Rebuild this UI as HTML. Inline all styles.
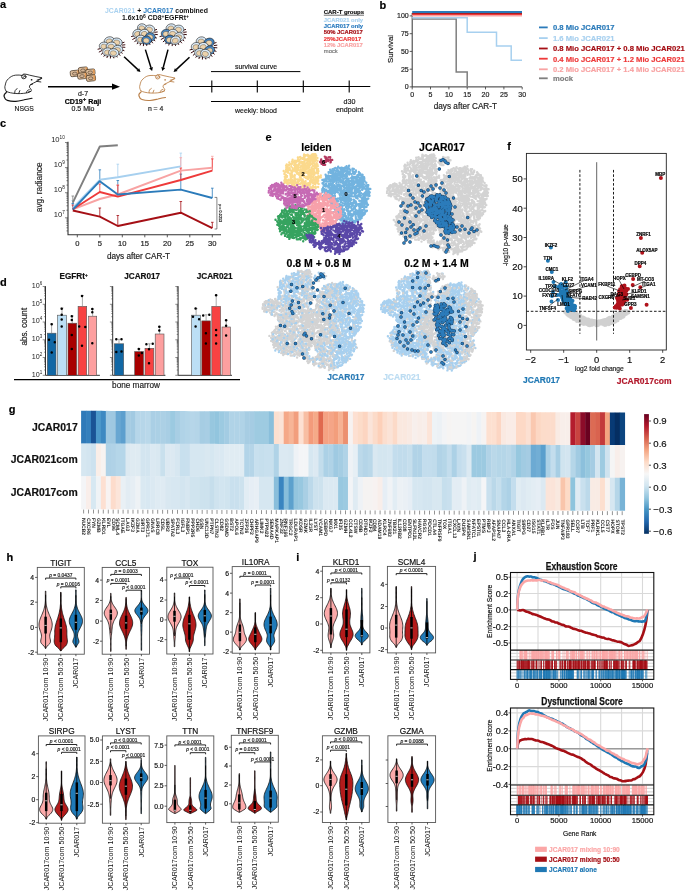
<!DOCTYPE html>
<html><head><meta charset="utf-8"><title>Figure</title>
<style>
html,body{margin:0;padding:0;background:#fff;width:685px;height:891px;overflow:hidden}
svg{display:block;will-change:transform}
text{font-family:"Liberation Sans",sans-serif}
</style></head><body>
<svg width="685" height="891" viewBox="0 0 685 891" font-family="Liberation Sans, sans-serif">
<rect width="685" height="891" fill="#fff"/>
<text x="0.0" y="7.5" font-size="11" font-weight="bold" stroke="#000" stroke-width="0.18" >a</text><g transform="translate(2.4,70.2) scale(1.05)" fill="none" stroke="#111" stroke-width="0.8" stroke-linecap="round" stroke-linejoin="round"><path d="M3.7,20.2 C2.2,18 2.0,16 2.7,14.2 C3.2,11.5 4.0,9.5 5.7,8.2 C7.6,6.2 10,4.9 12.7,4.7 C15,4.5 17,4.6 18.7,5.0 C19.3,4.0 20.2,3.6 21.2,3.7 C22.8,3.8 24.2,4.2 25.7,4.7 C30,5.8 34,6.4 37.7,7.2 C36,8.5 34.5,9.8 32.7,10.7 C30.5,11.8 28.5,12.8 26.7,13.7 C26.0,14.5 25.6,15.3 25.7,16.2 C26.5,17.2 27.5,18.2 27.7,19.2 C26.5,20.8 24.5,21.5 22.7,21.7 C19,22.3 15.5,22.4 12.7,22.2 C9,21.9 6,21.3 3.7,20.2 Z" fill="#fff"/><path d="M3.7,21.2 C2,22.5 1.2,24 1.7,25.2 C2.3,27.3 3.3,28.4 4.7,28.7 C7,29.5 10,29.9 12.7,29.7 C15.5,29.5 18,28.8 20.7,28.2 C23.5,27.5 26,27 28.2,26.7" stroke-width="1.1"/><ellipse cx="20.4" cy="6.3" rx="2.1" ry="1.9"/><path d="M19.6,7.2 C19.8,6.2 20.6,5.6 21.4,6"/><circle cx="27.8" cy="9.1" r="0.8" fill="#111" stroke="none"/><path d="M33,9.4 L37.5,7.9 M32.6,10.6 L36.6,11.2 M22.8,21.4 C23.2,19.6 24.2,18.6 25.6,18.6 M24.6,20.8 L27.2,20.2 M11.8,22 C11.4,20 12.4,18.2 14,17.6 M15.6,22 L16.6,19.4 M26.8,14 L28.8,13.2"/></g><text x="24.2" y="110.6" font-size="6.8" text-anchor="middle" fill="#222" stroke="#222" stroke-width="0.18" >NSGS</text><g transform="translate(74.9,73.4) rotate(-6)"><rect x="-4.6" y="-3" width="9.2" height="6" rx="1.6" fill="#dcbc9a" stroke="#2a1a0a" stroke-width="0.6"/><path d="M2.6,-2.7 H3.5 Q4.3,-2.7 4.3,-1.5 V1.5 Q4.3,2.7 3.5,2.7 H2.8" fill="#e39a55" stroke="none"/><ellipse cx="-0.2" cy="0.2" rx="2.3" ry="1.5" fill="#d2b496" stroke="#2a1a0a" stroke-width="0.45"/></g><g transform="translate(83.1,70.2) rotate(-6)"><rect x="-4.6" y="-3" width="9.2" height="6" rx="1.6" fill="#dcbc9a" stroke="#2a1a0a" stroke-width="0.6"/><path d="M2.6,-2.7 H3.5 Q4.3,-2.7 4.3,-1.5 V1.5 Q4.3,2.7 3.5,2.7 H2.8" fill="#e39a55" stroke="none"/><ellipse cx="-0.2" cy="0.2" rx="2.3" ry="1.5" fill="#d2b496" stroke="#2a1a0a" stroke-width="0.45"/></g><g transform="translate(90.4,72.2) rotate(-6)"><rect x="-4.6" y="-3" width="9.2" height="6" rx="1.6" fill="#dcbc9a" stroke="#2a1a0a" stroke-width="0.6"/><path d="M2.6,-2.7 H3.5 Q4.3,-2.7 4.3,-1.5 V1.5 Q4.3,2.7 3.5,2.7 H2.8" fill="#e39a55" stroke="none"/><ellipse cx="-0.2" cy="0.2" rx="2.3" ry="1.5" fill="#d2b496" stroke="#2a1a0a" stroke-width="0.45"/></g><g transform="translate(82.2,75.9) rotate(-6)"><rect x="-4.6" y="-3" width="9.2" height="6" rx="1.6" fill="#dcbc9a" stroke="#2a1a0a" stroke-width="0.6"/><path d="M2.6,-2.7 H3.5 Q4.3,-2.7 4.3,-1.5 V1.5 Q4.3,2.7 3.5,2.7 H2.8" fill="#e39a55" stroke="none"/><ellipse cx="-0.2" cy="0.2" rx="2.3" ry="1.5" fill="#d2b496" stroke="#2a1a0a" stroke-width="0.45"/></g><g transform="translate(90.9,78.1) rotate(-6)"><rect x="-4.6" y="-3" width="9.2" height="6" rx="1.6" fill="#dcbc9a" stroke="#2a1a0a" stroke-width="0.6"/><path d="M2.6,-2.7 H3.5 Q4.3,-2.7 4.3,-1.5 V1.5 Q4.3,2.7 3.5,2.7 H2.8" fill="#e39a55" stroke="none"/><ellipse cx="-0.2" cy="0.2" rx="2.3" ry="1.5" fill="#d2b496" stroke="#2a1a0a" stroke-width="0.45"/></g><path d="M48,86.7 L115,86.7" stroke="#000" stroke-width="1.6"/><path d="M120,86.7 L112,83.6 L112,89.8 Z" fill="#000"/><text x="83.0" y="96.0" font-size="7.0" text-anchor="middle" fill="#222" stroke="#222" stroke-width="0.18" >d-7</text><text x="83.0" y="103.6" font-size="7.1" font-weight="bold" text-anchor="middle" stroke="#000" stroke-width="0.18" >CD19<tspan dy="-2.8" font-size="6">+</tspan><tspan dy="2.8"> Raji</tspan></text><text x="83.0" y="110.6" font-size="7.0" text-anchor="middle" fill="#222" stroke="#222" stroke-width="0.18" >0.5 Mio</text><text x="105" y="12.7" font-size="6.9" font-weight="bold" fill="#a9d2f0">JCAR021 <tspan fill="#111">+</tspan> <tspan fill="#2a7bbf">JCAR017</tspan> <tspan fill="#111">combined</tspan></text><text x="122" y="20.4" font-size="6.9" font-weight="bold" fill="#111">1.6x10<tspan dy="-2.6" font-size="5">6</tspan><tspan dy="2.6"> CD8</tspan><tspan dy="-2.6" font-size="5">+</tspan><tspan dy="2.6">EGFRt</tspan><tspan dy="-2.6" font-size="5">+</tspan></text><path d="M121.3,49.6L124.0,50.6M120.0,51.6L122.3,53.2M118.1,53.2L120.0,55.4M115.8,54.4L117.1,57.0M113.3,55.1L113.8,57.9M110.6,55.3L110.4,58.1M107.9,54.8L107.0,57.6M105.5,53.9L103.9,56.3M103.4,52.4L101.2,54.4M101.8,50.6L99.2,52.0M100.8,48.5L98.0,49.2M121.6,43.1L124.1,42.3M122.2,45.1L124.9,44.8M122.2,47.1L124.9,47.3" stroke="#3a0c10" stroke-width="1.0" stroke-linecap="round"/><g transform="translate(109.28999999999999,40.92) rotate(-14.625430235503952)"><ellipse rx="5.145" ry="4.1000000000000005" fill="#dcecf9" stroke="#1a1a1a" stroke-width="0.55"/><ellipse cx="-0.3" cy="0.4" rx="3.19" ry="2.46" fill="#ecd2ab" stroke="#333" stroke-width="0.35"/></g><g transform="translate(117.13,42.15) rotate(13.897349477489307)"><ellipse rx="5.145" ry="4.1000000000000005" fill="#d4e8f7" stroke="#1a1a1a" stroke-width="0.55"/><ellipse cx="-0.3" cy="0.4" rx="3.19" ry="2.46" fill="#ecd2ab" stroke="#333" stroke-width="0.35"/></g><g transform="translate(104.39,46.25) rotate(10.550984759064562)"><ellipse rx="5.145" ry="4.1000000000000005" fill="#e0eefa" stroke="#1a1a1a" stroke-width="0.55"/><ellipse cx="-0.3" cy="0.4" rx="3.19" ry="2.46" fill="#ecd2ab" stroke="#333" stroke-width="0.35"/></g><g transform="translate(111.25,46.25) rotate(-9.797238970423132)"><ellipse rx="5.145" ry="4.1000000000000005" fill="#dcecf9" stroke="#1a1a1a" stroke-width="0.55"/><ellipse cx="-0.3" cy="0.4" rx="3.19" ry="2.46" fill="#ecd2ab" stroke="#333" stroke-width="0.35"/></g><g transform="translate(117.62,49.53) rotate(-0.18259651632236285)"><ellipse rx="5.145" ry="4.1000000000000005" fill="#d4e8f7" stroke="#1a1a1a" stroke-width="0.55"/><ellipse cx="-0.3" cy="0.4" rx="3.19" ry="2.46" fill="#ecd2ab" stroke="#333" stroke-width="0.35"/></g><g transform="translate(107.82,51.99) rotate(-2.020357408450476)"><ellipse rx="5.145" ry="4.1000000000000005" fill="#e0eefa" stroke="#1a1a1a" stroke-width="0.55"/><ellipse cx="-0.3" cy="0.4" rx="3.19" ry="2.46" fill="#ecd2ab" stroke="#333" stroke-width="0.35"/></g><g transform="translate(113.7,52.81) rotate(6.063718908910516)"><ellipse rx="5.145" ry="4.1000000000000005" fill="#dcecf9" stroke="#1a1a1a" stroke-width="0.55"/><ellipse cx="-0.3" cy="0.4" rx="3.19" ry="2.46" fill="#ecd2ab" stroke="#333" stroke-width="0.35"/></g><path d="M153.9,36.9L156.5,38.0M152.6,38.9L154.9,40.7M150.8,40.6L152.6,42.9M148.7,41.9L149.9,44.5M146.2,42.6L146.7,45.5M143.6,42.7L143.4,45.7M141.1,42.3L140.2,45.1M138.7,41.3L137.2,43.8M136.7,39.8L134.7,41.8M135.2,38.0L132.7,39.4M134.2,35.8L131.5,36.5M154.2,30.3L156.6,29.5M154.7,32.3L157.3,32.0M154.8,34.3L157.4,34.6" stroke="#3a0c10" stroke-width="1.0" stroke-linecap="round"/><g transform="translate(142.37,28.04) rotate(18.241370875569977)"><ellipse rx="4.935" ry="4.2" fill="#dcecf9" stroke="#1a1a1a" stroke-width="0.55"/><ellipse cx="-0.3" cy="0.4" rx="3.06" ry="2.52" fill="#ecd2ab" stroke="#333" stroke-width="0.35"/></g><g transform="translate(149.89,29.3) rotate(17.913099482373973)"><ellipse rx="4.935" ry="4.2" fill="#dcecf9" stroke="#1a1a1a" stroke-width="0.55"/><ellipse cx="-0.3" cy="0.4" rx="3.06" ry="2.52" fill="#ecd2ab" stroke="#333" stroke-width="0.35"/></g><g transform="translate(137.67,33.5) rotate(-17.73794529092765)"><ellipse rx="4.935" ry="4.2" fill="#d4e8f7" stroke="#1a1a1a" stroke-width="0.55"/><ellipse cx="-0.3" cy="0.4" rx="3.06" ry="2.52" fill="#ecd2ab" stroke="#333" stroke-width="0.35"/></g><g transform="translate(144.25,33.5) rotate(-16.605120193643135)"><ellipse rx="4.935" ry="4.2" fill="#dcecf9" stroke="#1a1a1a" stroke-width="0.55"/><ellipse cx="-0.3" cy="0.4" rx="3.06" ry="2.52" fill="#ecd2ab" stroke="#333" stroke-width="0.35"/></g><g transform="translate(150.36,36.86) rotate(13.419955125177985)"><ellipse rx="4.935" ry="4.2" fill="#4a8ac6" stroke="#1a1a1a" stroke-width="0.55"/><ellipse cx="-0.3" cy="0.4" rx="3.06" ry="2.52" fill="#ecd2ab" stroke="#333" stroke-width="0.35"/></g><g transform="translate(140.96,39.379999999999995) rotate(9.438799562740932)"><ellipse rx="4.935" ry="4.2" fill="#e0eefa" stroke="#1a1a1a" stroke-width="0.55"/><ellipse cx="-0.3" cy="0.4" rx="3.06" ry="2.52" fill="#ecd2ab" stroke="#333" stroke-width="0.35"/></g><g transform="translate(146.6,40.22) rotate(6.7892160576088365)"><ellipse rx="4.935" ry="4.2" fill="#3f82c2" stroke="#1a1a1a" stroke-width="0.55"/><ellipse cx="-0.3" cy="0.4" rx="3.06" ry="2.52" fill="#ecd2ab" stroke="#333" stroke-width="0.35"/></g><path d="M182.8,36.9L185.5,38.0M181.5,38.9L183.9,40.7M179.7,40.6L181.6,42.9M177.5,41.9L178.7,44.5M175.0,42.6L175.5,45.5M172.3,42.7L172.2,45.7M169.7,42.3L168.8,45.1M167.3,41.3L165.8,43.8M165.3,39.8L163.2,41.8M163.7,38.0L161.2,39.4M162.8,35.8L160.0,36.5M183.1,30.3L185.6,29.5M183.7,32.3L186.3,32.0M183.8,34.3L186.4,34.6" stroke="#3a0c10" stroke-width="1.0" stroke-linecap="round"/><g transform="translate(171.08,28.04) rotate(-10.481414916324345)"><ellipse rx="5.04" ry="4.2" fill="#dcecf9" stroke="#1a1a1a" stroke-width="0.55"/><ellipse cx="-0.3" cy="0.4" rx="3.12" ry="2.52" fill="#ecd2ab" stroke="#333" stroke-width="0.35"/></g><g transform="translate(178.76,29.3) rotate(1.7691690118380734)"><ellipse rx="5.04" ry="4.2" fill="#d4e8f7" stroke="#1a1a1a" stroke-width="0.55"/><ellipse cx="-0.3" cy="0.4" rx="3.12" ry="2.52" fill="#ecd2ab" stroke="#333" stroke-width="0.35"/></g><g transform="translate(166.28,33.5) rotate(-5.201793338076829)"><ellipse rx="5.04" ry="4.2" fill="#4a8ac6" stroke="#1a1a1a" stroke-width="0.55"/><ellipse cx="-0.3" cy="0.4" rx="3.12" ry="2.52" fill="#ecd2ab" stroke="#333" stroke-width="0.35"/></g><g transform="translate(173.0,33.5) rotate(4.156801543847777)"><ellipse rx="5.04" ry="4.2" fill="#dcecf9" stroke="#1a1a1a" stroke-width="0.55"/><ellipse cx="-0.3" cy="0.4" rx="3.12" ry="2.52" fill="#ecd2ab" stroke="#333" stroke-width="0.35"/></g><g transform="translate(179.24,36.86) rotate(5.0288121643221615)"><ellipse rx="5.04" ry="4.2" fill="#e0eefa" stroke="#1a1a1a" stroke-width="0.55"/><ellipse cx="-0.3" cy="0.4" rx="3.12" ry="2.52" fill="#ecd2ab" stroke="#333" stroke-width="0.35"/></g><g transform="translate(169.64,39.379999999999995) rotate(-17.378845630407476)"><ellipse rx="5.04" ry="4.2" fill="#3f82c2" stroke="#1a1a1a" stroke-width="0.55"/><ellipse cx="-0.3" cy="0.4" rx="3.12" ry="2.52" fill="#ecd2ab" stroke="#333" stroke-width="0.35"/></g><g transform="translate(175.4,40.22) rotate(-19.473280337805036)"><ellipse rx="5.04" ry="4.2" fill="#dcecf9" stroke="#1a1a1a" stroke-width="0.55"/><ellipse cx="-0.3" cy="0.4" rx="3.12" ry="2.52" fill="#ecd2ab" stroke="#333" stroke-width="0.35"/></g><path d="M213.3,50.2L216.0,51.3M212.0,52.3L214.3,54.1M210.1,54.0L212.0,56.4M207.8,55.3L209.1,58.0M205.3,56.0L205.8,59.0M202.6,56.2L202.4,59.2M199.9,55.7L199.0,58.6M197.5,54.7L195.9,57.3M195.4,53.2L193.2,55.3M193.8,51.3L191.2,52.8M192.8,49.1L190.0,49.9M213.6,43.4L216.1,42.6M214.2,45.5L216.9,45.2M214.2,47.6L216.9,47.8" stroke="#3a0c10" stroke-width="1.0" stroke-linecap="round"/><g transform="translate(201.29,41.16) rotate(-10.558076410502618)"><ellipse rx="5.145" ry="4.3" fill="#dcecf9" stroke="#1a1a1a" stroke-width="0.55"/><ellipse cx="-0.3" cy="0.4" rx="3.19" ry="2.58" fill="#ecd2ab" stroke="#333" stroke-width="0.35"/></g><g transform="translate(209.13,42.45) rotate(-15.873358630771367)"><ellipse rx="5.145" ry="4.3" fill="#3f82c2" stroke="#1a1a1a" stroke-width="0.55"/><ellipse cx="-0.3" cy="0.4" rx="3.19" ry="2.58" fill="#ecd2ab" stroke="#333" stroke-width="0.35"/></g><g transform="translate(196.39,46.75) rotate(-4.1576702955727605)"><ellipse rx="5.145" ry="4.3" fill="#e0eefa" stroke="#1a1a1a" stroke-width="0.55"/><ellipse cx="-0.3" cy="0.4" rx="3.19" ry="2.58" fill="#ecd2ab" stroke="#333" stroke-width="0.35"/></g><g transform="translate(203.25,46.75) rotate(-13.80110916790359)"><ellipse rx="5.145" ry="4.3" fill="#dcecf9" stroke="#1a1a1a" stroke-width="0.55"/><ellipse cx="-0.3" cy="0.4" rx="3.19" ry="2.58" fill="#ecd2ab" stroke="#333" stroke-width="0.35"/></g><g transform="translate(209.62,50.19) rotate(-17.339396172816404)"><ellipse rx="5.145" ry="4.3" fill="#4a8ac6" stroke="#1a1a1a" stroke-width="0.55"/><ellipse cx="-0.3" cy="0.4" rx="3.19" ry="2.58" fill="#ecd2ab" stroke="#333" stroke-width="0.35"/></g><g transform="translate(199.82,52.769999999999996) rotate(-3.9363594205970074)"><ellipse rx="5.145" ry="4.3" fill="#d4e8f7" stroke="#1a1a1a" stroke-width="0.55"/><ellipse cx="-0.3" cy="0.4" rx="3.19" ry="2.58" fill="#ecd2ab" stroke="#333" stroke-width="0.35"/></g><g transform="translate(205.7,53.629999999999995) rotate(16.718201723508756)"><ellipse rx="5.145" ry="4.3" fill="#dcecf9" stroke="#1a1a1a" stroke-width="0.55"/><ellipse cx="-0.3" cy="0.4" rx="3.19" ry="2.58" fill="#ecd2ab" stroke="#333" stroke-width="0.35"/></g><path d="M124.1,56.8 L137.9,69.6" stroke="#000" stroke-width="1.5"/><path d="M140.5,72.1 L136.5,71.1 L139.2,68.2 Z" fill="#000"/><path d="M145.4,49.6 L151.0,67.7" stroke="#000" stroke-width="1.5"/><path d="M152.1,71.1 L149.1,68.3 L152.9,67.1 Z" fill="#000"/><path d="M168.0,49.6 L163.2,67.6" stroke="#000" stroke-width="1.5"/><path d="M162.3,71.1 L161.3,67.1 L165.2,68.1 Z" fill="#000"/><path d="M189.5,57.2 L176.2,69.6" stroke="#000" stroke-width="1.5"/><path d="M173.6,72.1 L174.9,68.2 L177.6,71.1 Z" fill="#000"/><g transform="translate(137.3,70.8) scale(1.0)" fill="none" stroke="#b97f48" stroke-width="0.85" stroke-linecap="round" stroke-linejoin="round"><path d="M3.7,20.2 C2.2,18 2.0,16 2.7,14.2 C3.2,11.5 4.0,9.5 5.7,8.2 C7.6,6.2 10,4.9 12.7,4.7 C15,4.5 17,4.6 18.7,5.0 C19.3,4.0 20.2,3.6 21.2,3.7 C22.8,3.8 24.2,4.2 25.7,4.7 C30,5.8 34,6.4 37.7,7.2 C36,8.5 34.5,9.8 32.7,10.7 C30.5,11.8 28.5,12.8 26.7,13.7 C26.0,14.5 25.6,15.3 25.7,16.2 C26.5,17.2 27.5,18.2 27.7,19.2 C26.5,20.8 24.5,21.5 22.7,21.7 C19,22.3 15.5,22.4 12.7,22.2 C9,21.9 6,21.3 3.7,20.2 Z" fill="#fff"/><path d="M3.7,21.2 C2,22.5 1.2,24 1.7,25.2 C2.3,27.3 3.3,28.4 4.7,28.7 C7,29.5 10,29.9 12.7,29.7 C15.5,29.5 18,28.8 20.7,28.2 C23.5,27.5 26,27 28.2,26.7" stroke-width="1.1"/><ellipse cx="20.4" cy="6.3" rx="2.1" ry="1.9"/><path d="M19.6,7.2 C19.8,6.2 20.6,5.6 21.4,6"/><circle cx="27.8" cy="9.1" r="0.8" fill="#b97f48" stroke="none"/><path d="M33,9.4 L37.5,7.9 M32.6,10.6 L36.6,11.2 M22.8,21.4 C23.2,19.6 24.2,18.6 25.6,18.6 M24.6,20.8 L27.2,20.2 M11.8,22 C11.4,20 12.4,18.2 14,17.6 M15.6,22 L16.6,19.4 M26.8,14 L28.8,13.2"/></g><text x="155.6" y="111.0" font-size="6.85" text-anchor="middle" fill="#222" stroke="#222" stroke-width="0.18" >n = 4</text><path d="M189.3,86.5 L370.3,86.5" stroke="#000" stroke-width="1.1"/><path d="M211.8,80.5 L211.8,92.6" stroke="#000" stroke-width="1.1"/><path d="M257.3,80.5 L257.3,92.6" stroke="#000" stroke-width="1.1"/><path d="M303.3,80.5 L303.3,92.6" stroke="#000" stroke-width="1.1"/><path d="M349.2,80.5 L349.2,92.6" stroke="#000" stroke-width="1.1"/><path d="M211,71.6 L300.4,71.6 M211,101.5 L300.4,101.5" stroke="#000" stroke-width="1"/><text x="256.0" y="68.7" font-size="6.9" text-anchor="middle" fill="#222" stroke="#222" stroke-width="0.18" >survival curve</text><text x="256.0" y="112.6" font-size="6.9" text-anchor="middle" fill="#222" stroke="#222" stroke-width="0.18" >weekly: blood</text><text x="349.5" y="104.4" font-size="7.1" text-anchor="middle" fill="#222" stroke="#222" stroke-width="0.18" >d30</text><text x="349.5" y="112.3" font-size="7.1" text-anchor="middle" fill="#222" stroke="#222" stroke-width="0.18" >endpoint</text><text x="323.8" y="14.2" font-size="5.95" font-weight="bold" fill="#111" stroke="#111" stroke-width="0.18" >CAR-T groups</text><path d="M323.8,15.2 L364,15.2" stroke="#111" stroke-width="0.6"/><text x="323.8" y="21.6" font-size="5.85" font-weight="bold" fill="#a9d2f0" stroke="#a9d2f0" stroke-width="0.18" >JCAR021 only</text><text x="323.8" y="27.9" font-size="5.85" font-weight="bold" fill="#2a7bbf" stroke="#2a7bbf" stroke-width="0.18" >JCAR017 only</text><text x="323.8" y="34.2" font-size="5.85" font-weight="bold" fill="#a50f15" stroke="#a50f15" stroke-width="0.18" >50% JCAR017</text><text x="323.8" y="40.5" font-size="5.85" font-weight="bold" fill="#ee3a3a" stroke="#ee3a3a" stroke-width="0.18" >25%JCAR017</text><text x="323.8" y="46.8" font-size="5.85" font-weight="bold" fill="#f8a3a3" stroke="#f8a3a3" stroke-width="0.18" >12% JCAR017</text><text x="323.8" y="53.1" font-size="5.85" fill="#777" stroke="#777" stroke-width="0.18" >mock</text><text x="379.5" y="8.8" font-size="11" font-weight="bold" stroke="#000" stroke-width="0.18" >b</text><path d="M412.2,13 L412.2,86.9 L522,86.9" fill="none" stroke="#333" stroke-width="1"/><path d="M409.7,86.9 L412.2,86.9" stroke="#333" stroke-width="0.8"/><text x="408.7" y="89.3" font-size="7.0" text-anchor="end" fill="#222" stroke="#222" stroke-width="0.18" >0</text><path d="M409.7,69.2 L412.2,69.2" stroke="#333" stroke-width="0.8"/><text x="408.7" y="71.6" font-size="7.0" text-anchor="end" fill="#222" stroke="#222" stroke-width="0.18" >25</text><path d="M409.7,51.4 L412.2,51.4" stroke="#333" stroke-width="0.8"/><text x="408.7" y="53.8" font-size="7.0" text-anchor="end" fill="#222" stroke="#222" stroke-width="0.18" >50</text><path d="M409.7,33.7 L412.2,33.7" stroke="#333" stroke-width="0.8"/><text x="408.7" y="36.1" font-size="7.0" text-anchor="end" fill="#222" stroke="#222" stroke-width="0.18" >75</text><path d="M409.7,15.9 L412.2,15.9" stroke="#333" stroke-width="0.8"/><text x="408.7" y="18.3" font-size="7.0" text-anchor="end" fill="#222" stroke="#222" stroke-width="0.18" >100</text><path d="M412.2,86.9 L412.2,89.4" stroke="#333" stroke-width="0.8"/><text x="412.2" y="97.2" font-size="7.0" text-anchor="middle" fill="#222" stroke="#222" stroke-width="0.18" >0</text><path d="M430.5,86.9 L430.5,89.4" stroke="#333" stroke-width="0.8"/><text x="430.5" y="97.2" font-size="7.0" text-anchor="middle" fill="#222" stroke="#222" stroke-width="0.18" >5</text><path d="M448.9,86.9 L448.9,89.4" stroke="#333" stroke-width="0.8"/><text x="448.9" y="97.2" font-size="7.0" text-anchor="middle" fill="#222" stroke="#222" stroke-width="0.18" >10</text><path d="M467.2,86.9 L467.2,89.4" stroke="#333" stroke-width="0.8"/><text x="467.2" y="97.2" font-size="7.0" text-anchor="middle" fill="#222" stroke="#222" stroke-width="0.18" >15</text><path d="M485.5,86.9 L485.5,89.4" stroke="#333" stroke-width="0.8"/><text x="485.5" y="97.2" font-size="7.0" text-anchor="middle" fill="#222" stroke="#222" stroke-width="0.18" >20</text><path d="M503.9,86.9 L503.9,89.4" stroke="#333" stroke-width="0.8"/><text x="503.9" y="97.2" font-size="7.0" text-anchor="middle" fill="#222" stroke="#222" stroke-width="0.18" >25</text><path d="M522.2,86.9 L522.2,89.4" stroke="#333" stroke-width="0.8"/><text x="522.2" y="97.2" font-size="7.0" text-anchor="middle" fill="#222" stroke="#222" stroke-width="0.18" >30</text><text x="465.4" y="108.5" font-size="8.2" text-anchor="middle" fill="#222" stroke="#222" stroke-width="0.18" >days after CAR-T</text><text x="0.0" y="0.0" font-size="7.9" text-anchor="middle" fill="#222" stroke="#222" stroke-width="0.18" transform="translate(393.2,49) rotate(-90)">Survival</text><path d="M412.2,19.1 H456.2 V72.0 H467.2 V86.9" fill="none" stroke="#7f7f7f" stroke-width="1.5"/><path d="M412.2,17.7 H467.2 V32.2 H496.5 V46.0 H511.2 V60.3 H522" fill="none" stroke="#a7d0ef" stroke-width="1.5"/><path d="M412.2,15.6 H522" stroke="#f8a3a3" stroke-width="1.6"/><path d="M412.2,14.3 H522" stroke="#ee3a3a" stroke-width="1.4"/><path d="M412.2,13.4 H522" stroke="#a50f15" stroke-width="1"/><path d="M412.2,12 H522" stroke="#2b7bba" stroke-width="1.8"/><path d="M539,27.4 H547.7" stroke="#2b7bba" stroke-width="1.8"/><text x="553.0" y="30.2" font-size="7.65" font-weight="bold" fill="#2b7bba" stroke="#2b7bba" stroke-width="0.18" >0.8 Mio JCAR017</text><path d="M539,38.1 H547.7" stroke="#a7d0ef" stroke-width="1.8"/><text x="553.0" y="40.9" font-size="7.65" font-weight="bold" fill="#a7d0ef" stroke="#a7d0ef" stroke-width="0.18" >1.6 Mio JCAR021</text><path d="M539,48.5 H547.7" stroke="#a50f15" stroke-width="1.8"/><text x="553.0" y="51.3" font-size="7.65" font-weight="bold" fill="#a50f15" stroke="#a50f15" stroke-width="0.18" >0.8 Mio JCAR017 + 0.8 Mio JCAR021</text><path d="M539,58.7 H547.7" stroke="#ee3a3a" stroke-width="1.8"/><text x="553.0" y="61.5" font-size="7.65" font-weight="bold" fill="#ee3a3a" stroke="#ee3a3a" stroke-width="0.18" >0.4 Mio JCAR017 + 1.2 Mio JCAR021</text><path d="M539,69.3 H547.7" stroke="#f8a3a3" stroke-width="1.8"/><text x="553.0" y="72.1" font-size="7.65" font-weight="bold" fill="#f8a3a3" stroke="#f8a3a3" stroke-width="0.18" >0.2 Mio JCAR017 + 1.4 Mio JCAR021</text><path d="M539,78.3 H547.7" stroke="#7f7f7f" stroke-width="1.8"/><text x="553.0" y="81.1" font-size="7.65" font-weight="bold" fill="#7f7f7f" stroke="#7f7f7f" stroke-width="0.18" >mock</text><text x="0.0" y="126.6" font-size="11" font-weight="bold" stroke="#000" stroke-width="0.18" >c</text><path d="M68.0,141.8 L68.0,234.8 L221,234.8" fill="none" stroke="#333" stroke-width="1.1"/><path d="M65.0,142.5H68.0M65.0,167.6H68.0M65.0,192.7H68.0M65.0,217.8H68.0M66.4,160.0H68.0M66.4,155.6H68.0M66.4,152.5H68.0M66.4,150.1H68.0M66.4,148.1H68.0M66.4,146.4H68.0M66.4,144.9H68.0M66.4,143.6H68.0M66.4,185.1H68.0M66.4,180.7H68.0M66.4,177.6H68.0M66.4,175.2H68.0M66.4,173.2H68.0M66.4,171.5H68.0M66.4,170.0H68.0M66.4,168.7H68.0M66.4,210.2H68.0M66.4,205.8H68.0M66.4,202.7H68.0M66.4,200.3H68.0M66.4,198.3H68.0M66.4,196.6H68.0M66.4,195.1H68.0M66.4,193.8H68.0M66.4,230.9H68.0M66.4,227.8H68.0M66.4,225.4H68.0M66.4,223.4H68.0M66.4,221.7H68.0M66.4,220.2H68.0M66.4,218.9H68.0" stroke="#333" stroke-width="0.6"/><text x="64.8" y="141.9" font-size="7.6" text-anchor="end" fill="#222">10<tspan dy="-3.0" font-size="4.7">10</tspan></text><text x="64.8" y="167.0" font-size="7.6" text-anchor="end" fill="#222">10<tspan dy="-3.0" font-size="4.7">9</tspan></text><text x="64.8" y="192.1" font-size="7.6" text-anchor="end" fill="#222">10<tspan dy="-3.0" font-size="4.7">8</tspan></text><text x="64.8" y="217.2" font-size="7.6" text-anchor="end" fill="#222">10<tspan dy="-3.0" font-size="4.7">7</tspan></text><path d="M77.3,234.8 V237.3" stroke="#333" stroke-width="0.8"/><text x="77.3" y="245.8" font-size="7.6" text-anchor="middle" fill="#222" stroke="#222" stroke-width="0.18" >0</text><path d="M99.8,234.8 V237.3" stroke="#333" stroke-width="0.8"/><text x="99.8" y="245.8" font-size="7.6" text-anchor="middle" fill="#222" stroke="#222" stroke-width="0.18" >5</text><path d="M122.3,234.8 V237.3" stroke="#333" stroke-width="0.8"/><text x="122.3" y="245.8" font-size="7.6" text-anchor="middle" fill="#222" stroke="#222" stroke-width="0.18" >10</text><path d="M144.8,234.8 V237.3" stroke="#333" stroke-width="0.8"/><text x="144.8" y="245.8" font-size="7.6" text-anchor="middle" fill="#222" stroke="#222" stroke-width="0.18" >15</text><path d="M167.3,234.8 V237.3" stroke="#333" stroke-width="0.8"/><text x="167.3" y="245.8" font-size="7.6" text-anchor="middle" fill="#222" stroke="#222" stroke-width="0.18" >20</text><path d="M189.8,234.8 V237.3" stroke="#333" stroke-width="0.8"/><text x="189.8" y="245.8" font-size="7.6" text-anchor="middle" fill="#222" stroke="#222" stroke-width="0.18" >25</text><path d="M212.3,234.8 V237.3" stroke="#333" stroke-width="0.8"/><text x="212.3" y="245.8" font-size="7.6" text-anchor="middle" fill="#222" stroke="#222" stroke-width="0.18" >30</text><text x="138.5" y="259.3" font-size="8.2" text-anchor="middle" fill="#222" stroke="#222" stroke-width="0.18" >days after CAR-T</text><text x="0.0" y="0.0" font-size="8.3" text-anchor="middle" fill="#222" stroke="#222" stroke-width="0.18" transform="translate(41.8,187.3) rotate(-90)">avg. radiance</text><path d="M72.8,208.0 V200.5 M71.5,200.5 H74.1" stroke="#a7d0ef" stroke-width="0.8" fill="none"/><path d="M117.8,177.0 V164.2 M116.5,164.2 H119.1" stroke="#a7d0ef" stroke-width="0.8" fill="none"/><path d="M180.8,166.4 V153.1 M179.5,153.1 H182.1" stroke="#a7d0ef" stroke-width="0.8" fill="none"/><path d="M72.8,209.6 V203.5 M71.5,203.5 H74.1" stroke="#2b7bba" stroke-width="0.8" fill="none"/><path d="M99.8,181.2 V169.8 M98.5,169.8 H101.1" stroke="#2b7bba" stroke-width="0.8" fill="none"/><path d="M117.8,194.5 V180.5 M116.5,180.5 H119.1" stroke="#2b7bba" stroke-width="0.8" fill="none"/><path d="M180.8,189.6 V174.1 M179.5,174.1 H182.1" stroke="#2b7bba" stroke-width="0.8" fill="none"/><path d="M212.3,198.0 V188.2 M211.0,188.2 H213.6" stroke="#2b7bba" stroke-width="0.8" fill="none"/><path d="M180.8,170.6 V157.7 M179.5,157.7 H182.1" stroke="#f8a3a3" stroke-width="0.8" fill="none"/><path d="M212.3,167.7 V156.3 M211.0,156.3 H213.6" stroke="#f8a3a3" stroke-width="0.8" fill="none"/><path d="M117.8,194.5 V185.0 M116.5,185.0 H119.1" stroke="#f8a3a3" stroke-width="0.8" fill="none"/><path d="M72.8,209.3 V205.0 M71.5,205.0 H74.1" stroke="#ee3a3a" stroke-width="0.8" fill="none"/><path d="M99.8,192.0 V184.0 M98.5,184.0 H101.1" stroke="#ee3a3a" stroke-width="0.8" fill="none"/><path d="M117.8,196.6 V185.2 M116.5,185.2 H119.1" stroke="#ee3a3a" stroke-width="0.8" fill="none"/><path d="M180.8,180.0 V168.0 M179.5,168.0 H182.1" stroke="#ee3a3a" stroke-width="0.8" fill="none"/><path d="M212.3,170.6 V158.9 M211.0,158.9 H213.6" stroke="#ee3a3a" stroke-width="0.8" fill="none"/><path d="M99.8,216.6 V208.0 M98.5,208.0 H101.1" stroke="#a50f15" stroke-width="0.8" fill="none"/><path d="M117.8,226.0 V215.5 M116.5,215.5 H119.1" stroke="#a50f15" stroke-width="0.8" fill="none"/><path d="M180.8,212.7 V201.5 M179.5,201.5 H182.1" stroke="#a50f15" stroke-width="0.8" fill="none"/><path d="M212.3,228.1 V222.3 M211.0,222.3 H213.6" stroke="#a50f15" stroke-width="0.8" fill="none"/><path d="M72.8,202.6 V196.0 M71.5,196.0 H74.1" stroke="#7f7f7f" stroke-width="0.8" fill="none"/><path d="M72.8,202.6 L99.8,146.5 L117.8,145.2" stroke="#7f7f7f" stroke-width="1.9" fill="none" stroke-linejoin="round"/><path d="M72.8,208.0 L99.8,179.8 L117.8,177.3 L180.8,166.4" stroke="#a7d0ef" stroke-width="1.9" fill="none" stroke-linejoin="round"/><path d="M72.8,209.3 L99.8,199.0 L117.8,194.5 L180.8,170.6 L212.3,167.7" stroke="#f8a3a3" stroke-width="1.9" fill="none" stroke-linejoin="round"/><path d="M72.8,209.3 L99.8,192.0 L117.8,196.6 L180.8,180.0 L212.3,170.6" stroke="#ee3a3a" stroke-width="1.9" fill="none" stroke-linejoin="round"/><path d="M72.8,209.6 L99.8,181.2 L117.8,194.5 L180.8,189.6 L212.3,198.0" stroke="#2b7bba" stroke-width="1.9" fill="none" stroke-linejoin="round"/><path d="M72.8,210.5 L99.8,216.6 L117.8,226.0 L180.8,212.7 L212.3,228.1" stroke="#a50f15" stroke-width="1.9" fill="none" stroke-linejoin="round"/><path d="M214.6,197.4 H216.9 V229 H214.6" stroke="#333" stroke-width="0.6" fill="none"/><text x="0.0" y="0.0" font-size="3.8" text-anchor="middle" fill="#222" stroke="#222" stroke-width="0.18" transform="translate(219.4,213.2) rotate(90)">p = 0.0213</text><text x="0.0" y="286.0" font-size="11" font-weight="bold" stroke="#000" stroke-width="0.18" >d</text><text x="73.6" y="279.4" font-size="8.2" font-weight="bold" text-anchor="middle" fill="#111" stroke="#111" stroke-width="0.18" >EGFRt<tspan dy="-2.5" font-size="4.5">+</tspan></text><path d="M45.5,286.2 V375.3 H99.9" fill="none" stroke="#333" stroke-width="1"/><path d="M42.7,375.3H45.5M42.7,357.5H45.5M42.7,339.8H45.5M42.7,322.0H45.5M42.7,304.3H45.5M42.7,286.5H45.5M44.1,370.0H45.5M44.1,366.8H45.5M44.1,364.6H45.5M44.1,362.9H45.5M44.1,361.5H45.5M44.1,360.3H45.5M44.1,359.3H45.5M44.1,358.4H45.5M44.1,352.2H45.5M44.1,349.1H45.5M44.1,346.8H45.5M44.1,345.1H45.5M44.1,343.7H45.5M44.1,342.5H45.5M44.1,341.5H45.5M44.1,340.6H45.5M44.1,334.4H45.5M44.1,331.3H45.5M44.1,329.1H45.5M44.1,327.4H45.5M44.1,326.0H45.5M44.1,324.8H45.5M44.1,323.7H45.5M44.1,322.8H45.5M44.1,316.7H45.5M44.1,313.5H45.5M44.1,311.3H45.5M44.1,309.6H45.5M44.1,308.2H45.5M44.1,307.0H45.5M44.1,306.0H45.5M44.1,305.1H45.5M44.1,298.9H45.5M44.1,295.8H45.5M44.1,293.6H45.5M44.1,291.8H45.5M44.1,290.4H45.5M44.1,289.3H45.5M44.1,288.2H45.5M44.1,287.3H45.5" stroke="#333" stroke-width="0.55"/><text x="42.3" y="376.6" font-size="7.2" text-anchor="end" fill="#222">10<tspan dy="-2.9" font-size="4.5">1</tspan></text><text x="42.3" y="358.8" font-size="7.2" text-anchor="end" fill="#222">10<tspan dy="-2.9" font-size="4.5">2</tspan></text><text x="42.3" y="341.1" font-size="7.2" text-anchor="end" fill="#222">10<tspan dy="-2.9" font-size="4.5">3</tspan></text><text x="42.3" y="323.3" font-size="7.2" text-anchor="end" fill="#222">10<tspan dy="-2.9" font-size="4.5">4</tspan></text><text x="42.3" y="305.6" font-size="7.2" text-anchor="end" fill="#222">10<tspan dy="-2.9" font-size="4.5">5</tspan></text><text x="42.3" y="287.8" font-size="7.2" text-anchor="end" fill="#222">10<tspan dy="-2.9" font-size="4.5">6</tspan></text><rect x="47.3" y="333.2" width="8.7" height="42.1" fill="#1268a5" stroke="#555" stroke-width="0.6"/><path d="M51.6,333.2 V324.0 M50.1,324.0 H53.1" stroke="#888" stroke-width="0.7"/><path d="M49 339.7h0m5.8 2.6h0m-3.1 10.2h0m0-28.3h0" stroke="#000" stroke-width="2.50" stroke-linecap="round" fill="none"/><rect x="57.5" y="315.2" width="9.1" height="60.1" fill="#bcdff5" stroke="#555" stroke-width="0.6"/><path d="M62.0,315.2 V308.0 M60.5,308.0 H63.5" stroke="#888" stroke-width="0.7"/><path d="M61.7 308.7h0m0 6.1h0m0 4.8h0m0 7h0" stroke="#000" stroke-width="2.50" stroke-linecap="round" fill="none"/><rect x="68.0" y="323.2" width="8.7" height="52.1" fill="#a80000" stroke="#555" stroke-width="0.6"/><path d="M72.3,323.2 V316.0 M70.8,316.0 H73.8" stroke="#888" stroke-width="0.7"/><path d="M71.8 316.2h0m0 3.9h0m0 14.9h0m0 14h0" stroke="#000" stroke-width="2.50" stroke-linecap="round" fill="none"/><rect x="78.1" y="306.4" width="8.6" height="68.9" fill="#f84242" stroke="#555" stroke-width="0.6"/><path d="M82.4,306.4 V295.5 M80.9,295.5 H83.9" stroke="#888" stroke-width="0.7"/><path d="M82 295.9h0m-2.8 30.7h0m6.1 .5h0m-3.3 18.7h0" stroke="#000" stroke-width="2.50" stroke-linecap="round" fill="none"/><rect x="88.5" y="316.2" width="8.2" height="59.1" fill="#fd9f9f" stroke="#555" stroke-width="0.6"/><path d="M92.6,316.2 V309.0 M91.1,309.0 H94.1" stroke="#888" stroke-width="0.7"/><path d="M92.3 309h0m0 3.2h0m0 31h0" stroke="#000" stroke-width="2.50" stroke-linecap="round" fill="none"/><text x="142.2" y="279.4" font-size="8.2" font-weight="bold" text-anchor="middle" fill="#111" stroke="#111" stroke-width="0.18" >JCAR017</text><path d="M112.7,286.2 V375.3 H165.4" fill="none" stroke="#333" stroke-width="1"/><path d="M109.9,375.3H112.7M109.9,357.5H112.7M109.9,339.8H112.7M109.9,322.0H112.7M109.9,304.3H112.7M109.9,286.5H112.7M111.3,370.0H112.7M111.3,366.8H112.7M111.3,364.6H112.7M111.3,362.9H112.7M111.3,361.5H112.7M111.3,360.3H112.7M111.3,359.3H112.7M111.3,358.4H112.7M111.3,352.2H112.7M111.3,349.1H112.7M111.3,346.8H112.7M111.3,345.1H112.7M111.3,343.7H112.7M111.3,342.5H112.7M111.3,341.5H112.7M111.3,340.6H112.7M111.3,334.4H112.7M111.3,331.3H112.7M111.3,329.1H112.7M111.3,327.4H112.7M111.3,326.0H112.7M111.3,324.8H112.7M111.3,323.7H112.7M111.3,322.8H112.7M111.3,316.7H112.7M111.3,313.5H112.7M111.3,311.3H112.7M111.3,309.6H112.7M111.3,308.2H112.7M111.3,307.0H112.7M111.3,306.0H112.7M111.3,305.1H112.7M111.3,298.9H112.7M111.3,295.8H112.7M111.3,293.6H112.7M111.3,291.8H112.7M111.3,290.4H112.7M111.3,289.3H112.7M111.3,288.2H112.7M111.3,287.3H112.7" stroke="#333" stroke-width="0.55"/><rect x="114.3" y="343.8" width="9.4" height="31.5" fill="#1268a5" stroke="#555" stroke-width="0.6"/><path d="M119.0,343.8 V339.3 M117.5,339.3 H120.5" stroke="#888" stroke-width="0.7"/><path d="M116.3 339.3h0m5.2 0h0m-5.2 12.7h0m5.2-.6h0" stroke="#000" stroke-width="2.50" stroke-linecap="round" fill="none"/><rect x="134.7" y="351.6" width="8.8" height="23.7" fill="#a80000" stroke="#555" stroke-width="0.6"/><path d="M139.1,351.6 V348.9 M137.6,348.9 H140.6" stroke="#888" stroke-width="0.7"/><path d="M138.8 348.9h0m3.1 4.1h0m-3.1 2.4h0" stroke="#000" stroke-width="2.50" stroke-linecap="round" fill="none"/><rect x="145.0" y="348.3" width="8.8" height="27.0" fill="#f84242" stroke="#555" stroke-width="0.6"/><path d="M149.4,348.3 V343.8 M147.9,343.8 H150.9" stroke="#888" stroke-width="0.7"/><path d="M146.4 344.2h0m6.3-.4h0m-3.7 5.5h0m0 13.9h0" stroke="#000" stroke-width="2.50" stroke-linecap="round" fill="none"/><rect x="155.2" y="334.0" width="8.8" height="41.3" fill="#fd9f9f" stroke="#555" stroke-width="0.6"/><path d="M159.6,334.0 V326.8 M158.1,326.8 H161.1" stroke="#888" stroke-width="0.7"/><path d="M159.3 326.8h0m0 3.7h0" stroke="#000" stroke-width="2.50" stroke-linecap="round" fill="none"/><text x="214.7" y="279.4" font-size="8.2" font-weight="bold" text-anchor="middle" fill="#111" stroke="#111" stroke-width="0.18" >JCAR021</text><path d="M178.1,286.2 V375.3 H232.0" fill="none" stroke="#333" stroke-width="1"/><path d="M175.29999999999998,375.3H178.1M175.29999999999998,357.5H178.1M175.29999999999998,339.8H178.1M175.29999999999998,322.0H178.1M175.29999999999998,304.3H178.1M175.29999999999998,286.5H178.1M176.7,370.0H178.1M176.7,366.8H178.1M176.7,364.6H178.1M176.7,362.9H178.1M176.7,361.5H178.1M176.7,360.3H178.1M176.7,359.3H178.1M176.7,358.4H178.1M176.7,352.2H178.1M176.7,349.1H178.1M176.7,346.8H178.1M176.7,345.1H178.1M176.7,343.7H178.1M176.7,342.5H178.1M176.7,341.5H178.1M176.7,340.6H178.1M176.7,334.4H178.1M176.7,331.3H178.1M176.7,329.1H178.1M176.7,327.4H178.1M176.7,326.0H178.1M176.7,324.8H178.1M176.7,323.7H178.1M176.7,322.8H178.1M176.7,316.7H178.1M176.7,313.5H178.1M176.7,311.3H178.1M176.7,309.6H178.1M176.7,308.2H178.1M176.7,307.0H178.1M176.7,306.0H178.1M176.7,305.1H178.1M176.7,298.9H178.1M176.7,295.8H178.1M176.7,293.6H178.1M176.7,291.8H178.1M176.7,290.4H178.1M176.7,289.3H178.1M176.7,288.2H178.1M176.7,287.3H178.1" stroke="#333" stroke-width="0.55"/><rect x="191.6" y="315.2" width="8.9" height="60.1" fill="#bcdff5" stroke="#555" stroke-width="0.6"/><path d="M196.1,315.2 V308.6 M194.6,308.6 H197.6" stroke="#888" stroke-width="0.7"/><path d="M195.6 308.6h0m-2.6 8.2h0m6.1 2.5h0m-3.5 7.1h0" stroke="#000" stroke-width="2.50" stroke-linecap="round" fill="none"/><rect x="201.8" y="320.9" width="8.6" height="54.4" fill="#a80000" stroke="#555" stroke-width="0.6"/><path d="M206.1,320.9 V314.8 M204.6,314.8 H207.6" stroke="#888" stroke-width="0.7"/><path d="M203.2 315.6h0m6.1-.8h0m-3.4 18.4h0m0 10.2h0" stroke="#000" stroke-width="2.50" stroke-linecap="round" fill="none"/><rect x="211.8" y="306.4" width="8.8" height="68.9" fill="#f84242" stroke="#555" stroke-width="0.6"/><path d="M216.2,306.4 V295.2 M214.7,295.2 H217.7" stroke="#888" stroke-width="0.7"/><path d="M216.1 295.2h0m0 34.9h0m0 5.1h0m0 8.2h0" stroke="#000" stroke-width="2.50" stroke-linecap="round" fill="none"/><rect x="222.0" y="327.0" width="8.4" height="48.3" fill="#fd9f9f" stroke="#555" stroke-width="0.6"/><path d="M226.2,327.0 V320.3 M224.7,320.3 H227.7" stroke="#888" stroke-width="0.7"/><path d="M226.1 320.3h0m0 5.5h0m0 9.8h0" stroke="#000" stroke-width="2.50" stroke-linecap="round" fill="none"/><text x="0.0" y="0.0" font-size="8.2" text-anchor="middle" fill="#222" stroke="#222" stroke-width="0.18" transform="translate(27.4,326.7) rotate(-90)">abs. count</text><path d="M14,379.6 H240" stroke="#000" stroke-width="1.1"/><text x="136.0" y="388.3" font-size="8.2" text-anchor="middle" fill="#222" stroke="#222" stroke-width="0.18" >bone marrow</text><text x="265.6" y="141.0" font-size="11" font-weight="bold" stroke="#000" stroke-width="0.18" >e</text><text x="316.5" y="151.0" font-size="10.5" font-weight="bold" text-anchor="middle" stroke="#000" stroke-width="0.18" >leiden</text><text x="442.0" y="151.2" font-size="10.45" font-weight="bold" text-anchor="middle" stroke="#000" stroke-width="0.18" >JCAR017</text><text x="318.8" y="266.9" font-size="10.5" font-weight="bold" text-anchor="middle" stroke="#000" stroke-width="0.18" >0.8 M + 0.8 M</text><text x="436.4" y="266.9" font-size="10.5" font-weight="bold" text-anchor="middle" stroke="#000" stroke-width="0.18" >0.2 M + 1.4 M</text><text x="345.9" y="379.7" font-size="8.5" font-weight="bold" text-anchor="middle" fill="#2a7ab5" stroke="#2a7ab5" stroke-width="0.18" >JCAR017</text><text x="401.8" y="379.7" font-size="8.5" font-weight="bold" text-anchor="middle" fill="#bcdcf2" stroke="#bcdcf2" stroke-width="0.18" >JCAR021</text><path d="M349.1 165.8h0m-.8 1.6h0m-1.7-1.1h0m-.4 1.2h0m-1.1-.1h0m-3.8 .4h0m-3.1-1h0m-2.8 1.2h0m-6.8 4.1h0m.1 .6h0m1.4-2.9h0m.1 2.3h0m.4-.3h0m0-.6h0m.3 1.7h0m.6-2.2h0m.1 2h0m.6 1h0m.3-4.4h0m.4 2h0m.3 1.3h0m.4-3.4h0m.5-.6h0m0 .5h0m.3 1.4h0m.5 3.3h0m.7-1h0m.3 .5h0m.7-2.5h0m.3-1.5h0m.4-.8h0m0 .3h0m.1-.6h0m.1 5.1h0m.3-3.1h0m.1 3.1h0m.2-2.1h0m.1 .3h0m.3-.1h0m.2 1.1h0m.8 1.3h0m.3-5.5h0m.5 3.7h0m.2-.7h0m.2-2.3h0m.1-.3h0m.1 1.7h0m0-.9h0m.1 4.2h0m.1-1.3h0m.1-1.2h0m.8 .5h0m.1-.3h0m.1-3.4h0m0 1.3h0m.7 .9h0m.2 3.3h0m.1-5.2h0m.3 4.2h0m.1-2.2h0m.7 1.2h0m.5-3.2h0m0 0h0m0 1.9h0m1.1 3.7h0m.3-5.6h0m.1 3.2h0m0 .2h0m.3-.5h0m.3-.2h0m.3-1.8h0m.3 3h0m.2-1.8h0m.4 2.2h0m0 .4h0m.7-1h0m.5-3.5h0m.4 4.2h0m.1-.8h0m.4-2h0m2.3-1.1h0m.1 1.2h0m.1 1.5h0m.5 1.6h0m0-.8h0m.2-2.9h0m.4-.4h0m.1 4.7h0m.2-1.3h0m.6 1.4h0m.1-1.8h0m.3 .4h0m.7-.6h0m.1-1.3h0m2.9 1.5h0m.6 .9h0m.4 .4h0m.4 .3h0m4.1 4.6h0m-.1 1.4h0m-.1-2.3h0m-1.1 1.9h0m-.4-4.3h0m-.1 1.3h0m-.1 1.7h0m-.1-3.1h0m-.1 1.4h0m-.1-.8h0m-.2 .6h0m0-.6h0m-.2 4.2h0m-.3-4.7h0m-.1-.2h0m-.2 2.5h0m-.4 2.6h0m-.1-2h0m-.3 .7h0m-.2 .7h0m-.5-4.5h0m-.1 3.2h0m-.5-2.6h0m-.1-1.2h0m-.1 .2h0m-.7 1.6h0m0-.6h0m-.2 1.9h0m-.5-2.1h0m0 2.4h0m-.1-.1h0m-.4 1.1h0m-.8-.2h0m0-1.3h0m0 2.1h0m-.2-2.2h0m-1 1.1h0m-.6-.1h0m0-.9h0m-.9 .4h0m0-.1h0m-.1 .3h0m-.1-.6h0m-.1 .9h0m-.5-.8h0m-.3-1h0m-.8-2h0m-.3 3.9h0m-2-3.4h0m-.4 4.2h0m-.7 1.1h0m-.2-1.3h0m-.9 .9h0m0-3.2h0m-.2-1.5h0m-.1 4.7h0m-.2-5.4h0m-.4 3.7h0m-.2-1.3h0m0 1h0m-.1-.2h0m-.2-2.7h0m-.9 .7h0m-.2 .6h0m0 2.6h0m-.5-3.5h0m-.5 1h0m-.3 2.8h0m-.2-4.1h0m-.5 2.4h0m-.2-.1h0m0-.4h0m-.4-.3h0m-.3-1.8h0m-.5 0h0m0 2.8h0m-.3 2.2h0m-.1-2.1h0m-.2-.2h0m-.3-2h0m-.3 3.4h0m-.6 1.1h0m-.5-2.6h0m-.1 1.3h0m-.2-.8h0m-.2 1.1h0m-.1-3.7h0m-.3 3.1h0m0-3.2h0m-.5 4.8h0m-.2-1.7h0m-.4-1.5h0m0-.2h0m-.2 3.5h0m0-5.6h0m-1.1 1.1h0m-.4 2.6h0m-.3 1.9h0m-.3-.3h0m0-2.7h0m0 3h0m-.3-4.9h0m-.1 2.7h0m-.1 .4h0m0-2.2h0m-.2 2h0m-.2 .9h0m0 .6h0m-.1-4.9h0m-.3 2.9h0m0 0h0m-.1-.5h0m-.4 3.2h0m-.1-3.3h0m-.1 2.6h0m-.1-.8h0m-.2-1.8h0m0 3h0m-.3-2.3h0m-.1 1.1h0m-.2-1.5h0m-.1-.9h0m-.9 3.7h0m-.3-3.8h0m-.6 .7h0m-.1 1.9h0m-.6 .5h0m-.6-3.7h0m-.1 1.7h0m0 .6h0m-.6-1.9h0m-.4 2.7h0m0-1.3h0m0 .2h0m-.1-.3h0m-.1-1.1h0m-.3 2.9h0m-.3 .7h0m-.4-3h0m0 1.9h0m-.4 .2h0m-.1-3.9h0m0 3.9h0m-.2 .5h0m-.7 .4h0m-1 .1h0m-1.3 .2h0m.1 3.4h0m.9 .7h0m0-.6h0m.2 1.3h0m.2-3.5h0m.1 3.9h0m.6-3.6h0m.1 4.2h0m.6 .2h0m.1-5.6h0m.1 4.5h0m.2-3.9h0m.2 3.9h0m.2-1h0m.3-3.7h0m.9 1.4h0m0 4.5h0m1.5-4.7h0m.1 2.7h0m.2-.1h0m.5-.4h0m0 .5h0m.5 .4h0m.4-.4h0m.1 .5h0m.1-3.4h0m0-.6h0m.3 2.8h0m.4 1.9h0m.2-4.8h0m.5-.3h0m.6 3.3h0m.1 1.5h0m0-3h0m.2-1.9h0m0 2.9h0m1-2.7h0m.1 1.5h0m.1-.7h0m.1-.3h0m.1 .1h0m.2 4.4h0m1.6-4.6h0m.2 2.7h0m.3-1.6h0m.7 3h0m.6 .2h0m.7-2.7h0m.3-2.2h0m0 4.6h0m.1 1.1h0m.2-.5h0m.1-4.7h0m.4 4.1h0m.9-3.5h0m.4 1.2h0m.5-1.6h0m.1 5h0m.2-3.4h0m.2-.5h0m1-.9h0m.1-.8h0m0 3.3h0m.1-.1h0m.1 2.5h0m.7-2.8h0m.1 .9h0m.1 2.1h0m.3-3.5h0m1.2-1.5h0m0 2.1h0m0-1h0m.1-.5h0m.2 2.9h0m.4-3.1h0m.1 4.3h0m.1-2.9h0m1.2-1.3h0m.4 2.8h0m.3 .6h0m.3-4.2h0m.1 4.6h0m.2-2.5h0m0-1.8h0m.2 2.8h0m0-2.1h0m.9-.7h0m.6 2.8h0m.4 1.2h0m.2-3.8h0m.4 1.6h0m0-2.6h0m.1 .1h0m.2 5.4h0m0-.3h0m.1-1.7h0m.1 2h0m0-5.4h0m0 .8h0m.1 1.4h0m.2 3.5h0m.5-3.5h0m.1 .8h0m.5-3h0m.3 3.8h0m.7-.9h0m.1-1.5h0m1.4-1.3h0m.3 .8h0m.3-.7h0m0 1.7h0m.3 .7h0m0 2.2h0m.3-2.5h0m.2-2.4h0m.2 .2h0m.2 .2h0m.1 3h0m.1 2.2h0m.4-4h0m0-1.7h0m.4 2.9h0m.5 1.7h0m.3-.8h0m0-1.4h0m.1 1.7h0m.1 .9h0m.4-4.7h0m0 3.3h0m0-.5h0m.1 2.1h0m.1-.1h0m.2-2.4h0m.1-1.6h0m.5 4.6h0m0-3.5h0m.1-2h0m.6 .2h0m.2 4h0m.1 .8h0m.7-2.2h0m0-.2h0m.5-1.6h0m.8 3.3h0m.3-3.4h0m1.4 4.5h0m.2-3h0m.9 2.4h0m.6 .1h0m.5 0h0m2 3.7h0m-1.1 2.9h0m-.3-3.2h0m0 .7h0m-.4 1.6h0m-.5-4.5h0m-.5 2.3h0m-1-.4h0m-.1 2.4h0m-.5-1.6h0m-.2 2.7h0m-.6-3h0m-.9-1.5h0m-1.1 .6h0m-.3 1.1h0m0-2.4h0m-.2 2.3h0m-.2 .9h0m-.3 0h0m-.8-3.5h0m-.4 .9h0m-.2-1h0m-.7 4.8h0m-.2-4.9h0m-.1 1h0m0-.9h0m-.1 2.3h0m-.4 3.5h0m-.4-3.9h0m-.4 2.6h0m-.3 1.1h0m-.1-2.3h0m-.6 1.7h0m-.6-1.8h0m-.1-2.8h0m-.2 1.7h0m-.1 .6h0m-.1 2.1h0m0 .8h0m-.3 .2h0m-.2-.9h0m0-4.6h0m-.2 2.5h0m-.2 1.5h0m-.2-1.7h0m-.3 2.3h0m0-3.7h0m-.1 2.8h0m-.1-2h0m-.8-.5h0m-.2-1.3h0m-.1 1.1h0m-1.1-.3h0m-.1 .7h0m-.1 1.1h0m-.4 1h0m-.2-2.3h0m-.1 3.7h0m-.4-3.2h0m-.5 1h0m-.7 .2h0m-.1-2.1h0m-.1 3.1h0m-.1-3.9h0m-.1 2.7h0m-.1 2.6h0m-.2-1.3h0m-.2-2.7h0m0-1h0m-.1 2.8h0m-.1-3.4h0m-.3 .9h0m-.2 4.5h0m-.5-.9h0m-.4-3.4h0m-.1 1.2h0m-.5-.5h0m-.1 2h0m-.1 1.5h0m-.1-3.1h0m-.2-.4h0m-.1 .4h0m-.1 2.2h0m-.3-2.6h0m-1.3 3.1h0m-.3-3.4h0m-.2 1.7h0m-.1-2.3h0m-1.1 4.6h0m-.6-.9h0m-.9-2.3h0m-.1-1.6h0m-.1 3.3h0m-.4-4h0m-.6 2.3h0m-.3 2.1h0m0-4h0m-.7 2.9h0m-.1-.5h0m-.9 .5h0m-.1-1h0m-.1 1.7h0m-.5-1.3h0m-.2-2.4h0m-.1 5.1h0m-.5-2.4h0m-.2 2.5h0m-.1-4.6h0m-.1 4.2h0m0-.7h0m-.4-1.8h0m-.4-.6h0m0 2.5h0m-.1-4.4h0m-.3 3.6h0m0-.1h0m-.2-.6h0m0-3h0m-.3 2.3h0m-1.1 3h0m-.1-4.1h0m-.1 3.2h0m-.4-4.4h0m0 5h0m-.1-1h0m-.1-1.4h0m-.7 1.6h0m-.3-1.5h0m-.5 .5h0m0-1.9h0m-.6 1.2h0m-.1 2.3h0m-.8-1.4h0m0-1.8h0m-.6-1.6h0m-.2 .7h0m-.5 .7h0m-.1 3.7h0m-.5-5.3h0m-.8 5.1h0m-.4-.3h0m0 .5h0m-.3-1.6h0m-.1 2.3h0m-.4-5.4h0m-.8 4h0m-.3 1.4h0m0-1.1h0m-.1-1.5h0m-.1-.3h0m-1.1 1.1h0m-.2-1.5h0m-.1-1.3h0m-.7 1.5h0m-.1 3.1h0m-.1-1.9h0m.8 5.9h0m1.8-2.7h0m.1 2.1h0m.7-.6h0m.2 1.5h0m.2-1h0m.9-2.6h0m.2 2.4h0m.1 1.4h0m.1 .5h0m.4-1.4h0m.2 1.3h0m.2-4.7h0m.5 2.8h0m.9 .2h0m.2 2.6h0m0-3.8h0m.5-1.1h0m.1-.1h0m1.3 3.8h0m.1-4h0m.3 2h0m0-1.5h0m.1 1.9h0m1.1-1.7h0m.4 2.9h0m.7 .7h0m.2-.1h0m.4-.6h0m0-.7h0m0 1h0m.1-3.5h0m.2-1h0m2.7 .4h0m1.7 1.8h0m.3 .7h0m.2-.9h0m.1 3.1h0m.3-4.9h0m.8 1.7h0m.4 4h0m0-5.1h0m.5 2.4h0m0 .6h0m.7 .7h0m.3-3.6h0m0 4.6h0m.6-2.7h0m0-1.4h0m.1 4.2h0m.4-.5h0m.3-1.8h0m.6 .9h0m0-.8h0m.4-3.3h0m.2 5.5h0m.5-.2h0m.1-5.3h0m.3 .7h0m0-.2h0m.2 4.6h0m.1-1.9h0m.3 1.6h0m.2-1h0m1.1-.9h0m0-2.7h0m.4 3h0m.2 1.9h0m1.2-4.5h0m0 .5h0m.2-.1h0m.4-.2h0m.2 3h0m0-.7h0m.2 .6h0m.6 .4h0m.2-3.6h0m.2 .7h0m.1 .3h0m.4-.9h0m1 3.7h0m.3-3.5h0m.6 .5h0m.1 1.4h0m.5 1.6h0m.1-2.6h0m.1 1.7h0m.4-3.2h0m.1 5.5h0m.3-5.5h0m0 .8h0m.4 3.1h0m.2 .6h0m.8-.3h0m.1-1h0m.6-.2h0m.2 .2h0m.5-2.6h0m.4 3.1h0m.3-2.3h0m.4-.4h0m.1 3.6h0m.7-3.8h0m0 2.3h0m2 1.7h0m0-2.9h0m.7 1.9h0m.4-1.4h0m.5-1.7h0m0 2.6h0m.2 2.2h0m.4-4.7h0m0 .9h0m.6-.1h0m.2 .8h0m.1 .9h0m.3-.3h0m0 .1h0m.1-1.5h0m0-1.4h0m.2-.5h0m.3 3.6h0m0-3.4h0m.9-.1h0m.5 1.8h0m0 1.3h0m0-2.5h0m.3 3.1h0m0-.6h0m.1-.9h0m0 .9h0m.3 0h0m.3 .5h0m.2-3.3h0m-1.4 6.1h0m-1 .7h0m-.1-.3h0m-.2 4.8h0m-.3-1.4h0m-.3 .5h0m-.2-2h0m-.5-.3h0m-.1 2.4h0m-.2-4.6h0m-.1 .6h0m-.5 3.4h0m-.1-3h0m-.4 2.2h0m-.2-2.6h0m-.4 3.8h0m-.5-1.9h0m-.3 3.1h0m0-4.8h0m-.3 4.5h0m0-.3h0m-.2-3.7h0m-.2 2.8h0m-.4-4h0m-.2 2.2h0m-.4 .4h0m-.8 2.3h0m-1.1-2.6h0m-1.7-2.1h0m-1.3 5.2h0m-.2-1.4h0m-.4-1h0m-.2 2.3h0m-.9-1.1h0m-.3-2.4h0m-.1 1.3h0m-.5-1.9h0m0 2.1h0m-.6 1.7h0m0-.1h0m-.4 .5h0m-.2-.1h0m-.3-.5h0m-.6 0h0m-.3-3.4h0m-.5-1.2h0m-.2 4.2h0m-.1-2.4h0m-.3-1.5h0m-.1 1.3h0m0 3.5h0m-.1 .1h0m-.1-2.9h0m-.1 3.1h0m-.3-6h0m-.7 2h0m-.3 .4h0m-.3 3.6h0m-.1-1.6h0m-.2-3.9h0m-.7 5.3h0m0-4.3h0m-.6-.6h0m-.3 2h0m-.2 2.8h0m-.3-.3h0m0-.6h0m-.3-4.1h0m-.1 2.8h0m-.3-2.7h0m-.6 4.5h0m-.1-2.4h0m-.4-.7h0m-.5 .4h0m-.3-.3h0m-.3-1.5h0m0 .9h0m-.3 3.4h0m-.5-3.1h0m-.6 .5h0m-.5-1h0m-.1 2.8h0m-.2-2.3h0m-.7-1.1h0m-.9-.5h0m-.2 .2h0m-.5 2.7h0m-.4-2.7h0m-.6 2.7h0m0-2.6h0m-.4 1h0m-.5 3.7h0m-.1-4.2h0m-.3 1.5h0m0 2.6h0m-.5-1.5h0m-.2-2.8h0m0 1.4h0m-.2-.6h0m-.4 3.6h0m-1.2-4.2h0m-.2-.9h0m-.1 1.4h0m-.2 1.9h0m-.2 2.2h0m-.4-3.8h0m-.2 .8h0m-.3 1.2h0m0-.7h0m-.1-.9h0m0 .3h0m0-.2h0m-.3-.6h0m-.1-1.6h0m-.3 1.6h0m-.2 .8h0m-.1 2.3h0m-1.4-4.2h0m-2-.7h0m4.8 6.5h0m1.3-.4h0m0 .3h0m.2 1.5h0m.7 2.7h0m.4-1.8h0m.6 1h0m.3 1.4h0m.3-1.9h0m.4-2h0m.1-1h0m1.4 0h0m.1 4.7h0m.4-1.4h0m.3 .8h0m.3-2.9h0m.1-.1h0m.1 1.3h0m.1 1.6h0m.1-4.3h0m1.3 2.3h0m.1 2.6h0m.4-3.8h0m.1 .4h0m.2 1h0m.2-1.4h0m.5 1.5h0m.1 3h0m0-.5h0m.1-3.6h0m.1 4.3h0m1.7-.7h0m.1-4.2h0m.5-1h0m1.1 3h0m.3 .3h0m.4-1.5h0m.1 .5h0m0 1.6h0m1.4 .7h0m.5-2.7h0m.2-.3h0m.1-1.5h0m.3 2.9h0m2.1 1.2h0m0-1.9h0m.3-2.1h0m0 2h0m.1-.1h0m.4 3.7h0m.5-4.6h0m1 3.5h0m.1-1h0m.7 .8h0m.1-2.3h0m.4 2h0m0-.9h0m.5-1.1h0m0-.6h0m.3 4.3h0m.5-4h0m.7-1.4h0m.1-.3h0m1.2-.1h0m.1 .5h0m.2-.2h0m.3-.2h0m.3 2.3h0m.3 1.9h0m.2-.7h0m.4-1.9h0m0 2.7h0m.1-.1h0m.2-.9h0m.2-.4h0m.2 .5h0m.7-2.7h0m.6-.3h0m.2 1.3h0m.5 .8h0m.9-.2h0m.2 3h0m.4-2h0m.4-1.6h0m.2-1.9h0m1 3.1h0m.7-.3h0m.6-2.4h0m.8 .4h0m-1.1 5.9h0m-.7 .5h0m-.7-.5h0m-.7 3.1h0m0-1.6h0m-.1 .5h0m-.8 .3h0m-.2 1.2h0m0 0h0m-.1 .9h0m-.4-2.3h0m-.1 1.5h0m-.2-.9h0m-.3-3.1h0m0 4.2h0m-.4-2.4h0m0 .9h0m-.1 2.1h0m-.1-.3h0m0-4.7h0m-.1 4.9h0m-.3-3.2h0m-.2 .3h0m-.1 3.3h0m-.9-.1h0m-.2-1.9h0m-.1-2.6h0m-.3 3.6h0m-.3-2.1h0m0-.3h0m-.3-1.9h0m-.6 5.1h0m-.1-1.9h0m-.2 2.3h0m-.2-4.3h0m-.5 1.1h0m0 1.2h0m-.2-2.9h0m-.9 3.3h0m-.4 .1h0m-.6-1.8h0m0 2.4h0m-.1-.4h0m-.3-2.5h0m-.8 1h0m0-1.2h0m-.4 2.6h0m-.1-1.1h0m-.3 .7h0m-.2 .7h0m-.4 .1h0m0 .9h0m-.1 .1h0m-.3-.3h0m0-5.1h0m-.2 .1h0m-.1 4.7h0m-.4-.5h0m-.8 .8h0m-.5-1.5h0m-.2-2.6h0m-.2 3.6h0m-.6 .6h0m-.7-4h0m0 .6h0m-.3 3.1h0m-.1 .3h0m0-1.8h0m-.1-.5h0m-.1 .9h0m-.1-3h0m-.8 0h0m-.2-.2h0m-.5-.7h0m-.7 5.8h0m-.7-2.3h0m-.1-.3h0m-.6 .4h0m-.1 1.4h0m0-2.2h0m-.5-2.7h0m-.2 1.5h0m-.2 3.3h0m-.4-4.1h0m-.6 1.3h0m-.2 3.1h0m-.6-2h0m-1.6-1.8h0m-.4 3h0m-.1 1.3h0m-.7-.1h0m-.4-3.1h0m-.2 1.4h0m-.3-2.9h0m-.2 4.6h0m-.3-1.3h0m-.1 .8h0m-.4-5h0m-1.4 1.1h0m-.1 .2h0m-.2-1.4h0m-2 2h0m2.9 4.2h0m.4 3.8h0m1-1.1h0m.5-2.5h0m.4 1.8h0m.6-.5h0m.4 1.1h0m.7 .4h0m.4-1.6h0m.1 2.7h0m.1-3.8h0m.6 1.1h0m.6 .3h0m0 1.2h0m.1-.6h0m.2-.4h0m0 2.4h0m.2-2.9h0m.2-1.7h0m.2 .1h0m.5 .1h0m.2 5.7h0m.1-.7h0m0-2.2h0m0-2.8h0m1.2 3.1h0m.4 2.3h0m.2-.6h0m.3-4h0m.3 2.1h0m.2 2.5h0m0-2h0m.6-1.2h0m.1 3.6h0m.7-4.4h0m.1 3.8h0m.4-2.5h0m.2-1.3h0m1 .8h0m.3 3h0m.3-1.9h0m.9 .2h0m0-2h0m1.1 1.3h0m.1-2.4h0m.3 4.1h0m.4 .4h0m.1-.6h0m0 1.5h0m.4-1.1h0m.9 .5h0m.3 .4h0m.1-.1h0m.5-1h0m.6-4.1h0m.1 .7h0m.1 1.2h0m.3 1.7h0m.1 .6h0m.9-1.1h0m.6 1.5h0m.2-.8h0m.4-3.7h0m.1 2.7h0m1.3-.6h0m.4-.6h0m0-.1h0m.2 1.2h0m0-2.5h0m.4 1.4h0m.3-.9h0m.5 .6h0m.2-1.2h0m.2-.4h0m-7 6.1h0m0 0h0m-1.8 2.7h0m-1-2.3h0m-1.7 .5h0m-1.4-.2h0m-.8-.9h0m0 .2h0m-2.7 .9h0m-.1 .4h0m-1-1.3h0m-.1 1h0m-1.6-1.2h0m-.1 2h0m-1.2-.6h0" stroke="#72b3df" stroke-width="2.40" stroke-linecap="round" fill="none"/><path d="M314.9 196.3h0m.3-1.6h0m2.2-.3h0m0 2.6h0m.1-2.4h0m0 .6h0m1.2 2.4h0m0-2.7h0m.7-.9h0m.3 0h0m.3 2.9h0m0 .9h0m.1-3.5h0m0 2.8h0m.4-1.9h0m.5 1.9h0m.1-.5h0m.2-3h0m1.5 4h0m.2-.2h0m.9 .4h0m.1-2.8h0m.1 1.3h0m.1 .8h0m0-2.1h0m.1 3h0m.1-.5h0m.2-2.8h0m1.1 1h0m.2-2.7h0m.2 3.1h0m.2-.2h0m1 .2h0m.2-1.2h0m.6 2.4h0m.7-2.5h0m.5 1h0m.1 .9h0m.8-.6h0m.4-.1h0m2.1 1.9h0m1.4-.3h0m3.3 6.1h0m-1.8-1.3h0m-.5-.5h0m-.2 1.1h0m-.1-1.9h0m0-.5h0m-.2 2.4h0m-.6-3.6h0m-.1 2.3h0m-.2 1.8h0m-1.1-4.5h0m-.1 .7h0m0 1.2h0m-.1 .7h0m-.1-2.5h0m-1.1 1.9h0m0 .6h0m-.9-2.1h0m-.3 1.6h0m-.3 .7h0m-.7 0h0m-.7 .9h0m0 .2h0m-.1 .5h0m-.2-.9h0m-.3-1.5h0m-.9-1.7h0m-.2 1.1h0m0 3.3h0m-.1-4.3h0m-.1 .1h0m-.1-1.1h0m-.5 .3h0m-.2 4.6h0m-.4-4.1h0m-.6 3.6h0m-.2-2.2h0m-.3 2.7h0m-.1-1h0m-.4-2.6h0m-.1 1.7h0m-.2-.8h0m0-2.4h0m-.4 2.8h0m-.1 2.3h0m-.2-4.9h0m-.3 .6h0m-.2 .6h0m0-1.2h0m-1.3 4.7h0m-.1 .2h0m-1-3.8h0m-.6 .2h0m0 2.9h0m-.1-1.2h0m0-.8h0m-.1 1.7h0m-.7-2.9h0m-.6 1.2h0m-.5 3.4h0m-.4-5.3h0m-.6 5.3h0m0-3.1h0m-.1 .8h0m-.3 .6h0m-1.4-2.2h0m0-.2h0m-.1 .3h0m-.1 .7h0m-.1-.1h0m0 1.4h0m-.1-3.7h0m-.2 4.5h0m-.1-2.1h0m-.3-.1h0m-.2-2.6h0m0 3.6h0m-.1 1.7h0m-.5-3.6h0m-.6 3.5h0m-1.2-4.1h0m-.1 3.1h0m-.9 .7h0m-.2-.3h0m-.7 .9h0m-.4 .2h0m-1.6 1.4h0m.6 3.9h0m.2-3.5h0m.8 1.8h0m0-3.3h0m.1 5.2h0m.4-3.2h0m.1 3.3h0m.5 .3h0m.3 .2h0m.9-2.6h0m.5-1.1h0m.5 2.3h0m0-.8h0m.3 1.9h0m.1-.1h0m.2-.9h0m.2-3.3h0m.1-.6h0m.1-.5h0m.2 2h0m.5 2.4h0m0 1h0m.1-1.4h0m.7-2.7h0m.2 3.7h0m.1-1.3h0m.2-1h0m.4-2.9h0m0 3.8h0m.5 1.9h0m.5-.2h0m.1-2.2h0m.1-2.1h0m.5 2.4h0m.7-.9h0m0-.9h0m.6 .2h0m.2-1.8h0m.2 4.8h0m.1-3.2h0m.1 2.5h0m.1-1.9h0m.1 1h0m.5-3.2h0m.2 3.8h0m.5-.2h0m.4-2.5h0m.4-.4h0m.3 1.2h0m.3 2.4h0m.1 1h0m.1-2.3h0m.2-2.1h0m0 2.2h0m1-3.3h0m.1 4.6h0m.1-2.7h0m0 1.7h0m.2-2h0m.1 1.1h0m.1-2.6h0m0 1.6h0m.1-.4h0m.7 4.5h0m.3-4.5h0m.6 3.3h0m.4 .7h0m.4 .2h0m.7-.4h0m0-4.1h0m.4 .9h0m.1 2.4h0m.3-4.1h0m1.1 1.3h0m1.4-.2h0m.3 3h0m.3-3.9h0m.3 .9h0m.1 3.5h0m.1-2.2h0m.5 1.9h0m.5-.4h0m.4-.8h0m.3-2.1h0m.8 2.2h0m.2-3.3h0m.2 3.9h0m.2-2.3h0m1.2 2.2h0m.5 .6h0m.6-2.7h0m.5 4.1h0m0-5.6h0m.4 4.5h0m.5-.2h0m0-3.3h0m.3-.2h0m.6 3h0m.1 1.8h0m1.2-.4h0m.7-2.3h0m.5 8.4h0m-.3-4.8h0m-.1 2.4h0m-.1-1h0m-.4 1.5h0m-.1-3.7h0m-.1 4h0m-.1-2.4h0m0 4h0m-.4-1.6h0m-.3 .8h0m-1 .6h0m-.3-1.1h0m-.3 .6h0m-.9-1.7h0m-.5-1.3h0m0 .1h0m-.3 3.4h0m-.1-5h0m-.3 3.2h0m-.9-1.8h0m-.3 3h0m-.7 .1h0m0-.6h0m-.8-1.6h0m-.9-.3h0m-.6-.6h0m-.2 1.5h0m-.7-.2h0m-.3-2.1h0m0 3.1h0m-.5-1.6h0m-.4-1.1h0m-.6 1.2h0m-.1 2.8h0m-.2-5.5h0m-.3 3.9h0m-.5-2.2h0m-.6 3h0m-.2-3.3h0m-.3 2.4h0m-1-2.5h0m-1 3.4h0m-.1-4.2h0m-.3 4.5h0m-.1-3.7h0m-.2 .1h0m-.3-1.3h0m-.7 1.6h0m-1-.3h0m-1.5 1.7h0m-.3-.8h0m-.1 1.9h0m-.2 1.1h0m-.1-4h0m-.3 4.6h0m0-5.4h0m-.4 .4h0m-.2-.5h0m-.1 3.1h0m-.1-1.2h0m-.2 3.4h0m-.7-4.8h0m-.3 1.3h0m-.1 .9h0m-.4 2.7h0m-.9-2.2h0m-.7 1.3h0m-.1-3.8h0m-.3-.4h0m-.3 5.3h0m-.9-2.2h0m-.2-2.6h0m0 3.7h0m-.3 .5h0m-.9-.5h0m-.3-2.9h0m-.1 2.8h0m-.1-4.6h0m-.1 1.1h0m-.1 1.3h0m-.3-2.1h0m-.4 4.4h0m-.2-3.5h0m-.3 2h0m0-1.3h0m-.5-1.5h0m-.3 2.3h0m-.7-1.3h0m-.1-.6h0m-.2 4h0m-.1-4.8h0m-.2 .8h0m-.2 3.9h0m0-4.6h0m0 2h0m-1.5 3.6h0m2 .1h0m.9 1.1h0m.5-.3h0m1.5 2.6h0m.4 .7h0m0 0h0m.2 .6h0m.3-3.4h0m.7 4.3h0m.7 0h0m.1-3.6h0m.2 1.1h0m.1-.7h0m.3-2.2h0m0 5.3h0m0-1.1h0m.2-.2h0m.7-3.4h0m.3 .4h0m.9 3.5h0m1.1-2.3h0m.2 1.2h0m.1 1.7h0m.1-4.5h0m.4 1.3h0m.1-.8h0m0 3h0m.3-.7h0m.4 .9h0m.6-1.2h0m.1 .8h0m.2-2h0m.1-1.1h0m.3 1.2h0m1.6-1.1h0m.7 3.2h0m.2-4.1h0m.8 4.4h0m1-3h0m.1 3.2h0m.3 .7h0m.5-5.5h0m0 4.9h0m.3-.7h0m.5-2.7h0m.5 .6h0m0 2.5h0m.2-2.7h0m.2 1.6h0m.2-2.9h0m.1 1.1h0m.7 .1h0m.1-.9h0m.3 3.1h0m.6-.8h0m.3-1.2h0m.2 .3h0m0 2.9h0m.5-4.2h0m.1 3.3h0m.1-3.8h0m.1 5.2h0m.1-2.3h0m.2-3.3h0m.7 1.4h0m.1 2.7h0m0 .8h0m.2 .2h0m0 .6h0m.1-.8h0m.1 .8h0m.3-4.2h0m.1 .4h0m.3-.4h0m.1 2.9h0m.5 .7h0m.2-5h0m.9 1.6h0m.3-1h0m.1 4.5h0m.5-3.5h0m.7 2.6h0m.2-1.1h0m.2-2h0m0 1.1h0m1 .1h0m.1-1.4h0m.5 1.2h0m.1 0h0m.3-.2h0m1.6-.9h0m.2-.9h0m-4.4 7.2h0m-.5-1.3h0m-.1 1.4h0m-1.4 1.7h0m-.9-3.3h0m0 2.1h0m-.2 2.3h0m-.3-2.4h0m-.2-1.9h0m-.5 1.9h0m-.4-.8h0m-.3 0h0m-.9 .8h0m-.1 1.5h0m-.3-2.9h0m-.6 2.8h0m-.8-2.3h0m-.4 0h0m-.6 3.9h0m-.1-.3h0m-.3-1.7h0m0-1h0m-.1 0h0m-.5-.9h0m-.3-1.1h0m-.1 5h0m-.2-.2h0m-.3-4.5h0m-.2 2h0m-.5 2.4h0m-.1-.6h0m-.9-2.7h0m-.1 2.2h0m-1.2 1.4h0m-.3-3.6h0m-.3 3.3h0m-.3 .4h0m-.3-1.8h0m-.7 .3h0m-.7 2.3h0m-.1-3.8h0m-.4-2h0m-.2 1.9h0m-.2-1.5h0m0 3.2h0m-.4-2.2h0m-.1 .5h0m-.6 .5h0m-.3 1.4h0m-.1-.5h0m-.1-2.1h0m-.1 1.6h0m-.2 1.3h0m-.5-4h0m-1.7 .5h0m-.2 .3h0m-1.3-.8h0m7.4 7.5h0m.7-.3h0m.9 .4h0m.3 2.1h0m.9-3.7h0m.4 1.6h0m1 .1h0m.5-.7h0m.5 1.1h0m.6 1.2h0m.9-3.1h0" stroke="#f7a1aa" stroke-width="2.40" stroke-linecap="round" fill="none"/><path d="M316.2 155.5h0m-.1 .3h0m-.3 0h0m-.3 .1h0m-.1-1.8h0m-1.2 1.1h0m0-.9h0m-.7 .5h0m-.5-.5h0m-1.3 .5h0m-1.2 1.2h0m-1.6-.3h0m-1.3-.9h0m-.7 .5h0m-1.2 0h0m-.4 .5h0m-1.2-1.4h0m-12.1 7.3h0m.2 .2h0m.2-1h0m.2-1.1h0m.7 1.8h0m1.3 .2h0m.1-.5h0m.3-.7h0m1.3 .3h0m.8-.2h0m.8-3.2h0m.1 1.7h0m.4 2.1h0m.4-.3h0m.3-.4h0m.7-1h0m.1-2.5h0m.4-.1h0m.2 .8h0m.5 .6h0m.4 3.3h0m.5-3.2h0m.5 .2h0m.5-.6h0m.2 3.8h0m.8-3.7h0m0-2.2h0m0 3h0m.5-1.8h0m.1 1.4h0m0-.3h0m.1-2.1h0m.1 4.6h0m0-4.2h0m1.3 3h0m.1 .8h0m.6-1h0m.8 .9h0m.4-1.3h0m.2 .6h0m.2-3.4h0m0 4.5h0m.3-3h0m.5-1.2h0m.2 4.4h0m.6-.4h0m.5-1.3h0m.4 2.1h0m0-3.7h0m0 2.3h0m.5-2.7h0m0 2.5h0m.7-2.1h0m.4-.2h0m.1 2.8h0m.4-4h0m0 .2h0m.3 5.5h0m.1-5.3h0m0 1.7h0m.5-.6h0m.2 2.3h0m.3-.1h0m.3 1.1h0m.2 .5h0m.3-5.5h0m0 3.3h0m0-2h0m.5-.9h0m.2 3.1h0m.4 .9h0m1.2 .3h0m0-2.8h0m.4 8.2h0m-.4-1.6h0m-.6 1.9h0m-.1-3.2h0m-.1 .5h0m-.2 1.8h0m0-1.4h0m-.3 .1h0m0 3.5h0m-.1 .2h0m-.3-1.6h0m-.3 1.6h0m0-1.8h0m-.5-1.2h0m-.1 2.4h0m-.3-.7h0m-.4-.3h0m-.1 0h0m-.3-2.9h0m-.6 2.5h0m-.6-2.9h0m-.5 1h0m-.4 3.5h0m-1.4-2.4h0m-.2-1.7h0m-.1 1.9h0m-.3-2.3h0m-.4 2.3h0m-.2 2.2h0m0-1.3h0m-.4 .4h0m-.1-3.1h0m-.4 2.7h0m0 1.6h0m-.3-2.8h0m-.1-1.3h0m0 .4h0m-.2 3h0m0-1.5h0m-.4-2.9h0m-.9 3.8h0m-.3-1.1h0m-.4-.2h0m-.1 .8h0m-.1-2.6h0m-.6 .8h0m-.3 3.5h0m-.1-3.3h0m-.2-2h0m-.1 4.8h0m-.1-1.4h0m0 0h0m-.2 .1h0m-.3-.5h0m-.1 1.5h0m-.3 .9h0m-.2-5.2h0m0-.2h0m-.1 4.5h0m0-1.9h0m-.1-1.6h0m-.3-.8h0m-.1 0h0m-.1 .3h0m-.6 2.7h0m-.8 1h0m-.2 .6h0m-.4-4.4h0m-.7 .8h0m0 .9h0m-.1-.8h0m-.4 .4h0m-.6 3.4h0m-.1-1.7h0m-.2 0h0m-1-.6h0m-.4 2.8h0m-.2-.6h0m-.2-5h0m-.2 4.5h0m-.2-1.6h0m-.6-1.1h0m-.1 3.7h0m-.1-.7h0m-.2-3.3h0m-.1-1.2h0m-.5-.7h0m-.1 3.1h0m-.7-2.5h0m0 0h0m-.4-.3h0m-1.2 1.7h0m-.3 .3h0m-.2 2.3h0m-.5-2.3h0m-1.5-1.8h0m-.1 5.3h0m-.2-2.9h0m-.3 .3h0m-.2-.1h0m-1.5 1.7h0m-.1 0h0m-.2-2.4h0m-.4 3.4h0m-.2-2.1h0m-2.4 5.2h0m.7 3h0m.1-.8h0m1.5-1.6h0m.1-1.9h0m.7 1.8h0m0-3.3h0m.2 .3h0m.7 3.5h0m.1 .6h0m.1-1.9h0m.2 1.9h0m.1-1.7h0m1.1-.9h0m0-1.1h0m.4-.2h0m.3 5h0m.5-3.3h0m1.1 1.7h0m.2 1.1h0m.3-.6h0m.5-1.6h0m.1-2.7h0m.2 1h0m.3 .8h0m.7 .5h0m1.2-1.5h0m.5 2.4h0m.1-.1h0m0-3.2h0m.5 2.2h0m.3 1.6h0m.5 1.6h0m.2-5.1h0m0 4h0m.1-3.9h0m.2 2.1h0m.4 2.3h0m0 .9h0m.5-4.9h0m0-.2h0m.8 4.2h0m.2-2.8h0m.2 3.8h0m.2-.2h0m.2-1.2h0m.6 1.1h0m.5-.4h0m.1-2.2h0m0-1.8h0m.7 3.5h0m0-.8h0m.6-1.4h0m.1 3.1h0m.6-5.2h0m.3 5.1h0m.4-3.1h0m.3 1.4h0m.5-2h0m.3 1.4h0m.1-2.7h0m.6 4h0m.1-4.2h0m.5 3.5h0m.1-3.4h0m.2 .6h0m.1 3.7h0m.7-1.3h0m.7-.2h0m.2 2.7h0m0-5.4h0m.3 4.6h0m.2-.3h0m.3 1.1h0m.6-2.9h0m0-1.2h0m0 1.3h0m.2-.1h0m0-.8h0m.1 3.1h0m0-.4h0m.5-2h0m.3 .2h0m.5-1h0m.2-1.3h0m.1 1.5h0m.1 0h0m.1 2.5h0m.3-.7h0m0-2h0m.3 1.9h0m.7 1.3h0m0-3.1h0m0-1.5h0m.1 1h0m.1 2h0m0-1.4h0m.1 2.3h0m.4-2.3h0m0-.8h0m.3 3.9h0m.2-1.4h0m.4 1.8h0m.6-1.1h0m.9-4.5h0m.6 2.3h0m.3 1.5h0m.1-.9h0m.1 2.1h0m.5-3.1h0m.1 2.6h0m.1-3.7h0m0 4.6h0m.5-2.5h0m2.3 4.3h0m0 2h0m-1.7-.1h0m-.2-.5h0m-.5-.7h0m-.1 2.1h0m-.4-1.2h0m-1.4 .6h0m-.1 1.2h0m-.1 .5h0m-.6-2.3h0m-1.3 2.1h0m-.3-4.3h0m-.6 3.3h0m0-2.8h0m-.1 2.2h0m-.1-2.8h0m-.5 4.7h0m-.1-5.1h0m-.9 2.6h0m-.3-2.6h0m-.3 1.2h0m-.1 1.9h0m-.1-.8h0m0 2.9h0m-.3-3.1h0m0 3h0m0-.4h0m-.3-3.3h0m-.4 1.8h0m0-.5h0m-.4 .5h0m-1-2.9h0m-.1 .2h0m-.2 1.8h0m-.1 .1h0m-.2 2.3h0m-.7-1.3h0m0-.1h0m-.3-.7h0m-.5 .8h0m0 .5h0m-.2-1.2h0m-.6 .7h0m-1.2-.8h0m-.4-1.4h0m-.2 .3h0m-1-.5h0m-.1-.6h0m-.1 4.7h0m-.1-3.8h0m-.4-.9h0m-.4 1.1h0m-.5 3.7h0m-.5-1.5h0m-.3 2h0m-.1-1.1h0m-.2-2.3h0m-.3 .7h0m-.4-2.2h0m-.6-.6h0m-.3 5.2h0m-.9-.2h0m-1.7-.1h0m-.8 .6h0m-.4-4.3h0m-.1 2.2h0m0-3h0m-.2 1.3h0m-.1 2.6h0m-.5-2.6h0m-1.6 .7h0m-.4 2.5h0m0-4.5h0m-.1-.4h0m-.4 4.8h0m0-4.3h0m-.1-1h0m-.2 5.6h0m-.3 0h0m-.1-1.4h0m0-1.6h0m-.2-1.5h0m-.1-.9h0m-2 5.5h0m-1.4-3.8h0m-.2 1h0m-.9 2.8h0m0-4.7h0m-.1 1.3h0m-.2 1.8h0m-.4 1.5h0m-.3-.4h0m-.1-2.5h0m-.5 6.4h0m.1-2.4h0m.6 1.5h0m.1 .2h0m.3 0h0m.3-.9h0m.4-.2h0m.1-.9h0m.1 2.2h0m.1-2.1h0m.5 2.6h0m.7 1.2h0m.1-2.4h0m1.1 1.3h0m.3-3h0m1 2.6h0m.4-.8h0m.2 .1h0m.4 3.6h0m.1-3h0m.2 .3h0m.4 .9h0m.1 1h0m.1-3.7h0m.4 3.6h0m.2-3.8h0m.2 1.7h0m.3-1.3h0m.5-1h0m.2 .2h0m.2 4.2h0m.1 .7h0m.4-4.4h0m.1 2.2h0m.1 2.5h0m.8-2.7h0m.1-1.2h0m.6 1h0m.7 2.1h0m.8-1.5h0m.3-2h0m.2 1.3h0m.9 1.2h0m.2-3.2h0m.7 3.1h0m.1 0h0m1.1-.6h0m.8-2h0m.2 1.6h0m.1-.8h0m.2 3.5h0m0-3.2h0m.2-.1h0m.2 2.5h0m.2 .3h0m.1-3.4h0m.3 0h0m.3 .7h0m.3 3.6h0m.2-1.9h0m.1 1.9h0m.4-3.1h0m.2 1.6h0m.2 .1h0m0-.5h0m0-1.6h0m.2 1.8h0m.1-1.6h0m.1-1.6h0m.2 2.7h0m.5 2h0m.4-1h0m.3-1.1h0m.3-.2h0m.8 1.7h0m.6 .2h0m.1-2.2h0m1 0h0m.1-.4h0m.1-2.1h0m.2 3.8h0m.3-2.7h0m1.4 .6h0m.5-.3h0m.2-1.7h0m.4 2.9h0m.2-2.6h0m.4 2.3h0m.5 .6h0m.1 .1h0m.9-2.8h0m.2 3.2h0m.3-2.2h0m.3 .9h0m0-.3h0m1.2-1.2h0m.2 .9h0m.5 .9h0m.2-2.7h0m.2 .3h0m.4 3.2h0m-.5 3.1h0m-2.3 .3h0m-.1 .4h0m0 .6h0m-.1-1.6h0m-1.6 .4h0m-.9-1.1h0m-.2 1.3h0m-.1 2.1h0m-.3-2.4h0m-.3 .6h0m-1.3 .8h0m-.5-1.2h0m-.9 2.2h0m-.5-.7h0m-2.3 .1h0m-2.2 0h0m0-1.7h0m-.3 0h0m-.3 1.2h0m-.5-1h0m0 1.3h0m-.1 .5h0m-2.5-1.2h0m-.2 .7h0m-.1-1.5h0m-.8 1.1h0m-1.1 .1h0m-.5 1h0m-2.4-2.4h0m-1.2-.1h0" stroke="#fbd98c" stroke-width="2.40" stroke-linecap="round" fill="none"/><path d="M284.7 209.7h0m.6-1.1h0m.3 .4h0m1.2-3.6h0m1.6 1.1h0m1 2.5h0m.5-2.7h0m.2 .4h0m.7 2.1h0m.3-.6h0m.3-.5h0m.2-.5h0m.2-.3h0m.8 2.2h0m1.5-2.6h0m.4 1.9h0m.1 1.1h0m.4-1.5h0m.1-1.7h0m.3-1.2h0m.4 3.6h0m0-2.7h0m.6 1.6h0m.5 1.3h0m.2-2.3h0m.3 2.6h0m.1-1.8h0m.3 .5h0m.1 .3h0m1.2-3.1h0m.1 1.7h0m1.6 2.3h0m.1-1.7h0m.5 1.5h0m1-.7h0m2.2 1.3h0m1.6 .3h0m5.5 6.2h0m-1.9-1.6h0m0-3.1h0m-.5 4.6h0m-1.4-4.1h0m-.4 4.1h0m-1.1-5.7h0m-.4 2.1h0m-1.2 2.9h0m-.1 .2h0m-.3-.2h0m0 .3h0m-.5-2.6h0m-.3 .8h0m-.8-2.8h0m0 1.7h0m-.3 1.2h0m-1.1-2.9h0m-.1 1.4h0m-.1 .4h0m-.3 3h0m-.2-1.8h0m-.3-2.4h0m-.2 2.8h0m-.7 .1h0m-.2 1.4h0m-.1-5.4h0m-.5 1.6h0m-.5 .9h0m-.6 2.1h0m-1-1.8h0m-.2 1.7h0m0-4.8h0m-.4 4.8h0m-.3 .4h0m0-2.2h0m-.2 1.5h0m-1.1-2.2h0m-.7 0h0m-.2-2.1h0m-.6 0h0m-.6 2.3h0m-.4 2.3h0m0-4h0m-.8 3.8h0m-.3-4.1h0m-.9 1.7h0m-1-1.3h0m-.2 2.9h0m-.5 1.1h0m-.6-.3h0m-.3-1.3h0m-.1-1.7h0m-.3-.5h0m0 .7h0m-1 3.5h0m-.3-5h0m-.1 5.3h0m-.2-2.3h0m-.1 .4h0m-.6-2.8h0m-.2 3.5h0m0 1.4h0m-.4-5.4h0m-.4 2.5h0m-.3 2.5h0m-1.3-3.3h0m0-1.8h0m-.2 4.9h0m-.9-1.6h0m-.8 1.2h0m-1.1 1h0m-3.5 3.8h0m1.7 1.8h0m.8-5h0m.4 2.3h0m.4 .9h0m.5-1.7h0m.4 3.9h0m.8-1.7h0m.3-3.6h0m.2-.2h0m.4 4.8h0m.4 .6h0m.4-4.2h0m.5-.7h0m.3 4.2h0m.6 .2h0m.1-1.3h0m.1 1.9h0m.1-5.3h0m.3 5.3h0m.4-.6h0m.2 .2h0m.2-4.2h0m.3 1.9h0m.6 2.7h0m.4-1.4h0m0 1.3h0m.2-5.3h0m.5 2.6h0m0 1.3h0m.3-1.3h0m.4-.8h0m.1 1h0m0-1.1h0m.4 3.3h0m.1-4.2h0m1.1 2.5h0m.2-2.5h0m.4 4.4h0m.3 .2h0m.3-3.1h0m.2 1h0m.1-.4h0m.2-.9h0m.2 2.9h0m0-1.1h0m.2 .4h0m.7 .5h0m0-.3h0m.2 .9h0m.7-4.9h0m.1 4.2h0m.2 0h0m.1-1.3h0m.3-1.5h0m.5 3.2h0m0-.9h0m.1-2.9h0m.5-.1h0m.1 1.5h0m0-.4h0m.8 1.5h0m.2 1.2h0m.3-2h0m.4-2.4h0m.8 3.7h0m0 .5h0m.3 .5h0m0-2.8h0m.7 2.2h0m.1-1h0m.1-2.4h0m.3-1.1h0m.2 1.6h0m.3-1h0m.3 .2h0m.1-1.2h0m.1 3.2h0m.5-3.2h0m.7 3h0m.3-1.2h0m.1 3.3h0m.3-.4h0m.4 .6h0m1.1-1.1h0m0-1.6h0m.4 1h0m.9-3.2h0m.2 2.8h0m.8-.4h0m.2 .2h0m.5 2.3h0m.2-.2h0m.2-2.1h0m0-.8h0m.1 .2h0m0 .7h0m.3-1.6h0m.5 1.9h0m.7-.1h0m.2-1.2h0m.5 1.9h0m0 .5h0m.1-2.6h0m.2 .5h0m1-2.2h0m.7 .2h0m.3 0h0m.2 4.4h0m.7-.6h0m.6-2.8h0m.8 .6h0m.8 .5h0m1.4 .7h0m2.3 7.4h0m-.5-1.9h0m-.7 2.5h0m-1.2-3.7h0m0 2.7h0m-.6-3.1h0m-.3 1.8h0m-.1 2h0m0-2.1h0m-1-1.6h0m-.7 3.8h0m-.2-2.3h0m-.2-1.9h0m-.7 4.5h0m-.2-3.5h0m-.1-1.5h0m-.3 2h0m-.3 .5h0m-1-2.6h0m-.3 1.4h0m-.3-1.7h0m0 3.3h0m-.1-1.9h0m-.1 3.9h0m-.2-1.1h0m-.3-1.8h0m-.1-2h0m-.5 3h0m-.2-.2h0m0 .6h0m-.1-3.4h0m-.9 2.6h0m-.2-.5h0m-.2 2.9h0m0-.2h0m-.1-4.2h0m0 .3h0m-.3 .6h0m-.5 2.2h0m-.2 1.5h0m-.5-3.5h0m-.1 .4h0m-.2-1.3h0m-.1 4.7h0m-.4-2.1h0m-.2 .7h0m-.2-.3h0m-2.1-4h0m-.1 4.1h0m-.6 .8h0m-.5-.8h0m0-2.8h0m-.3 3.5h0m-.2-1.2h0m-.3 .2h0m-.4-2.3h0m-.1 1.3h0m-.1-3.1h0m-.4 4.1h0m-.3-.2h0m0-1.7h0m-.1 0h0m-.4-1.2h0m-.2-.6h0m-.1 .3h0m-.6 2.4h0m-.1-2.9h0m-.9 .5h0m-.9 .5h0m0-.4h0m-.7 .2h0m-.4 3.4h0m-.9-1.5h0m-.2 .1h0m-.2-2.3h0m0 3.7h0m-.2 .2h0m-.4-2.9h0m-.2-1.3h0m-.5 4.4h0m-.3-2.1h0m-.2 2h0m-.6-3.1h0m-.3 .5h0m-.3 .2h0m-.7-.6h0m-.5 .8h0m-.2 1.2h0m-.3 1.5h0m-.3-2h0m-.1-.4h0m0 2h0m0-3h0m-.4 2.3h0m-.2-3.8h0m-.2 4.5h0m-.1-4h0m-.8 5h0m-.2-4.1h0m-.4-1h0m0 5.2h0m0-4.4h0m-.8 3.6h0m0 .4h0m-.2-.5h0m-.5-2.8h0m-.2 1.1h0m-.1-1h0m-.2 0h0m0-2.1h0m-.3 4.3h0m-.1 1.4h0m-.2-.3h0m-.5-1.8h0m-.6 .6h0m-.1 .5h0m-.1-3.9h0m-.3 .3h0m-.5 .2h0m-.2 4.5h0m-.1-1.6h0m-.5 0h0m0-1.6h0m-.1-.6h0m-.2 .4h0m-.4-2.3h0m-.1 .8h0m-.1 2.7h0m-.1-2.7h0m-.3 1.3h0m-.4-.2h0m-.3-2.1h0m-.5 2.6h0m2 3.9h0m.7 2.6h0m.1-1.9h0m1.2 .5h0m.2-.6h0m.8 3.5h0m.6-4.2h0m.3 .5h0m.1 .9h0m.5 .5h0m.1-1.2h0m0-1h0m.4 4.1h0m.1 1.3h0m.1-2.4h0m.4-2.9h0m.5 2h0m.4-1.9h0m.2 2.8h0m.4 .4h0m.2-1.9h0m.5 3h0m.2-.9h0m.3-.7h0m.3 .8h0m1.1-2.5h0m.2 1.3h0m.2 1.2h0m.1-.7h0m.2-2.8h0m.1 3.9h0m.3-2.4h0m0 2.9h0m0-1.1h0m.2-1.7h0m.3 3.1h0m.1-4.7h0m.6 3.3h0m.1-2.6h0m.2 4.1h0m.1 .2h0m0-1.6h0m.1-3h0m.2 .7h0m.1 2.2h0m0 1.6h0m.2-5.3h0m.1 1.3h0m.1-.1h0m0 1.1h0m.2 .4h0m.2 2.8h0m.2-2.2h0m.1-2.8h0m.1 5.3h0m.5-3h0m.4-.2h0m.1-.1h0m.1-2.4h0m.4 3.9h0m.6-1.2h0m.2-2.8h0m.9 5.5h0m.1 .2h0m.4-1.6h0m.2-1.6h0m.1 2h0m0 .1h0m.4-.3h0m0-4.2h0m.1 1.1h0m.5 3.1h0m0 .3h0m.1-2.8h0m.1-1.2h0m.1 2.7h0m.2 1.7h0m.1-4.7h0m0 3.9h0m.2 1.1h0m0-2.2h0m.3-2.1h0m.6 1.8h0m.4 2.2h0m.4-1.3h0m.3-.8h0m.2-1.9h0m.3 .7h0m0 .2h0m1.2-.1h0m.5 .9h0m0 1.4h0m.6-4h0m.8 5h0m.7-3.3h0m.1-.6h0m.3 0h0m.8 2.1h0m1.2-1.2h0m0-.5h0m0 2.6h0m.2-.3h0m.2-2.9h0m.4 2.6h0m.1-1.9h0m.1 2h0m.2 1h0m0 .6h0m.2 .5h0m.2-4.4h0m.7-1.4h0m.6 2.1h0m.1-.6h0m.1 3.6h0m1.1 .7h0m.1-2.2h0m0 .5h0m0 1.8h0m.2-3.5h0m.3 2.2h0m.3-.1h0m.1 1h0m0-5h0m.2 .6h0m.1-1.1h0m.5 .1h0m1 5.6h0m.3-2.1h0m0 .5h0m.1-2.3h0m.1 3.5h0m.1-.2h0m.2-4.2h0m.2-.7h0m1.3 1.8h0m.7-.4h0m-3.6 7.5h0m-1.7-1.6h0m-1 1.5h0m-1.6-.2h0m-.2-1.2h0m-.3 1.3h0m-.2-2.6h0m-.1 2.9h0m-.5-.4h0m-.3 .7h0m-.7 .7h0m-.4-3.2h0m-.2 3.7h0m-.3-3.8h0m-.1 3.1h0m-.1-3.7h0m-.3 3.6h0m-.2-2.4h0m0 0h0m-.2 1.7h0m-.2 2.4h0m0-3.1h0m-.8 2.2h0m-.2-4.6h0m0 1h0m-.9 2h0m-.2 1.2h0m-.3-.2h0m-.4-1.8h0m-.9-2.1h0m-.6 .9h0m0-.1h0m-.2 3.2h0m-.7 1.4h0m-.1-.7h0m-.1-.9h0m-.9-2.5h0m-.3-.8h0m-.4-.7h0m-.3 1.9h0m0-.1h0m-.1 3.5h0m-.7-3.1h0m-.2-.8h0m-.2 .8h0m-.3 3.1h0m-.6-2.2h0m-.2-1.4h0m-1.4-.9h0m-.4 2.9h0m-.4 .3h0m-.4-.5h0m-.1-1.3h0m-.6-2h0m-.2 3.5h0m-.6-1.2h0m-.3-1.9h0m-.9 .2h0m-.3 2.5h0m-.1-2.9h0m0 3.1h0m-.7-1.7h0m-.2 0h0m-.1 3.1h0m-.1-4.8h0m0 3.4h0m-.9-2.4h0m0 .2h0m-.3-.1h0m-.7 1.7h0m-1.5-2.5h0m-.8 1.5h0m-3.6-1.6h0m21.8 7h0" stroke="#36a35f" stroke-width="2.40" stroke-linecap="round" fill="none"/><path d="M344.2 220.9h0m2.3 .9h0m11.5 .1h0m3.3 2h0m-.3 3.6h0m-.2-2.9h0m-.3 2.3h0m-.6-1.7h0m-.1 1.1h0m-.5 .6h0m-.1 .8h0m-.3 .3h0m-.9-3.4h0m-.1-2h0m-1.2 4.6h0m-.1 .4h0m-.1-1h0m-.6-.6h0m-1-.3h0m-.9 .8h0m-.1-1.2h0m-.2 1.8h0m-.1-2.3h0m-1-.1h0m-.2 3.3h0m0-3.2h0m0-.1h0m-.1 3.1h0m0-5.3h0m-.4 .5h0m-.1 2.7h0m-.1 1.5h0m-.1-1.1h0m-.4 1.5h0m0-1.9h0m-.5-2.6h0m-.3 4.9h0m0-.4h0m-.4-.9h0m-.1 .5h0m-.5-2.7h0m-.2-2h0m-.5 3.3h0m-.1 .5h0m0-.2h0m-.3-2.7h0m-.1 1.7h0m-.7 .6h0m0 2h0m-.7-1h0m-.2 .9h0m-.1-4.6h0m-.7 4.1h0m-.1-3.6h0m-.2 2.5h0m-.2-.6h0m-.6 .1h0m-.1 1.6h0m-.2-1.2h0m-.4 1.7h0m-.6-1h0m-.6-1.9h0m0-1.1h0m-.4 3.4h0m-.2-1.2h0m-1.1 .7h0m-.1-.6h0m-1.2-.9h0m-.2 2.5h0m-.2-2.8h0m-.1-1h0m-.4 .2h0m-1.2 1.7h0m-.2 2.2h0m-.4-3.5h0m0 2.3h0m-.1-1.8h0m0 2.6h0m-.5-1.9h0m-.1 .9h0m0-.3h0m-.5 1.6h0m-.5-1h0m-.3-1.3h0m-1.5 .9h0m-.2 1h0m-.1-1.4h0m-.3 1.5h0m-.6-.4h0m-.3 .6h0m-1.6-.7h0m-.2 0h0m-.5 .5h0m-2-.6h0m-.6 .8h0m-.4 .1h0m-.1 .2h0m-5.7 .1h0m.4 3.8h0m.3 1.9h0m.6-3.3h0m0 3.1h0m.5-3h0m.3 .3h0m.7-2.5h0m.2 3.3h0m.1-2h0m.3 .6h0m.4 2.3h0m.3-4.3h0m.2 4.6h0m.3-4.5h0m.5 5.2h0m.9-3.6h0m0-.8h0m.2-.3h0m.1 2.8h0m.1 1.8h0m.5 .2h0m0-4.6h0m0 .5h0m.1 2.4h0m.4-1.9h0m.1 3.1h0m.6-.1h0m.2-1.3h0m.5 0h0m.1 1.4h0m.1-2.1h0m.6 1.7h0m.1-4h0m.1 2.8h0m.4 1.4h0m.2-3.9h0m.9 4.6h0m1.1-3.2h0m1.7 .6h0m.3 1h0m.1-.7h0m.6-2.2h0m.2 1.7h0m0-.8h0m.1 1.2h0m0-2.2h0m.3 .7h0m.8 2.3h0m0-1h0m.3-.6h0m.3-1.1h0m.3-.2h0m.1 .6h0m.2 .6h0m0 1.5h0m.6-3.4h0m0 2.3h0m.1-1.3h0m0 2h0m.3 2.2h0m0 .2h0m.5-.4h0m.1-4.3h0m.2-.2h0m0 2.8h0m.8 .3h0m.7-3.3h0m.2 .2h0m.4 1.3h0m.2 0h0m.3 1.1h0m.6-1.6h0m.3 .4h0m.1-1.9h0m.7 1.6h0m0 3.3h0m.6-2.4h0m.1-.7h0m.3 2.4h0m.1 .2h0m.7 .1h0m.2-3.9h0m.2 .8h0m.1 2.4h0m.4-2.3h0m.3 2.8h0m.3-1.4h0m.1 1.2h0m.4-2.3h0m.1 1h0m1.2 2.4h0m.4 .3h0m.2-2.4h0m0-2.6h0m.3 1.8h0m.7 3h0m.3-3.8h0m.7 3.4h0m1.3-2.1h0m.4 .2h0m.2 .1h0m.1-2.8h0m.2 4.7h0m0-3.4h0m.1 3.2h0m.3-4.9h0m.2 2.3h0m.7-.7h0m.5 .9h0m.2 .9h0m0-.1h0m.3 1.9h0m.2-1.3h0m0-2.2h0m.1 1h0m.2 .6h0m.1-1.9h0m.2-.2h0m.1-.4h0m.5-.2h0m.1 3.3h0m.1-1.2h0m.1 1.2h0m.2-1.8h0m.5-1.9h0m.1 .2h0m0 .8h0m.8 .1h0m0 3.3h0m.2 .4h0m.6-5h0m.7 .2h0m.2 2.6h0m1 .6h0m-3.1 3.1h0m-.1 .4h0m-.2-.5h0m-1.5 3.9h0m-.6 .7h0m-.3-4.8h0m-.5 1.9h0m-.2 2.9h0m-.6-1.5h0m-.5-.8h0m0-1.6h0m-.4 4.5h0m-.1-.4h0m0-2.7h0m-1.1-2.2h0m-.7 2.8h0m-.3 .6h0m-.4-2.7h0m0-.1h0m-.1 .3h0m-.5 .2h0m-.7-.1h0m-.3-.1h0m-.4-.5h0m-.4 2.2h0m-.6-1.6h0m-.3 .1h0m-.5 1.3h0m-.9 .6h0m0 1.9h0m-.2-1.5h0m-.1-1.3h0m-.1 .4h0m-.2-2.2h0m-.8 3.2h0m0-2h0m-.8-1.8h0m-.1 3.1h0m-.6-3.2h0m-.2 1.2h0m-.3 0h0m-.1 1.2h0m-.6-1.2h0m-.3 3.4h0m0-.5h0m-.1-1.4h0m-.6-1h0m-.2 3.1h0m-.5-3.1h0m-.1-1h0m-.5 0h0m-.6 4.3h0m-.8 .3h0m-.6-5h0m-.1-.3h0m-.2 3.1h0m-.1 2.8h0m-.2-1.9h0m-.3-2.3h0m-.7 .8h0m-.2 1.1h0m0-2.8h0m0 3.3h0m-.3-4h0m-.2 3.8h0m-.3-1.1h0m-.1-2.3h0m-.8 .6h0m-.4 2.5h0m-.8-1.4h0m0-1.2h0m0 2h0m-.6 .1h0m-.5 2.5h0m-.1-4.4h0m-.5 3.5h0m-.2-4.2h0m-.1 5.3h0m-.2-5.4h0m-1.1 3.3h0m-.1-3.7h0m0 3.7h0m-.2 1.5h0m0-3.7h0m-.1-1.4h0m-.1 1.2h0m-.7-.1h0m-.6-.4h0m-.5-.2h0m-.1 4.1h0m0-3.5h0m0 2.3h0m-.2 .5h0m-.3 1.7h0m-.4-3.9h0m-.2-.4h0m-.1 3.7h0m-.4-4.9h0m-.1 5h0m-.8-.7h0m-.3-2.1h0m-.1-.4h0m-.1 1.1h0m-.6 1.7h0m-1-.8h0m-.6 1.8h0m0-4.5h0m-.9-1.1h0m-9.2 3.6h0m-.4-1.6h0m-.1 3.6h0m-.3-1.1h0m-.3-2.7h0m-.3 .9h0m-.8-1.8h0m-.1 2.6h0m-.2-1.2h0m-.4 .6h0m-.2 1.1h0m-.4-2.6h0m-.2 .6h0m-.4 1.3h0m-.1-2.9h0m-.4 1.8h0m0-1h0m-.5 .1h0m-.7 2.2h0m-1-2h0m-.3-.7h0m3 5.3h0m.4 1.4h0m0 .4h0m.3-1.8h0m1.5 2.2h0m0-1.5h0m.7-1h0m.1 .6h0m.1-.3h0m.4 .1h0m.3 1.1h0m.1 3.5h0m.7-3.5h0m0 3.7h0m.1-2.2h0m1 3h0m0-4.2h0m.2 1h0m0-2.7h0m.3 2.3h0m0 3.1h0m.6-1.2h0m1.1-1h0m.1 .4h0m1.1-1.1h0m.2 1.5h0m.2-2.7h0m.3 4.2h0m.1-2.9h0m.1 2.3h0m.6-.3h0m.1-1.7h0m.5 1.8h0m.4-.6h0m0 1.3h0m0-1.5h0m.6-2.9h0m.2 1.8h0m.2 .3h0m.2 .4h0m.3-2.3h0m.6 1.5h0m.2-2.2h0m1.3 .1h0m.6 1.5h0m.2 0h0m.2-.1h0m0 1.8h0m.2-2.6h0m.5 1.2h0m.1 1h0m.5-.4h0m.1 1.2h0m.2-2.7h0m.3 2h0m.2 .7h0m.3 .2h0m.2 1.4h0m.3-1.9h0m.1-.6h0m0-1.5h0m.5 3.4h0m.5-4.5h0m.1 1.6h0m.3-.2h0m.1 2.5h0m1.1-1.4h0m.7 .3h0m.4 1h0m1.2-4.5h0m.1 2.2h0m.5 .3h0m.3 2.7h0m.1-2.5h0m.7 1.6h0m.6-2.9h0m.4 2.8h0m.3-4h0m.3 2.6h0m.9 2.1h0m1-.6h0m.1-.2h0m.7-3.6h0m0-.4h0m.2 .4h0m0 3.5h0m.2-2.8h0m.1 1.8h0m.5 .4h0m.4-1.4h0m1.2-1.6h0m.4 2.1h0m.3-2h0m.3 .5h0m.3 .5h0m.4-1.3h0m.5 .4h0m.3 3.8h0m.8-2.7h0m.1 1.8h0m2.2-2h0m.1 1.6h0m.2-2.2h0m0-.3h0m.1 2.5h0m0-1.7h0m.1 1.6h0m0-2.6h0m.2 3.8h0m.2 1.6h0m.1-2.5h0m.1-1.8h0m0 .5h0m.8 1.1h0m.2 1.8h0m.1-3.2h0m0-.8h0m.5 3.8h0m0-.8h0m.1-1.2h0m.5-2.7h0m.5 3.1h0m.3 .2h0m0 1.7h0m.1 .9h0m.1-5.4h0m0-.2h0m0 3.8h0m.2 .1h0m.1-3.2h0m.2 2h0m.4 .3h0m.1-.3h0m0 .1h0m.6 1.2h0m0-2.5h0m.5-1.6h0m.1 .8h0m0-1h0m.4 2.3h0m1.5 .3h0m-6.3 3.5h0m-.9 .7h0m-.7 1.6h0m-1 .8h0m-.5-3.1h0m-.7 3.1h0m-.1 .3h0m-.9-2.9h0m-.1 2.7h0m-.8-2.7h0m0-.2h0m-.1 3.8h0m-.2 .7h0m-.5-3h0m-.3 2.3h0m-.3-3.7h0m-.4 4.6h0m-.8-.7h0m-.4-.8h0m-.7 1.8h0m0-.5h0m-.1-2.4h0m-.1 3.3h0m-.1-5.5h0m-.3 1.8h0m0-1.8h0m-.6 3h0m-.4 1.9h0m-.2-4.2h0m-.2 4.8h0m-.1-2.1h0m-.1-1.6h0m-.1-2.1h0m-.1 .4h0m-.5 2.5h0m-.4 1.3h0m-.1-.2h0m0-1.2h0m-.3-1.3h0m-1.4 4.3h0m-.2-1.1h0m-.2-1.6h0m-.3-.8h0m-1.7 .5h0m-.5-1.6h0m0 .4h0m-1.7 3.9h0m0-5.4h0m-.1 5.1h0m-.1-.7h0m-.3-2.4h0m-.7 1.6h0m-.3-.4h0m-.1-2h0m-.1-1.4h0m-.3 2.6h0m-.2 1.5h0m-.2-3.8h0m-.2 3.6h0m-.2 .5h0m-.3-3.2h0m-.7 3.8h0m-.9-2.9h0m-.1-1h0m-.4 3.9h0m-.8-1.3h0m-.2-2.1h0m-2-.3h0m-1.1 .3h0m-.8 .7h0m0-2h0m-.5 .8h0m0 1.9h0m-.3-2.7h0m0-.1h0m-.7 1.5h0m-4.9-.8h0m20.7 6.9h0m1.2-1.4h0m1-.1h0m2.2 1.6h0" stroke="#5a48a8" stroke-width="2.40" stroke-linecap="round" fill="none"/><path d="M272 185.1h0m0-.2h0m1.1 .2h0m.6 .4h0m1.1-.4h0m0-1.1h0m.3 1.2h0m1.3-2h0m.4 2h0m1 .3h0m.4-1.6h0m.4 2h0m.3-.6h0m.8 0h0m1.6-2.6h0m.1 .3h0m.4 1.7h0m.4 .4h0m.8 0h0m.2-.7h0m.1 1.5h0m6.1 0h0m7.8-.8h0m7.4 .8h0m9.8 4.5h0m-.7 0h0m-1.4-.1h0m-2.1 .3h0m-.9 .8h0m-.1-1.9h0m-.3 .3h0m-.1 1.3h0m-1.2-3.7h0m-.2 3.3h0m-.3 .4h0m-.6-2h0m-.2 2.6h0m0-.9h0m-.3-1.1h0m-.6 .3h0m0-.2h0m-.8-1.4h0m-.1 .7h0m-.8 2.3h0m-.3 .4h0m-.5-1.4h0m-.5-1h0m-1.2 .4h0m-.8-2.9h0m-.4 2.2h0m-.1 2.2h0m-.4-1.8h0m-.3-1.6h0m-.4 1.2h0m-.3 2.8h0m-.1-4.8h0m-.1 .5h0m-.1 1.4h0m0-1.1h0m-.4 .2h0m-.4 2.6h0m0-1h0m-1.6-.7h0m-.3-.3h0m-.3 .1h0m0-.8h0m0 4h0m-.3-4.5h0m0 2.8h0m-.3-2.7h0m-.4-.2h0m-.6 2h0m-.3 .1h0m-1.1-2.5h0m-.1 2.9h0m-.6 1.2h0m0 .7h0m-.4-3.7h0m-.2 1h0m-.2-3h0m-1.1 4.3h0m-.4-1.5h0m-.2 .4h0m-.8 2.5h0m-.8-4.2h0m-.3 1.7h0m-.7-3.1h0m-.1 .9h0m-.4 3.5h0m-.1-.3h0m-.9-.4h0m-.3-2.2h0m-.3-1.4h0m-.1 1.6h0m-.4-1.1h0m-.4 4.8h0m-.1-4.7h0m-.1 .4h0m-.1 2.3h0m-.1 1.5h0m-.1-3.9h0m-.3 1.5h0m-.3 2.2h0m-.2-4.4h0m-.4 5.2h0m-.2-5.6h0m-.5 5.8h0m-.4-1.9h0m-.3 1.3h0m-.1-3.3h0m-.1 1.6h0m-.1-3h0m-.3 4.3h0m-.4 .1h0m0-2h0m-.2-.6h0m0 3.1h0m-.1-1.2h0m-.7-2.9h0m-.4 2.7h0m-.1-3.9h0m-.1 5.7h0m-.1-3.1h0m-.5 2.6h0m-.4 .2h0m-.8-2.5h0m-.2-2.7h0m-.2 .6h0m0 3.4h0m-.2-.1h0m-.2-2.1h0m-.2 .5h0m-.1 1.9h0m-.1-3.4h0m-.2 3.1h0m0-.2h0m0-2h0m-.3 1.3h0m-.8 1.5h0m-.4-4.7h0m-.5 5.2h0m-.7-3.8h0m-.1-.7h0m-.4 2.5h0m-.1 2.2h0m-.5-5.5h0m-.2 3.3h0m-.2-1.3h0m-.2 1.3h0m-.7-.5h0m-.1-.2h0m-.2-.7h0m-.3 3h0m-.1 1.6h0m1.5 2.5h0m.5 .1h0m0-2.1h0m1.2 1.3h0m0-.8h0m.2-1.1h0m.5 3.1h0m.1 .3h0m.8-2h0m.5 .3h0m.2 .1h0m.6-.7h0m0 .6h0m1.3 2.1h0m.2-2.5h0m0-.9h0m.5 0h0m.5 .6h0m.4 .4h0m0-1.9h0m.3 4.6h0m0-4.3h0m.1 2.1h0m.2 .9h0m.3-.8h0m.7 1.2h0m1-2.6h0m.4 2.4h0m1.3-2.5h0m.6 3.7h0m.5-3.3h0m1 4.6h0m1.6-3.6h0m.2-.4h0m1.1-.4h0m.5 2.5h0m1.1-1.5h0m.4-1.8h0m.1 1.2h0m.6 1.4h0m.5-1.9h0m1.4 3.6h0m0-.9h0m.6 1.6h0m0-4.5h0m.3 3.4h0m.2 .3h0m.1-2.6h0m.4-1.8h0m.3 5.1h0m.4-5.1h0m.4-.2h0m.2 3.9h0m.1-2.4h0m.1 3.8h0m.3-1.1h0m.4-2.4h0m.3-.2h0m.7 3.6h0m.1-3.7h0m.6-.3h0m.5 .8h0m.1-1.7h0m.2-.7h0m0 .6h0m.5 4.4h0m1.6-4.3h0m.2 .1h0m0 4.3h0m.5-5.1h0m.1 5.4h0m.2-2.7h0m0-1.4h0m.3 2.7h0m.8-.4h0m.1-3.5h0m.3 .6h0m0-.1h0m1.2 1h0m.3-.2h0m.2-.9h0m.5 3.7h0m.1 1.5h0m.1-2.1h0m.3 1.7h0m.7-4.8h0m.9 1h0m.3 2.3h0m.1-3.2h0m.7 4.8h0m0-3.1h0m.4 2.6h0m.5-.7h0m.1-.5h0m.1-2.3h0m.8 1.4h0m.6 .5h0m.5-1.3h0m.5 .5h0m.4 2.5h0m.5-1.9h0m.4 1.6h0m.1-1.5h0m.7 1.1h0m.1-2.2h0m.7-2.1h0m.4 3.1h0m.3 0h0m.2 1.1h0m.6-2.3h0m.4 .3h0m.6-1.5h0m.1 .2h0m.1 1.3h0m.9-.2h0m-2.4 5.1h0m-1.5-.1h0m-.2-.8h0m-1.2 1.7h0m-.5-1.7h0m-.3 1.1h0m0 .4h0m-.1 1.6h0m-.7-.7h0m-.5-.5h0m0 1.9h0m-.4-.6h0m0-.7h0m-.1-.2h0m-.2 .8h0m-.1 2.4h0m-.1-5.3h0m0 2.7h0m0 1.3h0m-.1-1.8h0m-.4-2.5h0m-.2 3.9h0m0-3.6h0m-.1 3.2h0m-.6 2.2h0m-.3-4.1h0m-.1 2.5h0m-.3-.2h0m-.1-2.4h0m-.5 0h0m-.1 1.4h0m-1.4 2.5h0m-.5-.4h0m-.9-1.8h0m0 .1h0m-.2 .3h0m-.8-2.8h0m0 1.3h0m-.7 .8h0m-.2-.8h0m-.9-1.2h0m-.8 3.9h0m-.2-1.9h0m-.1 0h0m-.3 2.1h0m-.1-4.8h0m0 1.8h0m-1.1 1.9h0m-.2-2.8h0m-.5-.2h0m-.2 4.1h0m-.2-3.5h0m-.1 1.5h0m-.2-2.5h0m-.4 3.8h0m-.2-3.7h0m-.1 1.8h0m0 .9h0m-.2-1.4h0m-.1-1.6h0m-.2 3.6h0m0-.7h0m-.1 .1h0m-.1-.9h0m-.1-.4h0m-.2 .9h0m-.6 1.4h0m-.5-2h0m-.1-2.2h0m-1 3.2h0m-.3-2.1h0m0 2.5h0m-.1 .6h0m-.2-2.4h0m-.2 .6h0m-.1-1.8h0m-.4 .7h0m-.2 3.3h0m-.1-2.7h0m-.7 1.6h0m0-1.4h0m-.4-1.7h0m-.2 1.7h0m0 .9h0m0-2.7h0m-.1 1h0m-.4 3.5h0m0-1.1h0m-.6-3.7h0m0 3.1h0m-.3 1.5h0m-.1-4.4h0m-.6 5.1h0m-.2-3.4h0m-.5 .5h0m-.2-.2h0m-.1 3.6h0m0-5.3h0m-.5 3.8h0m-.2-4.1h0m-.2 1h0m-.3 4.1h0m0-2.5h0m-.3 2.9h0m-.4-5.7h0m0 .7h0m-1.1 3h0m-.2 1.5h0m0 .2h0m-.1-3h0m0-.5h0m-1.2-2h0m-1.4 .1h0m-.1 .4h0m-.7 1.3h0m-2-1.2h0m-.6-.4h0m-.8-.1h0m7.5 6.2h0m.9 1.1h0m.9 2.6h0m1.2-1.4h0m.4-2.6h0m.6 1.7h0m.4-.7h0m.2-.8h0m.2 .5h0m1.7 2.7h0m.7-.7h0m.1-.7h0m.1-1.7h0m.6-.1h0m.1 2.3h0m.1-1.5h0m.4 2.1h0m.2 .7h0m.2-2.3h0m.2 1.9h0m.5-1.5h0m1.4 2h0m.7-1.6h0m.2 2h0m.6-3.6h0m.1 .4h0m.2 1.3h0m1-.5h0m1-1.1h0m1 1.4h0m0-1.2h0m1.6 1.6h0m.3-2h0m.5 .1h0m.2 1.4h0m.7 .2h0m1-1h0m1.6-.9h0m.2-.1h0m2.2-.3h0" stroke="#c66ab4" stroke-width="2.40" stroke-linecap="round" fill="none"/><path d="M320.2 162h0m.7-1.1h0m.3-1.5h0m1.5 2.3h0m.5-.2h0m.5-.4h0m.2 .3h0m.8 .3h0m0-.5h0m.1-4.6h0m.2 4.9h0m.6-3.2h0m.4 3.5h0m.2-2.2h0m.1-1.8h0m.3-.4h0m1 2.4h0m.4-.1h0m.2 1.4h0m.5-.9h0m.3-3h0m1.1 .4h0m.1-.5h0m.4 2.6h0m.3 .7h0m1.3-.5h0m-1.5 2.1h0m-.2 .4h0m-5.4 2.4h0m-1.6-.1h0m-.3-1.8h0m-.1 1.9h0m-1.4-.9h0m-.7-1.5h0" stroke="#b3375e" stroke-width="2.40" stroke-linecap="round" fill="none"/><text x="346.0" y="195.5" font-size="5.6" font-weight="bold" text-anchor="middle" stroke="#000" stroke-width="0.18" >0</text><text x="323.5" y="212.0" font-size="5.6" font-weight="bold" text-anchor="middle" stroke="#000" stroke-width="0.18" >1</text><text x="303.0" y="176.0" font-size="5.6" font-weight="bold" text-anchor="middle" stroke="#000" stroke-width="0.18" >2</text><text x="293.5" y="223.5" font-size="5.6" font-weight="bold" text-anchor="middle" stroke="#000" stroke-width="0.18" >3</text><text x="339.0" y="238.0" font-size="5.6" font-weight="bold" text-anchor="middle" stroke="#000" stroke-width="0.18" >4</text><text x="295.0" y="198.0" font-size="5.6" font-weight="bold" text-anchor="middle" stroke="#000" stroke-width="0.18" >5</text><text x="323.5" y="164.0" font-size="5.6" font-weight="bold" text-anchor="middle" stroke="#000" stroke-width="0.18" >6</text><path d="M467.4 166.1h0m-.8 1.6h0m-1.7-1.1h0m-.4 1.2h0m-1.1-.1h0m-3.8 .4h0m-3.1-1h0m-2.8 1.2h0m-6.8 4.1h0m.1 .6h0m1.4-2.9h0m.1 2.3h0m.4-.3h0m0-.6h0m.3 1.7h0m.6-2.2h0m.1 2h0m.6 1h0m.3-4.4h0m.4 2h0m.3 1.3h0m.4-3.4h0m.5-.6h0m0 .5h0m.3 1.4h0m.5 3.3h0m.7-1h0m.3 .5h0m.7-2.5h0m.3-1.5h0m.4-.8h0m0 .3h0m.1-.6h0m.1 5.1h0m.3-3.1h0m.1 3.1h0m.2-2.1h0m.1 .3h0m.3-.1h0m.2 1.1h0m.8 1.3h0m.3-5.5h0m.5 3.7h0m.2-.7h0m.2-2.3h0m.1-.3h0m.1 1.7h0m0-.9h0m.1 4.2h0m.1-1.3h0m.1-1.2h0m.8 .5h0m.1-.3h0m.1-3.4h0m0 1.3h0m.7 .9h0m.2 3.3h0m.1-5.2h0m.3 4.2h0m.1-2.2h0m.7 1.2h0m.5-3.2h0m0 0h0m0 1.9h0m1.1 3.7h0m.3-5.6h0m.1 3.2h0m0 .2h0m.3-.5h0m.3-.2h0m.3-1.8h0m.3 3h0m.2-1.8h0m.4 2.2h0m0 .4h0m.7-1h0m.5-3.5h0m.4 4.2h0m.1-.8h0m.4-2h0m2.3-1.1h0m.1 1.2h0m.1 1.5h0m.5 1.6h0m0-.8h0m.2-2.9h0m.4-.4h0m.1 4.7h0m.2-1.3h0m.6 1.4h0m.1-1.8h0m.3 .4h0m.7-.6h0m.1-1.3h0m2.9 1.5h0m.6 .9h0m.4 .4h0m.4 .3h0m4.1 4.6h0m-.1 1.4h0m-.1-2.3h0m-1.1 1.9h0m-.4-4.3h0m-.1 1.3h0m-.1 1.7h0m-.1-3.1h0m-.1 1.4h0m-.1-.8h0m-.2 .6h0m0-.6h0m-.2 4.2h0m-.3-4.7h0m-.1-.2h0m-.2 2.5h0m-.4 2.6h0m-.1-2h0m-.3 .7h0m-.2 .7h0m-.5-4.5h0m-.1 3.2h0m-.5-2.6h0m-.1-1.2h0m-.1 .2h0m-.7 1.6h0m0-.6h0m-.2 1.9h0m-.5-2.1h0m0 2.4h0m-.1-.1h0m-.4 1.1h0m-.8-.2h0m0-1.3h0m0 2.1h0m-.2-2.2h0m-1 1.1h0m-.6-.1h0m0-.9h0m-.9 .4h0m0-.1h0m-.1 .3h0m-.1-.6h0m-.1 .9h0m-.5-.8h0m-.3-1h0m-.8-2h0m-.3 3.9h0m-2-3.4h0m-.4 4.2h0m-.7 1.1h0m-.2-1.3h0m-.9 .9h0m0-3.2h0m-.2-1.5h0m-.1 4.7h0m-.2-5.4h0m-.4 3.7h0m-.2-1.3h0m0 1h0m-.1-.2h0m-.2-2.7h0m-.9 .7h0m-.2 .6h0m0 2.6h0m-.5-3.5h0m-.5 1h0m-.3 2.8h0m-.2-4.1h0m-.5 2.4h0m-.2-.1h0m0-.4h0m-.4-.3h0m-.3-1.8h0m-.5 0h0m0 2.8h0m-.3 2.2h0m-.1-2.1h0m-.2-.2h0m-.3-2h0m-.3 3.4h0m-.6 1.1h0m-.5-2.6h0m-.1 1.3h0m-.2-.8h0m-.2 1.1h0m-.1-3.7h0m-.3 3.1h0m0-3.2h0m-.5 4.8h0m-.2-1.7h0m-.4-1.5h0m0-.2h0m-.2 3.5h0m0-5.6h0m-1.1 1.1h0m-.4 2.6h0m-.3 1.9h0m-.3-.3h0m0-2.7h0m0 3h0m-.3-4.9h0m-.1 2.7h0m-.1 .4h0m0-2.2h0m-.2 2h0m-.2 .9h0m0 .6h0m-.1-4.9h0m-.3 2.9h0m0 0h0m-.1-.5h0m-.4 3.2h0m-.1-3.3h0m-.1 2.6h0m-.1-.8h0m-.2-1.8h0m0 3h0m-.3-2.3h0m-.1 1.1h0m-.2-1.5h0m-.1-.9h0m-.9 3.7h0m-.3-3.8h0m-.6 .7h0m-.1 1.9h0m-.6 .5h0m-.6-3.7h0m-.1 1.7h0m0 .6h0m-.6-1.9h0m-.4 2.7h0m0-1.3h0m0 .2h0m-.1-.3h0m-.1-1.1h0m-.3 2.9h0m-.3 .7h0m-.4-3h0m0 1.9h0m-.4 .2h0m-.1-3.9h0m0 3.9h0m-.2 .5h0m-.7 .4h0m-1 .1h0m-1.3 .2h0m.1 3.4h0m.9 .7h0m0-.6h0m.2 1.3h0m.2-3.5h0m.1 3.9h0m.6-3.6h0m.1 4.2h0m.6 .2h0m.1-5.6h0m.1 4.5h0m.2-3.9h0m.2 3.9h0m.2-1h0m.3-3.7h0m.9 1.4h0m0 4.5h0m1.5-4.7h0m.1 2.7h0m.2-.1h0m.5-.4h0m0 .5h0m.5 .4h0m.4-.4h0m.1 .5h0m.1-3.4h0m0-.6h0m.3 2.8h0m.4 1.9h0m.2-4.8h0m.5-.3h0m.6 3.3h0m.1 1.5h0m0-3h0m.2-1.9h0m0 2.9h0m1-2.7h0m.1 1.5h0m.1-.7h0m.1-.3h0m.1 .1h0m.2 4.4h0m1.6-4.6h0m.2 2.7h0m.3-1.6h0m.7 3h0m.6 .2h0m.7-2.7h0m.3-2.2h0m0 4.6h0m.1 1.1h0m.2-.5h0m.1-4.7h0m.4 4.1h0m.9-3.5h0m.4 1.2h0m.5-1.6h0m.1 5h0m.2-3.4h0m.2-.5h0m1-.9h0m.1-.8h0m0 3.3h0m.1-.1h0m.1 2.5h0m.7-2.8h0m.1 .9h0m.1 2.1h0m.3-3.5h0m1.2-1.5h0m0 2.1h0m0-1h0m.1-.5h0m.2 2.9h0m.4-3.1h0m.1 4.3h0m.1-2.9h0m1.2-1.3h0m.4 2.8h0m.3 .6h0m.3-4.2h0m.1 4.6h0m.2-2.5h0m0-1.8h0m.2 2.8h0m0-2.1h0m.9-.7h0m.6 2.8h0m.4 1.2h0m.2-3.8h0m.4 1.6h0m0-2.6h0m.1 .1h0m.2 5.4h0m0-.3h0m.1-1.7h0m.1 2h0m0-5.4h0m0 .8h0m.1 1.4h0m.2 3.5h0m.5-3.5h0m.1 .8h0m.5-3h0m.3 3.8h0m.7-.9h0m.1-1.5h0m1.4-1.3h0m.3 .8h0m.3-.7h0m0 1.7h0m.3 .7h0m0 2.2h0m.3-2.5h0m.2-2.4h0m.2 .2h0m.2 .2h0m.1 3h0m.1 2.2h0m.4-4h0m0-1.7h0m.4 2.9h0m.5 1.7h0m.3-.8h0m0-1.4h0m.1 1.7h0m.1 .9h0m.4-4.7h0m0 3.3h0m0-.5h0m.1 2.1h0m.1-.1h0m.2-2.4h0m.1-1.6h0m.5 4.6h0m0-3.5h0m.1-2h0m.6 .2h0m.2 4h0m.1 .8h0m.7-2.2h0m0-.2h0m.5-1.6h0m.8 3.3h0m.3-3.4h0m1.4 4.5h0m.2-3h0m.9 2.4h0m.6 .1h0m.5 0h0m2 3.7h0m-1.1 2.9h0m-.3-3.2h0m0 .7h0m-.4 1.6h0m-.5-4.5h0m-.5 2.3h0m-1-.4h0m-.1 2.4h0m-.5-1.6h0m-.2 2.7h0m-.6-3h0m-.9-1.5h0m-1.1 .6h0m-.3 1.1h0m0-2.4h0m-.2 2.3h0m-.2 .9h0m-.3 0h0m-.8-3.5h0m-.4 .9h0m-.2-1h0m-.7 4.8h0m-.2-4.9h0m-.1 1h0m0-.9h0m-.1 2.3h0m-.4 3.5h0m-.4-3.9h0m-.4 2.6h0m-.3 1.1h0m-.1-2.3h0m-.6 1.7h0m-.6-1.8h0m-.1-2.8h0m-.2 1.7h0m-.1 .6h0m-.1 2.1h0m0 .8h0m-.3 .2h0m-.2-.9h0m0-4.6h0m-.2 2.5h0m-.2 1.5h0m-.2-1.7h0m-.3 2.3h0m0-3.7h0m-.1 2.8h0m-.1-2h0m-.8-.5h0m-.2-1.3h0m-.1 1.1h0m-1.1-.3h0m-.1 .7h0m-.1 1.1h0m-.4 1h0m-.2-2.3h0m-.1 3.7h0m-.4-3.2h0m-.5 1h0m-.7 .2h0m-.1-2.1h0m-.1 3.1h0m-.1-3.9h0m-.1 2.7h0m-.1 2.6h0m-.2-1.3h0m-.2-2.7h0m0-1h0m-.1 2.8h0m-.1-3.4h0m-.3 .9h0m-.2 4.5h0m-.5-.9h0m-.4-3.4h0m-.1 1.2h0m-.5-.5h0m-.1 2h0m-.1 1.5h0m-.1-3.1h0m-.2-.4h0m-.1 .4h0m-.1 2.2h0m-.3-2.6h0m-1.3 3.1h0m-.3-3.4h0m-.2 1.7h0m-.1-2.3h0m-1.1 4.6h0m-.6-.9h0m-.9-2.3h0m-.1-1.6h0m-.1 3.3h0m-.4-4h0m-.6 2.3h0m-.3 2.1h0m0-4h0m-.7 2.9h0m-.1-.5h0m-.9 .5h0m-.1-1h0m-.1 1.7h0m-.5-1.3h0m-.2-2.4h0m-.1 5.1h0m-.5-2.4h0m-.2 2.5h0m-.1-4.6h0m-.1 4.2h0m0-.7h0m-.4-1.8h0m-.4-.6h0m0 2.5h0m-.1-4.4h0m-.3 3.6h0m0-.1h0m-.2-.6h0m0-3h0m-.3 2.3h0m-1.1 3h0m-.1-4.1h0m-.1 3.2h0m-.4-4.4h0m0 5h0m-.1-1h0m-.1-1.4h0m-.7 1.6h0m-.3-1.5h0m-.5 .5h0m0-1.9h0m-.6 1.2h0m-.1 2.3h0m-.8-1.4h0m0-1.8h0m-.6-1.6h0m-.2 .7h0m-.5 .7h0m-.1 3.7h0m-.5-5.3h0m-.8 5.1h0m-.4-.3h0m0 .5h0m-.3-1.6h0m-.1 2.3h0m-.4-5.4h0m-.8 4h0m-.3 1.4h0m0-1.1h0m-.1-1.5h0m-.1-.3h0m-1.1 1.1h0m-.2-1.5h0m-.1-1.3h0m-.7 1.5h0m-.1 3.1h0m-.1-1.9h0m.8 5.9h0m1.8-2.7h0m.1 2.1h0m.7-.6h0m.2 1.5h0m.2-1h0m.9-2.6h0m.2 2.4h0m.1 1.4h0m.1 .5h0m.4-1.4h0m.2 1.3h0m.2-4.7h0m.5 2.8h0m.9 .2h0m.2 2.6h0m0-3.8h0m.5-1.1h0m.1-.1h0m1.3 3.8h0m.1-4h0m.3 2h0m0-1.5h0m.1 1.9h0m1.1-1.7h0m.4 2.9h0m.7 .7h0m.2-.1h0m.4-.6h0m0-.7h0m0 1h0m.1-3.5h0m.2-1h0m2.7 .4h0m1.7 1.8h0m.3 .7h0m.2-.9h0m.1 3.1h0m.3-4.9h0m.8 1.7h0m.4 4h0m0-5.1h0m.5 2.4h0m0 .6h0m.7 .7h0m.3-3.6h0m0 4.6h0m.6-2.7h0m0-1.4h0m.1 4.2h0m.4-.5h0m.3-1.8h0m.6 .9h0m0-.8h0m.4-3.3h0m.2 5.5h0m.5-.2h0m.1-5.3h0m.3 .7h0m0-.2h0m.2 4.6h0m.1-1.9h0m.3 1.6h0m.2-1h0m1.1-.9h0m0-2.7h0m.4 3h0m.2 1.9h0m1.2-4.5h0m0 .5h0m.2-.1h0m.4-.2h0m.2 3h0m0-.7h0m.2 .6h0m.6 .4h0m.2-3.6h0m.2 .7h0m.1 .3h0m.4-.9h0m1 3.7h0m.3-3.5h0m.6 .5h0m.1 1.4h0m.5 1.6h0m.1-2.6h0m.1 1.7h0m.4-3.2h0m.1 5.5h0m.3-5.5h0m0 .8h0m.4 3.1h0m.2 .6h0m.8-.3h0m.1-1h0m.6-.2h0m.2 .2h0m.5-2.6h0m.4 3.1h0m.3-2.3h0m.4-.4h0m.1 3.6h0m.7-3.8h0m0 2.3h0m2 1.7h0m0-2.9h0m.7 1.9h0m.4-1.4h0m.5-1.7h0m0 2.6h0m.2 2.2h0m.4-4.7h0m0 .9h0m.6-.1h0m.2 .8h0m.1 .9h0m.3-.3h0m0 .1h0m.1-1.5h0m0-1.4h0m.2-.5h0m.3 3.6h0m0-3.4h0m.9-.1h0m.5 1.8h0m0 1.3h0m0-2.5h0m.3 3.1h0m0-.6h0m.1-.9h0m0 .9h0m.3 0h0m.3 .5h0m.2-3.3h0m-1.4 6.1h0m-1 .7h0m-.1-.3h0m-.2 4.8h0m-.3-1.4h0m-.3 .5h0m-.2-2h0m-.5-.3h0m-.1 2.4h0m-.2-4.6h0m-.1 .6h0m-.5 3.4h0m-.1-3h0m-.4 2.2h0m-.2-2.6h0m-.4 3.8h0m-.5-1.9h0m-.3 3.1h0m0-4.8h0m-.3 4.5h0m0-.3h0m-.2-3.7h0m-.2 2.8h0m-.4-4h0m-.2 2.2h0m-.4 .4h0m-.8 2.3h0m-1.1-2.6h0m-1.7-2.1h0m-1.3 5.2h0m-.2-1.4h0m-.4-1h0m-.2 2.3h0m-.9-1.1h0m-.3-2.4h0m-.1 1.3h0m-.5-1.9h0m0 2.1h0m-.6 1.7h0m0-.1h0m-.4 .5h0m-.2-.1h0m-.3-.5h0m-.6 0h0m-.3-3.4h0m-.5-1.2h0m-.2 4.2h0m-.1-2.4h0m-.3-1.5h0m-.1 1.3h0m0 3.5h0m-.1 .1h0m-.1-2.9h0m-.1 3.1h0m-.3-6h0m-.7 2h0m-.3 .4h0m-.3 3.6h0m-.1-1.6h0m-.2-3.9h0m-.7 5.3h0m0-4.3h0m-.6-.6h0m-.3 2h0m-.2 2.8h0m-.3-.3h0m0-.6h0m-.3-4.1h0m-.1 2.8h0m-.3-2.7h0m-.6 4.5h0m-.1-2.4h0m-.4-.7h0m-.5 .4h0m-.3-.3h0m-.3-1.5h0m0 .9h0m-.3 3.4h0m-.5-3.1h0m-.6 .5h0m-.5-1h0m-.1 2.8h0m-.2-2.3h0m-.7-1.1h0m-.9-.5h0m-.2 .2h0m-.5 2.7h0m-.4-2.7h0m-.6 2.7h0m0-2.6h0m-.4 1h0m-.5 3.7h0m-.1-4.2h0m-.3 1.5h0m0 2.6h0m-.5-1.5h0m-.2-2.8h0m0 1.4h0m-.2-.6h0m-.4 3.6h0m-1.2-4.2h0m-.2-.9h0m-.1 1.4h0m-.2 1.9h0m-.2 2.2h0m-.4-3.8h0m-.2 .8h0m-.3 1.2h0m0-.7h0m-.1-.9h0m0 .3h0m0-.2h0m-.3-.6h0m-.1-1.6h0m-.3 1.6h0m-.2 .8h0m-.1 2.3h0m-1.4-4.2h0m-2-.7h0m4.8 6.5h0m1.3-.4h0m0 .3h0m.2 1.5h0m.7 2.7h0m.4-1.8h0m.6 1h0m.3 1.4h0m.3-1.9h0m.4-2h0m.1-1h0m1.4 0h0m.1 4.7h0m.4-1.4h0m.3 .8h0m.3-2.9h0m.1-.1h0m.1 1.3h0m.1 1.6h0m.1-4.3h0m1.3 2.3h0m.1 2.6h0m.4-3.8h0m.1 .4h0m.2 1h0m.2-1.4h0m.5 1.5h0m.1 3h0m0-.5h0m.1-3.6h0m.1 4.3h0m1.7-.7h0m.1-4.2h0m.5-1h0m1.1 3h0m.3 .3h0m.4-1.5h0m.1 .5h0m0 1.6h0m1.4 .7h0m.5-2.7h0m.2-.3h0m.1-1.5h0m.3 2.9h0m2.1 1.2h0m0-1.9h0m.3-2.1h0m0 2h0m.1-.1h0m.4 3.7h0m.5-4.6h0m1 3.5h0m.1-1h0m.7 .8h0m.1-2.3h0m.4 2h0m0-.9h0m.5-1.1h0m0-.6h0m.3 4.3h0m.5-4h0m.7-1.4h0m.1-.3h0m1.2-.1h0m.1 .5h0m.2-.2h0m.3-.2h0m.3 2.3h0m.3 1.9h0m.2-.7h0m.4-1.9h0m0 2.7h0m.1-.1h0m.2-.9h0m.2-.4h0m.2 .5h0m.7-2.7h0m.6-.3h0m.2 1.3h0m.5 .8h0m.9-.2h0m.2 3h0m.4-2h0m.4-1.6h0m.2-1.9h0m1 3.1h0m.7-.3h0m.6-2.4h0m.8 .4h0m-1.1 5.9h0m-.7 .5h0m-.7-.5h0m-.7 3.1h0m0-1.6h0m-.1 .5h0m-.8 .3h0m-.2 1.2h0m0 0h0m-.1 .9h0m-.4-2.3h0m-.1 1.5h0m-.2-.9h0m-.3-3.1h0m0 4.2h0m-.4-2.4h0m0 .9h0m-.1 2.1h0m-.1-.3h0m0-4.7h0m-.1 4.9h0m-.3-3.2h0m-.2 .3h0m-.1 3.3h0m-.9-.1h0m-.2-1.9h0m-.1-2.6h0m-.3 3.6h0m-.3-2.1h0m0-.3h0m-.3-1.9h0m-.6 5.1h0m-.1-1.9h0m-.2 2.3h0m-.2-4.3h0m-.5 1.1h0m0 1.2h0m-.2-2.9h0m-.9 3.3h0m-.4 .1h0m-.6-1.8h0m0 2.4h0m-.1-.4h0m-.3-2.5h0m-.8 1h0m0-1.2h0m-.4 2.6h0m-.1-1.1h0m-.3 .7h0m-.2 .7h0m-.4 .1h0m0 .9h0m-.1 .1h0m-.3-.3h0m0-5.1h0m-.2 .1h0m-.1 4.7h0m-.4-.5h0m-.8 .8h0m-.5-1.5h0m-.2-2.6h0m-.2 3.6h0m-.6 .6h0m-.7-4h0m0 .6h0m-.3 3.1h0m-.1 .3h0m0-1.8h0m-.1-.5h0m-.1 .9h0m-.1-3h0m-.8 0h0m-.2-.2h0m-.5-.7h0m-.7 5.8h0m-.7-2.3h0m-.1-.3h0m-.6 .4h0m-.1 1.4h0m0-2.2h0m-.5-2.7h0m-.2 1.5h0m-.2 3.3h0m-.4-4.1h0m-.6 1.3h0m-.2 3.1h0m-.6-2h0m-1.6-1.8h0m-.4 3h0m-.1 1.3h0m-.7-.1h0m-.4-3.1h0m-.2 1.4h0m-.3-2.9h0m-.2 4.6h0m-.3-1.3h0m-.1 .8h0m-.4-5h0m-1.4 1.1h0m-.1 .2h0m-.2-1.4h0m-2 2h0m2.9 4.2h0m.4 3.8h0m1-1.1h0m.5-2.5h0m.4 1.8h0m.6-.5h0m.4 1.1h0m.7 .4h0m.4-1.6h0m.1 2.7h0m.1-3.8h0m.6 1.1h0m.6 .3h0m0 1.2h0m.1-.6h0m.2-.4h0m0 2.4h0m.2-2.9h0m.2-1.7h0m.2 .1h0m.5 .1h0m.2 5.7h0m.1-.7h0m0-2.2h0m0-2.8h0m1.2 3.1h0m.4 2.3h0m.2-.6h0m.3-4h0m.3 2.1h0m.2 2.5h0m0-2h0m.6-1.2h0m.1 3.6h0m.7-4.4h0m.1 3.8h0m.4-2.5h0m.2-1.3h0m1 .8h0m.3 3h0m.3-1.9h0m.9 .2h0m0-2h0m1.1 1.3h0m.1-2.4h0m.3 4.1h0m.4 .4h0m.1-.6h0m0 1.5h0m.4-1.1h0m.9 .5h0m.3 .4h0m.1-.1h0m.5-1h0m.6-4.1h0m.1 .7h0m.1 1.2h0m.3 1.7h0m.1 .6h0m.9-1.1h0m.6 1.5h0m.2-.8h0m.4-3.7h0m.1 2.7h0m1.3-.6h0m.4-.6h0m0-.1h0m.2 1.2h0m0-2.5h0m.4 1.4h0m.3-.9h0m.5 .6h0m.2-1.2h0m.2-.4h0m-7 6.1h0m0 0h0m-1.8 2.7h0m-1-2.3h0m-1.7 .5h0m-1.4-.2h0m-.8-.9h0m0 .2h0m-2.7 .9h0m-.1 .4h0m-1-1.3h0m-.1 1h0m-1.6-1.2h0m-.1 2h0m-1.2-.6h0m-26.6-27.3h0m.3-1.6h0m2.2-.3h0m0 2.6h0m.1-2.4h0m0 .6h0m1.2 2.4h0m0-2.7h0m.7-.9h0m.3 0h0m.3 2.9h0m0 .9h0m.1-3.5h0m0 2.8h0m.4-1.9h0m.5 1.9h0m.1-.5h0m.2-3h0m1.5 4h0m.2-.2h0m.9 .4h0m.1-2.8h0m.1 1.3h0m.1 .8h0m0-2.1h0m.1 3h0m.1-.5h0m.2-2.8h0m1.1 1h0m.2-2.7h0m.2 3.1h0m.2-.2h0m1 .2h0m.2-1.2h0m.6 2.4h0m.7-2.5h0m.5 1h0m.1 .9h0m.8-.6h0m.4-.1h0m2.1 1.9h0m1.4-.3h0m3.3 6.1h0m-1.8-1.3h0m-.5-.5h0m-.2 1.1h0m-.1-1.9h0m0-.5h0m-.2 2.4h0m-.6-3.6h0m-.1 2.3h0m-.2 1.8h0m-1.1-4.5h0m-.1 .7h0m0 1.2h0m-.1 .7h0m-.1-2.5h0m-1.1 1.9h0m0 .6h0m-.9-2.1h0m-.3 1.6h0m-.3 .7h0m-.7 0h0m-.7 .9h0m0 .2h0m-.1 .5h0m-.2-.9h0m-.3-1.5h0m-.9-1.7h0m-.2 1.1h0m0 3.3h0m-.1-4.3h0m-.1 .1h0m-.1-1.1h0m-.5 .3h0m-.2 4.6h0m-.4-4.1h0m-.6 3.6h0m-.2-2.2h0m-.3 2.7h0m-.1-1h0m-.4-2.6h0m-.1 1.7h0m-.2-.8h0m0-2.4h0m-.4 2.8h0m-.1 2.3h0m-.2-4.9h0m-.3 .6h0m-.2 .6h0m0-1.2h0m-1.3 4.7h0m-.1 .2h0m-1-3.8h0m-.6 .2h0m0 2.9h0m-.1-1.2h0m0-.8h0m-.1 1.7h0m-.7-2.9h0m-.6 1.2h0m-.5 3.4h0m-.4-5.3h0m-.6 5.3h0m0-3.1h0m-.1 .8h0m-.3 .6h0m-1.4-2.2h0m0-.2h0m-.1 .3h0m-.1 .7h0m-.1-.1h0m0 1.4h0m-.1-3.7h0m-.2 4.5h0m-.1-2.1h0m-.3-.1h0m-.2-2.6h0m0 3.6h0m-.1 1.7h0m-.5-3.6h0m-.6 3.5h0m-1.2-4.1h0m-.1 3.1h0m-.9 .7h0m-.2-.3h0m-.7 .9h0m-.4 .2h0m-1.6 1.4h0m.6 3.9h0m.2-3.5h0m.8 1.8h0m0-3.3h0m.1 5.2h0m.4-3.2h0m.1 3.3h0m.5 .3h0m.3 .2h0m.9-2.6h0m.5-1.1h0m.5 2.3h0m0-.8h0m.3 1.9h0m.1-.1h0m.2-.9h0m.2-3.3h0m.1-.6h0m.1-.5h0m.2 2h0m.5 2.4h0m0 1h0m.1-1.4h0m.7-2.7h0m.2 3.7h0m.1-1.3h0m.2-1h0m.4-2.9h0m0 3.8h0m.5 1.9h0m.5-.2h0m.1-2.2h0m.1-2.1h0m.5 2.4h0m.7-.9h0m0-.9h0m.6 .2h0m.2-1.8h0m.2 4.8h0m.1-3.2h0m.1 2.5h0m.1-1.9h0m.1 1h0m.5-3.2h0m.2 3.8h0m.5-.2h0m.4-2.5h0m.4-.4h0m.3 1.2h0m.3 2.4h0m.1 1h0m.1-2.3h0m.2-2.1h0m0 2.2h0m1-3.3h0m.1 4.6h0m.1-2.7h0m0 1.7h0m.2-2h0m.1 1.1h0m.1-2.6h0m0 1.6h0m.1-.4h0m.7 4.5h0m.3-4.5h0m.6 3.3h0m.4 .7h0m.4 .2h0m.7-.4h0m0-4.1h0m.4 .9h0m.1 2.4h0m.3-4.1h0m1.1 1.3h0m1.4-.2h0m.3 3h0m.3-3.9h0m.3 .9h0m.1 3.5h0m.1-2.2h0m.5 1.9h0m.5-.4h0m.4-.8h0m.3-2.1h0m.8 2.2h0m.2-3.3h0m.2 3.9h0m.2-2.3h0m1.2 2.2h0m.5 .6h0m.6-2.7h0m.5 4.1h0m0-5.6h0m.4 4.5h0m.5-.2h0m0-3.3h0m.3-.2h0m.6 3h0m.1 1.8h0m1.2-.4h0m.7-2.3h0m.5 8.4h0m-.3-4.8h0m-.1 2.4h0m-.1-1h0m-.4 1.5h0m-.1-3.7h0m-.1 4h0m-.1-2.4h0m0 4h0m-.4-1.6h0m-.3 .8h0m-1 .6h0m-.3-1.1h0m-.3 .6h0m-.9-1.7h0m-.5-1.3h0m0 .1h0m-.3 3.4h0m-.1-5h0m-.3 3.2h0m-.9-1.8h0m-.3 3h0m-.7 .1h0m0-.6h0m-.8-1.6h0m-.9-.3h0m-.6-.6h0m-.2 1.5h0m-.7-.2h0m-.3-2.1h0m0 3.1h0m-.5-1.6h0m-.4-1.1h0m-.6 1.2h0m-.1 2.8h0m-.2-5.5h0m-.3 3.9h0m-.5-2.2h0m-.6 3h0m-.2-3.3h0m-.3 2.4h0m-1-2.5h0m-1 3.4h0m-.1-4.2h0m-.3 4.5h0m-.1-3.7h0m-.2 .1h0m-.3-1.3h0m-.7 1.6h0m-1-.3h0m-1.5 1.7h0m-.3-.8h0m-.1 1.9h0m-.2 1.1h0m-.1-4h0m-.3 4.6h0m0-5.4h0m-.4 .4h0m-.2-.5h0m-.1 3.1h0m-.1-1.2h0m-.2 3.4h0m-.7-4.8h0m-.3 1.3h0m-.1 .9h0m-.4 2.7h0m-.9-2.2h0m-.7 1.3h0m-.1-3.8h0m-.3-.4h0m-.3 5.3h0m-.9-2.2h0m-.2-2.6h0m0 3.7h0m-.3 .5h0m-.9-.5h0m-.3-2.9h0m-.1 2.8h0m-.1-4.6h0m-.1 1.1h0m-.1 1.3h0m-.3-2.1h0m-.4 4.4h0m-.2-3.5h0m-.3 2h0m0-1.3h0m-.5-1.5h0m-.3 2.3h0m-.7-1.3h0m-.1-.6h0m-.2 4h0m-.1-4.8h0m-.2 .8h0m-.2 3.9h0m0-4.6h0m0 2h0m-1.5 3.6h0m2 .1h0m.9 1.1h0m.5-.3h0m1.5 2.6h0m.4 .7h0m0 0h0m.2 .6h0m.3-3.4h0m.7 4.3h0m.7 0h0m.1-3.6h0m.2 1.1h0m.1-.7h0m.3-2.2h0m0 5.3h0m0-1.1h0m.2-.2h0m.7-3.4h0m.3 .4h0m.9 3.5h0m1.1-2.3h0m.2 1.2h0m.1 1.7h0m.1-4.5h0m.4 1.3h0m.1-.8h0m0 3h0m.3-.7h0m.4 .9h0m.6-1.2h0m.1 .8h0m.2-2h0m.1-1.1h0m.3 1.2h0m1.6-1.1h0m.7 3.2h0m.2-4.1h0m.8 4.4h0m1-3h0m.1 3.2h0m.3 .7h0m.5-5.5h0m0 4.9h0m.3-.7h0m.5-2.7h0m.5 .6h0m0 2.5h0m.2-2.7h0m.2 1.6h0m.2-2.9h0m.1 1.1h0m.7 .1h0m.1-.9h0m.3 3.1h0m.6-.8h0m.3-1.2h0m.2 .3h0m0 2.9h0m.5-4.2h0m.1 3.3h0m.1-3.8h0m.1 5.2h0m.1-2.3h0m.2-3.3h0m.7 1.4h0m.1 2.7h0m0 .8h0m.2 .2h0m0 .6h0m.1-.8h0m.1 .8h0m.3-4.2h0m.1 .4h0m.3-.4h0m.1 2.9h0m.5 .7h0m.2-5h0m.9 1.6h0m.3-1h0m.1 4.5h0m.5-3.5h0m.7 2.6h0m.2-1.1h0m.2-2h0m0 1.1h0m1 .1h0m.1-1.4h0m.5 1.2h0m.1 0h0m.3-.2h0m1.6-.9h0m.2-.9h0m-4.4 7.2h0m-.5-1.3h0m-.1 1.4h0m-1.4 1.7h0m-.9-3.3h0m0 2.1h0m-.2 2.3h0m-.3-2.4h0m-.2-1.9h0m-.5 1.9h0m-.4-.8h0m-.3 0h0m-.9 .8h0m-.1 1.5h0m-.3-2.9h0m-.6 2.8h0m-.8-2.3h0m-.4 0h0m-.6 3.9h0m-.1-.3h0m-.3-1.7h0m0-1h0m-.1 0h0m-.5-.9h0m-.3-1.1h0m-.1 5h0m-.2-.2h0m-.3-4.5h0m-.2 2h0m-.5 2.4h0m-.1-.6h0m-.9-2.7h0m-.1 2.2h0m-1.2 1.4h0m-.3-3.6h0m-.3 3.3h0m-.3 .4h0m-.3-1.8h0m-.7 .3h0m-.7 2.3h0m-.1-3.8h0m-.4-2h0m-.2 1.9h0m-.2-1.5h0m0 3.2h0m-.4-2.2h0m-.1 .5h0m-.6 .5h0m-.3 1.4h0m-.1-.5h0m-.1-2.1h0m-.1 1.6h0m-.2 1.3h0m-.5-4h0m-1.7 .5h0m-.2 .3h0m-1.3-.8h0m7.4 7.5h0m.7-.3h0m.9 .4h0m.3 2.1h0m.9-3.7h0m.4 1.6h0m1 .1h0m.5-.7h0m.5 1.1h0m.6 1.2h0m.9-3.1h0m-11.5-72.9h0m-.1 .3h0m-.3 0h0m-.3 .1h0m-.1-1.8h0m-1.2 1.1h0m0-.9h0m-.7 .5h0m-.5-.5h0m-1.3 .5h0m-1.2 1.2h0m-1.6-.3h0m-1.3-.9h0m-.7 .5h0m-1.2 0h0m-.4 .5h0m-1.2-1.4h0m-12.1 7.3h0m.2 .2h0m.2-1h0m.2-1.1h0m.7 1.8h0m1.3 .2h0m.1-.5h0m.3-.7h0m1.3 .3h0m.8-.2h0m.8-3.2h0m.1 1.7h0m.4 2.1h0m.4-.3h0m.3-.4h0m.7-1h0m.1-2.5h0m.4-.1h0m.2 .8h0m.5 .6h0m.4 3.3h0m.5-3.2h0m.5 .2h0m.5-.6h0m.2 3.8h0m.8-3.7h0m0-2.2h0m0 3h0m.5-1.8h0m.1 1.4h0m0-.3h0m.1-2.1h0m.1 4.6h0m0-4.2h0m1.3 3h0m.1 .8h0m.6-1h0m.8 .9h0m.4-1.3h0m.2 .6h0m.2-3.4h0m0 4.5h0m.3-3h0m.5-1.2h0m.2 4.4h0m.6-.4h0m.5-1.3h0m.4 2.1h0m0-3.7h0m0 2.3h0m.5-2.7h0m0 2.5h0m.7-2.1h0m.4-.2h0m.1 2.8h0m.4-4h0m0 .2h0m.3 5.5h0m.1-5.3h0m0 1.7h0m.5-.6h0m.2 2.3h0m.3-.1h0m.3 1.1h0m.2 .5h0m.3-5.5h0m0 3.3h0m0-2h0m.5-.9h0m.2 3.1h0m.4 .9h0m1.2 .3h0m0-2.8h0m.4 8.2h0m-.4-1.6h0m-.6 1.9h0m-.1-3.2h0m-.1 .5h0m-.2 1.8h0m0-1.4h0m-.3 .1h0m0 3.5h0m-.1 .2h0m-.3-1.6h0m-.3 1.6h0m0-1.8h0m-.5-1.2h0m-.1 2.4h0m-.3-.7h0m-.4-.3h0m-.1 0h0m-.3-2.9h0m-.6 2.5h0m-.6-2.9h0m-.5 1h0m-.4 3.5h0m-1.4-2.4h0m-.2-1.7h0m-.1 1.9h0m-.3-2.3h0m-.4 2.3h0m-.2 2.2h0m0-1.3h0m-.4 .4h0m-.1-3.1h0m-.4 2.7h0m0 1.6h0m-.3-2.8h0m-.1-1.3h0m0 .4h0m-.2 3h0m0-1.5h0m-.4-2.9h0m-.9 3.8h0m-.3-1.1h0m-.4-.2h0m-.1 .8h0m-.1-2.6h0m-.6 .8h0m-.3 3.5h0m-.1-3.3h0m-.2-2h0m-.1 4.8h0m-.1-1.4h0m0 0h0m-.2 .1h0m-.3-.5h0m-.1 1.5h0m-.3 .9h0m-.2-5.2h0m0-.2h0m-.1 4.5h0m0-1.9h0m-.1-1.6h0m-.3-.8h0m-.1 0h0m-.1 .3h0m-.6 2.7h0m-.8 1h0m-.2 .6h0m-.4-4.4h0m-.7 .8h0m0 .9h0m-.1-.8h0m-.4 .4h0m-.6 3.4h0m-.1-1.7h0m-.2 0h0m-1-.6h0m-.4 2.8h0m-.2-.6h0m-.2-5h0m-.2 4.5h0m-.2-1.6h0m-.6-1.1h0m-.1 3.7h0m-.1-.7h0m-.2-3.3h0m-.1-1.2h0m-.5-.7h0m-.1 3.1h0m-.7-2.5h0m0 0h0m-.4-.3h0m-1.2 1.7h0m-.3 .3h0m-.2 2.3h0m-.5-2.3h0m-1.5-1.8h0m-.1 5.3h0m-.2-2.9h0m-.3 .3h0m-.2-.1h0m-1.5 1.7h0m-.1 0h0m-.2-2.4h0m-.4 3.4h0m-.2-2.1h0m-2.4 5.2h0m.7 3h0m.1-.8h0m1.5-1.6h0m.1-1.9h0m.7 1.8h0m0-3.3h0m.2 .3h0m.7 3.5h0m.1 .6h0m.1-1.9h0m.2 1.9h0m.1-1.7h0m1.1-.9h0m0-1.1h0m.4-.2h0m.3 5h0m.5-3.3h0m1.1 1.7h0m.2 1.1h0m.3-.6h0m.5-1.6h0m.1-2.7h0m.2 1h0m.3 .8h0m.7 .5h0m1.2-1.5h0m.5 2.4h0m.1-.1h0m0-3.2h0m.5 2.2h0m.3 1.6h0m.5 1.6h0m.2-5.1h0m0 4h0m.1-3.9h0m.2 2.1h0m.4 2.3h0m0 .9h0m.5-4.9h0m0-.2h0m.8 4.2h0m.2-2.8h0m.2 3.8h0m.2-.2h0m.2-1.2h0m.6 1.1h0m.5-.4h0m.1-2.2h0m0-1.8h0m.7 3.5h0m0-.8h0m.6-1.4h0m.1 3.1h0m.6-5.2h0m.3 5.1h0m.4-3.1h0m.3 1.4h0m.5-2h0m.3 1.4h0m.1-2.7h0m.6 4h0m.1-4.2h0m.5 3.5h0m.1-3.4h0m.2 .6h0m.1 3.7h0m.7-1.3h0m.7-.2h0m.2 2.7h0m0-5.4h0m.3 4.6h0m.2-.3h0m.3 1.1h0m.6-2.9h0m0-1.2h0m0 1.3h0m.2-.1h0m0-.8h0m.1 3.1h0m0-.4h0m.5-2h0m.3 .2h0m.5-1h0m.2-1.3h0m.1 1.5h0m.1 0h0m.1 2.5h0m.3-.7h0m0-2h0m.3 1.9h0m.7 1.3h0m0-3.1h0m0-1.5h0m.1 1h0m.1 2h0m0-1.4h0m.1 2.3h0m.4-2.3h0m0-.8h0m.3 3.9h0m.2-1.4h0m.4 1.8h0m.6-1.1h0m.9-4.5h0m.6 2.3h0m.3 1.5h0m.1-.9h0m.1 2.1h0m.5-3.1h0m.1 2.6h0m.1-3.7h0m0 4.6h0m.5-2.5h0m2.3 4.3h0m0 2h0m-1.7-.1h0m-.2-.5h0m-.5-.7h0m-.1 2.1h0m-.4-1.2h0m-1.4 .6h0m-.1 1.2h0m-.1 .5h0m-.6-2.3h0m-1.3 2.1h0m-.3-4.3h0m-.6 3.3h0m0-2.8h0m-.1 2.2h0m-.1-2.8h0m-.5 4.7h0m-.1-5.1h0m-.9 2.6h0m-.3-2.6h0m-.3 1.2h0m-.1 1.9h0m-.1-.8h0m0 2.9h0m-.3-3.1h0m0 3h0m0-.4h0m-.3-3.3h0m-.4 1.8h0m0-.5h0m-.4 .5h0m-1-2.9h0m-.1 .2h0m-.2 1.8h0m-.1 .1h0m-.2 2.3h0m-.7-1.3h0m0-.1h0m-.3-.7h0m-.5 .8h0m0 .5h0m-.2-1.2h0m-.6 .7h0m-1.2-.8h0m-.4-1.4h0m-.2 .3h0m-1-.5h0m-.1-.6h0m-.1 4.7h0m-.1-3.8h0m-.4-.9h0m-.4 1.1h0m-.5 3.7h0m-.5-1.5h0m-.3 2h0m-.1-1.1h0m-.2-2.3h0m-.3 .7h0m-.4-2.2h0m-.6-.6h0m-.3 5.2h0m-.9-.2h0m-1.7-.1h0m-.8 .6h0m-.4-4.3h0m-.1 2.2h0m0-3h0m-.2 1.3h0m-.1 2.6h0m-.5-2.6h0m-1.6 .7h0m-.4 2.5h0m0-4.5h0m-.1-.4h0m-.4 4.8h0m0-4.3h0m-.1-1h0m-.2 5.6h0m-.3 0h0m-.1-1.4h0m0-1.6h0m-.2-1.5h0m-.1-.9h0m-2 5.5h0m-1.4-3.8h0m-.2 1h0m-.9 2.8h0m0-4.7h0m-.1 1.3h0m-.2 1.8h0m-.4 1.5h0m-.3-.4h0m-.1-2.5h0m-.5 6.4h0m.1-2.4h0m.6 1.5h0m.1 .2h0m.3 0h0m.3-.9h0m.4-.2h0m.1-.9h0m.1 2.2h0m.1-2.1h0m.5 2.6h0m.7 1.2h0m.1-2.4h0m1.1 1.3h0m.3-3h0m1 2.6h0m.4-.8h0m.2 .1h0m.4 3.6h0m.1-3h0m.2 .3h0m.4 .9h0m.1 1h0m.1-3.7h0m.4 3.6h0m.2-3.8h0m.2 1.7h0m.3-1.3h0m.5-1h0m.2 .2h0m.2 4.2h0m.1 .7h0m.4-4.4h0m.1 2.2h0m.1 2.5h0m.8-2.7h0m.1-1.2h0m.6 1h0m.7 2.1h0m.8-1.5h0m.3-2h0m.2 1.3h0m.9 1.2h0m.2-3.2h0m.7 3.1h0m.1 0h0m1.1-.6h0m.8-2h0m.2 1.6h0m.1-.8h0m.2 3.5h0m0-3.2h0m.2-.1h0m.2 2.5h0m.2 .3h0m.1-3.4h0m.3 0h0m.3 .7h0m.3 3.6h0m.2-1.9h0m.1 1.9h0m.4-3.1h0m.2 1.6h0m.2 .1h0m0-.5h0m0-1.6h0m.2 1.8h0m.1-1.6h0m.1-1.6h0m.2 2.7h0m.5 2h0m.4-1h0m.3-1.1h0m.3-.2h0m.8 1.7h0m.6 .2h0m.1-2.2h0m1 0h0m.1-.4h0m.1-2.1h0m.2 3.8h0m.3-2.7h0m1.4 .6h0m.5-.3h0m.2-1.7h0m.4 2.9h0m.2-2.6h0m.4 2.3h0m.5 .6h0m.1 .1h0m.9-2.8h0m.2 3.2h0m.3-2.2h0m.3 .9h0m0-.3h0m1.2-1.2h0m.2 .9h0m.5 .9h0m.2-2.7h0m.2 .3h0m.4 3.2h0m-.5 3.1h0m-2.3 .3h0m-.1 .4h0m0 .6h0m-.1-1.6h0m-1.6 .4h0m-.9-1.1h0m-.2 1.3h0m-.1 2.1h0m-.3-2.4h0m-.3 .6h0m-1.3 .8h0m-.5-1.2h0m-.9 2.2h0m-.5-.7h0m-2.3 .1h0m-2.2 0h0m0-1.7h0m-.3 0h0m-.3 1.2h0m-.5-1h0m0 1.3h0m-.1 .5h0m-2.5-1.2h0m-.2 .7h0m-.1-1.5h0m-.8 1.1h0m-1.1 .1h0m-.5 1h0m-2.4-2.4h0m-1.2-.1h0m-9.8 22.9h0m.6-1.1h0m.3 .4h0m1.2-3.6h0m1.6 1.1h0m1 2.5h0m.5-2.7h0m.2 .4h0m.7 2.1h0m.3-.6h0m.3-.5h0m.2-.5h0m.2-.3h0m.8 2.2h0m1.5-2.6h0m.4 1.9h0m.1 1.1h0m.4-1.5h0m.1-1.7h0m.3-1.2h0m.4 3.6h0m0-2.7h0m.6 1.6h0m.5 1.3h0m.2-2.3h0m.3 2.6h0m.1-1.8h0m.3 .5h0m.1 .3h0m1.2-3.1h0m.1 1.7h0m1.6 2.3h0m.1-1.7h0m.5 1.5h0m1-.7h0m2.2 1.3h0m1.6 .3h0m5.5 6.2h0m-1.9-1.6h0m0-3.1h0m-.5 4.6h0m-1.4-4.1h0m-.4 4.1h0m-1.1-5.7h0m-.4 2.1h0m-1.2 2.9h0m-.1 .2h0m-.3-.2h0m0 .3h0m-.5-2.6h0m-.3 .8h0m-.8-2.8h0m0 1.7h0m-.3 1.2h0m-1.1-2.9h0m-.1 1.4h0m-.1 .4h0m-.3 3h0m-.2-1.8h0m-.3-2.4h0m-.2 2.8h0m-.7 .1h0m-.2 1.4h0m-.1-5.4h0m-.5 1.6h0m-.5 .9h0m-.6 2.1h0m-1-1.8h0m-.2 1.7h0m0-4.8h0m-.4 4.8h0m-.3 .4h0m0-2.2h0m-.2 1.5h0m-1.1-2.2h0m-.7 0h0m-.2-2.1h0m-.6 0h0m-.6 2.3h0m-.4 2.3h0m0-4h0m-.8 3.8h0m-.3-4.1h0m-.9 1.7h0m-1-1.3h0m-.2 2.9h0m-.5 1.1h0m-.6-.3h0m-.3-1.3h0m-.1-1.7h0m-.3-.5h0m0 .7h0m-1 3.5h0m-.3-5h0m-.1 5.3h0m-.2-2.3h0m-.1 .4h0m-.6-2.8h0m-.2 3.5h0m0 1.4h0m-.4-5.4h0m-.4 2.5h0m-.3 2.5h0m-1.3-3.3h0m0-1.8h0m-.2 4.9h0m-.9-1.6h0m-.8 1.2h0m-1.1 1h0m-3.5 3.8h0m1.7 1.8h0m.8-5h0m.4 2.3h0m.4 .9h0m.5-1.7h0m.4 3.9h0m.8-1.7h0m.3-3.6h0m.2-.2h0m.4 4.8h0m.4 .6h0m.4-4.2h0m.5-.7h0m.3 4.2h0m.6 .2h0m.1-1.3h0m.1 1.9h0m.1-5.3h0m.3 5.3h0m.4-.6h0m.2 .2h0m.2-4.2h0m.3 1.9h0m.6 2.7h0m.4-1.4h0m0 1.3h0m.2-5.3h0m.5 2.6h0m0 1.3h0m.3-1.3h0m.4-.8h0m.1 1h0m0-1.1h0m.4 3.3h0m.1-4.2h0m1.1 2.5h0m.2-2.5h0m.4 4.4h0m.3 .2h0m.3-3.1h0m.2 1h0m.1-.4h0m.2-.9h0m.2 2.9h0m0-1.1h0m.2 .4h0m.7 .5h0m0-.3h0m.2 .9h0m.7-4.9h0m.1 4.2h0m.2 0h0m.1-1.3h0m.3-1.5h0m.5 3.2h0m0-.9h0m.1-2.9h0m.5-.1h0m.1 1.5h0m0-.4h0m.8 1.5h0m.2 1.2h0m.3-2h0m.4-2.4h0m.8 3.7h0m0 .5h0m.3 .5h0m0-2.8h0m.7 2.2h0m.1-1h0m.1-2.4h0m.3-1.1h0m.2 1.6h0m.3-1h0m.3 .2h0m.1-1.2h0m.1 3.2h0m.5-3.2h0m.7 3h0m.3-1.2h0m.1 3.3h0m.3-.4h0m.4 .6h0m1.1-1.1h0m0-1.6h0m.4 1h0m.9-3.2h0m.2 2.8h0m.8-.4h0m.2 .2h0m.5 2.3h0m.2-.2h0m.2-2.1h0m0-.8h0m.1 .2h0m0 .7h0m.3-1.6h0m.5 1.9h0m.7-.1h0m.2-1.2h0m.5 1.9h0m0 .5h0m.1-2.6h0m.2 .5h0m1-2.2h0m.7 .2h0m.3 0h0m.2 4.4h0m.7-.6h0m.6-2.8h0m.8 .6h0m.8 .5h0m1.4 .7h0m2.3 7.4h0m-.5-1.9h0m-.7 2.5h0m-1.2-3.7h0m0 2.7h0m-.6-3.1h0m-.3 1.8h0m-.1 2h0m0-2.1h0m-1-1.6h0m-.7 3.8h0m-.2-2.3h0m-.2-1.9h0m-.7 4.5h0m-.2-3.5h0m-.1-1.5h0m-.3 2h0m-.3 .5h0m-1-2.6h0m-.3 1.4h0m-.3-1.7h0m0 3.3h0m-.1-1.9h0m-.1 3.9h0m-.2-1.1h0m-.3-1.8h0m-.1-2h0m-.5 3h0m-.2-.2h0m0 .6h0m-.1-3.4h0m-.9 2.6h0m-.2-.5h0m-.2 2.9h0m0-.2h0m-.1-4.2h0m0 .3h0m-.3 .6h0m-.5 2.2h0m-.2 1.5h0m-.5-3.5h0m-.1 .4h0m-.2-1.3h0m-.1 4.7h0m-.4-2.1h0m-.2 .7h0m-.2-.3h0m-2.1-4h0m-.1 4.1h0m-.6 .8h0m-.5-.8h0m0-2.8h0m-.3 3.5h0m-.2-1.2h0m-.3 .2h0m-.4-2.3h0m-.1 1.3h0m-.1-3.1h0m-.4 4.1h0m-.3-.2h0m0-1.7h0m-.1 0h0m-.4-1.2h0m-.2-.6h0m-.1 .3h0m-.6 2.4h0m-.1-2.9h0m-.9 .5h0m-.9 .5h0m0-.4h0m-.7 .2h0m-.4 3.4h0m-.9-1.5h0m-.2 .1h0m-.2-2.3h0m0 3.7h0m-.2 .2h0m-.4-2.9h0m-.2-1.3h0m-.5 4.4h0m-.3-2.1h0m-.2 2h0m-.6-3.1h0m-.3 .5h0m-.3 .2h0m-.7-.6h0m-.5 .8h0m-.2 1.2h0m-.3 1.5h0m-.3-2h0m-.1-.4h0m0 2h0m0-3h0m-.4 2.3h0m-.2-3.8h0m-.2 4.5h0m-.1-4h0m-.8 5h0m-.2-4.1h0m-.4-1h0m0 5.2h0m0-4.4h0m-.8 3.6h0m0 .4h0m-.2-.5h0m-.5-2.8h0m-.2 1.1h0m-.1-1h0m-.2 0h0m0-2.1h0m-.3 4.3h0m-.1 1.4h0m-.2-.3h0m-.5-1.8h0m-.6 .6h0m-.1 .5h0m-.1-3.9h0m-.3 .3h0m-.5 .2h0m-.2 4.5h0m-.1-1.6h0m-.5 0h0m0-1.6h0m-.1-.6h0m-.2 .4h0m-.4-2.3h0m-.1 .8h0m-.1 2.7h0m-.1-2.7h0m-.3 1.3h0m-.4-.2h0m-.3-2.1h0m-.5 2.6h0m2 3.9h0m.7 2.6h0m.1-1.9h0m1.2 .5h0m.2-.6h0m.8 3.5h0m.6-4.2h0m.3 .5h0m.1 .9h0m.5 .5h0m.1-1.2h0m0-1h0m.4 4.1h0m.1 1.3h0m.1-2.4h0m.4-2.9h0m.5 2h0m.4-1.9h0m.2 2.8h0m.4 .4h0m.2-1.9h0m.5 3h0m.2-.9h0m.3-.7h0m.3 .8h0m1.1-2.5h0m.2 1.3h0m.2 1.2h0m.1-.7h0m.2-2.8h0m.1 3.9h0m.3-2.4h0m0 2.9h0m0-1.1h0m.2-1.7h0m.3 3.1h0m.1-4.7h0m.6 3.3h0m.1-2.6h0m.2 4.1h0m.1 .2h0m0-1.6h0m.1-3h0m.2 .7h0m.1 2.2h0m0 1.6h0m.2-5.3h0m.1 1.3h0m.1-.1h0m0 1.1h0m.2 .4h0m.2 2.8h0m.2-2.2h0m.1-2.8h0m.1 5.3h0m.5-3h0m.4-.2h0m.1-.1h0m.1-2.4h0m.4 3.9h0m.6-1.2h0m.2-2.8h0m.9 5.5h0m.1 .2h0m.4-1.6h0m.2-1.6h0m.1 2h0m0 .1h0m.4-.3h0m0-4.2h0m.1 1.1h0m.5 3.1h0m0 .3h0m.1-2.8h0m.1-1.2h0m.1 2.7h0m.2 1.7h0m.1-4.7h0m0 3.9h0m.2 1.1h0m0-2.2h0m.3-2.1h0m.6 1.8h0m.4 2.2h0m.4-1.3h0m.3-.8h0m.2-1.9h0m.3 .7h0m0 .2h0m1.2-.1h0m.5 .9h0m0 1.4h0m.6-4h0m.8 5h0m.7-3.3h0m.1-.6h0m.3 0h0m.8 2.1h0m1.2-1.2h0m0-.5h0m0 2.6h0m.2-.3h0m.2-2.9h0m.4 2.6h0m.1-1.9h0m.1 2h0m.2 1h0m0 .6h0m.2 .5h0m.2-4.4h0m.7-1.4h0m.6 2.1h0m.1-.6h0m.1 3.6h0m1.1 .7h0m.1-2.2h0m0 .5h0m0 1.8h0m.2-3.5h0m.3 2.2h0m.3-.1h0m.1 1h0m0-5h0m.2 .6h0m.1-1.1h0m.5 .1h0m1 5.6h0m.3-2.1h0m0 .5h0m.1-2.3h0m.1 3.5h0m.1-.2h0m.2-4.2h0m.2-.7h0m1.3 1.8h0m.7-.4h0m-3.6 7.5h0m-1.7-1.6h0m-1 1.5h0m-1.6-.2h0m-.2-1.2h0m-.3 1.3h0m-.2-2.6h0m-.1 2.9h0m-.5-.4h0m-.3 .7h0m-.7 .7h0m-.4-3.2h0m-.2 3.7h0m-.3-3.8h0m-.1 3.1h0m-.1-3.7h0m-.3 3.6h0m-.2-2.4h0m0 0h0m-.2 1.7h0m-.2 2.4h0m0-3.1h0m-.8 2.2h0m-.2-4.6h0m0 1h0m-.9 2h0m-.2 1.2h0m-.3-.2h0m-.4-1.8h0m-.9-2.1h0m-.6 .9h0m0-.1h0m-.2 3.2h0m-.7 1.4h0m-.1-.7h0m-.1-.9h0m-.9-2.5h0m-.3-.8h0m-.4-.7h0m-.3 1.9h0m0-.1h0m-.1 3.5h0m-.7-3.1h0m-.2-.8h0m-.2 .8h0m-.3 3.1h0m-.6-2.2h0m-.2-1.4h0m-1.4-.9h0m-.4 2.9h0m-.4 .3h0m-.4-.5h0m-.1-1.3h0m-.6-2h0m-.2 3.5h0m-.6-1.2h0m-.3-1.9h0m-.9 .2h0m-.3 2.5h0m-.1-2.9h0m0 3.1h0m-.7-1.7h0m-.2 0h0m-.1 3.1h0m-.1-4.8h0m0 3.4h0m-.9-2.4h0m0 .2h0m-.3-.1h0m-.7 1.7h0m-1.5-2.5h0m-.8 1.5h0m-3.6-1.6h0m21.8 7h0m41-20.4h0m2.3 .9h0m11.5 .1h0m3.3 2h0m-.3 3.6h0m-.2-2.9h0m-.3 2.3h0m-.6-1.7h0m-.1 1.1h0m-.5 .6h0m-.1 .8h0m-.3 .3h0m-.9-3.4h0m-.1-2h0m-1.2 4.6h0m-.1 .4h0m-.1-1h0m-.6-.6h0m-1-.3h0m-.9 .8h0m-.1-1.2h0m-.2 1.8h0m-.1-2.3h0m-1-.1h0m-.2 3.3h0m0-3.2h0m0-.1h0m-.1 3.1h0m0-5.3h0m-.4 .5h0m-.1 2.7h0m-.1 1.5h0m-.1-1.1h0m-.4 1.5h0m0-1.9h0m-.5-2.6h0m-.3 4.9h0m0-.4h0m-.4-.9h0m-.1 .5h0m-.5-2.7h0m-.2-2h0m-.5 3.3h0m-.1 .5h0m0-.2h0m-.3-2.7h0m-.1 1.7h0m-.7 .6h0m0 2h0m-.7-1h0m-.2 .9h0m-.1-4.6h0m-.7 4.1h0m-.1-3.6h0m-.2 2.5h0m-.2-.6h0m-.6 .1h0m-.1 1.6h0m-.2-1.2h0m-.4 1.7h0m-.6-1h0m-.6-1.9h0m0-1.1h0m-.4 3.4h0m-.2-1.2h0m-1.1 .7h0m-.1-.6h0m-1.2-.9h0m-.2 2.5h0m-.2-2.8h0m-.1-1h0m-.4 .2h0m-1.2 1.7h0m-.2 2.2h0m-.4-3.5h0m0 2.3h0m-.1-1.8h0m0 2.6h0m-.5-1.9h0m-.1 .9h0m0-.3h0m-.5 1.6h0m-.5-1h0m-.3-1.3h0m-1.5 .9h0m-.2 1h0m-.1-1.4h0m-.3 1.5h0m-.6-.4h0m-.3 .6h0m-1.6-.7h0m-.2 0h0m-.5 .5h0m-2-.6h0m-.6 .8h0m-.4 .1h0m-.1 .2h0m-5.7 .1h0m.4 3.8h0m.3 1.9h0m.6-3.3h0m0 3.1h0m.5-3h0m.3 .3h0m.7-2.5h0m.2 3.3h0m.1-2h0m.3 .6h0m.4 2.3h0m.3-4.3h0m.2 4.6h0m.3-4.5h0m.5 5.2h0m.9-3.6h0m0-.8h0m.2-.3h0m.1 2.8h0m.1 1.8h0m.5 .2h0m0-4.6h0m0 .5h0m.1 2.4h0m.4-1.9h0m.1 3.1h0m.6-.1h0m.2-1.3h0m.5 0h0m.1 1.4h0m.1-2.1h0m.6 1.7h0m.1-4h0m.1 2.8h0m.4 1.4h0m.2-3.9h0m.9 4.6h0m1.1-3.2h0m1.7 .6h0m.3 1h0m.1-.7h0m.6-2.2h0m.2 1.7h0m0-.8h0m.1 1.2h0m0-2.2h0m.3 .7h0m.8 2.3h0m0-1h0m.3-.6h0m.3-1.1h0m.3-.2h0m.1 .6h0m.2 .6h0m0 1.5h0m.6-3.4h0m0 2.3h0m.1-1.3h0m0 2h0m.3 2.2h0m0 .2h0m.5-.4h0m.1-4.3h0m.2-.2h0m0 2.8h0m.8 .3h0m.7-3.3h0m.2 .2h0m.4 1.3h0m.2 0h0m.3 1.1h0m.6-1.6h0m.3 .4h0m.1-1.9h0m.7 1.6h0m0 3.3h0m.6-2.4h0m.1-.7h0m.3 2.4h0m.1 .2h0m.7 .1h0m.2-3.9h0m.2 .8h0m.1 2.4h0m.4-2.3h0m.3 2.8h0m.3-1.4h0m.1 1.2h0m.4-2.3h0m.1 1h0m1.2 2.4h0m.4 .3h0m.2-2.4h0m0-2.6h0m.3 1.8h0m.7 3h0m.3-3.8h0m.7 3.4h0m1.3-2.1h0m.4 .2h0m.2 .1h0m.1-2.8h0m.2 4.7h0m0-3.4h0m.1 3.2h0m.3-4.9h0m.2 2.3h0m.7-.7h0m.5 .9h0m.2 .9h0m0-.1h0m.3 1.9h0m.2-1.3h0m0-2.2h0m.1 1h0m.2 .6h0m.1-1.9h0m.2-.2h0m.1-.4h0m.5-.2h0m.1 3.3h0m.1-1.2h0m.1 1.2h0m.2-1.8h0m.5-1.9h0m.1 .2h0m0 .8h0m.8 .1h0m0 3.3h0m.2 .4h0m.6-5h0m.7 .2h0m.2 2.6h0m1 .6h0m-3.1 3.1h0m-.1 .4h0m-.2-.5h0m-1.5 3.9h0m-.6 .7h0m-.3-4.8h0m-.5 1.9h0m-.2 2.9h0m-.6-1.5h0m-.5-.8h0m0-1.6h0m-.4 4.5h0m-.1-.4h0m0-2.7h0m-1.1-2.2h0m-.7 2.8h0m-.3 .6h0m-.4-2.7h0m0-.1h0m-.1 .3h0m-.5 .2h0m-.7-.1h0m-.3-.1h0m-.4-.5h0m-.4 2.2h0m-.6-1.6h0m-.3 .1h0m-.5 1.3h0m-.9 .6h0m0 1.9h0m-.2-1.5h0m-.1-1.3h0m-.1 .4h0m-.2-2.2h0m-.8 3.2h0m0-2h0m-.8-1.8h0m-.1 3.1h0m-.6-3.2h0m-.2 1.2h0m-.3 0h0m-.1 1.2h0m-.6-1.2h0m-.3 3.4h0m0-.5h0m-.1-1.4h0m-.6-1h0m-.2 3.1h0m-.5-3.1h0m-.1-1h0m-.5 0h0m-.6 4.3h0m-.8 .3h0m-.6-5h0m-.1-.3h0m-.2 3.1h0m-.1 2.8h0m-.2-1.9h0m-.3-2.3h0m-.7 .8h0m-.2 1.1h0m0-2.8h0m0 3.3h0m-.3-4h0m-.2 3.8h0m-.3-1.1h0m-.1-2.3h0m-.8 .6h0m-.4 2.5h0m-.8-1.4h0m0-1.2h0m0 2h0m-.6 .1h0m-.5 2.5h0m-.1-4.4h0m-.5 3.5h0m-.2-4.2h0m-.1 5.3h0m-.2-5.4h0m-1.1 3.3h0m-.1-3.7h0m0 3.7h0m-.2 1.5h0m0-3.7h0m-.1-1.4h0m-.1 1.2h0m-.7-.1h0m-.6-.4h0m-.5-.2h0m-.1 4.1h0m0-3.5h0m0 2.3h0m-.2 .5h0m-.3 1.7h0m-.4-3.9h0m-.2-.4h0m-.1 3.7h0m-.4-4.9h0m-.1 5h0m-.8-.7h0m-.3-2.1h0m-.1-.4h0m-.1 1.1h0m-.6 1.7h0m-1-.8h0m-.6 1.8h0m0-4.5h0m-.9-1.1h0m-9.2 3.6h0m-.4-1.6h0m-.1 3.6h0m-.3-1.1h0m-.3-2.7h0m-.3 .9h0m-.8-1.8h0m-.1 2.6h0m-.2-1.2h0m-.4 .6h0m-.2 1.1h0m-.4-2.6h0m-.2 .6h0m-.4 1.3h0m-.1-2.9h0m-.4 1.8h0m0-1h0m-.5 .1h0m-.7 2.2h0m-1-2h0m-.3-.7h0m3 5.3h0m.4 1.4h0m0 .4h0m.3-1.8h0m1.5 2.2h0m0-1.5h0m.7-1h0m.1 .6h0m.1-.3h0m.4 .1h0m.3 1.1h0m.1 3.5h0m.7-3.5h0m0 3.7h0m.1-2.2h0m1 3h0m0-4.2h0m.2 1h0m0-2.7h0m.3 2.3h0m0 3.1h0m.6-1.2h0m1.1-1h0m.1 .4h0m1.1-1.1h0m.2 1.5h0m.2-2.7h0m.3 4.2h0m.1-2.9h0m.1 2.3h0m.6-.3h0m.1-1.7h0m.5 1.8h0m.4-.6h0m0 1.3h0m0-1.5h0m.6-2.9h0m.2 1.8h0m.2 .3h0m.2 .4h0m.3-2.3h0m.6 1.5h0m.2-2.2h0m1.3 .1h0m.6 1.5h0m.2 0h0m.2-.1h0m0 1.8h0m.2-2.6h0m.5 1.2h0m.1 1h0m.5-.4h0m.1 1.2h0m.2-2.7h0m.3 2h0m.2 .7h0m.3 .2h0m.2 1.4h0m.3-1.9h0m.1-.6h0m0-1.5h0m.5 3.4h0m.5-4.5h0m.1 1.6h0m.3-.2h0m.1 2.5h0m1.1-1.4h0m.7 .3h0m.4 1h0m1.2-4.5h0m.1 2.2h0m.5 .3h0m.3 2.7h0m.1-2.5h0m.7 1.6h0m.6-2.9h0m.4 2.8h0m.3-4h0m.3 2.6h0m.9 2.1h0m1-.6h0m.1-.2h0m.7-3.6h0m0-.4h0m.2 .4h0m0 3.5h0m.2-2.8h0m.1 1.8h0m.5 .4h0m.4-1.4h0m1.2-1.6h0m.4 2.1h0m.3-2h0m.3 .5h0m.3 .5h0m.4-1.3h0m.5 .4h0m.3 3.8h0m.8-2.7h0m.1 1.8h0m2.2-2h0m.1 1.6h0m.2-2.2h0m0-.3h0m.1 2.5h0m0-1.7h0m.1 1.6h0m0-2.6h0m.2 3.8h0m.2 1.6h0m.1-2.5h0m.1-1.8h0m0 .5h0m.8 1.1h0m.2 1.8h0m.1-3.2h0m0-.8h0m.5 3.8h0m0-.8h0m.1-1.2h0m.5-2.7h0m.5 3.1h0m.3 .2h0m0 1.7h0m.1 .9h0m.1-5.4h0m0-.2h0m0 3.8h0m.2 .1h0m.1-3.2h0m.2 2h0m.4 .3h0m.1-.3h0m0 .1h0m.6 1.2h0m0-2.5h0m.5-1.6h0m.1 .8h0m0-1h0m.4 2.3h0m1.5 .3h0m-6.3 3.5h0m-.9 .7h0m-.7 1.6h0m-1 .8h0m-.5-3.1h0m-.7 3.1h0m-.1 .3h0m-.9-2.9h0m-.1 2.7h0m-.8-2.7h0m0-.2h0m-.1 3.8h0m-.2 .7h0m-.5-3h0m-.3 2.3h0m-.3-3.7h0m-.4 4.6h0m-.8-.7h0m-.4-.8h0m-.7 1.8h0m0-.5h0m-.1-2.4h0m-.1 3.3h0m-.1-5.5h0m-.3 1.8h0m0-1.8h0m-.6 3h0m-.4 1.9h0m-.2-4.2h0m-.2 4.8h0m-.1-2.1h0m-.1-1.6h0m-.1-2.1h0m-.1 .4h0m-.5 2.5h0m-.4 1.3h0m-.1-.2h0m0-1.2h0m-.3-1.3h0m-1.4 4.3h0m-.2-1.1h0m-.2-1.6h0m-.3-.8h0m-1.7 .5h0m-.5-1.6h0m0 .4h0m-1.7 3.9h0m0-5.4h0m-.1 5.1h0m-.1-.7h0m-.3-2.4h0m-.7 1.6h0m-.3-.4h0m-.1-2h0m-.1-1.4h0m-.3 2.6h0m-.2 1.5h0m-.2-3.8h0m-.2 3.6h0m-.2 .5h0m-.3-3.2h0m-.7 3.8h0m-.9-2.9h0m-.1-1h0m-.4 3.9h0m-.8-1.3h0m-.2-2.1h0m-2-.3h0m-1.1 .3h0m-.8 .7h0m0-2h0m-.5 .8h0m0 1.9h0m-.3-2.7h0m0-.1h0m-.7 1.5h0m-4.9-.8h0m20.7 6.9h0m1.2-1.4h0m1-.1h0m2.2 1.6h0m-67.4-68.8h0m0-.2h0m1.1 .2h0m.6 .4h0m1.1-.4h0m0-1.1h0m.3 1.2h0m1.3-2h0m.4 2h0m1 .3h0m.4-1.6h0m.4 2h0m.3-.6h0m.8 0h0m1.6-2.6h0m.1 .3h0m.4 1.7h0m.4 .4h0m.8 0h0m.2-.7h0m.1 1.5h0m6.1 0h0m7.8-.8h0m7.4 .8h0m9.8 4.5h0m-.7 0h0m-1.4-.1h0m-2.1 .3h0m-.9 .8h0m-.1-1.9h0m-.3 .3h0m-.1 1.3h0m-1.2-3.7h0m-.2 3.3h0m-.3 .4h0m-.6-2h0m-.2 2.6h0m0-.9h0m-.3-1.1h0m-.6 .3h0m0-.2h0m-.8-1.4h0m-.1 .7h0m-.8 2.3h0m-.3 .4h0m-.5-1.4h0m-.5-1h0m-1.2 .4h0m-.8-2.9h0m-.4 2.2h0m-.1 2.2h0m-.4-1.8h0m-.3-1.6h0m-.4 1.2h0m-.3 2.8h0m-.1-4.8h0m-.1 .5h0m-.1 1.4h0m0-1.1h0m-.4 .2h0m-.4 2.6h0m0-1h0m-1.6-.7h0m-.3-.3h0m-.3 .1h0m0-.8h0m0 4h0m-.3-4.5h0m0 2.8h0m-.3-2.7h0m-.4-.2h0m-.6 2h0m-.3 .1h0m-1.1-2.5h0m-.1 2.9h0m-.6 1.2h0m0 .7h0m-.4-3.7h0m-.2 1h0m-.2-3h0m-1.1 4.3h0m-.4-1.5h0m-.2 .4h0m-.8 2.5h0m-.8-4.2h0m-.3 1.7h0m-.7-3.1h0m-.1 .9h0m-.4 3.5h0m-.1-.3h0m-.9-.4h0m-.3-2.2h0m-.3-1.4h0m-.1 1.6h0m-.4-1.1h0m-.4 4.8h0m-.1-4.7h0m-.1 .4h0m-.1 2.3h0m-.1 1.5h0m-.1-3.9h0m-.3 1.5h0m-.3 2.2h0m-.2-4.4h0m-.4 5.2h0m-.2-5.6h0m-.5 5.8h0m-.4-1.9h0m-.3 1.3h0m-.1-3.3h0m-.1 1.6h0m-.1-3h0m-.3 4.3h0m-.4 .1h0m0-2h0m-.2-.6h0m0 3.1h0m-.1-1.2h0m-.7-2.9h0m-.4 2.7h0m-.1-3.9h0m-.1 5.7h0m-.1-3.1h0m-.5 2.6h0m-.4 .2h0m-.8-2.5h0m-.2-2.7h0m-.2 .6h0m0 3.4h0m-.2-.1h0m-.2-2.1h0m-.2 .5h0m-.1 1.9h0m-.1-3.4h0m-.2 3.1h0m0-.2h0m0-2h0m-.3 1.3h0m-.8 1.5h0m-.4-4.7h0m-.5 5.2h0m-.7-3.8h0m-.1-.7h0m-.4 2.5h0m-.1 2.2h0m-.5-5.5h0m-.2 3.3h0m-.2-1.3h0m-.2 1.3h0m-.7-.5h0m-.1-.2h0m-.2-.7h0m-.3 3h0m-.1 1.6h0m1.5 2.5h0m.5 .1h0m0-2.1h0m1.2 1.3h0m0-.8h0m.2-1.1h0m.5 3.1h0m.1 .3h0m.8-2h0m.5 .3h0m.2 .1h0m.6-.7h0m0 .6h0m1.3 2.1h0m.2-2.5h0m0-.9h0m.5 0h0m.5 .6h0m.4 .4h0m0-1.9h0m.3 4.6h0m0-4.3h0m.1 2.1h0m.2 .9h0m.3-.8h0m.7 1.2h0m1-2.6h0m.4 2.4h0m1.3-2.5h0m.6 3.7h0m.5-3.3h0m1 4.6h0m1.6-3.6h0m.2-.4h0m1.1-.4h0m.5 2.5h0m1.1-1.5h0m.4-1.8h0m.1 1.2h0m.6 1.4h0m.5-1.9h0m1.4 3.6h0m0-.9h0m.6 1.6h0m0-4.5h0m.3 3.4h0m.2 .3h0m.1-2.6h0m.4-1.8h0m.3 5.1h0m.4-5.1h0m.4-.2h0m.2 3.9h0m.1-2.4h0m.1 3.8h0m.3-1.1h0m.4-2.4h0m.3-.2h0m.7 3.6h0m.1-3.7h0m.6-.3h0m.5 .8h0m.1-1.7h0m.2-.7h0m0 .6h0m.5 4.4h0m1.6-4.3h0m.2 .1h0m0 4.3h0m.5-5.1h0m.1 5.4h0m.2-2.7h0m0-1.4h0m.3 2.7h0m.8-.4h0m.1-3.5h0m.3 .6h0m0-.1h0m1.2 1h0m.3-.2h0m.2-.9h0m.5 3.7h0m.1 1.5h0m.1-2.1h0m.3 1.7h0m.7-4.8h0m.9 1h0m.3 2.3h0m.1-3.2h0m.7 4.8h0m0-3.1h0m.4 2.6h0m.5-.7h0m.1-.5h0m.1-2.3h0m.8 1.4h0m.6 .5h0m.5-1.3h0m.5 .5h0m.4 2.5h0m.5-1.9h0m.4 1.6h0m.1-1.5h0m.7 1.1h0m.1-2.2h0m.7-2.1h0m.4 3.1h0m.3 0h0m.2 1.1h0m.6-2.3h0m.4 .3h0m.6-1.5h0m.1 .2h0m.1 1.3h0m.9-.2h0m-2.4 5.1h0m-1.5-.1h0m-.2-.8h0m-1.2 1.7h0m-.5-1.7h0m-.3 1.1h0m0 .4h0m-.1 1.6h0m-.7-.7h0m-.5-.5h0m0 1.9h0m-.4-.6h0m0-.7h0m-.1-.2h0m-.2 .8h0m-.1 2.4h0m-.1-5.3h0m0 2.7h0m0 1.3h0m-.1-1.8h0m-.4-2.5h0m-.2 3.9h0m0-3.6h0m-.1 3.2h0m-.6 2.2h0m-.3-4.1h0m-.1 2.5h0m-.3-.2h0m-.1-2.4h0m-.5 0h0m-.1 1.4h0m-1.4 2.5h0m-.5-.4h0m-.9-1.8h0m0 .1h0m-.2 .3h0m-.8-2.8h0m0 1.3h0m-.7 .8h0m-.2-.8h0m-.9-1.2h0m-.8 3.9h0m-.2-1.9h0m-.1 0h0m-.3 2.1h0m-.1-4.8h0m0 1.8h0m-1.1 1.9h0m-.2-2.8h0m-.5-.2h0m-.2 4.1h0m-.2-3.5h0m-.1 1.5h0m-.2-2.5h0m-.4 3.8h0m-.2-3.7h0m-.1 1.8h0m0 .9h0m-.2-1.4h0m-.1-1.6h0m-.2 3.6h0m0-.7h0m-.1 .1h0m-.1-.9h0m-.1-.4h0m-.2 .9h0m-.6 1.4h0m-.5-2h0m-.1-2.2h0m-1 3.2h0m-.3-2.1h0m0 2.5h0m-.1 .6h0m-.2-2.4h0m-.2 .6h0m-.1-1.8h0m-.4 .7h0m-.2 3.3h0m-.1-2.7h0m-.7 1.6h0m0-1.4h0m-.4-1.7h0m-.2 1.7h0m0 .9h0m0-2.7h0m-.1 1h0m-.4 3.5h0m0-1.1h0m-.6-3.7h0m0 3.1h0m-.3 1.5h0m-.1-4.4h0m-.6 5.1h0m-.2-3.4h0m-.5 .5h0m-.2-.2h0m-.1 3.6h0m0-5.3h0m-.5 3.8h0m-.2-4.1h0m-.2 1h0m-.3 4.1h0m0-2.5h0m-.3 2.9h0m-.4-5.7h0m0 .7h0m-1.1 3h0m-.2 1.5h0m0 .2h0m-.1-3h0m0-.5h0m-1.2-2h0m-1.4 .1h0m-.1 .4h0m-.7 1.3h0m-2-1.2h0m-.6-.4h0m-.8-.1h0m7.5 6.2h0m.9 1.1h0m.9 2.6h0m1.2-1.4h0m.4-2.6h0m.6 1.7h0m.4-.7h0m.2-.8h0m.2 .5h0m1.7 2.7h0m.7-.7h0m.1-.7h0m.1-1.7h0m.6-.1h0m.1 2.3h0m.1-1.5h0m.4 2.1h0m.2 .7h0m.2-2.3h0m.2 1.9h0m.5-1.5h0m1.4 2h0m.7-1.6h0m.2 2h0m.6-3.6h0m.1 .4h0m.2 1.3h0m1-.5h0m1-1.1h0m1 1.4h0m0-1.2h0m1.6 1.6h0m.3-2h0m.5 .1h0m.2 1.4h0m.7 .2h0m1-1h0m1.6-.9h0m.2-.1h0m2.2-.3h0m11.3-42.1h0m.7-1.1h0m.3-1.5h0m1.5 2.3h0m.5-.2h0m.5-.4h0m.2 .3h0m.8 .3h0m0-.5h0m.1-4.6h0m.2 4.9h0m.6-3.2h0m.4 3.5h0m.2-2.2h0m.1-1.8h0m.3-.4h0m1 2.4h0m.4-.1h0m.2 1.4h0m.5-.9h0m.3-3h0m1.1 .4h0m.1-.5h0m.4 2.6h0m.3 .7h0m1.3-.5h0m-1.5 2.1h0m-.2 .4h0m-5.4 2.4h0m-1.6-.1h0m-.3-1.8h0m-.1 1.9h0m-1.4-.9h0m-.7-1.5h0" stroke="#d3d3d3" stroke-width="2.40" stroke-linecap="round" fill="none"/><path d="M438.1 217h0m1.6 1.2h0m-9.7-3.1h0m13.4 11.5h0m-16.1-20h0m16.8 12.7h0m-3.7-22.7h0m-10.2 7.5h0m9.9 16.2h0m-.6 .9h0m-1.3-15.7h0m11.5 17.6h0m-15.7-19.5h0m-.8-6.5h0m14.3 13.4h0m2.4-.5h0m3.3 18.8h0m-5.3-23.6h0m-20.8 2.6h0m26.3 17.3h0m-25.4-20.8h0m20.4-2.9h0m-7.1 11.1h0m-13.3-1.1h0m2.9-6.2h0m22.7 21.8h0m-22.8-16.7h0m19.3 10.1h0m-19.2-15.7h0m16.8 2.9h0m-14.3-10.4h0m2.3 15.5h0m-5.7-12.2h0m21.8 27.1h0m-19.8-25.7h0m14.7 30.7h0m4.3-13.8h0m-13.9-20.4h0m5.3 7.8h0m-15.8-2.7h0m16.3 2.1h0m-17.9-.4h0m12.9-8.5h0m-8.1 12.5h0m11.9-9.6h0m3.5 18.4h0m-6.2 6h0m7.6 6.9h0m0-8h0m1.7 8.6h0m3.2-1.8h0m-1.1-12.1h0m-7.2-7.8h0m-1.2 9.2h0m4.3-9h0m.3 7.9h0m-7.7-14.3h0m6.6 10.9h0m-14.9-13.4h0m21.1 20h0m-21.2-9.3h0m18.2 19.7h0m-6.7-24.4h0m-13.4 7.4h0m21 14.3h0m-3.8 4.2h0m-13-31.9h0m5.2 4.3h0m-7.1 5.7h0m12.4 3.3h0m2.5 3.1h0m-7.7-22.3h0m11.3 8.7h0m-6 8.5h0m0 8.5h0m5.3 12.4h0m-3.7-31h0m-6.2-.8h0m7.1 0h0m-13.2 6.8h0m12.7 7.1h0m-2.5 9.7h0m9.6-1.4h0m-24.1-11h0m7.4 4.7h0m15.1 9.3h0m-6.9-24.1h0m2.2 25h0m-2.5-4.1h0m-3.1 3h0m9.6-18.1h0m-23.2 3.8h0m14 13.3h0m-1.9-30.1h0m9.4 5.9h0m-19.8-1h0m11.3 23.4h0m9.7-1.4h0m-18.6-6.6h0m12.6-.2h0m6.1 1.5h0m-15.9-7.2h0m16 21.1h0m-8.2-28.5h0m-1.1 12.3h0m.8-.5h0m3.8-17.3h0m-4.5 14.2h0m12.5 20.8h0m-20.6-18.4h0m-4.3-1.6h0m20.7 19h0m-10.2-23.8h0m-8.5-3.6h0m14.8 3.8h0m-9.9 12.2h0m-3.2-17.2h0m8.4 9.7h0m-4.6-.9h0m4.6-10.4h0m3.3 15.1h0m6.3 3.4h0m.2-15.5h0m-3.5 23.6h0m-14.4-29.1h0m17.2 13.2h0m-1.3-12.1h0m-11.6 22.9h0m8.4 9.2h0m-5.3-6.3h0m-.1-2.9h0m-9.4-25.1h0m10.9 18.1h0m.5-15h0m-11.6 2.3h0m8.4 22.9h0m-4.1-12.1h0m5.7-1.6h0m5.5 16.9h0m-15.6-15.9h0m16.8-2h0m-16.3-9.8h0m9.5-6.1h0m11.4 32.1h0m-5.7 2.4h0m-2.2-18.6h0m-.9 4.1h0m11.5 12.2h0m-7.2-1.1h0m2.1-15.2h0m2.5 19.4h0m-6.1-4.6h0m2.2-14.7h0m-12.7 2.5h0m8.9 6.4h0m.8-11.7h0m-.2 9.4h0m-3.8-7.3h0m5 15.2h0m-2.5-1h0m-10.8-13.7h0m-6.2-8.4h0m9.8-4h0m5.2 16.7h0m1.4 10.3h0m-13.1-11.8h0m.3 1h0m13.2-17.8h0m-2.5 22h0m-4.8-12.7h0m8.7 11.2h0m-12.3-21.2h0m5.5 17.8h0m8.8-.4h0m7.7 14.2h0m-11.3-28.6h0m.6 13.9h0m-12.6-16.5h0m9.7 3h0m-2.5 22.1h0m.4-16.5h0m3.8 6.4h0m5.8 4.6h0m-1.3-12h0m1.5 15.8h0m-12.7-14.4h0m9.8 11.9h0m-2.8 2.8h0m4.8-18.1h0m4.9 28.2h0m-19.4-18.6h0m10.6-13.1h0m-2.5-1.2h0m.3 22.7h0m-5.3-6.2h0m-4.9-5.5h0m16 20.2h0m-20.1-29.3h0m22.1 20.5h0m-1.2-16.7h0m-10.4 1.8h0m11.6 4.6h0m-14.5 7.3h0m12.6 15.2h0m-9.6-22.5h0m4.1 4.7h0m3.7-7.6h0m-18.1 .2h0m19.2 15.9h0m-13.2-22.5h0m2.5-1h0m10.3 18.4h0m6.3 15.1h0m-3.5-25.9h0m-14.6 3.9h0m18.5 20.2h0m-20.6-21.7h0m3.6 0h0m.9 1h0m12 6.3h0m1.2 .9h0m1.3-11.5h0m-10.1 11.7h0m.1 9h0m5.7 4.5h0m-2.6-26.7h0m-3.9 21.2h0m-3.8-17.4h0m3 8.1h0m6.8 7h0m3.2-1.7h0m.8 5.7h0m-.6 3.4h0m-9.3-7.3h0m8.4-11.8h0m-11.5-11.2h0m-1.3 .8h0m-5.2 10.5h0m-4.3-4.7h0m21.5-5.3h0m-17.8 1.6h0m12.3 .2h0m-12.3 2.4h0m3.9 10.9h0m15.1-2.8h0m-10-10.6h0m9.5 6.7h0m-8.2 5.3h0m3.9-11.3h0m1.7 15h0m-16.7-18.3h0m5 4.2h0m-1.7 11.2h0m17.4 11.7h0m-22.9-22.5h0m19-7h0m-7.1 15.1h0m11.3-6.7h0m-2 4.6h0m1.1-8.5h0m-8.5 12.9h0m-7-8.7h0m-7-.2h0m11.7 16.7h0m-10.8-13.1h0m21.7 10.6h0m-3.6-17h0m-4.4 9h0m7.1-10.3h0m-5.5 3.4h0m-7.2 10.2h0m-2.4-8.2h0m2.9 13.4h0m-4.1-19h0m14.2 5.2h0m-.2 .1h0m-17.5-9.6h0m16.1 25h0m-14.9-12.5h0m19.7 7.8h0m-22.4-15h0m2-4.1h0m7.5-2.1h0m3.1 23.4h0m7.7 7.1h0m-11.4-20h0m.8-12.9h0m-.4 28h0m17.5 3.6h0m-9.7-7.4h0m-9.5 1.7h0m-7.1-11.1h0m12.1 16.8h0m9.5-7.3h0m-14.2-4.5h0m10.9 13.7h0m-2.7-26h0m-16.3 1.9h0m14.8 18.4h0m-6.5-9.5h0m5.5 4h0m.5-12.1h0m7.7 13.7h0m-17.3-1.1h0m17.7-15.8h0m-8.5-4.5h0m3.4 9.5h0m.3 17.5h0m-8.7-6h0m-5.4-5h0m-1.7-3.3h0m12.8-8.7h0m-1.5 3.7h0m1.4 2.7h0m3.1-7.6h0m-6 10.9h0m4.6 11.3h0m4 2.6h0m2.4 4.2h0m-12.8-17.2h0m3.5 3.7h0m-6.2-19.2h0m12.2 34.5h0m.2-12.3h0m.6-12h0m-4.8-9.6h0m-14.1 15.4h0m11.4-2h0m.7-6.4h0m-6.6 6.3h0m-15.7-7.3h0m2 3h0m-4 2h0m6 2h0m-8 20h0m3 3h0m-7 3h0m-4 4h0m-2 3h0m6-1h0m31-81.5h0m2-1h0m2 1.5h0m3 2.6h0m-2-1.1h0m-6.7 6.5h0m10 7.4h0m-32.5-.4h0m1.6 9.2h0m-9.9 5.3h0m1.8 4.5h0m10.9-4.5h0m1.2 5.6h0m-9.4 1.9h0m2 4h0m-4 3h0m-3 1h0m-3 5h0m2 1h0m-2.5 6h0m5.5 4h0m3.2 2.7h0m-2.2 2.3h0m-4 2h0m-1.3 3.6h0m-4.2 .4h0m4 4.4h0m9.5-3.4h0m3-4h0m35.5-32h0m1.5 9h0m12.7 10.5h0m3.3 12.1h0m-6-.3h0m12 .7h0m-3 1.5h0m-17-4.5h0m3 3h0m-5 2h0m-7.5 8h0m.5 5h0m-1 5h0m-1 2h0m3-5h0m-13-.6h0m-2-.9h0m-3 .5h0m7 1h0m-5-58h0m-5 1h0m3-4h0m5-1h0m4 3h0m4 2h0m2 3h0m-4-10h0m-18 9h0m-21 11h0m-2 3h0m15 10h0m3-4h0m-20 10h0m3 3h0m18 3h0m4 3h0m2-5h0m26-12h0m1 6h0m-2 6h0m-6 5h0m-4 4h0m3 3h0m18-12h0m7 7h0m3-5h0" stroke="#163a5c" stroke-width="3.50" stroke-linecap="round" fill="none"/><path d="M438.1 217h0m1.6 1.2h0m-9.7-3.1h0m13.4 11.5h0m-16.1-20h0m16.8 12.7h0m-3.7-22.7h0m-10.2 7.5h0m9.9 16.2h0m-.6 .9h0m-1.3-15.7h0m11.5 17.6h0m-15.7-19.5h0m-.8-6.5h0m14.3 13.4h0m2.4-.5h0m3.3 18.8h0m-5.3-23.6h0m-20.8 2.6h0m26.3 17.3h0m-25.4-20.8h0m20.4-2.9h0m-7.1 11.1h0m-13.3-1.1h0m2.9-6.2h0m22.7 21.8h0m-22.8-16.7h0m19.3 10.1h0m-19.2-15.7h0m16.8 2.9h0m-14.3-10.4h0m2.3 15.5h0m-5.7-12.2h0m21.8 27.1h0m-19.8-25.7h0m14.7 30.7h0m4.3-13.8h0m-13.9-20.4h0m5.3 7.8h0m-15.8-2.7h0m16.3 2.1h0m-17.9-.4h0m12.9-8.5h0m-8.1 12.5h0m11.9-9.6h0m3.5 18.4h0m-6.2 6h0m7.6 6.9h0m0-8h0m1.7 8.6h0m3.2-1.8h0m-1.1-12.1h0m-7.2-7.8h0m-1.2 9.2h0m4.3-9h0m.3 7.9h0m-7.7-14.3h0m6.6 10.9h0m-14.9-13.4h0m21.1 20h0m-21.2-9.3h0m18.2 19.7h0m-6.7-24.4h0m-13.4 7.4h0m21 14.3h0m-3.8 4.2h0m-13-31.9h0m5.2 4.3h0m-7.1 5.7h0m12.4 3.3h0m2.5 3.1h0m-7.7-22.3h0m11.3 8.7h0m-6 8.5h0m0 8.5h0m5.3 12.4h0m-3.7-31h0m-6.2-.8h0m7.1 0h0m-13.2 6.8h0m12.7 7.1h0m-2.5 9.7h0m9.6-1.4h0m-24.1-11h0m7.4 4.7h0m15.1 9.3h0m-6.9-24.1h0m2.2 25h0m-2.5-4.1h0m-3.1 3h0m9.6-18.1h0m-23.2 3.8h0m14 13.3h0m-1.9-30.1h0m9.4 5.9h0m-19.8-1h0m11.3 23.4h0m9.7-1.4h0m-18.6-6.6h0m12.6-.2h0m6.1 1.5h0m-15.9-7.2h0m16 21.1h0m-8.2-28.5h0m-1.1 12.3h0m.8-.5h0m3.8-17.3h0m-4.5 14.2h0m12.5 20.8h0m-20.6-18.4h0m-4.3-1.6h0m20.7 19h0m-10.2-23.8h0m-8.5-3.6h0m14.8 3.8h0m-9.9 12.2h0m-3.2-17.2h0m8.4 9.7h0m-4.6-.9h0m4.6-10.4h0m3.3 15.1h0m6.3 3.4h0m.2-15.5h0m-3.5 23.6h0m-14.4-29.1h0m17.2 13.2h0m-1.3-12.1h0m-11.6 22.9h0m8.4 9.2h0m-5.3-6.3h0m-.1-2.9h0m-9.4-25.1h0m10.9 18.1h0m.5-15h0m-11.6 2.3h0m8.4 22.9h0m-4.1-12.1h0m5.7-1.6h0m5.5 16.9h0m-15.6-15.9h0m16.8-2h0m-16.3-9.8h0m9.5-6.1h0m11.4 32.1h0m-5.7 2.4h0m-2.2-18.6h0m-.9 4.1h0m11.5 12.2h0m-7.2-1.1h0m2.1-15.2h0m2.5 19.4h0m-6.1-4.6h0m2.2-14.7h0m-12.7 2.5h0m8.9 6.4h0m.8-11.7h0m-.2 9.4h0m-3.8-7.3h0m5 15.2h0m-2.5-1h0m-10.8-13.7h0m-6.2-8.4h0m9.8-4h0m5.2 16.7h0m1.4 10.3h0m-13.1-11.8h0m.3 1h0m13.2-17.8h0m-2.5 22h0m-4.8-12.7h0m8.7 11.2h0m-12.3-21.2h0m5.5 17.8h0m8.8-.4h0m7.7 14.2h0m-11.3-28.6h0m.6 13.9h0m-12.6-16.5h0m9.7 3h0m-2.5 22.1h0m.4-16.5h0m3.8 6.4h0m5.8 4.6h0m-1.3-12h0m1.5 15.8h0m-12.7-14.4h0m9.8 11.9h0m-2.8 2.8h0m4.8-18.1h0m4.9 28.2h0m-19.4-18.6h0m10.6-13.1h0m-2.5-1.2h0m.3 22.7h0m-5.3-6.2h0m-4.9-5.5h0m16 20.2h0m-20.1-29.3h0m22.1 20.5h0m-1.2-16.7h0m-10.4 1.8h0m11.6 4.6h0m-14.5 7.3h0m12.6 15.2h0m-9.6-22.5h0m4.1 4.7h0m3.7-7.6h0m-18.1 .2h0m19.2 15.9h0m-13.2-22.5h0m2.5-1h0m10.3 18.4h0m6.3 15.1h0m-3.5-25.9h0m-14.6 3.9h0m18.5 20.2h0m-20.6-21.7h0m3.6 0h0m.9 1h0m12 6.3h0m1.2 .9h0m1.3-11.5h0m-10.1 11.7h0m.1 9h0m5.7 4.5h0m-2.6-26.7h0m-3.9 21.2h0m-3.8-17.4h0m3 8.1h0m6.8 7h0m3.2-1.7h0m.8 5.7h0m-.6 3.4h0m-9.3-7.3h0m8.4-11.8h0m-11.5-11.2h0m-1.3 .8h0m-5.2 10.5h0m-4.3-4.7h0m21.5-5.3h0m-17.8 1.6h0m12.3 .2h0m-12.3 2.4h0m3.9 10.9h0m15.1-2.8h0m-10-10.6h0m9.5 6.7h0m-8.2 5.3h0m3.9-11.3h0m1.7 15h0m-16.7-18.3h0m5 4.2h0m-1.7 11.2h0m17.4 11.7h0m-22.9-22.5h0m19-7h0m-7.1 15.1h0m11.3-6.7h0m-2 4.6h0m1.1-8.5h0m-8.5 12.9h0m-7-8.7h0m-7-.2h0m11.7 16.7h0m-10.8-13.1h0m21.7 10.6h0m-3.6-17h0m-4.4 9h0m7.1-10.3h0m-5.5 3.4h0m-7.2 10.2h0m-2.4-8.2h0m2.9 13.4h0m-4.1-19h0m14.2 5.2h0m-.2 .1h0m-17.5-9.6h0m16.1 25h0m-14.9-12.5h0m19.7 7.8h0m-22.4-15h0m2-4.1h0m7.5-2.1h0m3.1 23.4h0m7.7 7.1h0m-11.4-20h0m.8-12.9h0m-.4 28h0m17.5 3.6h0m-9.7-7.4h0m-9.5 1.7h0m-7.1-11.1h0m12.1 16.8h0m9.5-7.3h0m-14.2-4.5h0m10.9 13.7h0m-2.7-26h0m-16.3 1.9h0m14.8 18.4h0m-6.5-9.5h0m5.5 4h0m.5-12.1h0m7.7 13.7h0m-17.3-1.1h0m17.7-15.8h0m-8.5-4.5h0m3.4 9.5h0m.3 17.5h0m-8.7-6h0m-5.4-5h0m-1.7-3.3h0m12.8-8.7h0m-1.5 3.7h0m1.4 2.7h0m3.1-7.6h0m-6 10.9h0m4.6 11.3h0m4 2.6h0m2.4 4.2h0m-12.8-17.2h0m3.5 3.7h0m-6.2-19.2h0m12.2 34.5h0m.2-12.3h0m.6-12h0m-4.8-9.6h0m-14.1 15.4h0m11.4-2h0m.7-6.4h0m-6.6 6.3h0m-15.7-7.3h0m2 3h0m-4 2h0m6 2h0m-8 20h0m3 3h0m-7 3h0m-4 4h0m-2 3h0m6-1h0m31-81.5h0m2-1h0m2 1.5h0m3 2.6h0m-2-1.1h0m-6.7 6.5h0m10 7.4h0m-32.5-.4h0m1.6 9.2h0m-9.9 5.3h0m1.8 4.5h0m10.9-4.5h0m1.2 5.6h0m-9.4 1.9h0m2 4h0m-4 3h0m-3 1h0m-3 5h0m2 1h0m-2.5 6h0m5.5 4h0m3.2 2.7h0m-2.2 2.3h0m-4 2h0m-1.3 3.6h0m-4.2 .4h0m4 4.4h0m9.5-3.4h0m3-4h0m35.5-32h0m1.5 9h0m12.7 10.5h0m3.3 12.1h0m-6-.3h0m12 .7h0m-3 1.5h0m-17-4.5h0m3 3h0m-5 2h0m-7.5 8h0m.5 5h0m-1 5h0m-1 2h0m3-5h0m-13-.6h0m-2-.9h0m-3 .5h0m7 1h0m-5-58h0m-5 1h0m3-4h0m5-1h0m4 3h0m4 2h0m2 3h0m-4-10h0m-18 9h0m-21 11h0m-2 3h0m15 10h0m3-4h0m-20 10h0m3 3h0m18 3h0m4 3h0m2-5h0m26-12h0m1 6h0m-2 6h0m-6 5h0m-4 4h0m3 3h0m18-12h0m7 7h0m3-5h0" stroke="#2b7bba" stroke-width="2.50" stroke-linecap="round" fill="none"/><path d="M335.2 284h0m-12.7 4.3h0m2.3 .8h0m2.3-.3h0m1.2-2.1h0m2.5-1.2h0m.6 4h0m1-1.9h0m2-.1h0m.4-.9h0m1.2 1h0m2.7-3.1h0m9 .7h0m1 3h0m6.9 7.6h0m-2.9-5.3h0m-5.7 3.6h0m-7.5-3.3h0m-1.6 .4h0m-1.7 1.6h0m-2.4 2h0m-1.4-1h0m-.6-2.7h0m-1.1 1.6h0m-1.3-1.2h0m-1 4.2h0m-.5-3.7h0m-.5-1.4h0m-.4 2.4h0m-.9 2.9h0m-.6-2.7h0m-1.9-.3h0m-1.4 .4h0m-1 1.4h0m-.1-1.4h0m-.7 2.5h0m-.9-4.8h0m-.9 4.8h0m-1.3 4.4h0m1.1-2.5h0m.9 3.3h0m.9-4.7h0m2.5 3.9h0m1.7 .5h0m.8 .7h0m1.3-1.8h0m1.5-2.4h0m2-.4h0m2.8-.6h0m2.6 .7h0m1.7 2.6h0m.9 .6h0m1.6-1.8h0m6.7 .4h0m7.1 2.2h0m.9-4.3h0m2 4.9h0m2.7 3.5h0m-9.5 .2h0m-6.3 1.5h0m-8-3.6h0m-1.4-.3h0m-1.8 1.9h0m-.9 3.1h0m-.9-.3h0m-.9-5h0m-.8 2.2h0m-1.9 .3h0m-2.2 2.2h0m-1.6-4.1h0m-2.6 2.8h0m-1.6 2.3h0m-.2-2.9h0m-2.1-.2h0m2.4 4.4h0m1.2 2h0m1.3 1.7h0m.8-4.8h0m2.1 .7h0m1.8 .2h0m2.3 3.8h0m.6-1.4h0m.3-3.5h0m8 .9h0m1.1 4.2h0m1.5 .5h0m2.8-5.3h0m5.3 4.1h0m2.1-4.1h0m9.4 6h0m-3.6 .1h0m-6.3 5.3h0m-2.4-.3h0m-7 .3h0m-4.6-3.2h0m-1.5-1.6h0m-2-.3h0m-1 1.1h0m-.9 3.6h0m-1.3 .1h0m-1.9 .4h0m-.9-2.5h0m-.4-1.4h0m-.6 .8h0m1.3 3.9h0m2.2 4.1h0m1.6-1.3h0m2 1.7h0m1.1-3.6h0m2.6-.3h0m3.1-1.2h0m3.8 1.9h0m15.6 1.6h0m-1.2 6.8h0m-1.8 1.1h0m-3.9-4.7h0m-3.5 3.5h0m-5.4 .9h0m-4.1 0h0m-.9-.1h0m-1.2 .3h0m-3.8-2.7h0m-2.9-1.3h0m-2.3 .8h0m4.8 4.4h0m2.7 .1h0m1.7 1.1h0m1.2 1.3h0m2.6 2.6h0m1.9-2.7h0m13.4-1h0m-12.5 5.2h0m-34.2-26.8h0m2.5 .7h0m1.3 .6h0m1-3.6h0m.4 .3h0m1 2.3h0m1.9 .8h0m1.1-1.1h0m.2 1.7h0m1.4-2.3h0m.6 .2h0m3-.1h0m1.3 .2h0m5 6.4h0m-.8-1.8h0m-2.3-.9h0m-.2-.6h0m-2 .4h0m-1.3 2.3h0m-.8 1.6h0m-1.4-4.1h0m-.3 .1h0m-.7-.7h0m-1.2 4.1h0m-.6-.5h0m-.7-1.7h0m-.7-2.2h0m-.5 0h0m-2.4 1.1h0m-.7 1.9h0m-.8-2h0m-1.5-.7h0m-.7 3h0m-1.7-1.8h0m-.3 .9h0m-.3 2.2h0m-.6-4.8h0m-.6 1.7h0m-1.9 2.5h0m-1.8 1.3h0m-1.2 2h0m.9 3.7h0m1.3 .6h0m1.9-1.4h0m.4 1h0m.5-4.8h0m.8 3.9h0m.8-3.1h0m.5 1.4h0m.9 2.8h0m.7-4.5h0m2-1h0m.5 2.2h0m.8 1.6h0m1.3-3.1h0m.7 4.6h0m.3-2.2h0m1.2-1.4h0m.4-1.8h0m.8 5.7h0m1.3-.5h0m1.1-4.3h0m.8-.8h0m2.8 4.1h0m.8-1.7h0m1.4 .7h0m1.3-3.2h0m1.6 3.8h0m1.6 2h0m.9-4.6h0m1 4.6h0m2.4 5.7h0m-.5-3.4h0m-.6 1.8h0m-1.8 1.4h0m-1.5-2.2h0m-.8 2.2h0m-1.6-.6h0m-3-3h0m-1.2 2.3h0m-1.5-1.5h0m-.6 1.2h0m-1.3-2.5h0m-2.3 3.3h0m-.5-3.4h0m-1.2 .4h0m-2.8 .6h0m-.4-1h0m-.7-.4h0m-.4 1.4h0m-1.2-.1h0m-1.4 1.4h0m-1.1-2.9h0m-1.4 4.2h0m-1.5-2.9h0m-.3-.7h0m-.8 3.6h0m-1-4.3h0m-1.1 .4h0m-.5 0h0m-.2 1.3h0m1.4 4.8h0m2.4 3h0m.5-2.8h0m1.5 .7h0m.6-1.8h0m.2 4h0m1.9 .5h0m1.4 .6h0m.6-1h0m1.4-.2h0m.6-1.9h0m2.5-2h0m1.9 4.6h0m.8 .1h0m1.3-2.8h0m.6-1.5h0m1.8 2.6h0m.5 2h0m.7-4.7h0m1.1 1h0m.3 4.3h0m.6-3.8h0m2-.2h0m.9 0h0m1.1-.5h0m1.1-.2h0m-1.7 6.4h0m-2 1.8h0m-1.1 1.1h0m-1-2.4h0m-1.6 0h0m-1 1.4h0m-1.8 1.6h0m-.4-3h0m-.9-2h0m-.6 .3h0m-1.7 1.1h0m-1.6 0h0m-.9 1.9h0m-1.5-1.2h0m-.8-1.6h0m-.5 1.5h0m-1 1.4h0m-.4 .8h0m-2.4-3.2h0m6.8 6.4h0m3.5 .5h0m1.6 1.6h0m-10.7-75.7h0m-1.9-.6h0m-2.5-.4h0m-4.1 0h0m-2.3 1h0m-10.7 6h0m4.2-.8h0m5.1-2h0m2.1 .6h0m2.1 0h0m1-3.1h0m1.3 2.7h0m.4 .7h0m1.2-2.3h0m.9-1.2h0m.9 1.3h0m1.3-1.7h0m.5 .4h0m1.8 1.5h0m-.6 8.5h0m-.7 1.3h0m-.7 .2h0m-1.3-1.6h0m-3.9-1.2h0m-.6-2.1h0m-.6 3.2h0m-1.3-2.5h0m-1.5 2.8h0m-.9-3.1h0m-1.4 2.4h0m-1.2-.8h0m-3.4-1.3h0m-3.3 3.2h0m-1.2-3h0m-6.1 1.3h0m-1 6.7h0m4.4 .6h0m1.1-2.5h0m6 2.9h0m5.8-1.7h0m1.4-2.8h0m1 3h0m1.2 1.7h0m1.3-2.9h0m.6 .7h0m1.1-.6h0m.5 1.8h0m1 1.2h0m.3-.7h0m.9-.6h0m2.5-1.5h0m1-.4h0m.7 1h0m-.6 5.9h0m-3.5 2.1h0m-1-1.6h0m-1.9-3.2h0m-.5 2.3h0m-1 .9h0m-2.7 .2h0m-.8 .5h0m-2-1.3h0m-4.1 2h0m-5.7-1h0m-4 .3h0m-2.3 1.5h0m-1.5 3.4h0m2.2-2.9h0m2.8 4.7h0m2.6-3.8h0m3.7 1.7h0m4 .1h0m.5-.6h0m1.4 3.7h0m1.1-1.9h0m.6-.3h0m1.2-.1h0m1.8-.5h0m1.2-2.5h0m2.6-.3h0m1 2.6h0m1.5-2.1h0m2 .4h0m.9-.9h0m.1 6.6h0m-4.1 .1h0m-1.5-.1h0m-2.1 .2h0m-6.5 1.1h0m-3.3 .3h0m-15.9 21.1h0m2.1-4.3h0m4 3.4h0m1-1.9h0m2.7 1.5h0m.9-3.3h0m1.5 3.8h0m.6-1.5h0m1.7-.6h0m3.2 1.4h0m9.3 7.8h0m-2.4-.1h0m-2.9-5.7h0m-1.7 5.2h0m-.8-2.5h0m-1.4 .9h0m-1.3-1.1h0m-.8-1.2h0m-1.1 4.3h0m-1.1-2.9h0m-2.2 2h0m-.5-.3h0m-2-4.3h0m-1.6 4.6h0m-1.1-4.3h0m-2.6 4.4h0m-1-3.3h0m-1.3 3.7h0m-1.3-4.4h0m-1 2h0m-1.6-2.6h0m-1.9 4.5h0m-2.9 6.6h0m1.6-1.8h0m2.2-3.3h0m1.7 .5h0m1 3.1h0m.5 1.9h0m.8-4.6h0m1.5-.8h0m.8 2.6h0m.9 2.4h0m1.4-4.2h0m1.3 2.1h0m.6 1.3h0m.9 1.1h0m1-.7h0m1-3.4h0m.6 1h0m1.3 .7h0m1.2 1.8h0m1-.1h0m.7-2.9h0m.8 1.2h0m1.5-1.4h0m1.9 2.4h0m2.3-1.4h0m1.1 .2h0m.4-1.5h0m1.4 .6h0m.6-.2h0m1.9-1.5h0m1.2 3.8h0m2.2-1.7h0m3.2 6.2h0m-1.9 1.5h0m-1 .7h0m-1.7 .1h0m-1.3-3.2h0m-.7 1h0m-1.6-2.9h0m-.7 2.4h0m-.8 1.4h0m-1.2-1.3h0m-1.1 1.6h0m-.8-1.6h0m-.9 2h0m-3.5-.2h0m-.8-.3h0m-1 0h0m-.4-1.9h0m-.7-1.5h0m-1.6 0h0m-1.6 .3h0m-1.7 3.4h0m-.8-4h0m-1 4.3h0m-1.2-2.4h0m-1.7 2.9h0m-.4-.4h0m-.8 0h0m-1.5 1.1h0m-.8-.4h0m-.9-2.2h0m-.7 2.6h0m-1.4-1h0m-.9-3.4h0m-.8 2.9h0m-.3-1.8h0m-.6 1.2h0m-1.1-3.7h0m2.2 9.1h0m1.5-2h0m1.7-.2h0m.7-.8h0m.6 3h0m1.3-2.8h0m1.3 4.3h0m.8-.8h0m1.5 0h0m.7-2h0m.2 .1h0m1 1.7h0m.4 .1h0m.4-.1h0m.4-1.4h0m.6 1h0m.7-.5h0m.6-2.7h0m1.2-.1h0m1.4 4.1h0m.7 .2h0m.6 0h0m.2-3.7h0m.4-.3h0m.5 .7h0m2.2 .7h0m1.7 1h0m2.2-1.5h0m2.3 .4h0m.4-.6h0m.8 4.3h0m1.1-5.3h0m.8 5.1h0m1.2 .8h0m.8-1.4h0m.4-4.5h0m1.8 3.6h0m.3 1.5h0m1.7-3.1h0m-4.6 5.5h0m-3.3-1.2h0m-2 .7h0m-.6 3h0m-.6-2.5h0m-.4 1h0m-1-1.4h0m-1.4 3h0m-1.9-3.1h0m-1.1 3h0m-1.6-4h0m-1.1 2.2h0m-1.5-.5h0m-2.6 1.8h0m-.9 .2h0m-1.8-2.9h0m-1.3 1h0m-.2 1.7h0m-1.2-2.3h0m73.3-11.3h0m-2.1 3.8h0m-5.2-1.2h0m-2.2-.8h0m-1.8 1h0m-7.2-2h0m-3.4 0h0m-1.7 .9h0m-.7-.8h0m-.6 1.6h0m-1.3-1h0m-1.8 .5h0m-1.2 1.7h0m-4.9 0h0m-5.8 4.2h0m1.4-1.3h0m1.6-.3h0m1.2-1.9h0m1.7 3.3h0m.6-2.1h0m1.2 3.5h0m2.1-.1h0m4.2-.9h0m1-.8h0m1.7-1.9h0m.6 1h0m.6 .4h0m.4 3.1h0m8.1-1.3h0m10.6-3.8h0m1.1 .6h0m-3 9.8h0m-9.1-2.6h0m-5.5-.8h0m-2.7-1.7h0m-1.5 2.5h0m-.5-2.4h0m-1.4 1h0m-1.2-.1h0m-1.7 3.7h0m-1.6-1h0m-.5-2.4h0m-1.8-.7h0m-.3 3.4h0m-1.5 1.2h0m-1.9-.4h0m-2.5-4.6h0m-10.6 2.7h0m-1.1-.4h0m-1.2-.3h0m-.9-.8h0m-2.2 .3h0m3.1 6h0m1.8 .8h0m.8-1.9h0m.8 .9h0m.8 3.7h0m1.1-3.4h0m1.1 2.5h0m2.7-2.9h0m1.2 1.6h0m.9 2.5h0m.8-2.6h0m1.5-2.3h0m2.3 1.5h0m.8 1.4h0m1.3 .8h0m.8-.3h0m.6 1.3h0m.9-3.1h0m2.3 2.4h0m2.1 .7h0m1.8-1h0m1.5 .7h0m1.8-4.4h0m8.5 .1h0m1.9 .3h0m3.7 3.4h0m-8.6 2.3h0m-4.6 4.3h0m-1.6 .3h0m-.5-1.5h0m-.3-3.3h0m-2.7 5.4h0m-.7-3.5h0m-2.2-.7h0m-1.8 3.6h0m-1.6-5.3h0m-.7 .3h0m-1.4 4.7h0m-1.4 0h0m-4.1-3.4h0m-1.3-.5h0m-.3-.9h0m15.1 7.6h0m4.4 .1h0m-66.3-68.8h0m2 .1h0m2.7 .3h0m1.9-.2h0m2.1-.6h0m1.4-.3h0m29.1 5.9h0m-3.5 .8h0m-1.7 0h0m-1.1-1.4h0m-1.4-1.3h0m-1.2 3.4h0m-2.2-2h0m-1.3 1.5h0m-1.5-4.2h0m-.6 1h0m-2 .9h0m-.6 3h0m-.6-4.4h0m-2.5 2.3h0m-1-1.8h0m-1.5 2.3h0m-2.5-1.1h0m-1.2 1.3h0m-1.6-4.3h0m-1 .6h0m-.4 .3h0m-.8-.7h0m-1.1 5.4h0m-.8-3.9h0m-.5 2.9h0m-.6 .6h0m-1.2-1.4h0m-1.2 1.5h0m-1.2-4.6h0m-.4 1.2h0m-.6 2.1h0m-1.1 .6h0m-1.6-3.3h0m-1.1-1.5h0m-1.3 2.8h0m-.6 2.1h0m1.9 4.2h0m1.2-1.6h0m1.6 .3h0m1.3-.3h0m1.5-.7h0m1.4 1h0m.4 .5h0m2.6 1.1h0m2.4-2.1h0m3.9 .2h0m2-.8h0m1.2 .7h0m2-.2h0m1.3 4.4h0m1-1.4h0m.5 .3h0m2.1-3h0m.8-1.6h0m2.8 0h0m.6 4h0m1.2-3.4h0m1.7-.1h0m1 4.8h0m2-4.7h0m1.6 3.6h0m1-1.4h0m1.6-.3h0m1.4 .7h0m1.5-3.2h0m1.5 1.9h0m1.2 .3h0m-3.2 4h0m-2 1.1h0m-.8 1.3h0m-.9 .8h0m-.3-.1h0m-.2 1.1h0m-.7-.4h0m-.7 1.8h0m-.7-1.8h0m-2.1 1.5h0m-1.4-2.1h0m-1-1.2h0m-1.8-1.2h0m-1.1 2h0m-1.5 1h0m-1.1-2.4h0m-.7 2.8h0m-.5-2.4h0m-.5 .5h0m-1.4-.1h0m-1.4-1.1h0m-.3 .7h0m-.7-.5h0m-1 2.2h0m-.6-.5h0m-.5 1.8h0m-.9-.2h0m-.9-2.7h0m-.8 3.9h0m-.9-4.6h0m-1-1.2h0m-1.3 5.4h0m-1.3-5.5h0m-2.2 1.8h0m5 5.6h0m2.5-1.4h0m1.4 .7h0m2.5 1.3h0m.8 .5h0m.9-1h0m2.8 .8h0m1.1 .1h0m3-.2h0m2.4-1.5h0m1.9 .6h0m17.8-43.7h0m3.9-4.3h0m2.1 2.8h0m3.5-.3h0m-9.1 4.9h0" stroke="#d3d3d3" stroke-width="2.40" stroke-linecap="round" fill="none"/><path d="M343 282h0m-2.9 1.7h0m-16.1 2.3h0m1.5 2.9h0m3.3 1.1h0m3.2-2.6h0m1.7-2.9h0m2.2 3.4h0m1.1 1.8h0m1.2-2h0m1.9-3.2h0m.4 2.9h0m.9 1h0m.6 .8h0m1.7-1.1h0m2.8-1.9h0m.6 2.3h0m1.9 .1h0m4.3 .5h0m4.8 6.7h0m-1.6-4.7h0m-.3-.1h0m-.4 1.2h0m-.8 1.2h0m-1 2h0m-1.1-3.9h0m-.9 0h0m-.7 2.2h0m-1.3 .8h0m-1.2-.3h0m-1.5-.7h0m-1.1-1.2h0m-3.1-1.5h0m-2.2 4.9h0m-.3 0h0m-.8-3h0m-1.4-.6h0m-2.2 1.1h0m-1.5 2.5h0m-.6-4.3h0m-3.6-1h0m-2.5 3.4h0m-1.6 1.7h0m-3.5-.2h0m-5.6 4.3h0m2.4 1.4h0m3.7-.8h0m3.2 .9h0m1.3-3.2h0m3.9 3.2h0m1.1 .8h0m1.6-4.6h0m2.4-.2h0m2.7 .1h0m.8 4.7h0m1.7-1.4h0m.7 1h0m.4-1.5h0m1.9 1.2h0m.6-4.8h0m.3 5.2h0m.2-5.1h0m.8 2.2h0m.9 1.6h0m2.2-3.7h0m.6 1.8h0m.6 .4h0m.7 1h0m.9-.6h0m1.4 .2h0m.4-.4h0m.6-.5h0m1.7 .8h0m1.6-1.9h0m3.1 4h0m1.4 6.6h0m-.7-.9h0m-2-2.6h0m-.8 3.5h0m-2.9-5.2h0m-.7 3.2h0m-1.4-3.6h0m-1 .9h0m-.5 4.9h0m-1.1-.2h0m-1.3-2.4h0m-.5 1.6h0m-.5 .1h0m-.6-2.3h0m-.4 1.4h0m-1.1-3.8h0m-1.3 1.5h0m-.7-.2h0m-1.7 1.7h0m-.4-.2h0m-.5-2.4h0m-.5 .3h0m-1.1 .2h0m-.7 2.7h0m-.4-2h0m-.5 0h0m-1.8 1.4h0m-2.9 .8h0m-3.2 0h0m-2.5 .5h0m-2.2-.1h0m-.5-.4h0m-2.2-1.5h0m-2.3 2.6h0m-3.3-.7h0m-.1 4.8h0m4.8 2.4h0m3.5-4.5h0m6.7 1.6h0m1.4-1h0m.9 1.3h0m1.6-1.8h0m2.5 4h0m.6-.2h0m.6-1.3h0m2.9-2.7h0m.8 2h0m1-2.6h0m.7 .1h0m2.6 1.1h0m.9-1.5h0m.6 4.5h0m1.5-1.5h0m1.1 .7h0m.8 .9h0m2.7 .2h0m1.1-2.4h0m.7 3.1h0m1.2-3.1h0m.4 .7h0m.3-3.4h0m1.7 1.9h0m.3 1.9h0m.1-.6h0m.8-2.8h0m-2.5 6.5h0m-.8 3.9h0m-.8 .1h0m-.9-3.6h0m-1.5 1.5h0m-.6 2.8h0m-1-3h0m-5.3 3.2h0m-2.1-2.3h0m-1.1 1.8h0m-.9-.1h0m-1.4-4.6h0m-.6 .3h0m-.4 5.1h0m-1.3-3.6h0m-.6-1.9h0m-1.3 .4h0m-.8 3.9h0m-.7-4h0m-1.9 1.5h0m-.6 2.8h0m-3.5-4.7h0m-3.9 1.4h0m-3.2 2.2h0m1.8 4h0m5.3-.4h0m1.7 .8h0m.6-.8h0m1 3.6h0m3.9-1.9h0m1.9 1.3h0m1.1-1.6h0m2.4-2.8h0m.5 5.6h0m1.6-2.1h0m1.2-.4h0m.8 2.6h0m1.3-5.7h0m1.5 .2h0m.9 4h0m.7 0h0m.6-.8h0m1.5-1.7h0m1.6 3.6h0m2-2.4h0m2.1-2.3h0m-2.5 5.9h0m-.8 2h0m-1.1 2.4h0m-1-.6h0m-.5 .6h0m-.5-3.3h0m-1.8 2.6h0m-.6-4.3h0m-1.1 1.2h0m-1.6 2.7h0m-1.1 .3h0m-1.6-1.2h0m-.9 1.5h0m-.4 .7h0m-.3-.3h0m-1.9-3.8h0m-1.5 .2h0m-.5 1.7h0m-1-2.1h0m-2.1 2.6h0m-3.5-.3h0m-3.4 .7h0m-.9 1.2h0m1.7 2.6h0m2.3-.1h0m.9 .5h0m1.4 3h0m1.6 .4h0m1.6-3.2h0m2.5 0h0m1.5-.7h0m1.5 3h0m.5 1.3h0m1.7-.3h0m1.2-4.4h0m.5 3.5h0m1.7-.4h0m1.8-1.6h0m.6 .5h0m.7-2h0m-6.1 5.1h0m-6.7-.2h0m-2.8 1.5h0m-4-.1h0m-13.4-26.3h0m6.5 5.7h0m-11.8 .3h0m-5.3 2.6h0m5.8-.2h0m16.8 10h0m-6.3-1.3h0m-20.1-.6h0m5.6 6.7h0m9.6-.5h0m3.4 1.8h0m6.1-3.5h0m-12.9 6h0m-10-68.4h0m-23.1 5h0m2.3 .4h0m2.4-.6h0m2.7-1.1h0m1.2-1.2h0m1.9-.3h0m1-2.1h0m.8 4.8h0m2.8-.5h0m5.7 1.6h0m3-1.5h0m-.1 3.8h0m-2.1 2.1h0m-2.4 1.2h0m-3.5 .3h0m-2.6-2.6h0m-1.4-2.8h0m-.7 3h0m-.6-3h0m-.7 .5h0m-1.6 4.3h0m-1.6-3.1h0m-1.9 1.1h0m-1.9 2.7h0m-.9-5.9h0m-1.2 .3h0m-1.7 4.3h0m-2.3-1.7h0m-2.3-.5h0m-2.3 9.5h0m1.7-4.3h0m.9-1.2h0m1.2 2.4h0m1.5-2.2h0m2.1 4.5h0m3.3-4.1h0m1.1 1.3h0m1-1.9h0m.7 4.5h0m.5-4.2h0m1.4 5h0m1.3-.5h0m.8-.5h0m.7 .9h0m2.1-3.8h0m3.6-1.3h0m1.4 2.6h0m3.4-2.4h0m.7 .8h0m4.1 3.2h0m1 4.1h0m-2.5 2h0m-3.7-4.5h0m-2 4.7h0m-2.4-2.4h0m-1 1h0m-4.5-2.9h0m-.6 0h0m-1.7 5.3h0m-1-4.9h0m-1.8 4.4h0m-3.3-.7h0m-2.5 .6h0m-.5-.1h0m-.6 .3h0m-4-2.7h0m-1-.6h0m-1 .4h0m.2 5.5h0m.7-.7h0m.7-1h0m4.3 1.6h0m1.1 1.8h0m.8-2.9h0m1-.6h0m1.9 2.7h0m1.4 1.9h0m2.4-4.2h0m3.2 1.6h0m1-.7h0m1.5 2.8h0m2.3-1h0m8.3-1.6h0m0 4.8h0m-11.1 2.1h0m-1.1-1.5h0m-4.8 1h0m-10.2 18.2h0m6.7-.2h0m5.8 1.1h0m-4.5 2.7h0m-11.2 3.7h0m-5.5 8.1h0m6.6-.1h0m4 .1h0m4-.4h0m7.6-.6h0m4.7 .4h0m2.8 2.2h0m-2.8 4h0m-2.4-1.6h0m-3.7-2.3h0m-7.8-.9h0m-6 .1h0m-3.7 3.7h0m.8 3.9h0m7.6-1.3h0m5.8 1.4h0m3.2 2.5h0m3.5-4.9h0m5.1 4.6h0m6.1-.6h0m-6.5 4.7h0m-6.7-2.6h0m-4.6 1.2h0m-6.9 1.9h0m-5.4-1.4h0m61.5-14.1h0m14.3 2.8h0m-1.9 3.4h0m-2.4-1.4h0m-2.6-1.3h0m-1.5 2.7h0m-.1-5.5h0m-1.1 5.1h0m-.8 0h0m-1.2-5.1h0m-.6 3.6h0m-1.1-.4h0m-.9 1.9h0m-.9-4.1h0m-1.3 2.4h0m-1.6-2.3h0m-1.7 2.9h0m-4.7-.4h0m-9.7 1.8h0m-2.7 3.7h0m3.2-2.8h0m2.1 2.9h0m.7-.7h0m5.1 0h0m1.3-2h0m3.3 4.6h0m.8-1.9h0m1.7-2.8h0m.9 2.4h0m1-3.1h0m1.3 2.5h0m1.2 2h0m.5-.7h0m1.1 .3h0m2.1 1.4h0m.5-3.2h0m1.7 2.6h0m1.9-1.8h0m.3-1.5h0m.6 .6h0m1.4 1.1h0m.5-1.7h0m.4-.3h0m.9 2.5h0m1-3.5h0m1 4.6h0m-.6 1.5h0m-1.8 3.8h0m-1.4-2.2h0m-1.3-1h0m-.5 1.4h0m-2.5-1.5h0m-.6 .4h0m-1.8 1.5h0m-1.4-.2h0m-1.1 1h0m-1.2-1.9h0m-1.7-.7h0m-1 0h0m-.4 1.5h0m-1.9-2h0m-2.4 5.2h0m-2.2-3.1h0m-4-2.3h0m-1.8-.4h0m-2.9 1.7h0m-1.9 .6h0m-13 3.4h0m-3.6-2.3h0m7.9 5.8h0m2.1 1.7h0m5.8-2.8h0m2-.6h0m8 2.8h0m4.7-3.1h0m1 .8h0m2.2-1h0m1.2-.4h0m1.2 2.9h0m2.5-2.6h0m.2 2.1h0m.4 2.8h0m1-2.7h0m.9-.4h0m1.3 2.3h0m.2-4.7h0m.3 .7h0m.7 2h0m1.1-2.8h0m-4.3 5.9h0m-2.6 3.1h0m-1.3 .3h0m-1.8-3.1h0m-.8 1.5h0m-2.2 1.7h0m-.9 2.2h0m-2.7-2.9h0m-7 1.6h0m-2.9-3.4h0m-49.1-61.3h0m26 0h0m4.6 3.6h0m-10.7 2.4h0m-4.9-2.5h0m-6.2-1.8h0m-4.3 2h0m-6 1.8h0m-5.8-2h0m5 4.4h0m4-.7h0m12.5 1.3h0m3.7-.5h0m3.7 3.2h0m4.5-.9h0m8 .5h0m5.2-2.7h0m-18.1 9.1h0m-3.8-1.1h0m-5.4-3.4h0m-4.8 5.3h0m-1.1 .5h0m9.7 1.6h0m12.1-1.5h0m14.7-45.1h0m3.5 1.8h0m.9-2.9h0m.7-.5h0m3.9-.7h0m-6.7 7.6h0m-2.5-2.3h0" stroke="#a8d0ef" stroke-width="2.40" stroke-linecap="round" fill="none"/><path d="M332.1 283h0m-8 5.3h0m2.3-2.8h0m1.1-.1h0m2 3.6h0m1.7-4h0m.5 1.4h0m1.7 3.6h0m1.2-4.8h0m.2 .5h0m1.3-1.5h0m2.6 2.2h0m9.1 3.5h0m1.9-1.9h0m5.6 3.1h0m-5.5 2h0m-3.3 .2h0m-7.9-1.8h0m-1.2 .7h0m-1.9-1.5h0m-2.8 2.6h0m-.6-2.1h0m-.8 4.7h0m-.6-3.4h0m-1.7 1.6h0m-.6-1.1h0m-.7 1h0m-.6-.5h0m-.5 2.7h0m-.8-2.6h0m-1.3 2.4h0m-1-1.2h0m-1.3-.9h0m-1-.5h0m-.2-1.2h0m-1 2.5h0m-.5 .2h0m-3.2 1.2h0m1.2 4.8h0m1 1h0m1-4.8h0m1.6 .6h0m2.3 2h0m1.1-3h0m.9-.1h0m1.2 1.5h0m1.5-1.2h0m2.4 1h0m2.7-1.2h0m2.3 5.2h0m1.7 .1h0m1.2-3.3h0m1.3-.9h0m12.2-1h0m1.8 1.9h0m.6 1.2h0m2.7-.8h0m0 5h0m-11.5 3.5h0m-7.6-4.3h0m-3.2-.9h0m-1.6 3.3h0m-1.7-.6h0m-.8 .3h0m-.8-.4h0m-.8 1.1h0m-1.6 1.6h0m-1.5-1.1h0m-2.3-.8h0m-1.9-3.6h0m-1.6 6h0m-1.5-1.1h0m-1.3-.7h0m-1.1 1.8h0m3.3 2.8h0m1.3-2.1h0m.8 2.9h0m1.8-.4h0m.8-2.4h0m1.8 2.2h0m2.4 1.8h0m.4-.3h0m5.6-4.3h0m3.3 2.6h0m1.4 .6h0m1.5-2.6h0m2.5 4.4h0m5-4.3h0m11.7 1h0m-2.2 8.8h0m-2.5-1.7h0m-6.6 1.6h0m-4.5 1.1h0m-5.6-.4h0m-3.5-3.8h0m-2.1-.9h0m-1.5 2.7h0m-1-2.1h0m-.8 2.6h0m-2-2.6h0m-1.1 .8h0m-.6 .4h0m-.4-2.1h0m-.6 4.7h0m2.7 1.2h0m1.3 2.7h0m1.7-2.5h0m1.9 3.3h0m.8-.9h0m3.2-1.2h0m3.5 1.4h0m8.5 1.5h0m9.4 4.5h0m-1.9 1.8h0m-1.9-4h0m-4.6 1.5h0m-5 1.5h0m-4.6 2.1h0m-1.5-3h0m-1.3-2h0m-3 .6h0m-2.1-.4h0m-2.5 .4h0m1.1 8.6h0m2.9-1.2h0m2.5-.9h0m.7-2h0m2.8 5h0m1.5 1h0m3-2.5h0m5 2.9h0m-10.5 0h0m-29.3-27.7h0m2.3-.1h0m1.2 .3h0m1.3 2h0m.5-1.7h0m.8-1.6h0m2.6 4.2h0m.3-.7h0m.2 .4h0m1.5-4.5h0m1.6 1.9h0m1.9 1.8h0m4.7 .9h0m.8 5.4h0m-1.2 .5h0m-1.2-2.6h0m-1.3 .1h0m-1.2 .1h0m-1.7 1.6h0m-.3-.2h0m-1.4-2.1h0m-.2-.9h0m-.8 3.8h0m-1.2-2.7h0m-.8-.9h0m-.3-1.5h0m-1 .8h0m-1.5 4.1h0m-1.7-3.4h0m-.1 .9h0m-1.4 0h0m-1.5 3.4h0m-.4-1.7h0m-1.5-2.1h0m-.2 2h0m-.4-1.3h0m-.5 .9h0m-1.2 1.6h0m-2.2-.3h0m-1.3 .8h0m0 3.6h0m.5-1.3h0m1.8 1.2h0m1 .4h0m.6 .9h0m.4-4.4h0m.7 5.4h0m1-.4h0m.7-5.2h0m1 5.5h0m.7-1.9h0m1.7 1.4h0m.4-1.6h0m1.2 .4h0m1.1-1.7h0m.5 1.1h0m1.2-3.2h0m.2 3.6h0m.4-1.9h0m1.1-.4h0m1.4 4.2h0m1.1-3.6h0m1.5-.4h0m2.3-.2h0m.7 3.2h0m1.2-3.3h0m1.2 2.8h0m1.9 .5h0m1.1-4.2h0m1.2 .8h0m1.9 4.4h0m.9 1.3h0m-.6 2.9h0m-.3-2.1h0m-2 2.7h0m-1.7-2.4h0m-.7 1.7h0m-1.9 1.3h0m-3.2-1.8h0m-.8-.6h0m-1.1 2.9h0m-1-3.8h0m-1.1 2.1h0m-2.1-3.3h0m-.6 .9h0m-2 0h0m-1.9 2.8h0m-.6 1.7h0m-.6-5.5h0m-.4 5.3h0m-1.1-2.6h0m-2 1.8h0m-.7 1.1h0m-1.4-.6h0m-1.3-.6h0m-.3-2.2h0m-.9-1.2h0m-1.1 1.5h0m-1 2.1h0m-.5-.1h0m-1.5 1h0m3.4 .9h0m1.9 3.3h0m1.2 1.5h0m1-2.5h0m.4 2.4h0m.9-4.7h0m2.3 1.6h0m.4-1.6h0m.8 2.8h0m1.3-1.5h0m2-1h0m1.7 3.5h0m1.4 .9h0m.8-1.3h0m1 .4h0m1.4-2.8h0m1.3 .2h0m.7-1h0m.3 4.7h0m1.1-.7h0m.3 0h0m1.4 .2h0m1.4-4.4h0m1.3 3.6h0m.4-2h0m1.6-.1h0m-2.7 3.9h0m-2.4-.2h0m-.5 2h0m-1.1-.8h0m-1.3 2.3h0m-1.7-2.4h0m-1.1 3.6h0m-.4-2.7h0m-.9 3h0m-1.2-.3h0m-1.1-1.1h0m-1.8 1.1h0m-1.3-1.1h0m-1.2-3.5h0m-.4 3.6h0m-1.1-1.2h0m-.5-1.2h0m-.8-1.1h0m-3.2 0h0m9.3 9.7h0m2.8-2.7h0m2-.8h0m-11.9-72.6h0m-1.6-1.5h0m-3.7 1.7h0m-3.6-.7h0m-2.8-.9h0m-6.1 4.8h0m1.9-2.1h0m4.6 1.5h0m2.2 .8h0m1.6-3.2h0m1 4.7h0m1.5 .4h0m.5-4.1h0m1.1 .2h0m.9-.8h0m1 3.3h0m.8-.6h0m.7 .2h0m2 6.6h0m-1.1-2.9h0m-.7 4.7h0m-.6-1.8h0m-1.7-2.7h0m-3.7 0h0m-.8 1.9h0m-.6 1.3h0m-.9-2.5h0m-1.8 1.3h0m-1.6-1h0m-1.3 3.4h0m-.4-4.4h0m-4.6 2.4h0m-2.2-.5h0m-2.4-2.7h0m-4.9 2.5h0m-.7 7.4h0m4.8-1.6h0m3.1 .4h0m7.5-2.9h0m1.9 .1h0m1.5 .5h0m1.5 2.2h0m.7 1.6h0m1.2 .5h0m.8-2.2h0m.9-.8h0m.4-.2h0m1 .1h0m.7 .1h0m.9 3.5h0m2.5-2.7h0m.8-2.1h0m2.8 6.4h0m-4.5 3.9h0m-2.2-4.5h0m-.8-.1h0m-2.1 .8h0m-.5 3.9h0m-1.1-1.9h0m-2.6-.6h0m-.7 .1h0m-2.4-1.2h0m-7.9 3.6h0m-1.3-4.5h0m-4 1.7h0m-5.5 3h0m2.5 2.3h0m2.8 .1h0m3.5 2.8h0m.7 1h0m5.3-1.9h0m2.3-1.8h0m.8 3h0m1.7-2.2h0m.6 1.4h0m.9 1.5h0m1.8-.6h0m1.7-2h0m.4 1.3h0m2.8-1.2h0m1.1 .3h0m1.2 .5h0m2-1.9h0m.9-1.5h0m-2.4 6.6h0m-2.7-1.3h0m-.9 1.6h0m-2.7 1.8h0m-6.2-.3h0m-3.6-.9h0m-14.4 20.4h0m4.1 .4h0m1.7-.8h0m1.5 .9h0m2 .4h0m1.2-.8h0m1.3-2.1h0m.8 1.6h0m2.9 .9h0m3.8 .4h0m5.2 4.9h0m-1.9-2.6h0m-1.9 .5h0m-1.6 2.9h0m-.8-1.5h0m-2.2-2.8h0m-.5 4.8h0m-.7-1.4h0m-1-3.9h0m-1.6 4.6h0m-1.9 .3h0m-1.3-2.9h0m-1.5-2.1h0m-1 .6h0m-2 1.4h0m-2.3 2.4h0m-.7-3.5h0m-1.3-.8h0m-1.2 4.1h0m-1.1 1h0m-1.5-.2h0m-2.8 .6h0m-1 .6h0m2.5 3.7h0m.9 1h0m1.6-.1h0m.8 .8h0m.8-.6h0m1.3 .6h0m1.1-2.8h0m.8 .2h0m.5-2h0m2.3 1.5h0m.7 2.6h0m.9-.2h0m.9-4.3h0m.7 1.4h0m1.1-.7h0m.9 2.6h0m.9-3.2h0m1.1 4.7h0m.8-1.6h0m.9-2.9h0m1-1h0m1.1 5.1h0m1.8-2.5h0m2.5 .4h0m.9-.8h0m.9 1.2h0m1.4 .6h0m.3-1.6h0m2-2h0m1.5 1h0m3 1.8h0m1.1 8h0m-1.8-4.1h0m-.4 1.7h0m-1.9-.1h0m-1.2-2.4h0m-1.6-.1h0m-.6 3h0m-.8-2.9h0m-.8 0h0m-1.4 .9h0m-1 4.3h0m-.8-4.4h0m-.9 3h0m-3.6 .8h0m-.9-3.3h0m-.9 2.1h0m-.5-2.9h0m-.9 2.1h0m-1.9-1.9h0m-1.1 3.2h0m-1.5 .2h0m-1.1 .2h0m-1.1-3.2h0m-1.3 .1h0m-1.3 1.5h0m-.1-1.4h0m-1.9-.1h0m-.4-.2h0m-1 3.5h0m-.8-2.7h0m-.8 3.3h0m-1.3-4.6h0m-1 5h0m-.6-3.2h0m-.7-2.5h0m-.6 2.1h0m-1.2 .3h0m2.8 4.6h0m2.2 3.4h0m1-2.8h0m1 2.4h0m.6-4h0m1.1 2.9h0m1.3 .6h0m1.7-2.4h0m.5 1.8h0m.6 1.6h0m.5 .3h0m1 .1h0m.2-4.4h0m.3 4.5h0m.6-2.6h0m.5-2.2h0m1 2.1h0m.6 1.4h0m1.7 1.5h0m.8-1h0m.4-4.4h0m.6 4.5h0m.3-1.3h0m.3 .9h0m1.9-.5h0m.8-1.8h0m3.1 3.2h0m1.1-3.9h0m2 3h0m.9-2.5h0m.5 4.1h0m1.5-3.7h0m1.3 3.7h0m.3-3.4h0m.7-1.9h0m.8-.4h0m1.4 1.7h0m.4-.9h0m2.2 .7h0m-6.3 7.4h0m-2.4 .2h0m-2.1 1.5h0m-.8-.8h0m-.4-.7h0m-1 1.5h0m-1.1-1.6h0m-.9-.8h0m-1.7 1.9h0m-1.8-2.7h0m-1 .4h0m-1.5 3.4h0m-2.2-4.5h0m-1.3 1.4h0m-1.4 .3h0m-1.6-2.1h0m-1 4.5h0m-1-3.8h0m-1 1.8h0m73.2-10h0m-2.5-2.3h0m-4.3 2.5h0m-2.1-1h0m-6.9-.6h0m-4.9-.5h0m-.5-1.3h0m-1.8 4.1h0m-.5-.4h0m-1.1 .3h0m-2.3-1.4h0m-.6 1.1h0m-2.5-.5h0m-3.7 .8h0m-5.1 6h0m1.4-2.9h0m1.7 1.7h0m1.3 1h0m1.8 .1h0m.1-1.7h0m2.6 .8h0m.8-3.7h0m4.9 1.8h0m1.2 .2h0m.9-1.9h0m.3 2.7h0m.7-2.4h0m1.1-.5h0m8.1 1.1h0m10 .8h0m3.2-2.5h0m-8.7 8.9h0m-6.8 .7h0m-4.5-3.2h0m-2.8 2.4h0m-1.5-2.3h0m-.5 3.1h0m-1.6-.3h0m-.8-.6h0m-2 2.8h0m-1.4-5.8h0m-1.1 1.2h0m-1.2 3.5h0m-1.1-3.3h0m-1.8 .6h0m-1.7 2h0m-10.7-.2h0m-2.2-2.7h0m-.7 2h0m-1.3-2.5h0m-.9 .9h0m-2-.5h0m3.4 7.1h0m1.8-1.1h0m.9-.7h0m.8 4.7h0m.8-2h0m1.2-.2h0m2.1 .9h0m1.9-1h0m1.3 2.1h0m.4-.8h0m1-.8h0m2.6-2.5h0m1.2 .6h0m1.2 3h0m1 .2h0m.6-1.1h0m1-2.6h0m.5 3.9h0m3.5-2.4h0m.9 .5h0m2-2.5h0m2.2 4.1h0m1-3.8h0m9 2.8h0m1.7 .6h0m3.8-2.9h0m-11.9 10.1h0m-2.5-3h0m-1.2-1.1h0m-.4 1.1h0m-1.2 1.9h0m-1.9 .7h0m-2.2-1.9h0m-2.2 2.7h0m-.5-3.4h0m-1.5 .4h0m-.6 1.3h0m-2.1-1.8h0m-1.5-.5h0m-3.9 .7h0m-.5 .7h0m-1-1.3h0m17 4.7h0m-64.2-67.3h0m1.7 .4h0m2.7-2.3h0m1.8 .7h0m3.1-1.2h0m.9 2.4h0m15 0h0m12.1 6.3h0m-1.7-4h0m-1.3 4.3h0m-.9-1.7h0m-.9-.9h0m-1.6 1.3h0m-2.5-3.5h0m-.9 2.6h0m-1.3-.5h0m-.8 1.7h0m-1.9-2h0m-.6-1.2h0m-.7-.1h0m-2.7 3.7h0m-.6-2h0m-1.7-.2h0m-2.8-2.7h0m-.6 4.1h0m-1.6-2.4h0m-1-.6h0m-.6 1.4h0m-.9 3h0m-1.1-1.7h0m-.5-.4h0m-.8 1.4h0m-.3-.7h0m-1.2-4.1h0m-1.9 2.9h0m-.4 1.3h0m-.6-1.7h0m-.4 1.4h0m-1.5-3.9h0m-1.3 .7h0m-1.4 1.2h0m-1 .6h0m-.6 3.9h0m2 .5h0m1.4-.6h0m1.9 1.7h0m.8 0h0m2-1.3h0m.9-.9h0m.6 3.3h0m3.7-2.3h0m2.1 5h0m3.4-1.9h0m1.6-2.1h0m2.5 3.1h0m.9-.4h0m1.4-4.1h0m.7 1.3h0m.8 .3h0m2.2 .2h0m.3-1.8h0m3.1 2.1h0m1.1 .9h0m1.6-2h0m1.1 4.1h0m2-4.2h0m1.1 3.9h0m1-1.7h0m1.5-.4h0m1.4 1.7h0m1.7-.7h0m1.2-1.2h0m1.5-.9h0m-.7 4.9h0m-2.9 .8h0m-.8-.2h0m-1.3 .4h0m-.4 .6h0m-.4 3h0m-.2-3.1h0m-.6-2.2h0m-1 1.3h0m-.5-.1h0m-2.5 3.5h0m-1.1-1.4h0m-1.5-.7h0m-1.9 1.9h0m-.7-4.6h0m-1.3 .9h0m-1 1.9h0m-.9-.6h0m-.3-2.1h0m-.7 2.6h0m-1.2-2.8h0m-1.3 3.6h0m-.5-1.2h0m-.7 2.2h0m-.8-2.5h0m-.6-1.8h0m-.5 3.4h0m-1-3.5h0m-1.3 2.2h0m-.8 1.9h0m-.7 1h0m-1.8-1.6h0m-.3-1.3h0m-2.6-2.4h0m-2.8 .5h0m7.9 9.4h0m2.2-2.3h0m2.5 1.7h0m.9-3.1h0m1.2 2.8h0m.6 .3h0m2.8 .9h0m1.9-2.4h0m2-.9h0m2.6 1.1h0m3.5-1.8h0m16.5-42.9h0m4.4-1.7h0m2.5-2.2h0m.4 4.8h0" stroke="#d3d3d3" stroke-width="2.40" stroke-linecap="round" fill="none"/><path d="M342.2 283.6h0m-3.2 0h0m-14.5 3.8h0m1.6 2.5h0m4.4-2.9h0m1.6 .7h0m2.8 2.2h0m1.2-4.4h0m1-1h0m1.6 0h0m1.5 3.2h0m.6-.5h0m.8-.6h0m1.6-1.9h0m.9 1.4h0m2.5 1.6h0m.7-2.1h0m2.5 1.1h0m4.3 3.1h0m3.9 3.7h0m-1.6-1.1h0m-.3 0h0m-.3-.8h0m-1.2 4.4h0m-1.1-5.1h0m-.7-.6h0m-1 3.1h0m-.6 .2h0m-1.2-.4h0m-1.8 .9h0m-1-.3h0m-1.8-3.5h0m-2.7 4.7h0m-1.8-2.5h0m-.5-2.2h0m-.6 3.4h0m-2.9-2.8h0m-1.1 1.6h0m-1.2 1.1h0m-1.4 2.3h0m-4.8 .1h0m-.9-.5h0m-1.4-2.6h0m-6.1-.1h0m-2.3 4.6h0m3.4 4.8h0m3.2-2h0m2.5-4h0m1.6 5.2h0m4.1-3h0m.6 3h0m2.6-2.9h0m1.3 1.1h0m2.9 1.1h0m.6-1.7h0m1.9 2.1h0m.6-2.1h0m1.1-1.8h0m1.2 .2h0m.5-.9h0m.3 3.4h0m.1-2.6h0m.9 2.2h0m1.5-.1h0m1.8-2h0m.6 1.7h0m.5-2.7h0m1 1.6h0m1.2 2.1h0m.7 1.4h0m.4-4.1h0m.6-.9h0m2.1 1h0m2.7 1.4h0m2 2.5h0m.6 3.4h0m-.9-2.2h0m-1.6 4.3h0m-2.2-3.4h0m-1.6 1.6h0m-1.3-2.6h0m-1.3 4.7h0m-.3-4.8h0m-.9 1.9h0m-.8 1.4h0m-1.3-2.9h0m-.4 5.2h0m-.5-5.3h0m-.9 4.6h0m-.2-2.9h0m-1.1-.7h0m-1.3 1.5h0m-1.1-.8h0m-1.3-.9h0m-.4 4.5h0m-.5-2.2h0m-.6 2h0m-1-3.1h0m-.7 3h0m-.4-3.1h0m-1.7 2.7h0m-1.7 .6h0m-3-1.1h0m-3.5-3.5h0m-1.3 2.7h0m-2.2-3.6h0m-1.2 2.7h0m-2-1.1h0m-2.7 3.3h0m-3.8-2.4h0m3.9 6.4h0m4.5 1.5h0m6.3-4.2h0m2.2 1.6h0m1.6 3.9h0m1.2-1.4h0m1.7-1.2h0m1.8-3.2h0m.6 3.2h0m2 0h0m2-2.4h0m.4 2.9h0m1-2.5h0m2.4 .1h0m.8 2.1h0m.8-2.4h0m1.4 3.4h0m.9-1h0m1.2-1.8h0m1.2-.6h0m2 1.1h0m1.6-1.2h0m.6 .1h0m.9 2.5h0m.4-1.7h0m.5-1.7h0m1.4 3h0m.3 0h0m.4 0h0m-.9 3.3h0m-1.3 5.2h0m-.8-2.9h0m-.9-1.9h0m-1 2.6h0m-1.4 2.4h0m-.3-.6h0m-3.3-2.6h0m-3.2 1.7h0m-2.4-2.8h0m-1 4.2h0m-1.1-.6h0m-1-.4h0m-.5-2.6h0m-.6-2.2h0m-1.3 6h0m-1-.2h0m-.9-2.9h0m-.8-2.2h0m-1.1 2.2h0m-1.5-2.1h0m-.8 1.2h0m-5.6 3.4h0m-3.2-3.7h0m-1.4 1h0m3.6 7.2h0m3.9 .5h0m1.5 .6h0m1.4-2.3h0m.3 3.2h0m4.1-4.1h0m2.2-.2h0m2.5 2.6h0m.3-2h0m1-1h0m1.9 1h0m.9 0h0m.8-.3h0m2-1.8h0m.6 .1h0m.8 3.5h0m.7-.2h0m1.1-2.6h0m1.3 1.8h0m1.9-.8h0m1.9 .9h0m.3 3.9h0m-2.1 3.1h0m-1.1 .4h0m-.8-.8h0m-.7-1.3h0m-.2-2h0m-1.6 5.2h0m-.9-3h0m-.9 2.9h0m-1-2.8h0m-1.5 1.7h0m-1-2.3h0m-1.6 2h0m-.6 1.7h0m-.4-5.3h0m-.7 4.3h0m-1.7 .3h0m-1.7 .6h0m-.2-1.4h0m-1.1-3.2h0m-2.6 2.9h0m-4.8 .8h0m-1.9 1.2h0m-1.6 .6h0m4 3h0m1.8-.1h0m.9-3.1h0m.8 .1h0m2.4 2.9h0m1.7 2.3h0m1.9 0h0m2.3-2.4h0m.8 2.1h0m1.4 .3h0m.9-.7h0m.8-2.2h0m1.3 1.2h0m1.2-3h0m1.8 1.5h0m.2-1.4h0m1.4-.1h0m-9.6 6.1h0m-3.9-.4h0m-3.9 1h0m-24.3-26.3h0m12.6 .8h0m1.3 1.5h0m-26.6 9.8h0m10.7-3.1h0m12.5-1.6h0m9.1 9.6h0m-6.7-1.3h0m-22.6 .6h0m17.1 6.1h0m3.4-.1h0m2.1-1.8h0m5.7 .5h0m-16.1 11.7h0m-9.6-75.5h0m-20.4 5.5h0m2.4 .8h0m2.9-3.1h0m2.4-.5h0m1.1 4.7h0m1.7 .2h0m1.3-4.7h0m.3-.6h0m3.9 1.1h0m5.4 2.3h0m2.4 5.5h0m-1.6 1.8h0m-2.3-4.3h0m-4 .5h0m-1 3.6h0m-2.8-2.9h0m-.8 1.6h0m-.6 1.1h0m-1-4.3h0m-.8 3h0m-1.4-2.8h0m-1.8 4.7h0m-1.7 .5h0m-1.6-.8h0m-.9-2.1h0m-2.3-1.1h0m-1 .3h0m-3.8 2.5h0m-.7 1h0m-1.8 5.3h0m2.3-1.7h0m1.1-.8h0m1.4-.7h0m.7 3.7h0m2.9-4.4h0m2.7 2.2h0m.9 .5h0m.7 .5h0m.7 1.4h0m1.5-3.7h0m.6 2.4h0m1.2-1.5h0m.7 .9h0m1.6 1.6h0m2.2-1h0m3.4 1.4h0m.8-2.9h0m3.4 .7h0m2.9-3.5h0m4.6 9.2h0m-2.5 .8h0m-4.8-2.9h0m-2.5 4.2h0m-1-2.5h0m-1.8-.3h0m-4.1-1.2h0m-1.4 3.9h0m-.9-3.6h0m-1.6 .8h0m-1.3-2.1h0m-4.1 1.2h0m-.9 .5h0m-2-1.3h0m-.5 .1h0m-1-.8h0m-4.5 5.5h0m-.3-1.6h0m-1.3 5h0m.8-.7h0m1-1.1h0m1.5 3h0m3.5 1.4h0m.9-4.5h0m.8 1.5h0m1-2.1h0m1.8 1.3h0m2.1 1.6h0m2.4 .4h0m2.8 .9h0m1.4-.7h0m.9-1.6h0m5.3-.7h0m5.4 1h0m-3 4.5h0m-8.4-.2h0m-1.1 1.5h0m-5.3 .7h0m-8 17.4h0m5.7-.7h0m7 6.6h0m-13.9-1.6h0m-4.5 4.9h0m-2.6 5.9h0m5.9-3.5h0m3.4 .2h0m7.6-.8h0m5.1 2.1h0m3.1-1.2h0m2.4 8.8h0m-2.7-.1h0m-4.9-5h0m-2.5 2.8h0m-10.7-.6h0m-2.6 3.3h0m-3.7-2h0m4.4 3.9h0m5.7-1.7h0m6.8 5.3h0m2.2-4.3h0m6.5 1.1h0m4.3 2h0m-2.4 3.5h0m-1.4 1.9h0m-7.9 2.1h0m-3.3-3.4h0m-7.5-.4h0m-8.2-1.5h0m76.6-12.4h0m1.9 3.3h0m-3.2 2h0m-.8-1.2h0m-2.3-1.2h0m-1.2-.1h0m-.5-1.7h0m-.7 2.7h0m-1.3 1.5h0m-1.2-1.4h0m-.4-2.4h0m-.8 4.3h0m-1-4.7h0m-1 3h0m-1.5 1.6h0m-1.6-.6h0m-1.4-1.1h0m-10.7 1h0m-8 6.6h0m3-.7h0m2.1 .6h0m2.4-1.7h0m.9-3h0m4.8 2.6h0m1.2-1.6h0m3.5 3.7h0m1.1-1.4h0m1.3-1.8h0m1.1-.5h0m1.1 .1h0m.7 .2h0m1.3-1.2h0m.7 .9h0m1.2 1.3h0m1.8 .3h0m1 2.2h0m2.3-2.5h0m.7-2.5h0m.3 4.5h0m1.2-3.3h0m.7 1.7h0m.6-.6h0m.5-1.5h0m1.1 .9h0m1.4-.8h0m.8-1.3h0m-1.3 6.9h0m-2.3 4.1h0m-1.6-1.5h0m-.9 2.1h0m-1.2-5.3h0m-1.4 .6h0m-1.3 .4h0m-1.7 0h0m-1.7 2h0m-.4-.5h0m-1.8-2.8h0m-1.2 1.1h0m-1 3.4h0m-.7-2.9h0m-1.9 3.3h0m-2.3-3.3h0m-4.9 3.9h0m-2.3-1.9h0m-2.3-.2h0m-1.6-3.3h0m-3.6 1.1h0m-10.9 3.4h0m2.6 1.4h0m3.2 2.5h0m3.7 1h0m3.4 .3h0m6.3-.3h0m7.6-3.4h0m.5 2.9h0m2.1-2.6h0m1.3 1.1h0m1.2 2.9h0m3.1-2.9h0m.4 1.6h0m.1-2.7h0m.6 1.1h0m1.1 .2h0m1.6 1.4h0m.4 2.8h0m.1-1.8h0m.5-1.1h0m.5 .1h0m1.2-3.1h0m-5.3 6.8h0m-2.2-.7h0m-1.8 3.2h0m-.9 .9h0m-1 0h0m-2.6 1.2h0m-.3-5.1h0m-3 3.9h0m-7.6-.5h0m-4.8-.1h0m-41.5-63.8h0m31.1 4.5h0m-7.9-1.3h0m-8.2-1.5h0m-6.1-.6h0m-7.3 2.9h0m-5.6-.9h0m-4.5 1.6h0m-4.3-1.2h0m7.5 7.2h0m7.7-2.2h0m7.5-1.8h0m5.2 4.4h0m2.4 .4h0m5.1-4.9h0m9.3 3.7h0m-5.6 4.9h0m-11.9 2h0m-1.8-1.7h0m-6.6-.1h0m-3.9-2.4h0m3.7 6.2h0m8.3 .1h0m22.8-43.2h0m3.5-.9h0m1.1-4.5h0m1.2 5.2h0m2.2-.7h0m2.7-.7h0m-7.7 2.5h0" stroke="#a8d0ef" stroke-width="2.40" stroke-linecap="round" fill="none"/><path d="M329.3 284.2h0m-4.8 3.8h0m2.3-.5h0m1.2-2.2h0m1.8 4.2h0m1.5-5.1h0m.5 5.1h0m2.4-1.3h0m.5-3.3h0m.4 2.5h0m2.3 1.3h0m5.3-.5h0m5.9 1.8h0m5.1-.5h0m.8 4.5h0m-7.2-.4h0m-5.5 1.2h0m-3.4-.1h0m-1.3 .3h0m-2.1-1.5h0m-2.4 1.1h0m-.8-.3h0m-.7-.1h0m-.6 1.8h0m-1.8 0h0m-.8-1.8h0m-.4 .7h0m-.4-1.4h0m-.8 1.2h0m-.6 0h0m-1.5-2.5h0m-1.9-.6h0m-.7 .4h0m-.4 1.6h0m-.5 1.5h0m-1.1-.2h0m-.3 .5h0m-2.9 4.1h0m1.4 1.8h0m1.3 .8h0m.8-2.1h0m2.7-2.5h0m1.3 3.1h0m.9-1.1h0m1.1-3.2h0m1.9 .1h0m.4 .6h0m3 3.9h0m3.7-2.4h0m2.1-2.2h0m.9 2.9h0m1.7 .1h0m3.6-1.4h0m8.9 4.1h0m1.7-1.6h0m2.2-3.7h0m4 5.2h0m-9.6 2.6h0m-6.8-1.8h0m-8.3 2h0m-1.2 0h0m-2 1h0m-.9-3h0m-.8 5.2h0m-1-3.5h0m-.6 1h0m-1.5-1.8h0m-2.2 .1h0m-2.1-1.3h0m-2.5 5.1h0m-.8-4.7h0m-1.2 2.8h0m-1.5-2h0m-.9 2.7h0m3.6 6.2h0m1.4 .2h0m.7 .4h0m1.8-2.9h0m2-1.4h0m1.9 3.6h0m1.3 0h0m.1-3.2h0m7.2 2.8h0m1.7 1.8h0m1.7-5.5h0m3 2.9h0m2-1.9h0m4.3 1.7h0m12.2 .8h0m-4.9 6.8h0m-1.8 .9h0m-6.1-3.1h0m-4.3 3.6h0m-6-3.6h0m-3.3-.2h0m-2.3 1.3h0m-1-2.6h0m-1.3 2h0m-.7-.3h0m-2-2.1h0m-1.1 2.5h0m-.4-.3h0m-.7-.6h0m-3.7-1.8h0m6.1 6.4h0m2.2 4.8h0m2.2-4.9h0m.8 4.1h0m2.8-1.9h0m2.7 2.6h0m2.5-2.9h0m13.3 2.2h0m3.1 4.3h0m-1.8-.7h0m-3.1 3.5h0m-4-4h0m-5.5 .4h0m-3.7 1.3h0m-1.2-3.1h0m-1.4 2h0m-2.9 3.6h0m-2.6-5.6h0m-1.7-.1h0m2.3 8.9h0m3.1 1.4h0m1.6 .2h0m1.1-4.4h0m2.4 .8h0m1.9 .6h0m5.6 3.3h0m-.1 4.2h0m-10.5-.9h0m-25.3-29.8h0m.1 .8h0m1.9-1.2h0m.6 3.8h0m1-.7h0m1.8 .5h0m1.2-2.6h0m.2 0h0m.4-.3h0m1.5 1.4h0m2.7-1.3h0m1.4 1.3h0m7.2 7.6h0m-2.6-2.6h0m-2.2-2.1h0m-.2 2.6h0m-1.2 0h0m-1.5 .2h0m-1.4 1.1h0m-.6-1.9h0m-1.1 2.7h0m-.3-5.3h0m-1.1 .8h0m-1.1 4.1h0m-.6-1.9h0m-.6-.4h0m-.8-1.4h0m-1.4 3.7h0m-1.6-.7h0m-.2-.3h0m-1.8 1.7h0m-1-3.1h0m-1.8-.8h0m-.2 .8h0m-.2-2.4h0m-.6 2.3h0m-.3 2.7h0m-2.3-4.2h0m-1.2 3.5h0m-2.7 2.5h0m1.6-1.1h0m1.1 5.6h0m1.7-3.5h0m.8 3.4h0m.5-4.3h0m.4 .9h0m.6 2h0m1-.3h0m.6-.1h0m1.1-.5h0m1.3-.6h0m1.2 1.6h0m.7-4.1h0m1.1 1.1h0m1 3.2h0m.4-3.4h0m1.1 3.5h0m.4-1.9h0m.2-1.4h0m1.6 3.3h0m1.5 .5h0m.5-.8h0m2.8-3h0m1 3.5h0m1.1-.7h0m1.5-.7h0m.6-1.7h0m2.3 .1h0m1.4 2.8h0m.9-.5h0m2-.9h0m.1 6h0m-.6-3.2h0m-.9 4.8h0m-1.6 .1h0m-1.4-2.9h0m-1.6-.2h0m-2.7 .6h0m-1.8-1.4h0m-.9 .4h0m-.9-1.5h0m-1.4 4.7h0m-1.5-3.4h0m-1.4 3.7h0m-.6-4.9h0m-3.2 3h0m-.6 2.2h0m-.4-4.8h0m-.7 3h0m-1-2.6h0m-.8 4.9h0m-1.7-4.7h0m-1.7 .1h0m-1.2 3.7h0m-.5-4.7h0m-.5 .3h0m-.9 1.6h0m-1.5-.5h0m-.4-1.4h0m-.4 .1h0m.5 5.7h0m2.9 3.4h0m.6 1.3h0m1.7 .9h0m.4-3.2h0m.3 2h0m1.2-3.2h0m2.2 2.4h0m.6-1.5h0m1.4 1.2h0m.4-2.3h0m2.6 3.3h0m2-2.7h0m.9-1.6h0m.8 1.5h0m.7 .4h0m1.3-1h0m1.4 1.4h0m.6 2h0m.5-4.2h0m1 5.1h0m.5-3.6h0m1.2-1.4h0m1.3 5.1h0m1.4-2h0m1.2-.8h0m2.6-1.3h0m-4.8 6.4h0m-2.3 .5h0m-.7-2h0m-1.2 1.1h0m-1.3-.6h0m-1.8 .5h0m-1 1.9h0m-.6-1.9h0m-.6 3.7h0m-1.1-.7h0m-2.2 .9h0m-.9 .1h0m-1.7 .8h0m-.7-3.9h0m-.6-.5h0m-1 2.4h0m-.3-1h0m-2.4-2.2h0m5.9 7h0m3.2 .1h0m2 .5h0m-10-74.8h0m-.8-1.4h0m-1.9 .7h0m-4.6 .9h0m-3.2-.4h0m-13.7 6.4h0m6.4-.4h0m4-2.6h0m2.1-.4h0m3.4 .7h0m.4 1.7h0m1.6-.2h0m.9-2.9h0m.5 2.1h0m1.6-3.5h0m.4 2.1h0m1.3 2.7h0m.5-3.7h0m2.3 3.4h0m0 3.8h0m-.8-.8h0m-.9 2.6h0m-.8-1.4h0m-1.8 1h0m-3.2-.6h0m-.9 2.2h0m-1.2-2.5h0m-.7-2.3h0m-1.7 3.3h0m-1.4 1.2h0m-1.3-.3h0m-3.3-3.3h0m-3.2-1.2h0m-1 1.8h0m-6 3.6h0m-5.5 3.1h0m7.9 1.1h0m1.1-3.8h0m4.8 2.4h0m6.4-.2h0m1.9-2.1h0m.9 4.4h0m1.6 1.2h0m1.4-2.9h0m.3 1.9h0m1.3-2.8h0m.5 2.7h0m.6-.8h0m.8-2.3h0m.9 3.7h0m1.2-.7h0m2 .5h0m.7 .4h0m.4 2.5h0m-2.7 .9h0m-2.2 1.1h0m-1.7-1.2h0m-.7 .5h0m-.7-1.7h0m-1.9-.9h0m-2 2.9h0m-.8 0h0m-4.9 .3h0m-5.6 2h0m-3.9-6h0m-.8 1.1h0m-4.2 7.5h0m2.5 .6h0m2.4-.5h0m2.9 2.8h0m3.9-4h0m3.2 1.8h0m1.3 2.3h0m1.3-3.2h0m1.4 2.2h0m.4-3.5h0m1.1 3.7h0m2 .6h0m1.2-2.6h0m2-.4h0m1.3-1.7h0m1 3h0m1.7-1.2h0m1.9 .6h0m.8 .8h0m-2.9 3.8h0m-2.9 1.7h0m-1.9-1h0m-4.2 .4h0m-5.9-.9h0m-6.3-1.1h0m-8.9 22.2h0m4.3-2.7h0m1.7 .9h0m2.5-.7h0m.9 1.5h0m1.4-.4h0m1 1.6h0m1.7-4.1h0m2.3 3.8h0m4.8 .9h0m3.6 1.5h0m-2.3 4.6h0m-2.7-.7h0m-.4 .3h0m-1.6-4.6h0m-1.5 1.4h0m-.6 1.6h0m-1.2 .5h0m-.8-2.4h0m-2.1 1.2h0m-.9-.1h0m-2-.7h0m-1.4 .2h0m-1.2 2.1h0m-2.4-.8h0m-1.4-.5h0m-.4-1.5h0m-1.4 3.8h0m-1.5-5.2h0m-2 1.7h0m-1.1 1.5h0m-5.4 6h0m2.9-.9h0m2.4-2.2h0m1.4 1h0m1.4 3.7h0m.3-4.7h0m.9 4.9h0m1.5-1h0m.7-.1h0m.8-2.2h0m1.6 1.6h0m1.4 0h0m.5 .5h0m.9 .6h0m1 .2h0m1.1-.5h0m.7-1.5h0m1 2.3h0m1.5-.7h0m.3-1.8h0m1.2-2.3h0m.8 .8h0m1.4 1.8h0m1.1 2.3h0m2.6-2.1h0m1.5 2.1h0m.5-2.2h0m1.5 .2h0m.7 1.2h0m1.3-4.3h0m1.2 4.6h0m2.1-2.8h0m4.5 8.6h0m-2.4-3.1h0m-.9 1.4h0m-1.1-1.7h0m-1.1-.4h0m-1.3 1.5h0m-1.6-.7h0m-.7 2.5h0m-1.1-1h0m-1-.2h0m-.8-1.1h0m-1.2 .2h0m-.4 3.8h0m-3-1.6h0m-1.6-.5h0m-.9-3.9h0m-.7 2.2h0m-.7-1.8h0m-.8-.2h0m-1.8 .6h0m-2 2.1h0m-1-1.2h0m-1 1h0m-1.1-.6h0m-1.7 1.6h0m-.7-.9h0m-.6-2.5h0m-1.7 .4h0m-.8 4.4h0m-.7-2.9h0m-.5-2h0m-1.7 4.2h0m-.5-3.1h0m-.8 3.1h0m-.6-2.2h0m-.7-1.1h0m-.9 1.1h0m1.2 4.4h0m2 1.2h0m1.6-1.3h0m1 .7h0m.5 4.4h0m1-3.3h0m1 1.3h0m1.2-.5h0m1.6-.4h0m.5-2.3h0m.4 3.3h0m.6-3.3h0m1 5h0m.3-3.9h0m.4-.2h0m.5 4.2h0m.4 .3h0m1-3.3h0m1.1 .3h0m1.2 2.9h0m.7-1.1h0m.5-3.4h0m.6 .6h0m.4 3.2h0m.3-1.9h0m2-.2h0m1.7-1.1h0m2.6 0h0m1.2 1.5h0m1.4 .6h0m.8-.2h0m.6-2.3h0m1.4 .1h0m1.3 2.1h0m.5 1h0m.6-3.5h0m1.6 4.6h0m.5-.4h0m.5-5.1h0m-1.6 8.9h0m-4.3-.3h0m-2.3 1.4h0m-.9-3.3h0m-.7 .6h0m-.4 4.1h0m-1-5.5h0m-1.1 4.2h0m-2.2-3.2h0m-1 3.8h0m-1.3-4.2h0m-.8 4.6h0m-2-2.2h0m-2.4 .9h0m-1.1-3.8h0m-1.1 .4h0m-1.3 2.9h0m-1.1-3.4h0m-.9 1.2h0m14.9 6h0m56.1-14.4h0m-1.4-4.3h0m-5.5 2.2h0m-2 3.2h0m-5.8-.9h0m-5 .4h0m-.7-3.6h0m-1.8 2.7h0m-.6-1.1h0m-1.1 1.2h0m-2 .6h0m-1-.3h0m-4.6-.2h0m-6.8 1.2h0m1.3 2.4h0m1.8-.8h0m1-1.4h0m1.9 .9h0m.9-.1h0m.6 4.1h0m2.3-1.6h0m1.5 2.1h0m4-3.6h0m1.5 .4h0m.7-.7h0m.8-1.3h0m.1 3h0m6.4 1h0m11.4-.4h0m1.5 0h0m4.3-.5h0m-12.2 3.8h0m-6-1.3h0m-4.9 5.3h0m-1.2-1.3h0m-1.2 .1h0m-.9-3.6h0m-2 1.7h0m-.6 .9h0m-1.6-2.7h0m-1.4 1.1h0m-1.5-.7h0m-.6 .4h0m-1.2 3.9h0m-1.8-2h0m-2.2 2.7h0m-11.2-3.8h0m-1.2 1.7h0m-1.2-2.1h0m-1.1 .8h0m-1.2 1.3h0m1.7 2.6h0m.7 0h0m2.2-.3h0m.6 .4h0m1.1 1.1h0m1.1 4.5h0m.5-.5h0m3.1-1.4h0m1.3 .6h0m1-.5h0m.6-3.1h0m.9 .2h0m2.9 .9h0m.9 .3h0m1.2 1.1h0m.7 2.3h0m.4-4h0m1.1 .5h0m1.5 .9h0m2.9-.7h0m1.7-1.1h0m1 1.4h0m2 1.3h0m4-3.6h0m7 4.4h0m1.2-4.9h0m3.6 2.3h0m-13.1 8.1h0m-2.3-1.1h0m-.8 2.5h0m-.3-5.8h0m-1.4 1.5h0m-1.8 1.6h0m-2.5-1.9h0m-1.7-1.1h0m-1.5 3.2h0m-.7 .7h0m-.6 .3h0m-2-3.3h0m-3.4 .2h0m-1.9-1h0m-.8 0h0m-5.6 .6h0m22.9 5.4h0m-65.2-67.4h0m2.8 .2h0m2 .1h0m2.1 .1h0m2.5-2.3h0m1.6 2.1h0m30.7 5.3h0m-4.8-.6h0m-1.5 .9h0m-1.1 .1h0m-.9-1h0m-1.7 1.6h0m-1.3-2h0m-2.4-.3h0m-1.2 0h0m-.6-1.2h0m-.8 1.8h0m-2.2-1.7h0m-.3 2.3h0m-1.6-.8h0m-1.8 2.3h0m-.8-5.7h0m-2.5 5.7h0m-1.9-4.7h0m-1.7 .6h0m-.8-.9h0m-.8 4.3h0m-.7-.2h0m-.8-4.8h0m-1.2 5.2h0m-.3-4.7h0m-.9 1.8h0m-.8-1h0m-.6 4.5h0m-2-5.5h0m-.4 3.9h0m-.6-3.1h0m-.5 2.2h0m-1.7 2h0m-1.3 .2h0m-1.1-2.2h0m-1-1.4h0m1.1 7.1h0m1.7-.7h0m.7 1.2h0m1.6-1.3h0m1.9 2h0m1.2-2.8h0m.7-1.2h0m1.3 3.4h0m3.3 1h0m3.3-2.7h0m2.7 .6h0m1.1 .8h0m1.9 .8h0m1.1 .8h0m1.6-4.6h0m.4 5.3h0m1.7-.1h0m1.3-4.9h0m2.3 0h0m1 .6h0m1.2-1.2h0m1.8 1.3h0m.9 2.2h0m2.2 .2h0m.8-1.5h0m1.1-.9h0m1.9 .6h0m1.4 1.1h0m1.3-1h0m1.4 1h0m1.9-2.2h0m-2.9 6.1h0m-1.9-.8h0m-.4 3.1h0m-1.2 .7h0m-.5-1.5h0m-.4-2.1h0m-.5-.3h0m-.3 3.5h0m-1 .6h0m-.9-2.6h0m-2.9 1.7h0m-1-2.4h0m-.9 1.3h0m-1.9 .8h0m-.5-.9h0m-1.8-1.1h0m-.7-.4h0m-.7 2.8h0m-.5-.1h0m-1.1 1.1h0m-1.6-1h0m-.4 1h0m-.5-3.6h0m-.7 1.3h0m-1.3 .2h0m-.1-.8h0m-1-1.3h0m-1 5.3h0m-.9-3.1h0m-.8-2h0m-.5 2.6h0m-2 2.4h0m-.1-3.3h0m-2.7-1.5h0m-4.1-.4h0m10.5 8.5h0m1.6-2.4h0m2.6 2.5h0m.8-2.5h0m.8 3.6h0m2.3 .1h0m1.5-3.2h0m2.3 .1h0m2.9-.2h0m1.4 1.7h0m5-2.3h0m15-42.7h0m4.1-1.7h0m2.6 0h0m-5.5 5.1h0" stroke="#d3d3d3" stroke-width="2.40" stroke-linecap="round" fill="none"/><path d="M340.5 282.5h0m-17.9 6.4h0m2.8-2h0m2.6-2.1h0m3.2-.1h0m1.4 4h0m2.4-.1h0m1.8-2.2h0m.7 .1h0m2.3 3.6h0m.4-2.2h0m.9-2.5h0m.9 3.4h0m1.6 .1h0m2.8-3.9h0m.7 4.3h0m.9-.7h0m4.7-.4h0m5.5 6.2h0m-1.3 1h0m-.6-1.3h0m-.3-2.5h0m-.8-.7h0m-1 3.8h0m-.8-.6h0m-1.4-2h0m-.7-.8h0m-.5 3.4h0m-.8 .6h0m-1.8-2.1h0m-1.1 0h0m-2 1h0m-3.1 1.9h0m-1.3-5.1h0m-.7 3h0m-.3-.5h0m-3.3-.2h0m-1.4-2.6h0m-.6 2.7h0m-2.2 1.5h0m-4.1-3.8h0m-1.6 1.8h0m-1.1-.6h0m-7.8 3.6h0m1.6 .6h0m3.7 3.6h0m1.6-2.8h0m2.3 1.8h0m3.4 .4h0m2.6 1.3h0m.8 0h0m2.3-2.8h0m2.2 4.2h0m2.2-4.6h0m1.4 .1h0m1-.8h0m.3 .3h0m1.7 2.8h0m1-1h0m.3 2.9h0m.2 0h0m.3 .3h0m1.1-5.7h0m1.1 1.4h0m2-1.2h0m.3 4.6h0m.7-4.7h0m.8-.3h0m1.4 5h0m.6 .1h0m.8 .6h0m.9-1.3h0m2.1 .1h0m2.8 .5h0m3.1 3.8h0m-1.4 .4h0m-1.4-.6h0m-1.6 .4h0m-3.1-.1h0m-.4 .8h0m-1.5-2.6h0m-1.1-1.1h0m-.2 2.4h0m-1.2 2.2h0m-1 .5h0m-1-2.3h0m-.4 3.1h0m-.6-1.5h0m-.5-3.1h0m-1 .3h0m-1.4-.5h0m-.6 2.8h0m-1.2-.8h0m-.9 1.2h0m-.7-2.6h0m-.2-1.6h0m-1 4.5h0m-1-2.7h0m-.3 .4h0m-.4 2.2h0m-1.9-2.9h0m-2 3.1h0m-3.2-1.8h0m-2.8 1.6h0m-1.4-4.4h0m-2 5h0m-1.7-1.8h0m-2.8-1.8h0m-1.8 3.2h0m-3.6 5.2h0m5.6-1h0m3.4-.4h0m7.6-.4h0m.6 2.9h0m1.5-4.3h0m1.5 4.7h0m2-1.3h0m1.5-3.6h0m.6 4.3h0m3.1-4.2h0m.8 3.2h0m.8 .3h0m.5-2.6h0m2.9 2.8h0m.7 1.4h0m.7-1.6h0m1.1-.7h0m1.3-2.6h0m1.1 .4h0m.8 2.1h0m2.7 .7h0m.9-.5h0m.6-1.6h0m1.2 1.3h0m.1-2.8h0m1.4-.4h0m.5 .6h0m.4 1.6h0m.6 1.4h0m-2.2 3.5h0m-.6 3.1h0m-1-1.8h0m-.9 1.8h0m-.7-3.4h0m-1.2 .2h0m-.5 .5h0m-4.8-1h0m-1.9 2.8h0m-2 .3h0m-1.2 2h0m-1.2-3.9h0m-.8 .6h0m-.6 .5h0m-1.1-.9h0m-.7 2.4h0m-.9-2.9h0m-1.4 3.9h0m-.4-1.9h0m-1.9-.9h0m-.6-.9h0m-2 2.6h0m-5.5-3.3h0m-2.3 2.6h0m-3.6-2.8h0m7 6.6h0m3-1.3h0m1.8 1.1h0m1.1 4.5h0m2-4.7h0m2.4 2.9h0m2.2-3.8h0m2.4 2.2h0m.4-.2h0m1.9 2.6h0m1.3-.5h0m.5-2.6h0m1.5-1.1h0m1.4 .1h0m.8 1.9h0m.9-.7h0m.5 1.3h0m1.5-2.5h0m1.6 1.9h0m1.2-2.5h0m2.3 .4h0m-1 6.8h0m-1.4 1h0m-1.1 2h0m-1.1-3.9h0m-.4 2.7h0m-.3 2h0m-1.7-1.6h0m-.7-1.4h0m-1 1.3h0m-.9 .3h0m-2.1 1.1h0m-1.2-1.9h0m-1 1.7h0m-.5 1.1h0m-.5-5.3h0m-1.3 5h0m-1.5 .1h0m-1.1-1.8h0m-.3-2.6h0m-1.5-.9h0m-2.9 1.6h0m-4.8 4h0m-1.4-1.3h0m1 3.9h0m2.1-.6h0m1.5 .9h0m1.5 3.3h0m1.3-2.6h0m1.4 .3h0m2.1-2h0m2.5 2.1h0m1.2-3.1h0m.8 3.9h0m1.6 1.3h0m1.2-5.2h0m.5 3.6h0m1.6 1h0m.7-1.8h0m1.7-1.3h0m.6 .1h0m1.2-1.9h0m-11.5 7h0m-4.9 0h0m-2.8-1.1h0m-15.5-26.1h0m7.8 5.8h0m-1.2-.2h0m-24.9 7.8h0m9.6-3.6h0m18.8 3h0m-1.4 1.6h0m-4.7 2.9h0m-12.7 3.9h0m9.2 .4h0m4.1 2.5h0m1.2 .3h0m7.4-4.2h0m-16.7 11.9h0m-31.6-66.3h0m1.1-.3h0m3-.7h0m2.8-.3h0m1.4-2.8h0m1.4 .7h0m2-.3h0m.7-2h0m1.5 4.2h0m6.4-.2h0m2.3 1.3h0m1.6 2.6h0m-1.9 2.5h0m-2.5-2.6h0m-3.9 2.2h0m-.6-.6h0m-3.1 2.1h0m-.7-1.8h0m-.9-3.3h0m-.6 0h0m-1.5 4h0m-1.3-2.1h0m-1.2 1.3h0m-1.8 1.6h0m-1.7-4.7h0m-1.3-.1h0m-1.9 1.7h0m-2.2-1.8h0m-2.4 4.3h0m-.8-1.1h0m-.1 5.8h0m.8-3.4h0m1.3 4.4h0m1.2-3.7h0m1.2 1.5h0m3.4 .2h0m1.8-2.4h0m1.3 5.4h0m.3-5h0m1.1 .4h0m1.2 5h0m1-.3h0m.6-4.4h0m1.3 1.3h0m1.7 1.3h0m2.1 0h0m3.4-2h0m1.8-1h0m1.8 1.5h0m3.8 1.7h0m2 5.3h0m-2.6 .3h0m-3.7 1.8h0m-2.1-3h0m-2.1-1.8h0m-.6 4.4h0m-5.1-3.7h0m-.3 .3h0m-1.3 3.9h0m-1.4-2.2h0m-1.3 2.4h0m-4.1-3.5h0m-2.2 .7h0m-.5-2.4h0m-.7 5.1h0m-4.1-3.7h0m-1.1-.9h0m-1 4.2h0m-.5 1.5h0m1 1.7h0m.8-2h0m3.9 2.4h0m1.3 .2h0m1 1.8h0m.7-3.4h0m1.5 1.9h0m1.6-.4h0m2.9 1.1h0m2.9-2.7h0m1.2 .4h0m1.2 4.3h0m1.1-3.3h0m6.9-.6h0m3.3 6.2h0m-6.7 .4h0m-4.8-1.6h0m-3.7 0h0m-4.8-.2h0m-4.3 20.8h0m6.4 .2h0m-1.4 7h0m-11.1-1.5h0m-6 4.6h0m6 1.2h0m4.7 2.5h0m3.5-1.9h0m6.4-3.6h0m4.8 .4h0m7.3 10.9h0m-3.8-2h0m-1.7-2.4h0m-5.5 4.1h0m-8.1-2.2h0m-5.7 1.1h0m-3.9-1.8h0m-4.5-1.2h0m11 9.2h0m2.7-3.1h0m7.5 1.6h0m3.3 1.3h0m5.3-.5h0m4.4 1.9h0m-3.6 3.4h0m-2.9-2.6h0m-8.2 1.5h0m-4.1 1.9h0m-8.4-3.3h0m58.4-13.5h0m16.8 6.6h0m-1.2-1.2h0m-3.2 1.3h0m-1.7-1.9h0m-2.3-1h0m-.3 3.1h0m-.6-.6h0m-1-4.1h0m-1.3 1.4h0m-.8 1.8h0m-.4-1.2h0m-1.4 1.6h0m-1 .4h0m-.5-1.7h0m-1.9 1.2h0m-1.2-.8h0m-5.1-1.5h0m-7.3 3.1h0m-6 .9h0m3.2 1.6h0m1.4 .1h0m1.5 3.1h0m3.5-2.7h0m2.7-1.3h0m1.4 2.9h0m2.8-2.9h0m1.7-.4h0m.8 1.5h0m1.2-.1h0m.8 3h0m1.1-.5h0m1.1-3h0m1.1 1.5h0m1.8 2.3h0m.6-4.7h0m1.3 1h0m2.4 1.5h0m.5 2h0m.4-5.1h0m1.4 2.5h0m.5 2.7h0m.5-1.9h0m.4-2.5h0m1.5-.6h0m.9 4.4h0m1.7-1.8h0m-2.4 3.6h0m-2.4-.2h0m-1.8 2.5h0m-.5 2.5h0m-2.1-1.5h0m-.5-2.5h0m-1.9-.5h0m-1.3 .7h0m-1.4 3.8h0m-.6-4.6h0m-1.7 2.5h0m-1.2-.8h0m-.9 1.7h0m-.9 .7h0m-3.1-4.5h0m-1.8 3.3h0m-4.1-2.4h0m-2.4 4h0m-2.6 .5h0m-2-1.2h0m-13.2-2.3h0m-2.7 2h0m5.2 4.2h0m3.6 3.2h0m3.9-2.8h0m3.8 .3h0m6.6-3h0m6.2 4h0m.8-.6h0m2-.9h0m1.3-2.3h0m1.6 1.5h0m2.4 1.4h0m.3-1.7h0m.3 2.8h0m.4-2.2h0m1.6 2.7h0m1.4-1.4h0m.2-2.8h0m.2 3.7h0m.7-.9h0m.7-1.5h0m2.5 .8h0m-7.9 5.8h0m-2.2 .8h0m-1.9-2.6h0m-.3 4.3h0m-1.1-4.4h0m-2.4 2h0m-.5-2.2h0m-2.8 2.5h0m-7.9-1.5h0m-54.4-63.4h0m14.6 1.9h0m20.8 4.7h0m-11-2.7h0m-4 .9h0m-6.2 .5h0m-5.6 2.3h0m-5.8-2.8h0m-3.1-.7h0m-1.8 7.8h0m5.9-1.4h0m13.6 3.3h0m3.5-3.8h0m4.5-1.2h0m2.3-.1h0m5.8 4.2h0m8.5-4.2h0m-10 8.3h0m-10.2-2.3h0m-.9 1.4h0m-8.4-1.4h0m-9.3-.4h0m14.9 6.8h0m9.3 1.6h0m18.7-45.8h0m3.8 .8h0m.3-.2h0m1.2-1.9h0m2.8-2.4h0m1.7 4.8h0m-9 1.9h0" stroke="#a8d0ef" stroke-width="2.40" stroke-linecap="round" fill="none"/><path d="M322.4 275h0m-1.9 2h0m-2.5 1h0m5.5-1.5h0m-2.5-2.5h0m-5 6h0m-2.5 3h0m-22 1.5h0m5.5 3.3h0m5.7-1.2h0m10.3 1.2h0m4.5 2.2h0m-26.7 1.3h0m23.7 5.3h0m9.5 0h0m21.2-8.3h0m-2.2 14.1h0m-32.4 .6h0m-18.2-2h0m6.1 1.6h0m-7.3 2.4h0m-1.5 3.2h0m2.3 3.3h0m.8 2.1h0m6.5-6.2h0m30.9-2.2h0m3.8 5.8h0m-11.2 2.8h0m7.2 1.2h0m-.5 3h0m-5.7 1.5h0m25.2-6.1h0m1.5 14.9h0m-30 6.4h0m14 1.7h0m-29.5-3.2h0m-1 1.5h0m2.5 1.3h0m-26-10.4h0m4.2 .6h0m2.5 17.4h0m8.3 0h0m16-4.8h0m28.1 7.5h0m-37.1 7.7h0m1.5 4h0" stroke="#163a5c" stroke-width="3.50" stroke-linecap="round" fill="none"/><path d="M322.4 275h0m-1.9 2h0m-2.5 1h0m5.5-1.5h0m-2.5-2.5h0m-5 6h0m-2.5 3h0m-22 1.5h0m5.5 3.3h0m5.7-1.2h0m10.3 1.2h0m4.5 2.2h0m-26.7 1.3h0m23.7 5.3h0m9.5 0h0m21.2-8.3h0m-2.2 14.1h0m-32.4 .6h0m-18.2-2h0m6.1 1.6h0m-7.3 2.4h0m-1.5 3.2h0m2.3 3.3h0m.8 2.1h0m6.5-6.2h0m30.9-2.2h0m3.8 5.8h0m-11.2 2.8h0m7.2 1.2h0m-.5 3h0m-5.7 1.5h0m25.2-6.1h0m1.5 14.9h0m-30 6.4h0m14 1.7h0m-29.5-3.2h0m-1 1.5h0m2.5 1.3h0m-26-10.4h0m4.2 .6h0m2.5 17.4h0m8.3 0h0m16-4.8h0m28.1 7.5h0m-37.1 7.7h0m1.5 4h0" stroke="#2b7bba" stroke-width="2.50" stroke-linecap="round" fill="none"/><path d="M461.5 282.4h0m-2.9 1.7h0m-8-.7h0m-6.6 5.9h0m2.8-2.2h0m2.9-1.7h0m.6 4.5h0m.8-.8h0m1.6-.5h0m.5-3.3h0m.2 5h0m1.2-4.4h0m1-1h0m1.1 3.2h0m1.6 2.4h0m1-2.9h0m.8-.6h0m1.1 1.6h0m1.4-2.1h0m4.6 2.1h0m8.2 7.2h0m-1.1-3.2h0m-7 2h0m-2.6-1.9h0m-3.1-1.5h0m-2.2 4.9h0m-.3 0h0m-.8-3h0m-.3-1.9h0m-1.1 3.9h0m-1.3 .3h0m-.9-2.2h0m-1.2-2.1h0m-.4 2.9h0m-.8 1.2h0m-1.4-1h0m-.6 .5h0m-.7-.1h0m-3.6 .7h0m-1.2-.2h0m-.9-2.4h0m-4.7 2.8h0m-4.3 4.4h0m1.1 1.4h0m.9-3.2h0m1.1-.6h0m.7-.8h0m2.7 3.8h0m1.4 .1h0m.2-3.5h0m.9-.1h0m1.2 1.5h0m1.2-1.7h0m.3 .5h0m1.9-.1h0m1.2 4.1h0m1.6-4.7h0m.3 5.2h0m1.4-4.1h0m1.4 .7h0m1.1 1.6h0m.9-.4h0m1.7 .1h0m.7-1.7h0m1.8 2.9h0m.7 1h0m.4-3.6h0m2.1-.5h0m.5-.9h0m.4 5.4h0m.3 .3h0m4.5-3.1h0m1.9 .1h0m3.4 2.3h0m.4 1.3h0m-7.4 3.9h0m-3-2.6h0m-.7-.2h0m-1.7 1.7h0m-.5 2.4h0m-.5-2.2h0m-.6 2h0m-1-3.1h0m-.7 3h0m-.5-.9h0m-1.9-2.9h0m-1.4 4h0m-1.6-4.8h0m-1.4 3.7h0m-1.7-1.1h0m-.9-3h0m-.8 5.2h0m-.2-1.1h0m-.9-4.3h0m-.5-.1h0m-1.6 4.4h0m-.5-.4h0m-1.1-1.3h0m-1.1-.2h0m-1.5-2.5h0m-.8 5.1h0m-1.7-.5h0m-1.6-.2h0m-.5-1.5h0m-1.4-1.7h0m-.9 2.7h0m2.7 5.3h0m2-2.7h0m.8 2.9h0m.9-.6h0m1.6-2.1h0m1.5-.3h0m.4 2.4h0m2.2 1.9h0m.7-3.9h0m4.6 1.2h0m.6 2.9h0m1.5 .8h0m.5-2.1h0m1 1.7h0m.7 .1h0m1.3-2.2h0m1.2-3.3h0m.9 4.8h0m1.3-4.6h0m1.8 .4h0m.6 .2h0m.4 2.9h0m1-2.5h0m4-1h0m3.5 1.4h0m8.1-1.6h0m-2.7 6.8h0m-2.4 .2h0m-7.4 4.6h0m-3.3-.5h0m-1.7-2.8h0m-2 0h0m-.6-1.9h0m-1.3 .4h0m-1.1-.2h0m-1 4.6h0m-1.6-4.5h0m-.8 1.2h0m-1.2 2.3h0m-1.8-3.9h0m-1.1 .2h0m-1 1.1h0m-.9 3.6h0m-1.3 .1h0m-1.9 .4h0m-1-3.4h0m-.4-2.1h0m-.6 4.7h0m1.4 1.6h0m2.2 4.1h0m1.3 .6h0m.8-4.9h0m1.9 3.3h0m.8-.9h0m1.5-.4h0m.8 .2h0m1 3.3h0m3.4-2.9h0m3-2.9h0m2.4 2.2h0m.8 3.5h0m12.6 4h0m-1.9-.4h0m-1.3-1.6h0m-8.1 2h0m-.7 1.8h0m-.6-.6h0m-1.7-1.2h0m-1 1.6h0m-1-.3h0m-.2-2h0m-1-2.1h0m-1.4 4.9h0m-1.5-.8h0m-.7-3.4h0m-1.4 3.6h0m-2.6-.8h0m-1.2-1.9h0m-.7 3.1h0m-2.2-4.4h0m.6 5h0m1.9 .2h0m1.4 2.4h0m1.9-1.2h0m.9 2.9h0m.6-4.5h0m.8 5.1h0m1.2-1.9h0m.9-2.3h0m1.1 1.4h0m1.3 .5h0m1.5 2.5h0m2.4-4.8h0m.8 3.9h0m7.5-1.2h0m-8.2 3.5h0m-3.9-.6h0m-2.8 1.5h0m-2.7-1.5h0m-23.4-28.2h0m.6 3.8h0m4.2-.7h0m1.7-4.1h0m1.6 1.9h0m1.8 .9h0m4.8 1.8h0m1 4.3h0m-.5 1.1h0m-.9 .5h0m-1.2-2.6h0m-2.2-1.4h0m-2 3.2h0m-.3-.2h0m-1.4-2.1h0m-.8-1.7h0m-1.2 4.1h0m-3.8 .3h0m-7.8 .4h0m-5.4 2.2h0m12.9-.3h0m6.2 3.8h0m3.6-.8h0m.8-1.7h0m2.5 .8h0m2.9-1.6h0m1.4 2.8h0m2.9-1.4h0m-.4 6.5h0m-.3-2.1h0m-3.7 .4h0m-1.6-.2h0m-1.8 .9h0m-2.7 1.4h0m-1.8-4.2h0m-1.9 3.8h0m-2.1-3.3h0m-12.1 6.8h0m11.5 3.3h0m1.9-4.6h0m1.3 2.1h0m.4 1.4h0m1-1.7h0m1.3 .2h0m.8 2.3h0m.5-4.2h0m1 5.7h0m.6-3.8h0m2.3-1.2h0m1.7 1.6h0m1.6-.1h0m-2.2 5.2h0m-2.9-1.5h0m-1.9 1.2h0m-1.3-.6h0m-3.4 .5h0m-.6 3.7h0m-2-3.4h0m1.7 5.8h0m-10.2-73.3h0m-2.5-1.6h0m-4.1 1.4h0m-4.8-1.3h0m-11.5 5.4h0m2.4 .8h0m2.9-3.1h0m1.2 3.1h0m1.4-2.8h0m1.4 .7h0m2-.3h0m.5-1h0m.2-1h0m1.4 3.4h0m1.5 .7h0m.8-4.1h0m1.6 4.3h0m.9-.6h0m1.7 .3h0m.8-3.6h0m1.8 2.7h0m2.3-1.4h0m-2 10h0m-1.4-1.6h0m-1.5-3.3h0m-2.5 .4h0m-.8 1.9h0m-.6 1.3h0m-.5 1.2h0m-.4-3.7h0m-.6-1.4h0m-1.6 2.5h0m-.8-1h0m-.6-1.8h0m-.4 3.5h0m-.7 1.9h0m-.3-.9h0m-.5-4.3h0m-1.5 4h0m-1.3-3h0m-.5 .5h0m-.9 1.7h0m-1.6 1.6h0m-.6-2.1h0m-.8 1.9h0m-.9-2.1h0m-2.3-1.1h0m-1 .3h0m-2.1 .9h0m-2-.8h0m-3 6.5h0m2.4-1.3h0m.9-1.2h0m.9 2.2h0m1.4-.7h0m1.2 .4h0m1.6 2.2h0m.8-3.3h0m2.2-.2h0m1.1 1.3h0m1 2.1h0m.7 .5h0m.5-4.2h0m1.2 5.2h0m1-.3h0m.6-4.4h0m1.3 1.3h0m1 3h0m1.2-3.7h0m1 2.7h0m.9-3.5h0m1.5 2.2h0m.5 1.9h0m1.1-2.1h0m.2-.8h0m.6 .7h0m1-2.1h0m.6 3.3h0m1-1.9h0m.2 1.5h0m.5-1.4h0m.5 1.7h0m3.7-3h0m-4.5 6.3h0m-.8-1h0m-1.5 1.2h0m-.5 .9h0m-.7 .6h0m-1.7-.4h0m-1 1.1h0m-.8 0h0m-2.4-2.2h0m-1.3-.8h0m-1 1.1h0m-1.3 4.2h0m-.6-2.7h0m-1.3 2.4h0m-3.8-4h0m-.3 .5h0m-2.2 .7h0m-.5-2.4h0m-.7 5.1h0m-.6-4.5h0m-3.5 .8h0m-1.4 2.2h0m-1.3 5h0m.8-.7h0m1.1-2h0m1.4 3.9h0m1.5-4.1h0m2 5.5h0m.7-1.8h0m.6 .9h0m1.2-4.4h0m.9 .7h0m1 2h0m2.2 .4h0m2.3 .4h0m2-2.6h0m.5 4.3h0m.6-.5h0m.7-2.7h0m1 .5h0m.4 1.2h0m.6-.3h0m1.5-.3h0m2.6-.7h0m.6-1h0m2.1-1.4h0m2.7 3.7h0m.3 2.6h0m-2.7 .6h0m-.7 .3h0m-2.7 1.8h0m-5-2.3h0m-1.1 .2h0m-2.6 .6h0m-1.1 .3h0m-4-1.3h0m-10.4 21.7h0m3.1-2.1h0m1.7 .2h0m1.3 1h0m1.2 1.4h0m2.4-1.1h0m.8-2h0m1.6 3.2h0m1.7-4.1h0m2.3 3.8h0m10.3 7.1h0m-2.4-.1h0m-4.5-.7h0m-1.2-1.5h0m-2.3-1.4h0m-.6 1.6h0m-1.2 .5h0m-.8-2.4h0m-2.1 1.2h0m-.6 1.7h0m-2.3-2.5h0m-1.4 .2h0m-1.2 2.1h0m-2.2-3.7h0m-1.3 3.7h0m-.7-3.5h0m-1.3-.8h0m-.4 3.4h0m-.8 2.1h0m-2.4-3.7h0m-1.9 2.7h0m-2.9 6.6h0m2.5 .4h0m1.3-5.5h0m1.2 1.2h0m1.4 3.7h0m.3-4.7h0m1.1 .7h0m1.3 4.5h0m.7-1.4h0m1.2 1.1h0m1.4-4.2h0m1.2 2.5h0m.5 1.6h0m.9-.5h0m1 .2h0m1.1 .4h0m.6-3.9h0m.9 2.6h0m.9-3.2h0m1.8 4.1h0m.7-2.9h0m.8 1.2h0m1.6 1.9h0m1.8-.9h0m1.3-3.8h0m2.1 2.6h0m.1 .1h0m1.5 .2h0m.7 1.2h0m2-4.1h0m1.2 3.8h0m2.2-1.7h0m3.2 6.2h0m-2.8 .2h0m-1.8 2.1h0m-1.1 .3h0m-1.9-5.1h0m-.6 3h0m-.4 .9h0m-.9-.8h0m-1.2-.4h0m-.4 2.2h0m-.4-3.3h0m-1.2 .2h0m-.8 1.7h0m-2.5-3.6h0m-1.2 4.1h0m-.8-.3h0m-1 0h0m-.8-3.1h0m-.9 2.1h0m-1.9-1.9h0m-1.1 3.2h0m-1.3-3.7h0m-.8-.3h0m-1 4.3h0m-1.9-3h0m-1.3 1.5h0m-.1-1.4h0m-.9-1h0m-1.4-.1h0m-.8 4.4h0m-.7-2.9h0m-.5 .1h0m-.4 3.6h0m-1.4-1h0m-.9-3.4h0m-.9 .7h0m-.7-1.1h0m-1.2-1h0m3.5 7.7h0m1.6-1.3h0m.9 1.9h0m.5 1.9h0m1.1-2h0m1 1.3h0m.9 .2h0m1.7-2.4h0m.5 1.8h0m.6-1.3h0m.2 .1h0m1 1.7h0m.4 1.7h0m.4-1.7h0m.4-2.5h0m.6 2.1h0m.7-.5h0m1 1.2h0m1.7 1.5h0m.7-3h0m.5 1.8h0m.6 .3h0m.3-1.3h0m.3 .9h0m.5-3.2h0m1.4 2.7h0m.8-2h0m1.7 1h0m1.4 2.4h0m1.1-3.9h0m2 3h0m.9-2.5h0m.3 3.6h0m1.7-3.2h0m1.3 3.7h0m.1 .1h0m.9-.4h0m.3-5.5h0m1.8 3.6h0m.3 1.5h0m1.7-3.1h0m-4.6 5.5h0m-2.8 .1h0m-.6 1.6h0m-1.5 1h0m-1.1-3.9h0m-.5 1.2h0m-.4 1h0m-1-1.4h0m-1.8 1.2h0m-1.5-1.3h0m-1.1 3h0m-1.6-4h0m-1.1 2.2h0m-.7 3.1h0m-2.2-4.5h0m-1.2 2.7h0m-.9 .2h0m-2.1-.4h0m-1-1.5h0m-.2 1.7h0m-1.2-2.3h0m-3 .7h0m61.5-14.1h0m12.8 5.1h0m-7.6 .3h0m-2.5-4.7h0m-.6 3.6h0m-1.1-.4h0m-.9 1.9h0m-1.9-2.1h0m-.7 2.1h0m-1.6-.6h0m-1.4-1.1h0m-1.6-1.2h0m-1.7 .9h0m-.7 1.8h0m-1.1 .3h0m-2.3-1.4h0m-.6 1.1h0m-2.5-.5h0m-3.3 .7h0m-5.5 6.1h0m2.4-4.1h0m1.5-1.3h0m1.4 .8h0m1 2.8h0m1.8-.2h0m1.4 1.2h0m3.9-1.9h0m1.3 .2h0m1.1 .8h0m.9-2.9h0m.9-.7h0m.4 5.4h0m.8-2.1h0m2.6-.4h0m1-3.1h0m1.7 4.2h0m1-3.6h0m1.3 2.3h0m1.8 2.3h0m.9-2.9h0m3.9 2.7h0m2-1.7h0m.6-.7h0m2.1-2.5h0m3.6 3.2h0m-8.1 5.1h0m-3.1-1.1h0m-3.2 1.3h0m-1.1 1h0m-2-3.7h0m-.9 1.1h0m-1 0h0m-.4 1.5h0m-1.4-2h0m-2.8 2.4h0m-1.3-.6h0m-.2 1.6h0m-.9-3.6h0m-2 1.7h0m-.6 .9h0m-1.4 2.7h0m-1.4-2.1h0m-.4-2.4h0m-1.9 3.4h0m-.5 1h0m-.7-.6h0m-1.6-2.7h0m-1.8 1.6h0m-11.2 1.8h0m-.9-2.9h0m-1.1-.4h0m-1.6 1h0m-1.7 .2h0m2.1 4.4h0m2.5-2.1h0m.6 .4h0m1.1 1.1h0m1.3 1.3h0m.9 1.5h0m2.3-1.7h0m.9 2.4h0m1.2-.2h0m1-3.7h0m.6 2.5h0m1.1-3h0m2.3 1.5h0m.7 .4h0m.7 1.8h0m1 .2h0m.6-1.1h0m1.4-1.2h0m4.1 .4h0m1.7-1.1h0m1.9 3.5h0m2.3-1.9h0m2.1-2.6h0m1 .6h0m1.5 3.4h0m3.2-1.3h0m.3 0h0m.1-2.7h0m.6 1.6h0m1.1-1.1h0m2.1 3.2h0m1-1.1h0m.6-1.2h0m-5.4 6.6h0m-3.2-1.8h0m-1.2 4.3h0m-1.1-4.4h0m-2.3 4.9h0m-.3-5.1h0m-.9 3h0m-1.1-3.3h0m-1.1 4h0m-1.7 1.8h0m-.7-3.5h0m-2.2-.7h0m-1.8 3.6h0m-1.1-1.5h0m-.8-1.2h0m-.6 1.3h0m-1.2 1.1h0m-2.4-3.4h0m-3.9-1.3h0m-.8-.1h0m17.3 6.1h0m-65.2-67.4h0m2.8 .2h0m1.6-1.9h0m1.8 .7h0m1.5 1.4h0m2.5-.2h0m15 0h0m15.1 5.2h0m-3.1-.8h0m-1.6-2.1h0m-1.1 1.7h0m-.5 .6h0m-1.4-1.3h0m-1.2 3.4h0m-3.4-2.7h0m-.8-1.2h0m-.9-.3h0m-.5 .5h0m-2.3 .6h0m-.3 3.3h0m-.6-4.4h0m-1.3 1.9h0m-1.8 1.6h0m-.6-2h0m-1.7-.2h0m-1.8-1.3h0m-1.1-.5h0m-1.4 2.8h0m-1.1-3.1h0m-.7 2.8h0m-.5-.9h0m-.9 3h0m-1.1-1.7h0m-.6-3.4h0m-.7 2.4h0m-1-1.6h0m-.6 4.5h0m-1-.3h0m-1.2-4.6h0m-.6 1.7h0m-.4 1.6h0m-.3-.9h0m-1.7 2h0m-1.3 .2h0m-.9-3.5h0m-1 .6h0m-.6 3.9h0m2 .5h0m1.9 2.5h0m1.4-1.4h0m.8 0h0m2-1.3h0m1.2-.6h0m.6 2.2h0m3.4-1.5h0m2.1 5h0m2.9-4.4h0m2-.8h0m2.6 4.3h0m.6-3.8h0m1-.7h0m1.1-.2h0m.4 5.3h0m1-3.7h0m1.4-.4h0m.8-1.6h0m2.3 .8h0m.8 1.9h0m1.1 .9h0m.4-3h0m1.7-.1h0m.7 3.1h0m1.9-2.1h0m1.1 .8h0m1.1-.9h0m1.9 .6h0m1.4 1.1h0m1.2 1.2h0m1.2-1.2h0m1.1-1.2h0m1.1-1h0m-1.4 6.2h0m-2.9 .8h0m-.9 1.4h0m-1.2 .7h0m-.5-1.5h0m-.4 .6h0m-.5-3h0m-.9 5.7h0m-.7-1.8h0m-.7-1h0m-2.8 .4h0m-1-1.2h0m-1.8-1.2h0m-1.1 2h0m-1.7-1.8h0m-.9 .4h0m-.7 2.8h0m-.3-1h0m-.5 .6h0m-.2-1.5h0m-1.4-.1h0m-1.4-1.1h0m-.3 .7h0m-.7-.5h0m-1 2.2h0m-.6-1.4h0m-.5 1.6h0m-.9 .9h0m-.9-2.7h0m-.8 3.9h0m-.9-4.6h0m-.6 4.5h0m-1.5-2h0m-.3-1.3h0m-2.6-2.4h0m-2.8 .5h0m6.1 5.7h0m3 2.3h0m1.4-1.6h0m2.1 2.4h0m.9-3.1h0m.8 .7h0m1 2.4h0m2.6-1.1h0m.9-1.2h0m3.2 1.1h0m1.9-1.6h0m2.4 .7h0m20.1-43.9h0m-1.9 3.3h0" stroke="#a8d0ef" stroke-width="2.40" stroke-linecap="round" fill="none"/><path d="M447.8 284.6h0m-4.8 3.8h0m.9-1.1h0m2.1-1.5h0m2 3.6h0m1.3-3.5h0m4.3 1.9h0m3.6-2.9h0m4.9 4.4h0m3.5-.4h0m.7 1.4h0m2-3.2h0m3.9 2.8h0m4.4 6.3h0m-1.7-3.4h0m-.6-.8h0m-.6-.7h0m-.7 3.1h0m-1-3.1h0m-.7-.6h0m-.8 1.2h0m-1.2 3.2h0m-.8 .6h0m-2.7-1.7h0m-.2-.4h0m-10.7 .1h0m-5.9 2.7h0m-1.5-1.9h0m-.6-1.1h0m-.4 .8h0m-.5 1.7h0m-.5-2.5h0m-.9-.1h0m-1.6 3.1h0m-2.2-4.4h0m-.7 .4h0m-.4 1.6h0m-1.2-.8h0m-.5 2.1h0m-1.9 1h0m1.6 .6h0m4.7 4.1h0m11.8-2.1h0m4.2 2.2h0m4.2-3.5h0m3 2.3h0m1.5-.1h0m2.1-2.7h0m.6 2.1h0m.8 3.2h0m1.6-3.3h0m.6-2.1h0m.1 4.9h0m.4-4.1h0m.6-.9h0m1.6 2.8h0m1.6-1.9h0m3.1 4h0m1.4 6.6h0m-.7-.9h0m-2-2.6h0m-.8 3.5h0m-2.6-3.9h0m-.7 1.9h0m-1.5-2.6h0m-1.2-.1h0m-.5 4.9h0m-1.2-2.5h0m-1.3-2.9h0m-.4 4.4h0m-.5 .1h0m-.6-2.3h0m-.5-.6h0m-2.2-1h0m-2.9 2h0m-9.4-.7h0m-4.3 .3h0m-6.2-1h0m-5.1 1.6h0m5.1 4.6h0m15.5 2.2h0m1.8-.9h0m7.8-1.9h0m.7 .4h0m.6 4h0m.9-1h0m1.5-1.5h0m1.9 1.6h0m2.7-2.7h0m1.6-1.2h0m.6 .1h0m.9 2.5h0m.4-1.7h0m.5 1.7h0m1.4-.4h0m.3 0h0m.4 0h0m-.9 3.3h0m-1.6 3.8h0m-1.1 .6h0m-1.3-1.4h0m-1.4 2.4h0m-.5-4.3h0m-.8 1h0m-4-2h0m-3 4h0m-.9-.9h0m-1 2.1h0m-2.5-4.9h0m-.4 5.1h0m-3.7-.3h0m-2.9-3.4h0m-8-.5h0m-3.2 2.2h0m1.8 4h0m8-.8h0m3.1-1.2h0m1.9 3.9h0m5-1.8h0m2.7 2.4h0m.5-1.2h0m.8 2.6h0m1.3-5.7h0m1.5 .2h0m1.1 3.3h0m.5 .7h0m.6-.8h0m1.5-1.7h0m1.6 3.6h0m1-5.5h0m2.3 .4h0m-1 6.8h0m-2.3 1.8h0m-.7-.2h0m-.6 1.7h0m-.6-4.4h0m-.7 5.3h0m-1.2-4.6h0m-.6 1.2h0m-1 1.3h0m-.9-.9h0m-1.5 1.7h0m-.7 .2h0m-1.5-.1h0m-1.6-3.9h0m-14.9 4.9h0m3.4 1.4h0m5.3 2.5h0m5.9-.1h0m2.5 2.8h0m1.2-5.2h0m.5 3.6h0m1.6 1h0m2-2.4h0m.6-2h0m1.2 1.1h0m-8.4 7.2h0m-35.8-30.7h0m.1 .8h0m2.6-.9h0m.9 2.8h0m1.8 .5h0m1.4-2.6h0m1.9 1.1h0m8.8 6.9h0m-5.9-1.2h0m-4.9 1.5h0m-.8-2.7h0m-.5 2.7h0m-.7-3.7h0m-2.4-.1h0m-.7 1.1h0m-1.4 0h0m-1.5 .3h0m-1.8-.8h0m-.2 .8h0m-.2-2.4h0m-.6 2.3h0m-.8-.9h0m-1.9 2.5h0m-2.2 1.5h0m.1 5.5h0m1 .4h0m1.7-3.5h0m.8 3.4h0m.5-4.3h0m.4 .9h0m.6 2h0m1-.3h0m1.1 1.8h0m.7-4.5h0m1.2 .6h0m1 3.2h0m.3-2.6h0m.8 1.6h0m1.6-1.9h0m.5 1.1h0m1.2-3.2h0m.2 3.6h0m.4-3.5h0m1.1 1.2h0m2.5 .6h0m2.9-.6h0m2.1 2.8h0m3.8 .4h0m2.3-3.4h0m2.6 7.1h0m-2.4 3.2h0m-1.5-2.2h0m-5.4-1.4h0m-1.7 .7h0m-2.1-.9h0m-4.1-1.6h0m-3.5 2.2h0m-.4-1h0m-.7-.4h0m-.4 1.4h0m-1.2-.1h0m-1.4 1.4h0m-1.1-2.9h0m-1.4 .5h0m-1.2 3.7h0m-.5-4.7h0m-.5 .3h0m-.9 2.9h0m-.8-.5h0m-1 2.1h0m-.5-.1h0m-1.5 1h0m3.4 .9h0m1.9 3.3h0m1.9 1.5h0m.4-3.2h0m.5 1.8h0m1.9 .5h0m1.4 .6h0m.6-1h0m1.3-1h0m.4-2.3h0m2.6 3.3h0m3.7-2.8h0m4.2 4.2h0m1.8-4.1h0m2.1 .2h0m2-.5h0m-2.6 8h0m-1.4-1.3h0m-4.5-.9h0m-1 1.9h0m-2.3 1.1h0m-2.5-2.7h0m-.9 1.9h0m-1.5-1.2h0m-.8-1.6h0m-.5 1.5h0m-1 1.4h0m-.4 .8h0m-2.4-3.2h0m6.8 6.4h0m2.5 .4h0m-8.1-74h0m-1.9-1.5h0m-22.2 7.4h0m7.9-4.6h0m9.2-.6h0m3.3 .9h0m1.6 2.6h0m1.1-4h0m2.3 4.7h0m-.6 5.7h0m-.4-.9h0m-.7 .8h0m-.9 1h0m-12.2-3.9h0m-13.3-.9h0m.4 6.1h0m16.6 3.2h0m5.8-1.7h0m4.1-1.9h0m1.1 5h0m1.2-2.1h0m.4 5.7h0m-1 .2h0m-1.6 2.3h0m-2.2-4.5h0m-3.4 4.6h0m-4.2-1.2h0m-11.3 1.8h0m-9.3-5h0m-.5 7.4h0m7.7-1h0m6 2.6h0m5.2 .1h0m2.4 .7h0m6.5-4.1h0m1.9 .2h0m.8 1.6h0m1.9 .6h0m.8 .8h0m-11.9 4.9h0m-9.8 20.1h0m7.7 .6h0m-.2 5.7h0m-3-4.3h0m-18.1 4.6h0m-4 2.5h0m8 1.1h0m4.2 1.6h0m6.3 1h0m2.7-5.5h0m5.4 3h0m9.9 4.5h0m-4.7 1.3h0m-10.9 2.1h0m-7.7-.5h0m-5.3-.5h0m-7.4 .3h0m-2.5-1.7h0m14.4 7.1h0m2.5-1.2h0m14.4 1h0m6.7 1.7h0m-12.1 4.8h0m-12.5-3.3h0m70.3-7.3h0m-1.1-2.3h0m-1 2.8h0m-2.3-.4h0m-2.6-1.1h0m-.4-1.7h0m-1.2 0h0m-.1-2.3h0m-.7 3.6h0m-1.2 1.9h0m-1-3.5h0m-4.1 .9h0m-8.2-1.1h0m-10.3 3.4h0m-4 2.8h0m2.3-2.3h0m2.3 5.2h0m1-3.4h0m2.2 2.7h0m5.5-3.6h0m2 .2h0m1.6 4.3h0m2.5-4.7h0m3.3 1.1h0m3.1 0h0m3.2-.3h0m2.6 1.6h0m1.6-1.6h0m1.2 2.3h0m.6-2.7h0m.7 2.7h0m1.8-2.6h0m.8-1.3h0m-1.3 6.9h0m-2.3 4.1h0m-1.6-1.5h0m-1 1.7h0m-2.5-4.3h0m-2-.2h0m-3.1 2.1h0m-4.7-1.2h0m-3.3-1.4h0m-5.8 5.3h0m-2.6-5.5h0m-4.5 4.4h0m-3.6-4.3h0m-12.7 1.4h0m-3.3 .1h0m7.3 9.5h0m4.7-1.1h0m5.9-3.4h0m5 .1h0m2.7 3.8h0m4.5-1.7h0m2.7-2.3h0m4.3-.3h0m4.9 3.1h0m1.8-.6h0m1.3 .6h0m.2-3h0m2.2 .7h0m1.9 1.6h0m-10.2 6.9h0m-3.6 1.6h0m-4-1.4h0m-9.2-2.4h0m-7.7 .2h0m14.7 4.8h0m-52.9-66.5h0m17.9 3.9h0m-16.9-3.5h0m-5.2 2.1h0m-7.2 5.2h0m6.1 3h0m14.7 .4h0m14.4-1.2h0m2.5 2.6h0m-9.9-.1h0m-9.3 2.9h0m3.3 4.4h0m15.2-1.5h0m12.3-44.7h0m2.5 1.7h0m1 .1h0m1.5-1.6h0m1.4 .2h0m1.1 .4h0m1.9-.5h0m.1 2.3h0m-7.2 2.7h0" stroke="#d3d3d3" stroke-width="2.40" stroke-linecap="round" fill="none"/><path d="M460.7 284h0m-3.2 0h0m-16.5 4.7h0m3.6 1.6h0m2.7 .1h0m2.5-5.6h0m.8 3.3h0m1.3 2.3h0m1-2.5h0m.4-.9h0m.2 2h0m1.8-2.2h0m.6 2.3h0m1.3-4.2h0m1.4 0h0m1 .9h0m.9 3.4h0m1.2-4.1h0m3.2 .3h0m2.6 3.6h0m7.2 2.4h0m-4.4 2.4h0m-3.6-.2h0m-2.8-2.9h0m-2.7 4.7h0m-1.8-2.5h0m-.5-2.2h0m-.6 3.4h0m-1.2-2.2h0m-.7-.3h0m-1-.3h0m-1.1 1.6h0m-.8 1h0m-.6-.1h0m-1.7-.1h0m-.5 1.6h0m-.4-3.8h0m-1.1 1.4h0m-3.3-1.9h0m-1.6 3h0m-2.3 1.2h0m-3.1 1h0m-3.1 4.4h0m.4-2.8h0m1.4 4.7h0m.6-1.1h0m1.4-3.3h0m2.3 2h0m1 1h0m.4-1.2h0m1.1-3.2h0m.9-.1h0m1.1 1.7h0m.3-.9h0m2 2.5h0m1.6 1.6h0m1-.3h0m.4-4.1h0m1.7 1.8h0m2-1.4h0m.2 2.4h0m.9 .6h0m1.6-1.8h0m.8 3.6h0m2-.8h0m.6-2.1h0m1.7 1h0m1-1h0m.3 2.6h0m.2-5.1h0m.8 2.2h0m4.5-2.3h0m1.9 4.5h0m4.9-.1h0m-3.7 1.6h0m-5.9 4h0m-2.5-1.2h0m-1.1-.8h0m-1.4 2.2h0m-.5 .1h0m-.4-4.3h0m-1 4.5h0m-1-2.7h0m-.5 0h0m-.5 0h0m-1.8 1.4h0m-1.8 1.4h0m-1.1-.6h0m-1.3-3.6h0m-1.9 3.6h0m-.8 1.4h0m-.8-4.5h0m-.9 1.1h0m-.4 1.7h0m-1.6 1.6h0m-.6-5.3h0m-.2 2.6h0m-1.5 .6h0m-.7 1.6h0m-1.6-4.1h0m-1.1-.9h0m-1.2 5.3h0m-1.9 .7h0m-1.3-1.8h0m-1-1.3h0m.6 7.1h0m2.6-1.2h0m1.5 .3h0m.8 1.8h0m1.6-1.7h0m.8-2.4h0m1.7 1.8h0m1.2-1.3h0m1.3 3.5h0m.7-4.8h0m4.7 2.9h0m.6-2.7h0m1.2 .6h0m1.2 3.7h0m.9-1.7h0m.5 2.3h0m1.3-5h0m1.1 .7h0m.8 3.1h0m1.5-.6h0m1.4-2.1h0m.8 2.7h0m.8 .3h0m.5-2.6h0m6.7-.7h0m1.9 2.5h0m5.9 8.3h0m-2.3-4.4h0m-4.3 4h0m-6.2-1.8h0m-2.6 1.7h0m-1.5 .5h0m-1.9 .3h0m-1-.2h0m-.9-2.9h0m-.9 .6h0m-1.4-1.3h0m-1.1-.5h0m-1.4 .8h0m-.8-.5h0m-1.8-1.4h0m-1.5 2.7h0m-.9 2.1h0m-1.1-4.4h0m-2-.7h0m-.9 1.7h0m-.6 .7h0m-.7-.8h0m-1.7-1.1h0m4.1 5.4h0m1.3 2.7h0m1.2 .5h0m1.9-3h0m1.1 1.2h0m.3 2.8h0m1.5 .6h0m1.5 .7h0m1.9-.5h0m2-1.9h0m3-.3h0m2.4-2.8h0m1 1h0m12 7.5h0m-2.5-.6h0m-4.8-1.4h0m-4.5 3.9h0m-.4 .7h0m-.7-.8h0m-1.5-3.3h0m-1.5 .2h0m-.4 4h0m-.2-1.4h0m-1.1-3.2h0m-2 2.5h0m-.7-.4h0m-.9 2.1h0m-1.8-1.7h0m-2.1 2.5h0m-1.3-1.8h0m-.8 .4h0m-2.2-4.3h0m1.3 10h0m1.9-1.8h0m2.1-.6h0m1.5 .9h0m.4-.9h0m.9-1.5h0m.3 2.8h0m1.6 2.6h0m1 0h0m.7 .4h0m1.4-4.4h0m1.6 1.9h0m2.4 1.2h0m.5 1.3h0m8.9-5.3h0m-11.3 6.6h0m-2.2-.9h0m-3.8 0h0m-1.8 1.8h0m-23-30.2h0m4.3 1h0m.6-.3h0m1.7 1.2h0m1.8 1.4h0m1.3-.6h0m8 7h0m-2.6-2.6h0m-.8-1.7h0m-1.4-.4h0m-1.4 2h0m-1.2 .1h0m-1.7 1.8h0m-.6-1.9h0m-1.1 2.7h0m-1-.4h0m-1.2-2.7h0m-5.3 2h0m-10.3 1.1h0m-.4 3.8h0m15.9 2.4h0m2.4-4.8h0m3.9-.6h0m1.9 2.9h0m1.3-3.2h0m3.2 5.8h0m1.9 0h0m2.4 5.7h0m-1-5.6h0m-.6 4h0m-3.7-3.6h0m-1.5 4.4h0m-2.4-2.4h0m-3.3 .2h0m-1.7 2h0m-1.5-3.4h0m-1.5 0h0m-9.6 9.1h0m10.4-2.8h0m.9 3.3h0m1.3-.3h0m.6-4h0m.9 .3h0m1.4 1.4h0m.7-1.8h0m1.2 4.5h0m.3 0h0m1.4 .2h0m2-3.4h0m2.1 .7h0m.7-.2h0m-2.8 3.9h0m-3.6 1.8h0m-1.6 0h0m-1.8-.9h0m-2.3-1.1h0m-.8 2.3h0m-2.6 7.6h0m3.3-1.6h0m-12-75.1h0m-2.5-.4h0m-4.8 .5h0m-14.7 6.6h0m1.1-.3h0m3-.7h0m2.1 .4h0m1.4-1.7h0m1.2-1.2h0m1.4 .3h0m1.5-2.7h0m.6 2.6h0m.2 2.2h0m1.4-.4h0m1.8-1.4h0m.4 1.7h0m2.5 .6h0m.5-1.6h0m1.6-3.3h0m.4 1.9h0m1.8-1h0m1.3 6.8h0m-1.9 2.5h0m-.8-3.2h0m-2.1 4.1h0m-1.7-2.2h0m-.9 2.2h0m-.5-4h0m-.7 1.5h0m-.3 2.1h0m-1.3-.6h0m-.8-.5h0m-1 1.7h0m-.4-.5h0m-.6-1.8h0m-.6-2.8h0m-.1 2.4h0m-.6-2.1h0m-1.6 4.3h0m-1.1-2.7h0m-1.1 3h0m-1.3-2.3h0m-.8-2.8h0m-1 1.8h0m-.4-.3h0m-1.4-1.3h0m-1.9 1.7h0m-2.3 3.5h0m-2.2-1h0m-.7 1h0m-1.8 5.3h0m2.3-1.7h0m.9 .5h0m.4 .6h0m1.2-3.7h0m2.3 3.2h0m1-1.1h0m.6-.9h0m2.4 1.4h0m.9 .5h0m.8-3.4h0m.6 5.3h0m1.3-.9h0m.6 .8h0m1.3-.5h0m.8-.5h0m.7 .9h0m1.3-3.2h0m1.1 .8h0m.8-2.9h0m.9 4.4h0m1.6 1.2h0m.5-1.1h0m.9-3h0m.3 3.5h0m.8-2.2h0m.9-.8h0m.7 1.7h0m.7-3.3h0m.2 1.6h0m.5-.8h0m3.3 2.5h0m3.7 3.4h0m-7.4 2.1h0m-1.6-.6h0m-.7 .5h0m-.7-1.7h0m-.8 1.8h0m-1.4-.8h0m-.9 .9h0m-1-.6h0m-2.4-1.2h0m-1.2 3.6h0m-1.4 .1h0m-.9-.6h0m-.9-3.8h0m-1.8 4.4h0m-3-1.6h0m-.3 .9h0m-2.5 .6h0m-.5-.1h0m-.6 .3h0m-.4-5.4h0m-3.6 2.7h0m-1.9 2.3h0m-.5 1.5h0m1.3 .8h0m.7-1h0m1.3 1.4h0m2.4 .9h0m1.1-.1h0m.7 2.2h0m.7-3.9h0m1.2-.4h0m.8 2.7h0m1-1.4h0m2.4-.4h0m2.1 2.4h0m2.1-1h0m.3-.5h0m.7-.7h0m.9 4.3h0m.9-1.5h0m.2-2h0m1.1 3.3h0m1.8-.6h0m1.9-4.5h0m1.9 1.7h0m1.1 .9h0m2.7 4.4h0m-1.7-.6h0m-1.2 2.3h0m-1.9-1h0m-1.9 .3h0m-4.8-1.6h0m-.8 1.5h0m-2.8 0h0m-2-.3h0m-4.1-1.5h0m-8.9 22.2h0m3.8 0h0m1.4-.2h0m.8-1.6h0m2.5-.7h0m1-.2h0m1.3 1.3h0m1.1-.2h0m3.3 1.7h0m1.6-.9h0m7.4 6.2h0m-1.9-2.6h0m-3.2 3.6h0m-1.9-4.5h0m-1.6 1.8h0m-.8-1.2h0m-1.1 4.3h0m-1.1-2.9h0m-1.8 2h0m-.7-1.8h0m-2.2-2.8h0m-1.6 4.6h0m-1.1-4.3h0m-2.1 3.3h0m-1.4-.5h0m-.4-1.5h0m-1.4 3.8h0m-.9-4.7h0m-.6-.5h0m-2-.1h0m-3 5.5h0m-1 .6h0m2.5 3.7h0m.9 1h0m1.3-4.3h0m1 3.1h0m.5 1.9h0m1.7 0h0m.6-5.4h0m1.3 2.8h0m.5-2h0m2 4.6h0m.6-2.5h0m.4 .9h0m1.1 1.5h0m1-.7h0m.9-.5h0m.7-1.5h0m1 2.3h0m1.5-.2h0m1.1-1.1h0m1.2-2.7h0m1.4 1.8h0m.7 1.7h0m1.5-2.1h0m3 2.7h0m.4-3.1h0m.4-.7h0m1.4 .6h0m.8 .3h0m2-2h0m1.5 1h0m3 1.8h0m-.1 7h0m-1 .7h0m-1.9-2.2h0m-1.2-2.4h0m-1.9 1.3h0m-.4-.3h0m-.6 1h0m-.8 .8h0m-1.2-.7h0m-.3-1.5h0m-.8 3.1h0m-1-2.9h0m-.7 3.3h0m-2.4-.2h0m-1.1-2.8h0m-1.2 .2h0m-.9 .4h0m-.7-1.8h0m-.8-.2h0m-1.8 .6h0m-2 2.1h0m-.4 1.5h0m-1.3 .4h0m-1.1-3.2h0m-1.8 .9h0m-.9 .3h0m-.6-2.5h0m-1.1 5.5h0m-.6 .1h0m-.8-.4h0m-.9-2.2h0m-.3-3.1h0m-.6 5.4h0m-1.3-4.6h0m-1 5h0m-.9-3.4h0m-.7-1.5h0m.5 5.5h0m2.2 .6h0m1.7-.2h0m.7 .2h0m.5 4.4h0m1.4-5.2h0m.8 1.3h0m1 1.4h0m1.6-.4h0m.5-2.3h0m.4 4.4h0m.5 .3h0m.8-4h0m.4-.3h0m.3 4.5h0m.4-3h0m.7-1.8h0m1.1 2h0m1.1 .3h0m1.2 2.9h0m.7-1.2h0m.4-4.4h0m.7 1.7h0m.4 3.2h0m.3 .3h0m.9-2.5h0m1.1 .1h0m.5-1h0m1.7 2.2h0m2.1-2.3h0m1.2 1.5h0m1.4 .6h0m.8-.2h0m.4 2.1h0m1.6-4.3h0m1.3 2.1h0m.2-1.2h0m.7-1.9h0m.8-.4h0m1.3 4h0m.5-3.2h0m2.2 .7h0m-6.3 7.4h0m-2.1-.1h0m-.8-.1h0m-1.4-1.8h0m-1 2.9h0m-.4-.7h0m-1 1.5h0m-1.1-1.6h0m-1.8-2.9h0m-.8 4h0m-1.8-2.7h0m-1 .4h0m-1-.5h0m-1.1 1.7h0m-2 .6h0m-.9-1.5h0m-1.4 .3h0m-1.6-2.1h0m-1 4.5h0m-1-3.8h0m-1 1.8h0m15.9 4.4h0m54.8-19.4h0m0 2.7h0m-7.3-1.5h0m-2 2.7h0m-.4-2.4h0m-.8 4.3h0m-1-4.7h0m-1.9 4.1h0m-1.2-.5h0m-1.2-.8h0m-2.4-.8h0m-.5-1.3h0m-2.2 2.9h0m-.6-1.1h0m-1.1 1.2h0m-2 .6h0m-1-.3h0m-2.6 .4h0m-3.1 .5h0m-4.4 2.5h0m2.1-.2h0m1.7 3.3h0m1.2-1.9h0m1.2 1.5h0m1.4 0h0m2.4 .5h0m3.1-1.6h0m1-3h0m1.1 2h0m1-1.3h0m.8 1h0m.9 2.7h0m1.1-1.4h0m2.4-2.3h0m1.1 .1h0m1.1 2.8h0m1.1-3h0m1.2 2.7h0m2.1 1.4h0m2.2-.6h0m2.2-3.3h0m2 1.6h0m2 .6h0m.8-2.7h0m-3 9.8h0m-3.7-1.3h0m-2-2.5h0m-3.1 2.1h0m-.3-.9h0m-2 .7h0m-1.1-2h0m-1 3.4h0m-.9 .2h0m-1.1-4.1h0m-2.4 5.2h0m-1.4-2.3h0m-.5 .3h0m-1.2-2.8h0m-1.2-.1h0m-1.2 .2h0m-1-.8h0m-1.4 4.8h0m-.9-4h0m-1.2 0h0m-.9 .6h0m-.7-1.6h0m-1.3 1.8h0m-2.3-.7h0m-10.9 3.4h0m-1.4-3.6h0m-.7 2h0m-1.7-.7h0m-2.5-1.4h0m3.7 5.3h0m2.3 .3h0m.8 .9h0m.9 1.5h0m1.2-2.9h0m2 3.2h0m1.9 2.3h0m.8-.9h0m1-.5h0m.8-1.3h0m.7-1.6h0m2.7 .9h0m.4 1.7h0m.8-.4h0m.8-1.9h0m1 4.3h0m.9-.6h0m2.1-2h0m3.2 2h0m1.8-1h0m3.3-4.1h0m1 3.3h0m2-.9h0m.9-1h0m2.1 2h0m2.5-2.6h0m.1 .5h0m.5 4.4h0m1-2.7h0m.8 1.6h0m1.8-.5h0m.8-1.1h0m1.1-2.9h0m-6.9 9h0m-3.1-2.6h0m-.8 1.3h0m-1.8 2.5h0m-1.2-1.9h0m-.5-.4h0m-1.2-1.1h0m-.6-.6h0m-1 2.4h0m-1.9 1.9h0m-2.2-1.9h0m-2.2 2.7h0m-.2-1h0m-1.3-1.2h0m-.7 .7h0m-.6 .3h0m-1.9-2.3h0m-3.5-.8h0m-2.4 1.7h0m-1-1.3h0m20.2 6.2h0m-66.3-68.8h0m1.7-1.1h0m2 1.2h0m1.8 .7h0m2.7-3.2h0m1.9 1.7h0m21.4 1.5h0m5.6 4.7h0m-1.3-.8h0m-1.5 .9h0m-1.1 1h0m-.9-1.7h0m-.9-.9h0m-1.6 1.3h0m-3 .9h0m-1.4 .6h0m-.3-2.9h0m-.8 .7h0m-2.2-.9h0m-.3-1.3h0m-.7-.1h0m-2-.4h0m-.7 4.8h0m-.8-5.7h0m-1.7 3.2h0m-1.9 0h0m-1.2 1.3h0m-1.3-2.9h0m-1.3-.8h0m-.3 4.2h0m-.7-.2h0m-.8-4.8h0m-1.2 5.2h0m-.6-.4h0m-.6 .6h0m-1.2-1.4h0m-.3-1.3h0m-1.7 .3h0m-.4 1.3h0m-.7 .2h0m-.3-.5h0m-1.1 .8h0m-1.6-3.3h0m-1.1-1.5h0m-.6 3.3h0m-1-1.4h0m1.1 7.1h0m1.7-.7h0m.8 1.5h0m1.5-1.6h0m1.9 2h0m1.2-2.8h0m.8 .9h0m1.2 1.3h0m3.3 1h0m3.1-2.3h0m1.8 1.7h0m1.6-2.1h0m2.5 2.2h0m.9 .5h0m1 1h0m1-1.4h0m.5 .3h0m1.4 1h0m1.2-3.2h0m.3-1.8h0m2.3 4.5h0m.8-3.8h0m1.2-1.2h0m1.5 1.5h0m1 2.6h0m.5 1.1h0m2-4.7h0m1.1 4.3h0m1.5-2.1h0m1.6-.3h0m1.3 2.2h0m.9-2.6h0m1.4 1h0m1.2-.9h0m.8 0h0m-3 4.8h0m-1.9-.8h0m-1.1 2.4h0m-.9 .8h0m-.3-.1h0m-.2 1.1h0m-.7-.4h0m-1-2.3h0m-.5-.1h0m-2.5 3.5h0m-1.1-1.4h0m-1.5-.7h0m-1.9 1.9h0m-.6 .2h0m-1.9-4.1h0m-.5 2.1h0m-.8-2.4h0m-.3 1.3h0m-.3 1.3h0m-.3-1.2h0m-1.4-1.9h0m-1.3 3.6h0m-.5-1.2h0m-.7 2.2h0m-.8-2.5h0m-.7-.8h0m-1-1.3h0m-.4 .2h0m-1.3 2.2h0m-.8 1.9h0m-.7 1h0m-.7-5.3h0m-1.3 5.2h0m-.1-3.3h0m-2.7-1.5h0m-3.3-.3h0m7.6 7.2h0m2.5-1.4h0m1.2 .2h0m2.6 2.5h0m.8-2.5h0m.6 2.9h0m1.1-1.2h0m2.3 2.4h0m1.9-2.4h0m2-.9h0m2.4-.3h0m3.5-.3h0m19.5-42.7h0m-5 .6h0" stroke="#a8d0ef" stroke-width="2.40" stroke-linecap="round" fill="none"/><path d="M441.1 289.3h0m1.9-1.5h0m1.9-1.9h0m1.6-.7h0m1.8 4.7h0m1.6 0h0m4.5-1.6h0m4.3-.2h0m6.4 0h0m.7-2.1h0m.7 3h0m4.7-.4h0m1.4 1.6h0m3.9 3.7h0m-1.7 .6h0m-.7 1.7h0m-.6-2.4h0m-.8 1.3h0m-.8-.6h0m-.7-3.6h0m-1.4 3.2h0m-1.3 .8h0m-.2-1.4h0m-2.5 .4h0m-.3 .6h0m-13.8 1.8h0m-2.7-5.5h0m-1.8 5.6h0m-.3 0h0m-.5-4h0m-.8 1.5h0m-.5 2.7h0m-.5-.3h0m-1.9-3.7h0m-2 1.1h0m-1 1.4h0m-.1-1.4h0m-1.5 1.6h0m-.3 .5h0m-3 .7h0m4.8 6.1h0m5.5-1.1h0m11.5 1.1h0m3.6-4.5h0m4.3 4.2h0m1.6-5.4h0m2.5 .1h0m.6 1.8h0m1-1.8h0m.8 1.4h0m1.3 2.4h0m.5-.5h0m.2 1.5h0m.8 .6h0m.7-5.3h0m1 2.4h0m3 2.8h0m2.2-.5h0m.6 3.4h0m-.9-2.2h0m-1.6 4.3h0m-1.3-1.9h0m-2.3 .2h0m-.7 .8h0m-2.1 1.2h0m-.3-4.8h0m-.9 1.9h0m-1.4 3.1h0m-.9-2.9h0m-.2 3.5h0m-.5-5.3h0m-.9 4.6h0m-1-3.4h0m-2.3 3.7h0m-2.5-3.6h0m-10 1.2h0m-4 .8h0m-8.8-.1h0m-.5 6.6h0m9.1-.1h0m11.4 1.2h0m7.6-1h0m1-1.6h0m.7 .7h0m.8-2.4h0m1.4 3.4h0m.9-1h0m2.4-2.4h0m2.7 3h0m.9-.5h0m1.2-1.7h0m.6 1.4h0m.1-2.8h0m.5-.3h0m1.4 .5h0m.4 1.6h0m.6 1.4h0m-2.2 3.5h0m-1.1 1.6h0m-.8-2.5h0m-1.7 4.4h0m-1.1 .9h0m-.4-1.2h0m-1-1.4h0m-4.9 2.8h0m-2-3.6h0m-1.2 3.2h0m-2.3-4.8h0m-.7 1.6h0m-.6-2.2h0m-3.7 5.4h0m-9.7-2.7h0m-2.5-1.5h0m-1.6 2.1h0m6.8 7.2h0m3.5-1.8h0m4.4-.9h0m2 .1h0m5 2.8h0m.9-2.5h0m.9 0h0m.8-.3h0m2-1.8h0m.6 .1h0m1.2 1.6h0m.3 1.7h0m1.1-2.6h0m1.3 1.8h0m1.5 .8h0m1.6-.4h0m2.1-2.3h0m-2.5 5.9h0m-1.8 3.5h0m-.6 .1h0m-1 .8h0m-.2-.1h0m-1.5 .3h0m-.6-.9h0m-.6-4.3h0m-.9 5.5h0m-.7-2h0m-2.1-1.3h0m-1.2 .5h0m-.5 .3h0m-8.6 .5h0m-9.7-2.1h0m6.5 6.5h0m5.7-.4h0m5.6 3.3h0m1.3 .8h0m1.2-4.4h0m.5 3.5h0m1.7-.4h0m2.2-2.2h0m.6 0h0m-5.8 4.2h0m-40.1-26.1h0m2.5 .7h0m1.3 .6h0m1.4-.5h0m1-.5h0m1.9 .8h0m1.3 .6h0m5.9-1.9h0m2.2 5.5h0m-6-2.1h0m-2.8 .2h0m-.3-1.5h0m-.7 .2h0m-.5 0h0m-3 1.3h0m-.2 2.6h0m-1.8 1.7h0m-1.1-2.3h0m-1.7-1.8h0m-.3 .9h0m-.3 2.2h0m-.6-4.8h0m-1.2 5.2h0m-2.2-.3h0m-2.3 6.1h0m1.5-3h0m.9 3.8h0m1.9-1.4h0m.4 1h0m.5-4.8h0m.8 3.9h0m.8-3.1h0m.5 1.4h0m1.4 2.6h0m.7-1.9h0m1.3-1.6h0m.5-.2h0m.3 1.6h0m1.2 .4h0m1.4 .7h0m.4-3.4h0m1.1 3.5h0m.3-3h0m.2 .1h0m1.7 2.9h0m2-.3h0m3.8 .5h0m3-.8h0m3.4 .8h0m1.4-.7h0m1.3 7.5h0m-2-1.3h0m-2 1.1h0m-5.5-2.3h0m-1.2-1.7h0m-5.2 3.5h0m-1.3-3.3h0m-2.9 2.5h0m-.6 1.7h0m-.6-5.5h0m-.4 5.3h0m-1.1-2.6h0m-2 1.8h0m-.7 1.1h0m-1.1-1.1h0m-1.5-2.9h0m-.3-.7h0m-.8 3.6h0m-.5-2.8h0m-1.5-.5h0m-.4-1.4h0m-.4 .1h0m.5 5.7h0m2.9 3.4h0m.6 1.3h0m1.8-2.7h0m.6-1.8h0m.9 .6h0m2.3 1.6h0m.4-1.6h0m.8 2.8h0m1.1 .5h0m.6-1.9h0m2.5-2h0m5.8 3.8h0m2.9-2.5h0m1.2 .1h0m2.1 3.7h0m3.6-3.2h0m-5.5 6h0m-.7-2h0m-4.9 4.9h0m-.4-3h0m-3.3 1.6h0m-1.8 1.1h0m-1.3-1.1h0m-1.2-3.5h0m-.4 3.6h0m-1.1-1.2h0m-.5-1.2h0m-.8-1.1h0m-3.2 0h0m9 7.6h0m5.1-1.4h0m-11.9-72.6h0m-8.2-1h0m-12.9 6.5h0m8.4 .6h0m7.3-2.7h0m2.5-3h0m1.4 3.7h0m1.3-3.5h0m2.2 9.7h0m-1.1-2.9h0m-.6 1h0m-.7 1.9h0m-3.4-2.1h0m-17.3-1.3h0m-6.2 2.4h0m7.2 3h0m14.2 2.9h0m4.8 2.8h0m2.1-3.3h0m1-.4h0m3 7.3h0m-2.4-1.3h0m-1.9 1.5h0m-.8-.6h0m-2.9 2.4h0m-2.1-.4h0m-5-1.3h0m-14.3-2.7h0m-5.6 1.3h0m.5 6.3h0m7.8 2.9h0m5.2-4.7h0m6.1 3.5h0m3.3 1.1h0m5.4-1.8h0m1.5-1.7h0m1.5-.6h0m.9-.9h0m.1 6.6h0m-23.5 22.5h0m3.3-1.3h0m8.5 2h0m-2 5.3h0m-8.7-.2h0m-13.9 0h0m2.8 6h0m3.1-3h0m6.1 0h0m5.2-1.7h0m5.9 2.8h0m4.3-1.3h0m4.6 5.3h0m-5.8 2.5h0m-8.8-.8h0m-9.2-1h0m-7.8 1.7h0m-3.3 0h0m1.2 3.5h0m12.3 0h0m5.9 3h0m11.1-2.9h0m-2.7 5.5h0m-6.4 4h0m-10-1.4h0m70.5-12.9h0m-1 1.7h0m-1.9-3.7h0m-2 3.4h0m-2-.7h0m-1.3-.6h0m-.2 0h0m-.5-1.7h0m-.7 4.6h0m-.8 0h0m-4.6-.5h0m-3-3.5h0m-6.4 2.8h0m-15 5.4h0m2.4-3.5h0m1.5 4.5h0m2.6-3.8h0m1.4 2.7h0m1.5-.2h0m5.5-.7h0m2.4-.5h0m1.8-1.4h0m2.1 1.3h0m4.5 1.8h0m3.4-.7h0m3.3-.3h0m1 2h0m1.7-2.4h0m1 .8h0m.4-2.5h0m.7 1.9h0m1.7 1.9h0m1.7-1.8h0m-2.4 3.6h0m-2.4-.2h0m-1.8 .9h0m-1.6-.8h0m-1.5 .9h0m-2.3 1.7h0m-2.9-2.3h0m-6.4 4.3h0m-2.3-3.3h0m-5.5 3h0m-3.9-4.1h0m-3.1 2.5h0m-12.7-.9h0m-3.8-1.6h0m.5 7.1h0m5.3 4.3h0m3.8-4.6h0m8.8 2.9h0m2.4 .4h0m3.4-4.6h0m5.2 4.3h0m1-3.8h0m5.7 1.2h0m4.4 3.2h0m1.2-4.9h0m.9 5.9h0m.4-4.9h0m1.9-1h0m-5.3 6.8h0m-4 2.5h0m-4.5 1.6h0m-2.2-2.8h0m-12.3-1.1h0m-5.8 0h0m-38.4-62.4h0m31.9 5.7h0m-14.9-1.3h0m-15.4 2.5h0m-8.1-1.3h0m1 2.6h0m4 .2h0m18.1 3.9h0m10.4-.8h0m0 5.4h0m-10.2 .4h0m-8.2-3.5h0m7.2 8h0m22.6-44.5h0m2.5-.3h0m1.2-.3h0m.9-4.8h0m1.5 1.2h0m1.7 1.9h0m1-2.5h0m1.9 3.2h0m-.4 2h0m-7.3 .5h0" stroke="#d3d3d3" stroke-width="2.40" stroke-linecap="round" fill="none"/><path d="M459 282.9h0m-5.3 1.5h0m-11.1 4.3h0m3 .5h0m4.1-4.1h0m.5 1.7h0m.7 1.2h0m1.3-3.1h0m.9 .7h0m.2 .5h0m1.3-1.5h0m.9 5.5h0m.5-3.2h0m1.2-.1h0m1.5 1.5h0m1.2 .5h0m.6 .8h0m1.7-1.1h0m2.8-1.9h0m3.2 1.8h0m6.4 4.4h0m-4.8-1.1h0m-4.8 2h0m-1.4 .9h0m-3.3 .6h0m-1.1-3.8h0m-.7 3h0m-.3-.5h0m-1.3-1.4h0m-1 .1h0m-1.2 1h0m-.7-2.5h0m-.8 5h0m-.6-4.3h0m-1.5 3.2h0m-.5-3.4h0m-.8 4.7h0m-3.4-1.7h0m-1.5 1.3h0m-.7-.8h0m-2.8 .6h0m-2.9-.6h0m-2.7 4.9h0m.5 1.7h0m1.5-.3h0m.6-1h0m2.8 .2h0m.7 0h0m1.1-2.9h0m.7 4.1h0m1.3-1.8h0m.3-.5h0m1.2-1.9h0m.4 4.2h0m2.1-3.5h0m2 .5h0m.4 3.5h0m.7-1.1h0m1.8-3.9h0m1.6-.6h0m.2 5.7h0m2.4-4.8h0m.1 .6h0m.8 1.2h0m2.2-2.1h0m.5 3.1h0m1.9 1.2h0m.6-4.8h0m.4 3.5h0m.1-2.6h0m2.5 .6h0m3.3 1.9h0m1.7 .3h0m6.5-1.2h0m-7.9 8h0m-4.8-3.2h0m-1.7 2.5h0m-1.2-.8h0m-1-2.7h0m-.6 .3h0m-.5 .3h0m-1.1 .2h0m-.7 2.7h0m-.5-1.6h0m-1.7 2.7h0m-.6-4h0m-2.6 1.4h0m-.6-2.3h0m-1.6 3.3h0m-1.7-.6h0m-.8 .3h0m-.4 2.1h0m-.8-.6h0m-.6-1.5h0m-1.5-1.8h0m-.5 3.8h0m-.9-.8h0m-.8-2.9h0m-1.5 2.1h0m-1.3-2h0m-1.4 3.5h0m-.8 .9h0m-1.5-1.1h0m-1.5-2.2h0m-.9 3.3h0m2.5 1.3h0m1.2 2h0m1.3 1.7h0m.8-4.8h0m1.6 5.6h0m1.9-1.2h0m.4-3.5h0m1.6 3.1h0m1.3-.7h0m3-3.1h0m2.2 1.6h0m1.2-.1h0m.9 1.3h0m1-2.3h0m.6 .5h0m.8 1.9h0m1.2 2.3h0m1.1-.4h0m1.7-2.2h0m.6 2.2h0m1.4-4.1h0m.6 2.1h0m1-2.6h0m.7 .1h0m6.7 3.3h0m5.7-2h0m1.1 8.8h0m-2.3-3.9h0m-8.4 2.5h0m-3.2 2.3h0m-1.2-3.9h0m-1.4 1.1h0m-1.8 1.5h0m-.9-2.9h0m-1.4 3.3h0m-.7-4h0m-1.6 1.8h0m-.9 2.5h0m-1.6-3.6h0m-1-.6h0m-1.6 2.4h0m-1-2.6h0m-1 .5h0m-1 1.2h0m-2.3 1.2h0m-.8-.8h0m-.7-.9h0m-.6 .8h0m-3.5-2.6h0m6.1 6.4h0m1.9 3.4h0m1-2.5h0m1.6 3.7h0m1.1-3.6h0m.3-1.4h0m1.9 1.5h0m1 3.6h0m2-4.2h0m3.8 3.6h0m3.2-.4h0m.3-2h0m7.5 .3h0m4.4 8.6h0m-1.4-2.1h0m-7.1-1.2h0m-2.2 3.7h0m-.4-5.3h0m-1.5 5.1h0m-.9-.5h0m-1.3-2.8h0m-.4 1.6h0m-.3-2.6h0m-1.5-.9h0m-2.1 3.6h0m-.6-3.5h0m-1.4 2h0m-2.4-.7h0m-1.2 4.2h0m-.9-4.6h0m-1-.9h0m-3.7 1.9h0m4.3 6.9h0m1.5-1.2h0m1.6 2.6h0m1.6-2.2h0m.4-2.2h0m.9 5.9h0m.1-5.7h0m1.8 4.8h0m.8-1.4h0m1.5 1.8h0m1.6-3h0m1.5 1.3h0m1.9 1.4h0m5.7-1.7h0m3.5-3.1h0m-12.9 6.8h0m-3.5 .2h0m-1.2 .1h0m-2.9 .2h0m-21.5-26.7h0m4.1-.6h0m1.6-.6h0m1.6 .4h0m1.5-1.3h0m1.8 1.2h0m5 6.4h0m-.8-1.8h0m-.9 1.1h0m-1.4-2h0m-1.3 1.9h0m-1.5 .2h0m-1.5 1.6h0m-1.4-4.1h0m-.3 .1h0m-1.3-.2h0m-1.2 3.1h0m-7.9 1.7h0m-9.3 1.3h0m8.3 2.6h0m10.5 1.5h0m1.9-5.1h0m3.4 1.1h0m1.9-.1h0m1.4 .5h0m2.8-1.4h0m3.1 5.2h0m.9 1.3h0m-.8 3.2h0m-3.8-2.1h0m-.7 1.7h0m-1.9 .7h0m-2.5-1h0m-2.6 2.1h0m-1.8-4.1h0m-2.3 3.3h0m-2.7-3.3h0m-3.4 6.7h0m6.8 3.4h0m.8-1.3h0m1.2-2.3h0m.5-.2h0m1.7 1.5h0m1-2.2h0m.4 2.4h0m1.2 1.8h0m.2 .6h0m1.5-5.6h0m2.7 3.1h0m1.3-2.2h0m2.7-.8h0m-5 7.3h0m-3.9-.4h0m-1.3 2.3h0m-3.2-1.5h0m-.9 3h0m-1.2-.3h0m.2 3.2h0m1.6 1.6h0m-13.3-76.7h0m-3 1.2h0m-4.8-.7h0m-13.3 5.6h0m2.2 .9h0m2.5-1.1h0m1.7 .3h0m1.5-4h0m1.1 4.7h0m1.5-3.6h0m1 .9h0m.6-.7h0m.2-1.7h0m2 2.8h0m1.4 .2h0m1.2 1.3h0m1.5-3.3h0m1.2 0h0m1.2 4.3h0m1.6-.4h0m1-2h0m.3 8.2h0m-2-1.4h0m-1-.4h0m-2.9-.8h0m-.6-2.1h0m-.6 3.2h0m-.9 0h0m-.4-2.5h0m-.2 1.9h0m-1.6-.2h0m-.6-2h0m-1 1h0m-.4 1.4h0m-.6 1.1h0m-.5-4.5h0m-.5 .2h0m-.8 3h0m-1.4-2.8h0m-.8 .9h0m-1.1 2.1h0m-1.6 2.2h0m-.6-1.1h0m-.9 1h0m-.9-5.9h0m-.8 .6h0m-2.1 4h0m-2.3-1.7h0m-2.1 1.9h0m-.8-1.1h0m-.1 5.8h0m.8-3.4h0m1 4.4h0m.4-1.7h0m1.8 2.8h0m1.8-.5h0m.9-4.9h0m1.2 2.3h0m1.8 .8h0m1.5-2.9h0m.3 2.2h0m.9-1.7h0m1 1.2h0m.6 2.4h0m1.2-1.5h0m.7 .9h0m1.3-3.5h0m1 3.4h0m.9-3.3h0m1.3-.1h0m1 3h0m.9-2.9h0m.8 5.4h0m.6-2.8h0m.3 1.8h0m1.3-2.8h0m.5 2.7h0m1.3 .5h0m.1-3.6h0m.2 2.9h0m.7 .8h0m3.8-.7h0m-4.4 5.4h0m-.2-3.4h0m-1.8-.4h0m-.5 5.2h0m-1-2h0m-1.5-2.7h0m-.5 4.2h0m-1-2.1h0m-2.5 0h0m-1.6-1.6h0m-.7-.6h0m-1.4 3.3h0m-.6-1.4h0m-1.3-2.1h0m-2.9 4.9h0m-1.3-4.5h0m-.8 1.3h0m-2-1.3h0m-.6-.9h0m-.6 4.2h0m-2.3 1.5h0m-2.5 0h0m-1.1-3h0m.2 5.5h0m1.1-.9h0m.8 1.8h0m1.9 .1h0m1.9-1.1h0m.7 .9h0m.6-1.8h0m.8 1.5h0m1.2 2.1h0m.7 1h0m1.5-2.9h0m2-.1h0m3 .5h0m1.1-1.2h0m.4 .2h0m.8-.6h0m.9 4.3h0m.8-1.4h0m.4-3.5h0m1.4 2.6h0m1.8-.5h0m1.4 1.3h0m2.2-2.4h0m1.2 .9h0m2.1 5.3h0m-2.6-2.3h0m-.6 1h0m-2.1 .2h0m-5.9 1.6h0m-.6-.5h0m-.6 .8h0m-2.8-2h0m-2.4 2.2h0m-13.4 20.4h0m2.1-4.3h0m3.1 .9h0m1.2 1.9h0m.7-1.3h0m2.7 1.5h0m.9-3.3h0m1.7 1.5h0m.7 1.3h0m3.1-.5h0m5.3 2.4h0m3.6 1.5h0m-2.3 4.6h0m-3.6-3h0m-1.4 .9h0m-1.6 1.9h0m-.7-1.4h0m-1-3.9h0m-1.6 4.6h0m-1.2-4.9h0m-.9 4.5h0m-2.6-4.3h0m-1 .6h0m-2 1.4h0m-1.7 2.7h0m-1-3.3h0m-1.3 3.7h0m-.6-2h0m-.9 1.1h0m-.8-1.5h0m-2.7 .7h0m-5.4 6h0m3.3 0h0m2-3.1h0m1 5.2h0m1.2-.7h0m.8 .8h0m1-.4h0m1.5-1h0m.7-1.4h0m.8-.9h0m1.6 1.6h0m1.2-1h0m.5-.3h0m1.1 2.7h0m.9-4.3h0m.4 2.9h0m.9-2.1h0m.6 1h0m1.3 .7h0m1.5-.5h0m.9-1.2h0m1.2-1.5h0m1.6 1.8h0m.8 3.5h0m1.5-1.7h0m2.8 1.5h0m.3-2.7h0m.8 1h0m1.4 .6h0m1.3-3.8h0m1.2 4.6h0m2.1-2.8h0m4.5 8.6h0m-3-3.5h0m-.4 1.7h0m-2.1-2h0m-1.3 1.5h0m-1.9-2.4h0m-.2 5.3h0m-.6-4.9h0m-.8 0h0m-1.3 5h0m-.1-4.1h0m-1 4.3h0m-.9 .3h0m-.8-1.7h0m-2.8 .9h0m-1-1.3h0m-.9-3.9h0m-.8 2.2h0m-.7-1.5h0m-1.6 0h0m-1.6 .3h0m-1.5 2h0m-.8-1.3h0m-1 1h0m-1.4-.4h0m-1.4 1.4h0m-.7 1.1h0m-.8 0h0m-1.1-3.1h0m-.4-.2h0m-1 3.5h0m-.8-2.7h0m-.5 2.2h0m-1.4-.1h0m-.5-3.1h0m-1.3 1.5h0m-.7-2.5h0m-1 1.9h0m1.9 7h0m2.3 1.5h0m1-2.8h0m.6-1.7h0m1 .1h0m1.1 2.9h0m1.1 1.5h0m.8-.8h0m1.5 0h0m.4 .4h0m.3-.6h0m.6-3.3h0m.9 4.8h0m.4-3.7h0m.3-1.5h0m.6 5.5h0m.4 .3h0m1.1-5.7h0m1.2-.1h0m1.4 4.1h0m.3 .5h0m.5-3.4h0m.7-.6h0m.4-.3h0m.2 2.8h0m1.3 1.9h0m.9-4h0m1.5 .8h0m1.1-1.7h0m1.6 1.1h0m2.3 .4h0m.4-.6h0m.8 3.7h0m1.1-4.7h0m.8 5.1h0m1.2-1h0m.8 .4h0m.3-3.4h0m1.6 4.6h0m.4-3.9h0m.6-1.6h0m-1.6 8.9h0m-4.3-.3h0m-.7-2.5h0m-.9 3.2h0m-1.3 1.2h0m-1-3.2h0m-.4 4.1h0m-1-5.5h0m-1.1 4.2h0m-2.2-3.2h0m-.9 4.5h0m-1.4-4.9h0m-.7 1.1h0m-1.2 .4h0m-1.1-.5h0m-2.2 2.3h0m-1.1-3.8h0m-1.1 .4h0m-2 1.2h0m-.4-1.7h0m-.9 1.2h0m-2.5-.9h0m58.4-13.5h0m17.1 3h0m-4.8 2.7h0m-6.6 .6h0m-1.3-.9h0m-.4-1.2h0m-1.4 1.6h0m-1.3-.7h0m-1.1-.1h0m-1.6-1.2h0m-1.7 1.8h0m-1.5 1h0m-.7-3.6h0m-1.9 .9h0m-.6 1.3h0m-1.3-.7h0m-1.8 .5h0m-1.2 1.7h0m-4.3-.8h0m-6.8 1.2h0m2.1 2.8h0m1.7 1.7h0m2.2-2.6h0m.9 3.7h0m1.2-.6h0m1.6-4.3h0m2.7 1.7h0m2.1 .9h0m1.2-1.6h0m1.1 .7h0m.9 1.4h0m.7-.4h0m.9-2.3h0m2.5 1.1h0m1.2-.1h0m1.4 .6h0m1.2 2h0m1.2-.2h0m.9-1.5h0m1.8-2.3h0m4-.2h0m.8 1.9h0m1.9-.6h0m1.7 .4h0m2.9-1.9h0m-6.4 8.5h0m-3-1.7h0m-3 .3h0m-1.7 3.9h0m-1.4-1.4h0m-1.5-3.9h0m-.6 2.4h0m-.9 1.7h0m-1.4-2.4h0m-2.7-1.7h0m-.5 4h0m-1.2-3.2h0m-.8 2h0m-1.3 .8h0m-.8-.6h0m-1.9-2.5h0m-1.4 3.2h0m-.3-2.2h0m-1.5-.7h0m-.6 2.7h0m-1.1-2.1h0m-.6 3.8h0m-1.9-.4h0m-11.7-1h0m-1.1-1.8h0m-1.2 1.7h0m-1.4-1.5h0m-.9-.8h0m.5 4.9h0m2.2 .7h0m.9-.7h0m.8 4.7h0m1.8-3.2h0m.5 3.7h0m1.8-1.8h0m1.9-1h0m.8 .3h0m.9 2.5h0m1-2.3h0m1.1-.4h0m2.3-.6h0m.4-.9h0m1.1 1.8h0m.6 .5h0m1 .4h0m1.2-1.6h0m3.9-.1h0m1.6 2.1h0m1.3-4.1h0m3.4 1h0m1 .8h0m1.9-1.5h0m1.5 .1h0m3.4 .9h0m.3-.9h0m.2 2.4h0m.6-1.5h0m1.1 .2h0m1.9 3.3h0m.7-2h0m1.1 1.3h0m-3.8 1.8h0m-3.8 3.1h0m-1.9-2.8h0m-1.1 3.8h0m-1.9-.6h0m-.9 2.2h0m-.4-5.5h0m-1.4 5.5h0m-.9-2.9h0m-.8-1.4h0m-1.8 1.6h0m-2.5-1.9h0m-1.7-1.1h0m-.5 2h0m-1.2-2.2h0m-.7 .3h0m-.7 .9h0m-2.1 3.8h0m-4.9-2.7h0m-.8-2h0m15.1 7.5h0m-63-68.7h0m1.7 .4h0m1.4-.3h0m2.7 .3h0m1.1-.2h0m2.5-2.3h0m8 2.9h0m25 4.5h0m-5.1 1h0m-.5-.3h0m-1.7 0h0m-.8-.3h0m-.9-1h0m-1.7 1.6h0m-3.3-4.5h0m-.9 2.6h0m-1.1-2.4h0m-.2 .8h0m-2.4 1.1h0m-.6-1h0m-.3 2.3h0m-1.3-.9h0m-1.5 .5h0m-1-1.8h0m-1.5 2.3h0m-1.4 1.4h0m-1.8-5.6h0m-.6 4.1h0m-1.6-2.4h0m-1-.6h0m-.3-.1h0m-.8-.7h0m-1.1 5.4h0m-.9-2.3h0m-.8 1.4h0m-.3-.7h0m-1.2-4.1h0m-.7 5.2h0m-1.4-5h0m-.6 1.8h0m-.4-1h0m-.2 .9h0m-1.5-1.9h0m-1.3 .7h0m-1.2 2.5h0m-1.1-.5h0m-.6 2.1h0m1.9 4.2h0m1.4-2.7h0m1.4 1.4h0m1.3-.3h0m1.5 .2h0m1.4-1.8h0m.6 3.3h0m2.4 .2h0m2.4-2.1h0m2.8 .6h0m2.7 .6h0m1.1 .8h0m2.5 2.4h0m.6-3.4h0m1.1-1.8h0m.7 1.3h0m.8 .3h0m1.1-.3h0m1.2-1.2h0m2.3 0h0m.8 4.7h0m.5-1.4h0m1.2-3.3h0m1.5 .7h0m.8 4.3h0m1.1-5.2h0m2 4.9h0m1-1.7h0m1.5-.4h0m1.4 1.7h0m1-1.8h0m1.5-3.2h0m.9 4.2h0m1.6-3.5h0m1.1 1.3h0m-4.1 4.2h0m-2 1.5h0m-1.3 .4h0m-.4 .6h0m-.4 3h0m-.2-3.1h0m-.6-2.2h0m-1.1 3.8h0m-.9-2.6h0m-2.9 1.7h0m-1-2.4h0m-.9 1.3h0m-1.9 .8h0m-.5-.9h0m-2 3h0m-.5-4.5h0m-.7 1.9h0m-.3-2.1h0m-.3 3h0m-.4-.4h0m-2.2 .4h0m-.4 1h0m-.5-3.6h0m-.7 1.3h0m-1.1-1.5h0m-.7 4.4h0m-.6-1.7h0m-1 2.2h0m-.9-3.1h0m-.8-2h0m-.5 2.6h0m-.7-2.1h0m-1.3 4.7h0m-1.3-5.5h0m-2.2 1.8h0m-3.4-1.7h0m9.3 9.9h0m2.2-2.3h0m.8-1h0m2.5 1.3h0m.8 .5h0m.7 1.3h0m2.3 .1h0m1.5-3.2h0m2.3 .1h0m2.6 1.8h0m1-.5h0m3.5-1.8h0m23.5-47.3h0" stroke="#a8d0ef" stroke-width="2.40" stroke-linecap="round" fill="none"/><path d="M442.5 286.4h0m.8 3.1h0m2-1.6h0m1.2-2.2h0m2.5 1.7h0m1.5 .4h0m4 .2h0m4.5-.2h0m6.6 1.9h0m.6-4.1h0m.9 4.8h0m4.7-.9h0m4.9 5.3h0m-1.7-3.3h0m-.5 .5h0m-.7-.5h0m-.7 4.9h0m-.6-.6h0m-1.1-3.9h0m-.9 .6h0m-.8 1.5h0m-1.2-.4h0m-1.8 .9h0m-1-.3h0m-5.2 2.3h0m-11.3-3.4h0m-1.3-1.2h0m-1 4.2h0m-.3-4.6h0m-.4 2.9h0m-.6-.5h0m-.6-.6h0m-1 .3h0m-1.9-.3h0m-1.4 1h0m-1-.5h0m-.2-1.2h0m-1.5-1.2h0m-.9 4.8h0m-.1 6.1h0m4.1-4.4h0m12.9 4.4h0m2.9-3.2h0m4.6-1.5h0m3.3 1.5h0m1.6 1.6h0m2.5-2.9h0m.6 3.9h0m.9-4.5h0m.6-.5h0m1.4 5h0m.4-1.9h0m.4-.4h0m.6-.5h0m.9 2.2h0m1.3-3.2h0m3.6 3.8h0m3.1 3.8h0m-1.4 .4h0m-1.4-.6h0m-1.6 .4h0m-1.7-1.8h0m-1.6 1.6h0m-1.3-2.6h0m-1.5-.2h0m-.2 2.4h0m-1.5 3.3h0m-1.3-2.4h0m-.4-.5h0m-.4 3.1h0m-.4-3h0m-.7-1.6h0m-1.2-1h0m-3.8 .9h0m-3.3 1.1h0m-8.5 .1h0m-3.5 0h0m-8.8-1.9h0m1.4 9.9h0m7.7 0h0m11.8-3.9h0m7.5 .3h0m1.2 3.5h0m.6-4.1h0m.8 3.9h0m1.1-.7h0m2.4-2.2h0m2.8 3.8h0m1.1-2.4h0m.7 3.1h0m1.2-3.1h0m.4 .7h0m.3-3.4h0m1.7 1.9h0m.3 1.9h0m.1-.6h0m.8-2.8h0m-2.5 6.5h0m-1.5 1.6h0m-.9 1.8h0m-1.6-1.5h0m-.6 2.5h0m-.8-4.9h0m-2.5 2.3h0m-3.2 1.7h0m-2.4-2.8h0m-.6 3.7h0m-2.5-.5h0m-.6 1h0m-1.2-3.8h0m-4.4 .9h0m-8.8 .9h0m-2.3-2.1h0m-1.4 .8h0m9.4 4.7h0m1.2 .4h0m4.3 .7h0m2.1-.7h0m4.9 2.1h0m1.2 .5h0m.5-2.6h0m1.5-1.1h0m1.4 .1h0m1.1 3.8h0m.6 .1h0m.5-1.4h0m1.5-2.5h0m1.6 1.9h0m1-.6h0m1.9 .9h0m.3 3.9h0m-2.1 1.5h0m-1.1 2h0m-1.1-3.9h0m-.6 4.5h0m-.6-2.7h0m-1.2 1.3h0m-.7-1.1h0m-.9 2.9h0m-.5-3.9h0m-1.6 2.7h0m-1 .7h0m-1.2-3.1h0m-1 2.9h0m-10.2-3.6h0m-2.9 8.4h0m1.8-.1h0m8.9-1.5h0m3.3 3.7h0m.9-.7h0m.8-2.2h0m1.3 1.2h0m1.2-3h0m1.8 1.4h0m.9-.8h0m-6.1 5.1h0m-39.8-27.7h0m2.3-.1h0m1.2 .3h0m1.8 .3h0m.8-1.6h0m2.6 4.2h0m.5-.3h0m8.3 .4h0m-.4 1.2h0m-6-.7h0m-2.8 3h0m-.6-.4h0m-.6-2h0m-1.6 4.3h0m-1.7-1.9h0m-.8-2h0m-1.5-.7h0m-1 3.6h0m-1.5-2.1h0m-.2 2h0m-.4-1.3h0m-.5 .9h0m-2.4-2.5h0m-1.2 3.5h0m-1.1 1.4h0m.6 5.3h0m1.7-2.1h0m1 .4h0m.6 .9h0m.4-4.4h0m.7 5.4h0m1-.4h0m.7-5.2h0m1.1 3.3h0m1.3-.6h0m.8-2.5h0m.4 4.1h0m.7-4.1h0m1.5 .7h0m.7 4.6h0m.3-2.2h0m1.2-1.4h0m.3 .8h0m.2-1.4h0m2.4 4.2h0m2.6-4h0m3 3h0m3.8-.6h0m2.5-2.6h0m3 7.9h0m-1.5 1.6h0m-1.6 .1h0m-4 0h0m-3.5-3.9h0m-2.1 2.8h0m-4.3-2.5h0m-3.5 1.7h0m-.6 2.2h0m-.4-4.8h0m-.7 3h0m-1-2.6h0m-.8 4.9h0m-1.7-4.7h0m-1.5 2.7h0m-.5 1.6h0m-1.3-.6h0m-.3-2.2h0m-.9-1.2h0m-.8-.8h0m-1.1 .4h0m-.5 0h0m-.2 1.3h0m1.4 4.8h0m2.4 3h0m1.2 1.5h0m1-2.5h0m.4 2.4h0m1.2-4.3h0m2.2 2.4h0m.7-2.3h0m.7 3.2h0m.9-2.4h0m2-1h0m2.8 3.7h0m5 .4h0m1.9-1h0m1.2 .3h0m3.2-.1h0m4-3.2h0m-7.3 9.2h0m-3.6-1h0m-1.9 1.3h0m-1.8-4.4h0m-3 4.7h0m-.9 .1h0m-1.7 .8h0m-.7-3.9h0m-.6-.5h0m-1 2.4h0m-.3-1h0m-2.4-2.2h0m5.9 7h0m2.8-1.5h0m-7.6-72.7h0m-.8-1.4h0m-10.1 1.7h0m-7.3 3.4h0m10.6-1.5h0m2.7-.5h0m2.5 .5h0m.8 3.3h0m1.6-.6h0m1.2 4.1h0m-.8-.8h0m-.6 4.2h0m-1.1-3h0m-11 .9h0m-10.9-3.5h0m-8.6 11.6h0m12.6-.4h0m14.6-3.2h0m3.7 2.4h0m1.9-1.6h0m.8 2.5h0m1.1 3.7h0m-.8 .9h0m-1.9 .6h0m-2 .3h0m-3.4-2.5h0m-2.4-2h0m-6 1h0m-11.9 1h0m-5.5 3h0m5.3 2.4h0m6.4 3h0m6-.2h0m2.6-2.1h0m4.3 .5h0m4.4 .5h0m1.7-.9h0m1.4-.6h0m.9-1.5h0m-2.4 6.6h0m-20 21.4h0m3.4-1.9h0m6.8 5.5h0m-3.2 .3h0m-8.4-.2h0m-16 6.4h0m6.9 .4h0m4.7 2.5h0m7.5-1h0m2-3.5h0m6.2 1.8h0m11.3 8.4h0m-5.2-3.4h0m-6.9 .6h0m-6.5 1.3h0m-10.4 1.3h0m-7.7-.8h0m-1.8-2h0m6 6.8h0m8.2-.5h0m15.1-.6h0m4.8 2.5h0m-6 5.4h0m-8.4 1.3h0m-16.8-5h0m79.1-7.4h0m-1.3 .8h0m-2.5-.5h0m-1.8-1.5h0m-1.2 1.4h0m-1.3 .9h0m-.1-.2h0m-.5-2.1h0m-.6 0h0m-1.2 1h0m-4.3-3.2h0m-8.2 4.3h0m-7.2-.9h0m-8 6.6h0m1.7-1.9h0m3.2-2.8h0m.7 .7h0m2.1 1.5h0m1.4-2h0m4.9 1h0m3.1-.6h0m2.6-.7h0m2.8 4.4h0m2.7-3.4h0m4 3.8h0m2.7-2.3h0m.9-3.1h0m1.9 5.2h0m.6-3.8h0m.8-.8h0m1.1-.2h0m1 4.6h0m-.6 1.5h0m-1.8 3.8h0m-1.4-2.2h0m-1.7 3.5h0m-1.9-2.5h0m-2-1.8h0m-2 .1h0m-2.8 .4h0m-6.4 3.4h0m-2.7-5.2h0m-6-.1h0m-2.5 4h0m-5 1.8h0m-13.2-1.6h0m-2-2.7h0m3.2 7h0m4-.1h0m5.4 1.6h0m7.6-2.1h0m3.3 1.7h0m2.6-.8h0m4.3 1.4h0m.9-.1h0m8.7 .2h0m2-.3h0m1.1-.8h0m.5-2.6h0m.9 2.8h0m1.7-1h0m-7.9 3.8h0m-2.7 4.1h0m-5.2 1h0m-1.7-1h0m-12.4-.6h0m-10.5-2.8h0m-31.3-61.8h0m19.4 4.3h0m-5 1.3h0m-17.2-2.7h0m-8.9 1.4h0m6.4 4.5h0m12.5-.4h0m10.5-1.5h0m11.1 7.3h0m-6.4 4.2h0m-10.5-1.1h0m-7.6-3.7h0m16.6 7.7h0m17-45.5h0m2.3 .6h0m1.5 .2h0m.9-3.4h0m1-.9h0m1.6 3.7h0m1.9-3.5h0m2.1 2.3h0m-7.1 4.9h0m-3.4-.9h0" stroke="#d3d3d3" stroke-width="2.40" stroke-linecap="round" fill="none"/><path d="M446.5 330.9h0m-10.5-16.8h0m17.7 20.6h0m-18-16.9h0m.9 11.9h0m10.8-20.3h0m4.1 29.4h0m-10.3-34.9h0m-3.1 25.1h0m12.5-20.1h0m-12.2 26.8h0m10.1-3.5h0m-12.5-24.1h0m10.1 3.5h0m-5.2 14.6h0m2-16.8h0m1.6 .7h0m1.2 15.1h0m-7.3-8.3h0m2.4-10.3h0m13.6 24.5h0m-12.1-1.6h0m-6.2-17.8h0m15.1 6.7h0m-9.9 13.2h0m3.6-14.3h0m.3 23.2h0m-8.9-26.9h0m6.8 21.8h0m4.3-12.5h0m-6.7-5.5h0m.8 21.2h0m7.1-13.1h0m3.9-13.7h0m-15.3 10.3h0m6.3-8.9h0m6.6 22h0m3.4-.4h0m-16.2-8.4h0m-2.3-18.1h0m4.4 12.7h0m9.8-14h0m-4.2 11.2h0m-1.8-12h0m1.8 33h0m-2.8-12.7h0m-4.9-19.7h0m-1.8 3.2h0m-.4 9.3h0m2.5-14.2h0m5.7 35.7h0m.8-19.9h0m-1.3-5.4h0m-2.5 0h0m1.4-1.2h0m9.5-3.5h0m-6.5 18.1h0m.9-8.8h0m3.7 8.4h0m-6.4 7.7h0m-4.9-29.1h0m-1.6 6.8h0m6.7 4.8h0m.8-4.4h0m8.4 5.4h0m-1.9 17.8h0m-10.6 1h0m0-13h0m8.6 9.1h0m1 8.1h0m2.7-21h0m-12.4-5.8h0m7.7 5.8h0m-4.6 21.6h0m-.6-10.6h0m-1.4-12.7h0m3.2 22.7h0m-7.1-32.9h0m4.2-.5h0m6.3 4.7h0m-4.4 18.1h0m3.4-2h0m-6.9 1.3h0m12.2-13.2h0m-2-8.3h0m-4.7 10.2h0m-4.9 1.8h0m4 17.4h0m.5 1.6h0m2.3-29.7h0m-1.4 2.4h0m-7.4-2.3h0m5 2.9h0m7 15.6h0m-5.4-2.3h0m-5.6-17.8h0m-1.2 12h0m5.7-10.2h0m-1.4 23.6h0m7-15.2h0m-8-11.8h0m6.8 5.4h0m-2.3 5.2h0m-2.8 11.5h0m-5.4-17.6h0m14.9 27.2h0m-7.7-33.6h0m-3.2 13.7h0m4.2-14.6h0m3 33.4h0m-6.2-16.3h0m-5.5-16.2h0m5.8 25.2h0m8.7-.3h0m-3.4-9.5h0m-14-1.7h0m7.4-6.2h0m1.3 17.4h0m2.1-12h0m-2.9-12.6h0m-3.3 18.6h0m-4.2-14.6h0m8.4 21.5h0m6.1-7.1h0m-4.2 10.1h0m-9.4-29.6h0m12.1 36.1h0m4.7-.9h0m-8.9-.6h0m-1.6-26.8h0m-1.8 17.9h0m-2.6-10.6h0m.9 3.6h0m5 9.6h0m-1.3-.7h0m-5.4-8.4h0m2.8-7.6h0m12.7 21.9h0m-1.9-30.2h0m.8 13.1h0m-7.3 10.2h0m.3-28.3h0m6.3 18.4h0m-5.2 22.2h0m.7-29.2h0m-3.9 18.7h0m-7.6-20.1h0m7.9-.7h0m3.6-.1h0m-6.1 21.9h0m6.5 10.7h0m1.8-34.5h0m-2.7 28.5h0m5.8-27.2h0m-16.4 2h0m4.2 1.9h0m12.2 1.5h0m-.5-.1h0m-7 10.5h0m8.7 2.4h0m-1.8-22.5h0m-6.8 5.6h0m-2.5 .7h0m5.1-1.8h0m6.3 22h0m-8.8-14.2h0m5.3 7.1h0m-.7 6.8h0m-10.3-25.5h0m13.7 14.7h0m-50.2-10.6h0m-.5 4.2h0m3.5 5h0m.5 5h0m-6 4.7h0m-1 3.3h0m-1 3.5h0m3 3.5h0m4 4h0m3.5 3h0m4.5 1h0m3 1h0m3 0h0m-10-8h0m3-3h0m1.8-4h0m-2.8-4h0m3-7h0m4-3h0m1.5-4h0m-4.5-4h0m-3.7-3h0m4.2-4.3h0m6-1.7h0m3-2h0m-6-1h0m8.5 10h0m-8-39h0m8 0h0m-8.5 4.4h0m-4.8 3.6h0m-.1 6.6h0m7.4 .4h0m5.2 0h0m3.2-2.6h0m7.5-4.6h0m2.5-1.3h0m6.6 8.5h0m-4.7 3.5h0m-8.3 5.5h0m6 .2h0m10 1.3h0m5-.2h0m1 3.7h0m4.5 9.2h0m1.2 5.1h0m3 2.2h0m4.5 .7h0m-1.2 7.5h0m-6 3.3h0m5.5 6.5h0m-3.2 7.1h0m4.7 2.4h0m-11.5 4h0m1.5 2.4h0m-14 3.6h0m2 3.5h0m-3 3.2h0m1.5 1.3h0m-45.5-38h0m5 9h0m3 5h0m14-44h0m8 4h0m2 6h0m30 16h0m3-13h0m-38 28h0m3 8h0m3 7h0m5-2h0" stroke="#163a5c" stroke-width="3.50" stroke-linecap="round" fill="none"/><path d="M446.5 330.9h0m-10.5-16.8h0m17.7 20.6h0m-18-16.9h0m.9 11.9h0m10.8-20.3h0m4.1 29.4h0m-10.3-34.9h0m-3.1 25.1h0m12.5-20.1h0m-12.2 26.8h0m10.1-3.5h0m-12.5-24.1h0m10.1 3.5h0m-5.2 14.6h0m2-16.8h0m1.6 .7h0m1.2 15.1h0m-7.3-8.3h0m2.4-10.3h0m13.6 24.5h0m-12.1-1.6h0m-6.2-17.8h0m15.1 6.7h0m-9.9 13.2h0m3.6-14.3h0m.3 23.2h0m-8.9-26.9h0m6.8 21.8h0m4.3-12.5h0m-6.7-5.5h0m.8 21.2h0m7.1-13.1h0m3.9-13.7h0m-15.3 10.3h0m6.3-8.9h0m6.6 22h0m3.4-.4h0m-16.2-8.4h0m-2.3-18.1h0m4.4 12.7h0m9.8-14h0m-4.2 11.2h0m-1.8-12h0m1.8 33h0m-2.8-12.7h0m-4.9-19.7h0m-1.8 3.2h0m-.4 9.3h0m2.5-14.2h0m5.7 35.7h0m.8-19.9h0m-1.3-5.4h0m-2.5 0h0m1.4-1.2h0m9.5-3.5h0m-6.5 18.1h0m.9-8.8h0m3.7 8.4h0m-6.4 7.7h0m-4.9-29.1h0m-1.6 6.8h0m6.7 4.8h0m.8-4.4h0m8.4 5.4h0m-1.9 17.8h0m-10.6 1h0m0-13h0m8.6 9.1h0m1 8.1h0m2.7-21h0m-12.4-5.8h0m7.7 5.8h0m-4.6 21.6h0m-.6-10.6h0m-1.4-12.7h0m3.2 22.7h0m-7.1-32.9h0m4.2-.5h0m6.3 4.7h0m-4.4 18.1h0m3.4-2h0m-6.9 1.3h0m12.2-13.2h0m-2-8.3h0m-4.7 10.2h0m-4.9 1.8h0m4 17.4h0m.5 1.6h0m2.3-29.7h0m-1.4 2.4h0m-7.4-2.3h0m5 2.9h0m7 15.6h0m-5.4-2.3h0m-5.6-17.8h0m-1.2 12h0m5.7-10.2h0m-1.4 23.6h0m7-15.2h0m-8-11.8h0m6.8 5.4h0m-2.3 5.2h0m-2.8 11.5h0m-5.4-17.6h0m14.9 27.2h0m-7.7-33.6h0m-3.2 13.7h0m4.2-14.6h0m3 33.4h0m-6.2-16.3h0m-5.5-16.2h0m5.8 25.2h0m8.7-.3h0m-3.4-9.5h0m-14-1.7h0m7.4-6.2h0m1.3 17.4h0m2.1-12h0m-2.9-12.6h0m-3.3 18.6h0m-4.2-14.6h0m8.4 21.5h0m6.1-7.1h0m-4.2 10.1h0m-9.4-29.6h0m12.1 36.1h0m4.7-.9h0m-8.9-.6h0m-1.6-26.8h0m-1.8 17.9h0m-2.6-10.6h0m.9 3.6h0m5 9.6h0m-1.3-.7h0m-5.4-8.4h0m2.8-7.6h0m12.7 21.9h0m-1.9-30.2h0m.8 13.1h0m-7.3 10.2h0m.3-28.3h0m6.3 18.4h0m-5.2 22.2h0m.7-29.2h0m-3.9 18.7h0m-7.6-20.1h0m7.9-.7h0m3.6-.1h0m-6.1 21.9h0m6.5 10.7h0m1.8-34.5h0m-2.7 28.5h0m5.8-27.2h0m-16.4 2h0m4.2 1.9h0m12.2 1.5h0m-.5-.1h0m-7 10.5h0m8.7 2.4h0m-1.8-22.5h0m-6.8 5.6h0m-2.5 .7h0m5.1-1.8h0m6.3 22h0m-8.8-14.2h0m5.3 7.1h0m-.7 6.8h0m-10.3-25.5h0m13.7 14.7h0m-50.2-10.6h0m-.5 4.2h0m3.5 5h0m.5 5h0m-6 4.7h0m-1 3.3h0m-1 3.5h0m3 3.5h0m4 4h0m3.5 3h0m4.5 1h0m3 1h0m3 0h0m-10-8h0m3-3h0m1.8-4h0m-2.8-4h0m3-7h0m4-3h0m1.5-4h0m-4.5-4h0m-3.7-3h0m4.2-4.3h0m6-1.7h0m3-2h0m-6-1h0m8.5 10h0m-8-39h0m8 0h0m-8.5 4.4h0m-4.8 3.6h0m-.1 6.6h0m7.4 .4h0m5.2 0h0m3.2-2.6h0m7.5-4.6h0m2.5-1.3h0m6.6 8.5h0m-4.7 3.5h0m-8.3 5.5h0m6 .2h0m10 1.3h0m5-.2h0m1 3.7h0m4.5 9.2h0m1.2 5.1h0m3 2.2h0m4.5 .7h0m-1.2 7.5h0m-6 3.3h0m5.5 6.5h0m-3.2 7.1h0m4.7 2.4h0m-11.5 4h0m1.5 2.4h0m-14 3.6h0m2 3.5h0m-3 3.2h0m1.5 1.3h0m-45.5-38h0m5 9h0m3 5h0m14-44h0m8 4h0m2 6h0m30 16h0m3-13h0m-38 28h0m3 8h0m3 7h0m5-2h0" stroke="#2b7bba" stroke-width="2.50" stroke-linecap="round" fill="none"/><text x="507.3" y="149.6" font-size="11" font-weight="bold" stroke="#000" stroke-width="0.18" >f</text><path d="M594.7 321.6h0m9.8 1.9h0m24-11.4h0m-41 10.8h0m-1.5-2.2h0m31.7-2.6h0m-33.2 0h0m-7.8-4.2h0m48.4-2.9h0m-38.7 9h0m-15.6-6h0m-4.7-3h0m18.5 11.7h0m5.9-.9h0m-23.1-10.4h0m6.2 1.1h0m9.6 6h0m7.2 4.7h0m24.4-8.4h0m-32.6 3.2h0m38.9-3.1h0m-46.4-2.2h0m37.2 10.1h0m3.3-6.2h0m-7.6 2.4h0m-29.4-4.1h0m27.1 9.9h0m-10.5-2.8h0m-10.2 .6h0m-2.5-3.4h0m-10.8-6.5h0m17.1 12.2h0m15.8-.9h0m13.5-5h0m-.3-3.4h0m-29.3 7.6h0m15.8-3.1h0m-33.1-3.3h0m33.5 6.5h0m-25.7-2.3h0m48.5-9.5h0m-24.1 9.9h0m-11.9-.9h0m-8.5-2.4h0m-10.9-2.2h0m21.3 5h0m22.3 .8h0m-33.9 1.3h0m32.5-2.2h0m-30.6-3.5h0m29.6-.9h0m9.4 .7h0m-54.2-4.4h0m41.4 6.1h0m-35.7-2.3h0m42.2-1.2h0m-5.3 8h0m-37.1-7.2h0m17.4 6.8h0m13.8 1.8h0m-12.6-4.1h0m-18.5-4.8h0m7.4 1.2h0m16.7 6.4h0m-18.6-3.7h0m33.1 3h0m-43-7.5h0m33.6 6.6h0m2-1.8h0m-25.7 .3h0m25-.2h0m-15 3.2h0m29.4-7.8h0m-1.8 3.3h0m3.1-1.3h0m-7.3 1.9h0m-18.2 4.5h0m-6-4.4h0m-7.9 1.7h0m-1.3-3.1h0m-13.4-6.8h0m5.7 3.9h0m40.3 7.7h0m-24.1-2.3h0m6.9 .5h0m-26.9-7.6h0m23.1 11.2h0m-.9-.2h0m-9.3-5.3h0m-5.1-1.5h0m-4.7-.6h0m13.2 1.5h0m-14.5-5h0m7.4 7.4h0m11.5 2.9h0m3.1-3.3h0m21.9-3.7h0m9.4-1.5h0m-9 1.2h0m-24.9 6.8h0m25.2-6.5h0m-10 5h0m-5.4 .9h0m11.8-4.2h0m15.1-5.3h0m-22.6 10.5h0m14.4-4.8h0m-27.8 3.1h0m-7.6 .2h0m31.3-.6h0m-26.4-.1h0m41.6-9h0m-8.7 3.4h0m-29.6 7.2h0m28.4-5.3h0m-48.4-3.4h0m46.1 6h0m-27.8 4.7h0m-12.6-5.7h0m8.4 .1h0m26.6 1.1h0m16-9h0m-49.4 5.8h0m12.2 7.9h0m-.2-2.7h0m34.3-6.6h0m-34.6 7.6h0m21.7-4h0m-27 1.6h0m-9.2-5.5h0m39.6 6.2h0m-2.5-3h0m7.4-.9h0m-45.5-2.1h0m-3.1-2.1h0m46.1 .6h0m-45.2 1.8h0m11.7 7.3h0m5.7-2.6h0m26.9-4.4h0m-32.6 3.7h0m36.5-2.8h0m-40.3-2.3h0m34.9 4.7h0m-16.5 4.7h0m-.6 0h0m26.1-9h0m-17.6 9.3h0m-32.2-11.4h0m18 7.8h0m3.2-.3h0m13 2.5h0m-32.8-5.1h0m48-6.5h0m-19.7 11.4h0m-27.3-4.4h0m-2.2-1.4h0m32.5 2.2h0m-26.6-3h0m1.5 .4h0m2.3 1.4h0m.2 4.4h0m-6.2-4.4h0m8.9 4.7h0m26.3-1.8h0m5.8-5.5h0m-38.5 5.5h0m32.6-4.6h0m5.6 1.1h0m-15.5 5.7h0m1.5-1.6h0m-36.2-7h0m54.7-.6h0m-9.1 7.1h0m.2-4h0m-26.7 6.7h0m19.6-1.5h0m-33.7-4.8h0m36.2 .7h0m14-1.7h0m-15.7 2.1h0m-24.3 4.8h0m-2.3-3.8h0m33.7 .3h0m-44-4.5h0m48.9 .7h0m-7.9 4.9h0m-20.8-1h0m20.3-1.3h0m-27.4 3.6h0m42.4-9.3h0m-25 7.6h0m24.3-10h0m-30.8 12.8h0m4.7 .3h0m-6.6-2.8h0m-.7 .9h0m25.3-4.9h0m-36.6 .9h0m33.2-2h0m-39.3-1.4h0m-3.9 1.8h0m9.7 3.4h0m-13.1-5.6h0m4.6-.6h0m49.6-2.4h0m-39.1 8.9h0m37.7-5h0m-11.7 4.9h0m3.7-2.5h0m-15.7 7.7h0m31.7-13h0m-21.3 7.1h0m-.4 2.4h0m6.5-4.2h0m-20.4 3h0m19.8-1h0m4.5-1.6h0m-18.6 6.9h0m21.8-9h0m-54.9-4.1h0m24.4 11h0m37.2-11.1h0m-17.4 10.3h0m-18.5 2.9h0m30.5-13.6h0m-5.2 7.7h0m6-4.6h0m-29 8h0m-7.7-.9h0m-8.9-4.3h0m-6.4-1.1h0m17.6 7h0m-14.1-4.3h0m40.2-.8h0m3 .4h0m-17.6 4.3h0m-20.9-7.5h0m24.7 8.7h0m9-4.8h0m3.2 1.5h0m-6.7 2.8h0m-10.5 .6h0m7.8 .7h0m-12.8-1.7h0m-10.8-4.5h0m-13.7-3.5h0m11.4 5.9h0m6.5 1.2h0m22.4-3.8h0m-38.5-6.1h0m12.4 9.1h0m35.4-3.7h0m1.5-1h0m-27.7 6.7h0m-7.9-3.6h0m-8.6-1.2h0m-4.4-4.7h0m-1.8 2h0m40.4 1.7h0m10.5-5h0m-44.6 5.6h0m-4.4-6.3h0m54.9-.8h0m-32 10.1h0m-18.8-2.1h0m5.5-3.1h0m13.1 5h0m-27.7-8.1h0m41.2 8.8h0m7.9-1h0m-33.4-3.3h0m-3.4 1.1h0m6 3.1h0m40.1-8.9h0m-9 8.8h0m-4.2-3.6h0m8.6-5.5h0m-38.9 6h0m-.9 1.4h0m38.9-5.7h0m-16.1 6.4h0m-13.2 .1h0m26.3 .3h0m-13.6 1h0m-30.8-5.5h0m-1.5-2.3h0m14.3 7h0m21.9 2.3h0m-31.8-4.1h0m30.5 5.8h0m-26.1-4h0m1.9-3h0m15 5h0m8.4 1.6h0m20.7-10.1h0m-45.9 1.4h0m25.7 8.5h0m8.9-2.6h0m-44.2-8.3h0m4.1 4.4h0m53.6-4.8h0m-.9 .7h0m-45.3 6h0m6.3 1.7h0m8.2 2h0m3-2.3h0m-25.1-7.9h0m41.1 3.7h0m-30.5 7h0m-4-5.1h0m8.1 4.2h0m2.5 2h0m17.8-4.9h0m-29.1 .3h0m17.1 1.6h0m23.8-4.2h0m2.5-1.4h0m-55.8-4.7h0m52.2 4.5h0m-43.2 2.2h0m47.1-6.9h0m-50.3-.7h0m48.3 7h0m3.9-5.4h0m.7 1.7h0m-38.8 5.8h0m-5.3-1h0m-15.6-7.1h0m45.7 6.9h0m15.1-8h0m-39.8 8.2h0m9.5 3.7h0m25.9-11.5h0m-43.8 4.4h0m9.1 5.2h0m21.2-2.7h0m7.2-3.6h0m-39.3 4.4h0m32.6 1.4h0m.9 1.7h0m-37.2-9.4h0m39.5 7.8h0m-31.1-.1h0m25.8 1h0m6.9-4.8h0m-12.2 7.1h0m-29.4-9.4h0m14.5 9.1h0m30.7-9.4h0m-3.4 5.5h0m-41.7-5.7h0m5.5 1.4h0m31.8 6h0m6.2-4.8h0m-3.9 2.4h0m-10 2h0m-23.1-3.8h0m11.7 4.3h0m18.1-1.8h0m8.9 .9h0m-9.1-1.5h0m8.5-1.6h0m-27.6 6.2h0m19.4 .8h0m-22.3-2.6h0m35.5-6.7h0m1.4 1.4h0m-45.2-.3h0m27.1 8.6h0m-24.6-6.8h0m27.6 2.7h0m7.5-4h0m-44.6-4.4h0m51.5 3.9h0m-2.5-1.4h0m-31.7 9h0m6.2-2.4h0m-.4 .9h0m17.6-2.7h0m-25.6 4.3h0m-10.4-5h0m9.9 4.1h0m-2.9-1.4h0m9.8 2.8h0m5.5-2.8h0m16.5-.2h0m-15.3 .2h0m14.3-1.7h0m8.3-5.2h0m-30 10.3h0m-10.6-5.9h0m34.4-.6h0m2.5-1.5h0m-45.1-2.8h0m31.4 9.3h0m14.1-7.9h0m2.9-1.2h0m-9.7 7h0m-6.6 2.8h0m-27.7-7.5h0m2.6 3.1h0m1.9 .5h0m15.1 2.8h0m-7.6 1.4h0m33.4-8.1h0m-22.6 6.4h0m-23.7-4h0m42.2-3.1h0m-33.5 6.2h0m-2-3.6h0m24.3 3.5h0m-34.4-6.7h0m7.6 2.9h0m12.6 3.9h0m19-2.1h0m-35.9-6.1h0m33.8 5.8h0m12.4-4.1h0m-12.5 7.8h0" stroke="#d0d0d0" stroke-width="3.80" stroke-linecap="round" fill="none"/><path d="M526.4,311.3 H666.3" stroke="#111" stroke-width="0.95" stroke-dasharray="2.6,1.8"/><path d="M579.9,169.9 V333.8 M613.5,169.9 V333.8" stroke="#111" stroke-width="0.95" stroke-dasharray="2.6,1.8"/><path d="M596.7,162.2 V340.5" stroke="#555" stroke-width="0.9"/><path d="M550.9 247.6h0m-3 13.2h0m3.9 11.1h0m-.3 29.6h0m2-19.5h0m1.5 4.5h0m-2 5.5h0m-1 4h0m5.5-1h0m.5 5h0m8.6-13.4h0m-3 14.6h0m10.5 9.1h0m-7.2-14.1h0m-4.7-.8h0m10.8 14.6h0m-14.2-22.5h0m6.3 6.3h0m6.6 10.5h0m-6.3-10h0m-1.2 1.2h0m9.8 12.4h0m-2.9-7.3h0m3.5 5.1h0m-8.2-5.9h0m3.8-1.6h0m-2.3 9.7h0m-5.8-13.4h0m2.3 5.3h0m3.4-2.1h0m-2.9-5.7h0m-.6 .1h0m1.8 10.3h0m.1-2.3h0m1.4-7.3h0m.1 11.5h0m-6.8-11.3h0m9.7 16.1h0m3-3.1h0m-9.4-15.9h0m-2-2.5h0m1.3-1.3h0m11.5 21.9h0m-8.6-18.3h0m3 17.2h0m1.4-3.1h0m-9.5-12.2h0m5.3 16.4h0m-2.9-15.7h0m-4.7-6.3h0m7.7 5.8h0m1.2 8h0m-7-4.6h0m3.9 6.5h0m4.5 3h0m-3.8-.6h0m-5.9-15.1h0m8.1 15.5h0m-1-2h0m1.2 8.4h0m7.2-4.9h0m-12.6-18.8h0m8.9 21.6h0m-5.3-11.4h0m-6.4-10.2h0m10.2 13h0m.3 4.2h0m-6.3-7.8h0m7.1 9.8h0m1.5-5.9h0m-6.8-4h0m1.6 4.1h0m5.7 6.8h0m-7.4-5.2h0m-4.6-10.9h0m5.4-1.3h0m-5.7 2.8h0m9.1 7h0m-5.7-.3h0m7.8 4.6h0m-9.7-6.5h0m-1-5.1h0m11.6 16.3h0m-1-7h0m-7.3-6.1h0m3.2 13.8h0m-1.5-8.8h0m0-10.3h0m-3.3 9.4h0m10.6 8.2h0m-8.6-5.6h0m-.6-10.9h0m-3.2-7.6h0m.1 2.5h0m4.6-4.3h0" stroke="#1f78b4" stroke-width="4.00" stroke-linecap="round" fill="none"/><path d="M660.9 178h0m-20 60.1h0m1.3 14.7h0m-2.5 13.5h0m-6.6 12.7h0m-.4 6.1h0m7.6 2.2h0m6.3 17.5h0m-15.7 3.1h0m-3.7-8.1h0m.8-10.8h0m-4-3h0m-5.9 19.4h0m4-10.9h0m-5.1 3.4h0m6 3.5h0m3-6.6h0m-4-5h0m2 5.4h0m-6 5h0m4.5-6.4h0m-2.7 14.7h0m-.4-4.8h0m-1.1-3.1h0m3.8-7.1h0m4.3 .8h0m-4.3 .8h0m-1.4 2.7h0m3.9-5.7h0m-5.8 10.5h0m4.7-12.1h0m-1.8-4.3h0m.6 18.4h0m1.1-1h0m-2.6-13.2h0m1.3-1.1h0m-6 16.8h0m6.5-7.8h0m-1.4 1.2h0m2.8-.7h0m-6.5 5.6h0m.1-7.2h0m6.2 .8h0m-2.3 4.3h0m-.4-.4h0m-2.4 4.2h0m7.8-15.6h0m-3.8 12.6h0m-2.1-4.4h0m2.4 4.3h0m1.5-17.5h0m-3.9 9.8h0m-.3 9.8h0m2.3-14.3h0m-3.6 12h0m3.9-6.5h0m.5 5.7h0m-1.3-5.1h0m-3 4.8h0m-1 .4h0m6.7-9.9h0m-5.6 15.3h0m-3.5-.9h0m1 1.1h0m3.4-18.4h0m4.8 7.2h0m-1.7-10.6h0m-4.1 5.4h0m3.1 2.6h0m-7.5 13.7h0m2.2-.7h0m9.4-12.6h0m-8.8 4.4h0m3.1 2.8h0m-2.1-6.7h0m-.2 10.1h0m7.4-15.3h0m-1 4.7h0m1-5.8h0m-2.4-.1h0m-2.7 8.2h0m3.1-2.7h0m.7 7.1h0m-1.2-13.8h0" stroke="#b0121b" stroke-width="4.00" stroke-linecap="round" fill="none"/><rect x="526.4" y="153.4" width="139.9" height="196.6" fill="none" stroke="#222" stroke-width="0.9"/><path d="M523.6,325.4 H526.4" stroke="#222" stroke-width="0.8"/><text x="522.7" y="328.7" font-size="9.4" text-anchor="end" fill="#111" stroke="#111" stroke-width="0.18" >0</text><path d="M523.6,296.1 H526.4" stroke="#222" stroke-width="0.8"/><text x="522.7" y="299.4" font-size="9.4" text-anchor="end" fill="#111" stroke="#111" stroke-width="0.18" >10</text><path d="M523.6,266.8 H526.4" stroke="#222" stroke-width="0.8"/><text x="522.7" y="270.1" font-size="9.4" text-anchor="end" fill="#111" stroke="#111" stroke-width="0.18" >20</text><path d="M523.6,237.5 H526.4" stroke="#222" stroke-width="0.8"/><text x="522.7" y="240.8" font-size="9.4" text-anchor="end" fill="#111" stroke="#111" stroke-width="0.18" >30</text><path d="M523.6,208.2 H526.4" stroke="#222" stroke-width="0.8"/><text x="522.7" y="211.5" font-size="9.4" text-anchor="end" fill="#111" stroke="#111" stroke-width="0.18" >40</text><path d="M523.6,178.9 H526.4" stroke="#222" stroke-width="0.8"/><text x="522.7" y="182.2" font-size="9.4" text-anchor="end" fill="#111" stroke="#111" stroke-width="0.18" >50</text><path d="M530.7,350 V352.8" stroke="#222" stroke-width="0.8"/><text x="530.7" y="362.7" font-size="9.4" text-anchor="middle" fill="#111" stroke="#111" stroke-width="0.18" >−2</text><path d="M563.7,350 V352.8" stroke="#222" stroke-width="0.8"/><text x="563.7" y="362.7" font-size="9.4" text-anchor="middle" fill="#111" stroke="#111" stroke-width="0.18" >−1</text><path d="M596.7,350 V352.8" stroke="#222" stroke-width="0.8"/><text x="596.7" y="362.7" font-size="9.4" text-anchor="middle" fill="#111" stroke="#111" stroke-width="0.18" >0</text><path d="M629.7,350 V352.8" stroke="#222" stroke-width="0.8"/><text x="629.7" y="362.7" font-size="9.4" text-anchor="middle" fill="#111" stroke="#111" stroke-width="0.18" >1</text><path d="M662.7,350 V352.8" stroke="#222" stroke-width="0.8"/><text x="662.7" y="362.7" font-size="9.4" text-anchor="middle" fill="#111" stroke="#111" stroke-width="0.18" >2</text><text x="599.3" y="370.8" font-size="6.65" text-anchor="middle" fill="#222" stroke="#222" stroke-width="0.18" >log2 fold change</text><text x="0.0" y="0.0" font-size="6.6" text-anchor="middle" fill="#222" stroke="#222" stroke-width="0.18" transform="translate(507.6,245.2) rotate(-90)">-log10 p-value</text><text x="541.5" y="383.2" font-size="8.45" font-weight="bold" text-anchor="middle" fill="#1f78b4" stroke="#1f78b4" stroke-width="0.18" >JCAR017</text><text x="644.1" y="384.3" font-size="8.5" font-weight="bold" text-anchor="middle" fill="#b2182b" stroke="#b2182b" stroke-width="0.18" >JCAR017com</text><text x="550.9" y="247.1" font-size="4.5" font-weight="bold" text-anchor="middle" stroke="#000" stroke-width="0.18" >IKZF2</text><text x="547.9" y="260.1" font-size="4.5" font-weight="bold" text-anchor="middle" stroke="#000" stroke-width="0.18" >TTN</text><text x="551.8" y="271.2" font-size="4.5" font-weight="bold" text-anchor="middle" stroke="#000" stroke-width="0.18" >CMC1</text><text x="546.3" y="280.2" font-size="4.5" font-weight="bold" text-anchor="middle" stroke="#000" stroke-width="0.18" >IL10RA</text><text x="567.3" y="280.8" font-size="4.5" font-weight="bold" text-anchor="middle" stroke="#000" stroke-width="0.18" >KLF2</text><text x="550.9" y="287.8" font-size="4.5" font-weight="bold" text-anchor="middle" stroke="#000" stroke-width="0.18" >TPX2</text><text x="568.6" y="286.6" font-size="4.5" font-weight="bold" text-anchor="middle" stroke="#000" stroke-width="0.18" >CD27</text><text x="548.9" y="291.7" font-size="4.5" font-weight="bold" text-anchor="middle" stroke="#000" stroke-width="0.18" >CCDC141</text><text x="575.2" y="292.8" font-size="4.5" font-weight="bold" text-anchor="middle" stroke="#000" stroke-width="0.18" >SIRPG</text><text x="549.6" y="297.4" font-size="4.5" font-weight="bold" text-anchor="middle" stroke="#000" stroke-width="0.18" >FXYD2</text><text x="573.9" y="297.4" font-size="4.5" font-weight="bold" text-anchor="middle" stroke="#000" stroke-width="0.18" >NFATC</text><text x="563.4" y="306.0" font-size="4.5" font-weight="bold" text-anchor="middle" stroke="#000" stroke-width="0.18" >LMO1</text><text x="547.6" y="309.5" font-size="4.5" font-weight="bold" text-anchor="middle" stroke="#000" stroke-width="0.18" >TNFSF4</text><text x="587.0" y="281.4" font-size="4.5" font-weight="bold" text-anchor="middle" stroke="#000" stroke-width="0.18" >ITGA4</text><text x="589.0" y="286.9" font-size="4.5" font-weight="bold" text-anchor="middle" stroke="#000" stroke-width="0.18" >VCAM1</text><text x="589.6" y="300.1" font-size="4.5" font-weight="bold" text-anchor="middle" stroke="#000" stroke-width="0.18" >RAB42</text><text x="660.3" y="176.4" font-size="4.5" font-weight="bold" text-anchor="middle" stroke="#000" stroke-width="0.18" >MBP</text><text x="643.5" y="236.4" font-size="4.5" font-weight="bold" text-anchor="middle" stroke="#000" stroke-width="0.18" >ZNRF1</text><text x="646.9" y="251.5" font-size="4.5" font-weight="bold" text-anchor="middle" stroke="#000" stroke-width="0.18" >ALOX5AP</text><text x="640.3" y="264.6" font-size="4.5" font-weight="bold" text-anchor="middle" stroke="#000" stroke-width="0.18" >DPP4</text><text x="633.1" y="277.1" font-size="4.5" font-weight="bold" text-anchor="middle" stroke="#000" stroke-width="0.18" >CEBPD</text><text x="619.3" y="280.0" font-size="4.5" font-weight="bold" text-anchor="middle" stroke="#000" stroke-width="0.18" >HOPX</text><text x="645.6" y="281.0" font-size="4.5" font-weight="bold" text-anchor="middle" stroke="#000" stroke-width="0.18" >MT-CO3</text><text x="648.9" y="285.6" font-size="4.5" font-weight="bold" text-anchor="middle" stroke="#000" stroke-width="0.18" >ITGA1</text><text x="606.8" y="286.3" font-size="4.5" font-weight="bold" text-anchor="middle" stroke="#000" stroke-width="0.18" >FKBP11</text><text x="639.0" y="292.8" font-size="4.5" font-weight="bold" text-anchor="middle" stroke="#000" stroke-width="0.18" >KLRD1</text><text x="616.7" y="295.7" font-size="4.5" font-weight="bold" text-anchor="middle" stroke="#000" stroke-width="0.18" >BAG3</text><text x="640.3" y="297.8" font-size="4.5" font-weight="bold" text-anchor="middle" stroke="#000" stroke-width="0.18" >SAMSN1</text><text x="606.2" y="299.4" font-size="4.5" font-weight="bold" text-anchor="middle" stroke="#000" stroke-width="0.18" >CXCR6</text><text x="629.2" y="300.3" font-size="4.5" font-weight="bold" text-anchor="middle" stroke="#000" stroke-width="0.18" >SUB1</text><text x="630.5" y="305.6" font-size="4.5" font-weight="bold" text-anchor="middle" stroke="#000" stroke-width="0.18" >GPR3</text><path d="M553,280 L560,284 M566,281 L561,285 M585,280 L565,290 M587,286 L566,293 M588,299 L566,297 M563,302 L562,295 M549,306 L558,299 M552,293 L557,294 M619,280 L624,289 M645,281 L632,287 M648,285 L640,288 M607,286 L620,291 M638,292 L627,294 M638,297 L628,297 M606,298 L620,296 M628,299 L622,300" stroke="#000" stroke-width="0.6" fill="none"/><text x="8.8" y="413.2" font-size="11" font-weight="bold" stroke="#000" stroke-width="0.18" >g</text><g transform="matrix(1,0.003,0,1,0,-0.2430)"><rect x="81.10" y="410.80" width="5.29" height="33.02" fill="#2f7ab9"/><rect x="86.04" y="410.80" width="5.29" height="33.02" fill="#3580bd"/><rect x="90.98" y="410.80" width="5.29" height="33.02" fill="#1a5496"/><rect x="95.93" y="410.80" width="5.29" height="33.02" fill="#4e9acb"/><rect x="100.87" y="410.80" width="5.29" height="33.02" fill="#3d89c2"/><rect x="105.81" y="410.80" width="5.29" height="33.02" fill="#a0c9e2"/><rect x="110.75" y="410.80" width="5.29" height="33.02" fill="#9fc8e1"/><rect x="115.69" y="410.80" width="5.29" height="33.02" fill="#69a7d2"/><rect x="120.64" y="410.80" width="5.29" height="33.02" fill="#5c9fce"/><rect x="125.58" y="410.80" width="5.29" height="33.02" fill="#a5cce3"/><rect x="130.52" y="410.80" width="5.29" height="33.02" fill="#a2cae2"/><rect x="135.46" y="410.80" width="5.29" height="33.02" fill="#b6d6e9"/><rect x="140.40" y="410.80" width="5.29" height="33.02" fill="#b6d6e9"/><rect x="145.35" y="410.80" width="5.29" height="33.02" fill="#b9d8ea"/><rect x="150.29" y="410.80" width="5.29" height="33.02" fill="#aacfe5"/><rect x="155.23" y="410.80" width="5.29" height="33.02" fill="#abd0e5"/><rect x="160.17" y="410.80" width="5.29" height="33.02" fill="#acd0e5"/><rect x="165.11" y="410.80" width="5.29" height="33.02" fill="#a8cee4"/><rect x="170.06" y="410.80" width="5.29" height="33.02" fill="#9ccae1"/><rect x="175.00" y="410.80" width="5.29" height="33.02" fill="#a8cee4"/><rect x="179.94" y="410.80" width="5.29" height="33.02" fill="#b0d3e7"/><rect x="184.88" y="410.80" width="5.29" height="33.02" fill="#b3d5e8"/><rect x="189.82" y="410.80" width="5.29" height="33.02" fill="#b6d6e9"/><rect x="194.77" y="410.80" width="5.29" height="33.02" fill="#b4d5e8"/><rect x="199.71" y="410.80" width="5.29" height="33.02" fill="#a6cde3"/><rect x="204.65" y="410.80" width="5.29" height="33.02" fill="#a8cee4"/><rect x="209.59" y="410.80" width="5.29" height="33.02" fill="#97c7df"/><rect x="214.53" y="410.80" width="5.29" height="33.02" fill="#92c5de"/><rect x="219.48" y="410.80" width="5.29" height="33.02" fill="#9ccae1"/><rect x="224.42" y="410.80" width="5.29" height="33.02" fill="#a3cce3"/><rect x="229.36" y="410.80" width="5.29" height="33.02" fill="#b0d3e7"/><rect x="234.30" y="410.80" width="5.29" height="33.02" fill="#b0d3e7"/><rect x="239.24" y="410.80" width="5.29" height="33.02" fill="#b0d3e7"/><rect x="244.19" y="410.80" width="5.29" height="33.02" fill="#a7cde3"/><rect x="249.13" y="410.80" width="5.29" height="33.02" fill="#a5cce3"/><rect x="254.07" y="410.80" width="5.29" height="33.02" fill="#9ecbe1"/><rect x="259.01" y="410.80" width="5.29" height="33.02" fill="#9ecbe1"/><rect x="263.95" y="410.80" width="5.29" height="33.02" fill="#9ecbe1"/><rect x="268.90" y="410.80" width="5.29" height="33.02" fill="#8abfdb"/><rect x="273.84" y="410.80" width="5.29" height="33.02" fill="#fde0d0"/><rect x="278.78" y="410.80" width="5.29" height="33.02" fill="#fbe3d7"/><rect x="283.72" y="410.80" width="5.29" height="33.02" fill="#f5a888"/><rect x="288.66" y="410.80" width="5.29" height="33.02" fill="#f7b597"/><rect x="293.61" y="410.80" width="5.29" height="33.02" fill="#f29e7d"/><rect x="298.55" y="410.80" width="5.29" height="33.02" fill="#fde0d2"/><rect x="303.49" y="410.80" width="5.29" height="33.02" fill="#f8bea3"/><rect x="308.43" y="410.80" width="5.29" height="33.02" fill="#f39b7b"/><rect x="313.37" y="410.80" width="5.29" height="33.02" fill="#f5aa88"/><rect x="318.32" y="410.80" width="5.29" height="33.02" fill="#e0694f"/><rect x="323.26" y="410.80" width="5.29" height="33.02" fill="#f5a283"/><rect x="328.20" y="410.80" width="5.29" height="33.02" fill="#f5a587"/><rect x="333.14" y="410.80" width="5.29" height="33.02" fill="#f39e7c"/><rect x="338.08" y="410.80" width="5.29" height="33.02" fill="#f6b294"/><rect x="343.03" y="410.80" width="5.29" height="33.02" fill="#ec9070"/><rect x="347.97" y="410.80" width="5.29" height="33.02" fill="#f7f2f1"/><rect x="352.91" y="410.80" width="5.29" height="33.02" fill="#fde0d2"/><rect x="357.85" y="410.80" width="5.29" height="33.02" fill="#fcdcc9"/><rect x="362.79" y="410.80" width="5.29" height="33.02" fill="#fcd5c1"/><rect x="367.74" y="410.80" width="5.29" height="33.02" fill="#fbe4d9"/><rect x="372.68" y="410.80" width="5.29" height="33.02" fill="#fcdbc9"/><rect x="377.62" y="410.80" width="5.29" height="33.02" fill="#fdd0b9"/><rect x="382.56" y="410.80" width="5.29" height="33.02" fill="#fcdece"/><rect x="387.50" y="410.80" width="5.29" height="33.02" fill="#fbe3d7"/><rect x="392.45" y="410.80" width="5.29" height="33.02" fill="#fcdac8"/><rect x="397.39" y="410.80" width="5.29" height="33.02" fill="#fae8df"/><rect x="402.33" y="410.80" width="5.29" height="33.02" fill="#fae8df"/><rect x="407.27" y="410.80" width="5.29" height="33.02" fill="#f9eae3"/><rect x="412.21" y="410.80" width="5.29" height="33.02" fill="#f7efec"/><rect x="417.16" y="410.80" width="5.29" height="33.02" fill="#f8ede8"/><rect x="422.10" y="410.80" width="5.29" height="33.02" fill="#f8eeea"/><rect x="427.04" y="410.80" width="5.29" height="33.02" fill="#fce4d8"/><rect x="431.98" y="410.80" width="5.29" height="33.02" fill="#eef3f6"/><rect x="436.92" y="410.80" width="5.29" height="33.02" fill="#ecf1f5"/><rect x="441.87" y="410.80" width="5.29" height="33.02" fill="#f3f4f6"/><rect x="446.81" y="410.80" width="5.29" height="33.02" fill="#f6f4f3"/><rect x="451.75" y="410.80" width="5.29" height="33.02" fill="#f5f5f5"/><rect x="456.69" y="410.80" width="5.29" height="33.02" fill="#f5f5f5"/><rect x="461.63" y="410.80" width="5.29" height="33.02" fill="#f5f5f5"/><rect x="466.58" y="410.80" width="5.29" height="33.02" fill="#f2f4f6"/><rect x="471.52" y="410.80" width="5.29" height="33.02" fill="#f6f4f2"/><rect x="476.46" y="410.80" width="5.29" height="33.02" fill="#eef2f6"/><rect x="481.40" y="410.80" width="5.29" height="33.02" fill="#f6f3f2"/><rect x="486.34" y="410.80" width="5.29" height="33.02" fill="#fde0d0"/><rect x="491.29" y="410.80" width="5.29" height="33.02" fill="#fde0d0"/><rect x="496.23" y="410.80" width="5.29" height="33.02" fill="#fcd6c3"/><rect x="501.17" y="410.80" width="5.29" height="33.02" fill="#fae9e1"/><rect x="506.11" y="410.80" width="5.29" height="33.02" fill="#faece6"/><rect x="511.05" y="410.80" width="5.29" height="33.02" fill="#faece6"/><rect x="516.00" y="410.80" width="5.29" height="33.02" fill="#fdd9c6"/><rect x="520.94" y="410.80" width="5.29" height="33.02" fill="#fdd9c6"/><rect x="525.88" y="410.80" width="5.29" height="33.02" fill="#fce0d2"/><rect x="530.82" y="410.80" width="5.29" height="33.02" fill="#fac8b0"/><rect x="535.76" y="410.80" width="5.29" height="33.02" fill="#fcd7c4"/><rect x="540.71" y="410.80" width="5.29" height="33.02" fill="#fcdcca"/><rect x="545.65" y="410.80" width="5.29" height="33.02" fill="#fcdccb"/><rect x="550.59" y="410.80" width="5.29" height="33.02" fill="#fcdccb"/><rect x="555.53" y="410.80" width="5.29" height="33.02" fill="#f9ebe4"/><rect x="560.47" y="410.80" width="5.29" height="33.02" fill="#f8eeea"/><rect x="565.42" y="410.80" width="5.29" height="33.02" fill="#f8eeea"/><rect x="570.36" y="410.80" width="5.29" height="33.02" fill="#b41c2d"/><rect x="575.30" y="410.80" width="5.29" height="33.02" fill="#c94340"/><rect x="580.24" y="410.80" width="5.29" height="33.02" fill="#8c0c29"/><rect x="585.18" y="410.80" width="5.29" height="33.02" fill="#6a0220"/><rect x="590.13" y="410.80" width="5.29" height="33.02" fill="#dc6b54"/><rect x="595.07" y="410.80" width="5.29" height="33.02" fill="#d9634f"/><rect x="600.01" y="410.80" width="5.29" height="33.02" fill="#c33a3c"/><rect x="604.95" y="410.80" width="5.29" height="33.02" fill="#f4a582"/><rect x="609.89" y="410.80" width="5.29" height="33.02" fill="#083a75"/><rect x="614.84" y="410.80" width="5.29" height="33.02" fill="#052e62"/><rect x="619.78" y="410.80" width="5.29" height="33.02" fill="#0c4580"/><rect x="81.10" y="443.47" width="5.29" height="33.02" fill="#d6e7f1"/><rect x="86.04" y="443.47" width="5.29" height="33.02" fill="#d3e5f0"/><rect x="90.98" y="443.47" width="5.29" height="33.02" fill="#cde2ef"/><rect x="95.93" y="443.47" width="5.29" height="33.02" fill="#faeee8"/><rect x="100.87" y="443.47" width="5.29" height="33.02" fill="#f7f3f1"/><rect x="105.81" y="443.47" width="5.29" height="33.02" fill="#aed1e6"/><rect x="110.75" y="443.47" width="5.29" height="33.02" fill="#b0d2e7"/><rect x="115.69" y="443.47" width="5.29" height="33.02" fill="#b5d6e9"/><rect x="120.64" y="443.47" width="5.29" height="33.02" fill="#b5d6e9"/><rect x="125.58" y="443.47" width="5.29" height="33.02" fill="#dce9f1"/><rect x="130.52" y="443.47" width="5.29" height="33.02" fill="#dfebf2"/><rect x="135.46" y="443.47" width="5.29" height="33.02" fill="#dfebf2"/><rect x="140.40" y="443.47" width="5.29" height="33.02" fill="#d3e5f0"/><rect x="145.35" y="443.47" width="5.29" height="33.02" fill="#d3e5f0"/><rect x="150.29" y="443.47" width="5.29" height="33.02" fill="#dbe9f2"/><rect x="155.23" y="443.47" width="5.29" height="33.02" fill="#d9e8f1"/><rect x="160.17" y="443.47" width="5.29" height="33.02" fill="#c9e0ed"/><rect x="165.11" y="443.47" width="5.29" height="33.02" fill="#dce9f2"/><rect x="170.06" y="443.47" width="5.29" height="33.02" fill="#dce9f2"/><rect x="175.00" y="443.47" width="5.29" height="33.02" fill="#d7e7f1"/><rect x="179.94" y="443.47" width="5.29" height="33.02" fill="#c8e0ee"/><rect x="184.88" y="443.47" width="5.29" height="33.02" fill="#c9e0ee"/><rect x="189.82" y="443.47" width="5.29" height="33.02" fill="#d6e7f1"/><rect x="194.77" y="443.47" width="5.29" height="33.02" fill="#d6e7f1"/><rect x="199.71" y="443.47" width="5.29" height="33.02" fill="#d6e7f1"/><rect x="204.65" y="443.47" width="5.29" height="33.02" fill="#d9e8f1"/><rect x="209.59" y="443.47" width="5.29" height="33.02" fill="#d6e7f1"/><rect x="214.53" y="443.47" width="5.29" height="33.02" fill="#dbe9f2"/><rect x="219.48" y="443.47" width="5.29" height="33.02" fill="#dae9f2"/><rect x="224.42" y="443.47" width="5.29" height="33.02" fill="#e0ecf3"/><rect x="229.36" y="443.47" width="5.29" height="33.02" fill="#e0ecf3"/><rect x="234.30" y="443.47" width="5.29" height="33.02" fill="#e0ecf3"/><rect x="239.24" y="443.47" width="5.29" height="33.02" fill="#e0ecf3"/><rect x="244.19" y="443.47" width="5.29" height="33.02" fill="#b2d4e8"/><rect x="249.13" y="443.47" width="5.29" height="33.02" fill="#b5d5e8"/><rect x="254.07" y="443.47" width="5.29" height="33.02" fill="#c8e0ee"/><rect x="259.01" y="443.47" width="5.29" height="33.02" fill="#c6dfed"/><rect x="263.95" y="443.47" width="5.29" height="33.02" fill="#c8e0ee"/><rect x="268.90" y="443.47" width="5.29" height="33.02" fill="#c8e0ee"/><rect x="273.84" y="443.47" width="5.29" height="33.02" fill="#b0d3e7"/><rect x="278.78" y="443.47" width="5.29" height="33.02" fill="#dbe9f2"/><rect x="283.72" y="443.47" width="5.29" height="33.02" fill="#dbe9f2"/><rect x="288.66" y="443.47" width="5.29" height="33.02" fill="#d9e8f1"/><rect x="293.61" y="443.47" width="5.29" height="33.02" fill="#eef2f6"/><rect x="298.55" y="443.47" width="5.29" height="33.02" fill="#f4f5f7"/><rect x="303.49" y="443.47" width="5.29" height="33.02" fill="#f4f5f7"/><rect x="308.43" y="443.47" width="5.29" height="33.02" fill="#d6e7f1"/><rect x="313.37" y="443.47" width="5.29" height="33.02" fill="#dce9f2"/><rect x="318.32" y="443.47" width="5.29" height="33.02" fill="#c3ddec"/><rect x="323.26" y="443.47" width="5.29" height="33.02" fill="#acd1e6"/><rect x="328.20" y="443.47" width="5.29" height="33.02" fill="#b0d3e7"/><rect x="333.14" y="443.47" width="5.29" height="33.02" fill="#9fcae2"/><rect x="338.08" y="443.47" width="5.29" height="33.02" fill="#a5cde3"/><rect x="343.03" y="443.47" width="5.29" height="33.02" fill="#b0d3e7"/><rect x="347.97" y="443.47" width="5.29" height="33.02" fill="#eef2f6"/><rect x="352.91" y="443.47" width="5.29" height="33.02" fill="#e6eff5"/><rect x="357.85" y="443.47" width="5.29" height="33.02" fill="#bcd9ea"/><rect x="362.79" y="443.47" width="5.29" height="33.02" fill="#b5d5e8"/><rect x="367.74" y="443.47" width="5.29" height="33.02" fill="#bad8e9"/><rect x="372.68" y="443.47" width="5.29" height="33.02" fill="#d9e8f1"/><rect x="377.62" y="443.47" width="5.29" height="33.02" fill="#d4e6f0"/><rect x="382.56" y="443.47" width="5.29" height="33.02" fill="#d4e6f0"/><rect x="387.50" y="443.47" width="5.29" height="33.02" fill="#d6e7f1"/><rect x="392.45" y="443.47" width="5.29" height="33.02" fill="#c3dded"/><rect x="397.39" y="443.47" width="5.29" height="33.02" fill="#c1dcec"/><rect x="402.33" y="443.47" width="5.29" height="33.02" fill="#c1dcec"/><rect x="407.27" y="443.47" width="5.29" height="33.02" fill="#c6dfed"/><rect x="412.21" y="443.47" width="5.29" height="33.02" fill="#b1d3e7"/><rect x="417.16" y="443.47" width="5.29" height="33.02" fill="#b1d3e7"/><rect x="422.10" y="443.47" width="5.29" height="33.02" fill="#c3dded"/><rect x="427.04" y="443.47" width="5.29" height="33.02" fill="#c3dded"/><rect x="431.98" y="443.47" width="5.29" height="33.02" fill="#c1dcec"/><rect x="436.92" y="443.47" width="5.29" height="33.02" fill="#b1d3e7"/><rect x="441.87" y="443.47" width="5.29" height="33.02" fill="#b5d6e8"/><rect x="446.81" y="443.47" width="5.29" height="33.02" fill="#c3dded"/><rect x="451.75" y="443.47" width="5.29" height="33.02" fill="#acd1e6"/><rect x="456.69" y="443.47" width="5.29" height="33.02" fill="#c3dded"/><rect x="461.63" y="443.47" width="5.29" height="33.02" fill="#c9e0ee"/><rect x="466.58" y="443.47" width="5.29" height="33.02" fill="#dbe9f2"/><rect x="471.52" y="443.47" width="5.29" height="33.02" fill="#9ccae1"/><rect x="476.46" y="443.47" width="5.29" height="33.02" fill="#9ccae1"/><rect x="481.40" y="443.47" width="5.29" height="33.02" fill="#9ccae1"/><rect x="486.34" y="443.47" width="5.29" height="33.02" fill="#b1d3e7"/><rect x="491.29" y="443.47" width="5.29" height="33.02" fill="#bad8e9"/><rect x="496.23" y="443.47" width="5.29" height="33.02" fill="#b5d6e8"/><rect x="501.17" y="443.47" width="5.29" height="33.02" fill="#b5d6e8"/><rect x="506.11" y="443.47" width="5.29" height="33.02" fill="#bad8e9"/><rect x="511.05" y="443.47" width="5.29" height="33.02" fill="#b0d3e7"/><rect x="516.00" y="443.47" width="5.29" height="33.02" fill="#97c8df"/><rect x="520.94" y="443.47" width="5.29" height="33.02" fill="#a1cbe2"/><rect x="525.88" y="443.47" width="5.29" height="33.02" fill="#a5cce3"/><rect x="530.82" y="443.47" width="5.29" height="33.02" fill="#6caad3"/><rect x="535.76" y="443.47" width="5.29" height="33.02" fill="#72aed5"/><rect x="540.71" y="443.47" width="5.29" height="33.02" fill="#5a9fcd"/><rect x="545.65" y="443.47" width="5.29" height="33.02" fill="#acd1e6"/><rect x="550.59" y="443.47" width="5.29" height="33.02" fill="#c3dded"/><rect x="555.53" y="443.47" width="5.29" height="33.02" fill="#a7cee4"/><rect x="560.47" y="443.47" width="5.29" height="33.02" fill="#d0e4ef"/><rect x="565.42" y="443.47" width="5.29" height="33.02" fill="#d3e5f0"/><rect x="570.36" y="443.47" width="5.29" height="33.02" fill="#b5d6e8"/><rect x="575.30" y="443.47" width="5.29" height="33.02" fill="#a1cbe2"/><rect x="580.24" y="443.47" width="5.29" height="33.02" fill="#8cc0dc"/><rect x="585.18" y="443.47" width="5.29" height="33.02" fill="#97c8df"/><rect x="590.13" y="443.47" width="5.29" height="33.02" fill="#a5cce3"/><rect x="595.07" y="443.47" width="5.29" height="33.02" fill="#d3e5f0"/><rect x="600.01" y="443.47" width="5.29" height="33.02" fill="#9ecbe1"/><rect x="604.95" y="443.47" width="5.29" height="33.02" fill="#cfe3ef"/><rect x="609.89" y="443.47" width="5.29" height="33.02" fill="#f5f5f5"/><rect x="614.84" y="443.47" width="5.29" height="33.02" fill="#f8eeea"/><rect x="619.78" y="443.47" width="5.29" height="33.02" fill="#f7f2f0"/><rect x="81.10" y="476.14" width="5.29" height="33.02" fill="#f4f5f7"/><rect x="86.04" y="476.14" width="5.29" height="33.02" fill="#f9eeea"/><rect x="90.98" y="476.14" width="5.29" height="33.02" fill="#d7e8f2"/><rect x="95.93" y="476.14" width="5.29" height="33.02" fill="#eff3f6"/><rect x="100.87" y="476.14" width="5.29" height="33.02" fill="#fde0d2"/><rect x="105.81" y="476.14" width="5.29" height="33.02" fill="#f8f3f2"/><rect x="110.75" y="476.14" width="5.29" height="33.02" fill="#fddccc"/><rect x="115.69" y="476.14" width="5.29" height="33.02" fill="#fce5da"/><rect x="120.64" y="476.14" width="5.29" height="33.02" fill="#e9f0f5"/><rect x="125.58" y="476.14" width="5.29" height="33.02" fill="#e2ecf3"/><rect x="130.52" y="476.14" width="5.29" height="33.02" fill="#e6eef4"/><rect x="135.46" y="476.14" width="5.29" height="33.02" fill="#eef2f5"/><rect x="140.40" y="476.14" width="5.29" height="33.02" fill="#dae9f2"/><rect x="145.35" y="476.14" width="5.29" height="33.02" fill="#d8e8f2"/><rect x="150.29" y="476.14" width="5.29" height="33.02" fill="#dbe9f2"/><rect x="155.23" y="476.14" width="5.29" height="33.02" fill="#dfebf3"/><rect x="160.17" y="476.14" width="5.29" height="33.02" fill="#dfebf3"/><rect x="165.11" y="476.14" width="5.29" height="33.02" fill="#d9e8f1"/><rect x="170.06" y="476.14" width="5.29" height="33.02" fill="#d7e7f1"/><rect x="175.00" y="476.14" width="5.29" height="33.02" fill="#d7e7f1"/><rect x="179.94" y="476.14" width="5.29" height="33.02" fill="#d3e5f0"/><rect x="184.88" y="476.14" width="5.29" height="33.02" fill="#d7e7f1"/><rect x="189.82" y="476.14" width="5.29" height="33.02" fill="#d0e4ef"/><rect x="194.77" y="476.14" width="5.29" height="33.02" fill="#d0e4ef"/><rect x="199.71" y="476.14" width="5.29" height="33.02" fill="#cde2ee"/><rect x="204.65" y="476.14" width="5.29" height="33.02" fill="#cde2ee"/><rect x="209.59" y="476.14" width="5.29" height="33.02" fill="#c6deec"/><rect x="214.53" y="476.14" width="5.29" height="33.02" fill="#cfe3ef"/><rect x="219.48" y="476.14" width="5.29" height="33.02" fill="#d2e5f0"/><rect x="224.42" y="476.14" width="5.29" height="33.02" fill="#d0e4ef"/><rect x="229.36" y="476.14" width="5.29" height="33.02" fill="#c9e0ee"/><rect x="234.30" y="476.14" width="5.29" height="33.02" fill="#c9e0ee"/><rect x="239.24" y="476.14" width="5.29" height="33.02" fill="#cde2ee"/><rect x="244.19" y="476.14" width="5.29" height="33.02" fill="#e2edf4"/><rect x="249.13" y="476.14" width="5.29" height="33.02" fill="#e6eef5"/><rect x="254.07" y="476.14" width="5.29" height="33.02" fill="#e8eff5"/><rect x="259.01" y="476.14" width="5.29" height="33.02" fill="#d6e7f1"/><rect x="263.95" y="476.14" width="5.29" height="33.02" fill="#d6e7f1"/><rect x="268.90" y="476.14" width="5.29" height="33.02" fill="#d6e7f1"/><rect x="273.84" y="476.14" width="5.29" height="33.02" fill="#89bedb"/><rect x="278.78" y="476.14" width="5.29" height="33.02" fill="#3a85c0"/><rect x="283.72" y="476.14" width="5.29" height="33.02" fill="#88bedb"/><rect x="288.66" y="476.14" width="5.29" height="33.02" fill="#5ca1cd"/><rect x="293.61" y="476.14" width="5.29" height="33.02" fill="#93c5de"/><rect x="298.55" y="476.14" width="5.29" height="33.02" fill="#98c8e0"/><rect x="303.49" y="476.14" width="5.29" height="33.02" fill="#a9cfe4"/><rect x="308.43" y="476.14" width="5.29" height="33.02" fill="#bcd9ea"/><rect x="313.37" y="476.14" width="5.29" height="33.02" fill="#cde2ee"/><rect x="318.32" y="476.14" width="5.29" height="33.02" fill="#cde2ee"/><rect x="323.26" y="476.14" width="5.29" height="33.02" fill="#dbe9f2"/><rect x="328.20" y="476.14" width="5.29" height="33.02" fill="#dbe9f2"/><rect x="333.14" y="476.14" width="5.29" height="33.02" fill="#dbe9f2"/><rect x="338.08" y="476.14" width="5.29" height="33.02" fill="#98c8e0"/><rect x="343.03" y="476.14" width="5.29" height="33.02" fill="#9ccae1"/><rect x="347.97" y="476.14" width="5.29" height="33.02" fill="#f2f4f7"/><rect x="352.91" y="476.14" width="5.29" height="33.02" fill="#dfebf3"/><rect x="357.85" y="476.14" width="5.29" height="33.02" fill="#eef2f6"/><rect x="362.79" y="476.14" width="5.29" height="33.02" fill="#f5f3f2"/><rect x="367.74" y="476.14" width="5.29" height="33.02" fill="#f5f3f2"/><rect x="372.68" y="476.14" width="5.29" height="33.02" fill="#f7f2f1"/><rect x="377.62" y="476.14" width="5.29" height="33.02" fill="#f8eeea"/><rect x="382.56" y="476.14" width="5.29" height="33.02" fill="#e6eef5"/><rect x="387.50" y="476.14" width="5.29" height="33.02" fill="#f0f3f6"/><rect x="392.45" y="476.14" width="5.29" height="33.02" fill="#e2edf4"/><rect x="397.39" y="476.14" width="5.29" height="33.02" fill="#ecf1f5"/><rect x="402.33" y="476.14" width="5.29" height="33.02" fill="#eaf0f5"/><rect x="407.27" y="476.14" width="5.29" height="33.02" fill="#e6eef5"/><rect x="412.21" y="476.14" width="5.29" height="33.02" fill="#d6e7f1"/><rect x="417.16" y="476.14" width="5.29" height="33.02" fill="#d6e7f1"/><rect x="422.10" y="476.14" width="5.29" height="33.02" fill="#d3e5f0"/><rect x="427.04" y="476.14" width="5.29" height="33.02" fill="#d3e5f0"/><rect x="431.98" y="476.14" width="5.29" height="33.02" fill="#d8e8f1"/><rect x="436.92" y="476.14" width="5.29" height="33.02" fill="#d8e8f1"/><rect x="441.87" y="476.14" width="5.29" height="33.02" fill="#c6dfed"/><rect x="446.81" y="476.14" width="5.29" height="33.02" fill="#c9e0ee"/><rect x="451.75" y="476.14" width="5.29" height="33.02" fill="#e3edf4"/><rect x="456.69" y="476.14" width="5.29" height="33.02" fill="#e3edf4"/><rect x="461.63" y="476.14" width="5.29" height="33.02" fill="#eef2f6"/><rect x="466.58" y="476.14" width="5.29" height="33.02" fill="#e0ecf3"/><rect x="471.52" y="476.14" width="5.29" height="33.02" fill="#e3edf4"/><rect x="476.46" y="476.14" width="5.29" height="33.02" fill="#e0ecf3"/><rect x="481.40" y="476.14" width="5.29" height="33.02" fill="#f4f5f7"/><rect x="486.34" y="476.14" width="5.29" height="33.02" fill="#c9e0ee"/><rect x="491.29" y="476.14" width="5.29" height="33.02" fill="#bad8e9"/><rect x="496.23" y="476.14" width="5.29" height="33.02" fill="#c6dfed"/><rect x="501.17" y="476.14" width="5.29" height="33.02" fill="#b3d5e8"/><rect x="506.11" y="476.14" width="5.29" height="33.02" fill="#acd1e6"/><rect x="511.05" y="476.14" width="5.29" height="33.02" fill="#c3dded"/><rect x="516.00" y="476.14" width="5.29" height="33.02" fill="#e0ecf3"/><rect x="520.94" y="476.14" width="5.29" height="33.02" fill="#dce9f2"/><rect x="525.88" y="476.14" width="5.29" height="33.02" fill="#e0ecf3"/><rect x="530.82" y="476.14" width="5.29" height="33.02" fill="#e3edf4"/><rect x="535.76" y="476.14" width="5.29" height="33.02" fill="#e6eef5"/><rect x="540.71" y="476.14" width="5.29" height="33.02" fill="#dce9f2"/><rect x="545.65" y="476.14" width="5.29" height="33.02" fill="#fbe4d9"/><rect x="550.59" y="476.14" width="5.29" height="33.02" fill="#fbe4d9"/><rect x="555.53" y="476.14" width="5.29" height="33.02" fill="#f9e9e0"/><rect x="560.47" y="476.14" width="5.29" height="33.02" fill="#f9c5ab"/><rect x="565.42" y="476.14" width="5.29" height="33.02" fill="#fddbc7"/><rect x="570.36" y="476.14" width="5.29" height="33.02" fill="#8ec4dd"/><rect x="575.30" y="476.14" width="5.29" height="33.02" fill="#dfebf3"/><rect x="580.24" y="476.14" width="5.29" height="33.02" fill="#c9e0ee"/><rect x="585.18" y="476.14" width="5.29" height="33.02" fill="#bcd9ea"/><rect x="590.13" y="476.14" width="5.29" height="33.02" fill="#f9ebe4"/><rect x="595.07" y="476.14" width="5.29" height="33.02" fill="#f9ebe4"/><rect x="600.01" y="476.14" width="5.29" height="33.02" fill="#fcdfcf"/><rect x="604.95" y="476.14" width="5.29" height="33.02" fill="#f7f3f1"/><rect x="609.89" y="476.14" width="5.29" height="33.02" fill="#d6e7f1"/><rect x="614.84" y="476.14" width="5.29" height="33.02" fill="#b5d6e8"/><rect x="619.78" y="476.14" width="5.29" height="33.02" fill="#78b3d6"/><path d="M83.6,509.6v3.9M88.5,509.6v3.9M93.5,509.6v3.9M98.4,509.6v3.9M103.3,509.6v3.9M108.3,509.6v3.9M113.2,509.6v3.9M118.2,509.6v3.9M123.1,509.6v3.9M128.0,509.6v3.9M133.0,509.6v3.9M137.9,509.6v3.9M142.9,509.6v3.9M147.8,509.6v3.9M152.8,509.6v3.9M157.7,509.6v3.9M162.6,509.6v3.9M167.6,509.6v3.9M172.5,509.6v3.9M177.5,509.6v3.9M182.4,509.6v3.9M187.4,509.6v3.9M192.3,509.6v3.9M197.2,509.6v3.9M202.2,509.6v3.9M207.1,509.6v3.9M212.1,509.6v3.9M217.0,509.6v3.9M221.9,509.6v3.9M226.9,509.6v3.9M231.8,509.6v3.9M236.8,509.6v3.9M241.7,509.6v3.9M246.7,509.6v3.9M251.6,509.6v3.9M256.5,509.6v3.9M261.5,509.6v3.9M266.4,509.6v3.9M271.4,509.6v3.9M276.3,509.6v3.9M281.3,509.6v3.9M286.2,509.6v3.9M291.1,509.6v3.9M296.1,509.6v3.9M301.0,509.6v3.9M306.0,509.6v3.9M310.9,509.6v3.9M315.8,509.6v3.9M320.8,509.6v3.9M325.7,509.6v3.9M330.7,509.6v3.9M335.6,509.6v3.9M340.6,509.6v3.9M345.5,509.6v3.9M350.4,509.6v3.9M355.4,509.6v3.9M360.3,509.6v3.9M365.3,509.6v3.9M370.2,509.6v3.9M375.1,509.6v3.9M380.1,509.6v3.9M385.0,509.6v3.9M390.0,509.6v3.9M394.9,509.6v3.9M399.9,509.6v3.9M404.8,509.6v3.9M409.7,509.6v3.9M414.7,509.6v3.9M419.6,509.6v3.9M424.6,509.6v3.9M429.5,509.6v3.9M434.5,509.6v3.9M439.4,509.6v3.9M444.3,509.6v3.9M449.3,509.6v3.9M454.2,509.6v3.9M459.2,509.6v3.9M464.1,509.6v3.9M469.0,509.6v3.9M474.0,509.6v3.9M478.9,509.6v3.9M483.9,509.6v3.9M488.8,509.6v3.9M493.8,509.6v3.9M498.7,509.6v3.9M503.6,509.6v3.9M508.6,509.6v3.9M513.5,509.6v3.9M518.5,509.6v3.9M523.4,509.6v3.9M528.4,509.6v3.9M533.3,509.6v3.9M538.2,509.6v3.9M543.2,509.6v3.9M548.1,509.6v3.9M553.1,509.6v3.9M558.0,509.6v3.9M562.9,509.6v3.9M567.9,509.6v3.9M572.8,509.6v3.9M577.8,509.6v3.9M582.7,509.6v3.9M587.7,509.6v3.9M592.6,509.6v3.9M597.5,509.6v3.9M602.5,509.6v3.9M607.4,509.6v3.9M612.4,509.6v3.9M617.3,509.6v3.9M622.2,509.6v3.9" stroke="#666" stroke-width="0.7"/><text transform="translate(81.8,517.9) rotate(90)" font-size="5.0" font-weight="bold" fill="#222">NUCB2</text><text transform="translate(86.8,517.9) rotate(90)" font-size="5.0" font-weight="bold" fill="#222">CXCR6</text><text transform="translate(91.7,517.9) rotate(90)" font-size="5.0" font-weight="bold" fill="#222">FYN</text><text transform="translate(96.6,517.9) rotate(90)" font-size="5.0" font-weight="bold" fill="#222">GZMB</text><text transform="translate(101.6,517.9) rotate(90)" font-size="5.0" font-weight="bold" fill="#222">KLRD1</text><text transform="translate(106.5,517.9) rotate(90)" font-size="5.0" font-weight="bold" fill="#222">EVL</text><text transform="translate(111.5,517.9) rotate(90)" font-size="5.0" font-weight="bold" fill="#222">CD96</text><text transform="translate(116.4,517.9) rotate(90)" font-size="5.0" font-weight="bold" fill="#222">SCML4</text><text transform="translate(121.4,517.9) rotate(90)" font-size="5.0" font-weight="bold" fill="#222">ITGAE</text><text transform="translate(126.3,517.9) rotate(90)" font-size="5.0" font-weight="bold" fill="#222">LAG3</text><text transform="translate(131.2,517.9) rotate(90)" font-size="5.0" font-weight="bold" fill="#222">IKZF3</text><text transform="translate(136.2,517.9) rotate(90)" font-size="5.0" font-weight="bold" fill="#222">GZMA</text><text transform="translate(141.1,517.9) rotate(90)" font-size="5.0" font-weight="bold" fill="#222">SIRT3</text><text transform="translate(146.1,517.9) rotate(90)" font-size="5.0" font-weight="bold" fill="#222">GPR171</text><text transform="translate(151.0,517.9) rotate(90)" font-size="5.0" font-weight="bold" fill="#222">GNAS</text><text transform="translate(156.0,517.9) rotate(90)" font-size="5.0" font-weight="bold" fill="#222">LRRC8</text><text transform="translate(160.9,517.9) rotate(90)" font-size="5.0" font-weight="bold" fill="#222">CD5L</text><text transform="translate(165.8,517.9) rotate(90)" font-size="5.0" font-weight="bold" fill="#222">UBR2</text><text transform="translate(170.8,517.9) rotate(90)" font-size="5.0" font-weight="bold" fill="#222">SPATA2</text><text transform="translate(175.7,517.9) rotate(90)" font-size="5.0" font-weight="bold" fill="#222">FCRL3</text><text transform="translate(180.7,517.9) rotate(90)" font-size="5.0" font-weight="bold" fill="#222">IGFL3</text><text transform="translate(185.6,517.9) rotate(90)" font-size="5.0" font-weight="bold" fill="#222">FNBP1</text><text transform="translate(190.5,517.9) rotate(90)" font-size="5.0" font-weight="bold" fill="#222">PPP2R5</text><text transform="translate(195.5,517.9) rotate(90)" font-size="5.0" font-weight="bold" fill="#222">CHD6</text><text transform="translate(200.4,517.9) rotate(90)" font-size="5.0" font-weight="bold" fill="#222">GSN</text><text transform="translate(205.4,517.9) rotate(90)" font-size="5.0" font-weight="bold" fill="#222">UNC13D</text><text transform="translate(210.3,517.9) rotate(90)" font-size="5.0" font-weight="bold" fill="#222">PTPN7</text><text transform="translate(215.3,517.9) rotate(90)" font-size="5.0" font-weight="bold" fill="#222">CLSTN3</text><text transform="translate(220.2,517.9) rotate(90)" font-size="5.0" font-weight="bold" fill="#222">CD82</text><text transform="translate(225.1,517.9) rotate(90)" font-size="5.0" font-weight="bold" fill="#222">GSDMD</text><text transform="translate(230.1,517.9) rotate(90)" font-size="5.0" font-weight="bold" fill="#222">BST2</text><text transform="translate(235.0,517.9) rotate(90)" font-size="5.0" font-weight="bold" fill="#222">APOL6</text><text transform="translate(240.0,517.9) rotate(90)" font-size="5.0" font-weight="bold" fill="#222">TCTN2</text><text transform="translate(244.9,517.9) rotate(90)" font-size="5.0" font-weight="bold" fill="#222">ZFP36</text><text transform="translate(249.8,517.9) rotate(90)" font-size="5.0" font-weight="bold" fill="#222">CHPF2</text><text transform="translate(254.8,517.9) rotate(90)" font-size="5.0" font-weight="bold" fill="#222">ARHGAP9</text><text transform="translate(259.7,517.9) rotate(90)" font-size="5.0" font-weight="bold" fill="#222">LIMK2</text><text transform="translate(264.7,517.9) rotate(90)" font-size="5.0" font-weight="bold" fill="#222">PTPN22</text><text transform="translate(269.6,517.9) rotate(90)" font-size="5.0" font-weight="bold" fill="#222">SEMA4D</text><text transform="translate(274.6,517.9) rotate(90)" font-size="5.0" font-weight="bold" fill="#222">MAPKAP1</text><text transform="translate(279.5,517.9) rotate(90)" font-size="5.0" font-weight="bold" fill="#222">ZNF32</text><text transform="translate(284.4,517.9) rotate(90)" font-size="5.0" font-weight="bold" fill="#222">RNF166</text><text transform="translate(289.4,517.9) rotate(90)" font-size="5.0" font-weight="bold" fill="#222">TRGC2</text><text transform="translate(294.3,517.9) rotate(90)" font-size="5.0" font-weight="bold" fill="#222">LDLRAP1</text><text transform="translate(299.3,517.9) rotate(90)" font-size="5.0" font-weight="bold" fill="#222">KDSR</text><text transform="translate(304.2,517.9) rotate(90)" font-size="5.0" font-weight="bold" fill="#222">GZMK</text><text transform="translate(309.2,517.9) rotate(90)" font-size="5.0" font-weight="bold" fill="#222">IL21R</text><text transform="translate(314.1,517.9) rotate(90)" font-size="5.0" font-weight="bold" fill="#222">LYST</text><text transform="translate(319.0,517.9) rotate(90)" font-size="5.0" font-weight="bold" fill="#222">VCAM1</text><text transform="translate(324.0,517.9) rotate(90)" font-size="5.0" font-weight="bold" fill="#222">CEBPD</text><text transform="translate(328.9,517.9) rotate(90)" font-size="5.0" font-weight="bold" fill="#222">NKG7</text><text transform="translate(333.9,517.9) rotate(90)" font-size="5.0" font-weight="bold" fill="#222">MX1</text><text transform="translate(338.8,517.9) rotate(90)" font-size="5.0" font-weight="bold" fill="#222">IFI35</text><text transform="translate(343.7,517.9) rotate(90)" font-size="5.0" font-weight="bold" fill="#222">GZMH</text><text transform="translate(348.7,517.9) rotate(90)" font-size="5.0" font-weight="bold" fill="#222">CCL4L2</text><text transform="translate(353.6,517.9) rotate(90)" font-size="5.0" font-weight="bold" fill="#222">CTSW</text><text transform="translate(358.6,517.9) rotate(90)" font-size="5.0" font-weight="bold" fill="#222">CD8B</text><text transform="translate(363.5,517.9) rotate(90)" font-size="5.0" font-weight="bold" fill="#222">DTHD1</text><text transform="translate(368.5,517.9) rotate(90)" font-size="5.0" font-weight="bold" fill="#222">IKZF2</text><text transform="translate(373.4,517.9) rotate(90)" font-size="5.0" font-weight="bold" fill="#222">CD84</text><text transform="translate(378.3,517.9) rotate(90)" font-size="5.0" font-weight="bold" fill="#222">ADAM19</text><text transform="translate(383.3,517.9) rotate(90)" font-size="5.0" font-weight="bold" fill="#222">KLRC4</text><text transform="translate(388.2,517.9) rotate(90)" font-size="5.0" font-weight="bold" fill="#222">ZNF683</text><text transform="translate(393.2,517.9) rotate(90)" font-size="5.0" font-weight="bold" fill="#222">TBX21</text><text transform="translate(398.1,517.9) rotate(90)" font-size="5.0" font-weight="bold" fill="#222">IL12RB2</text><text transform="translate(403.1,517.9) rotate(90)" font-size="5.0" font-weight="bold" fill="#222">CD38</text><text transform="translate(408.0,517.9) rotate(90)" font-size="5.0" font-weight="bold" fill="#222">ENTPD1</text><text transform="translate(412.9,517.9) rotate(90)" font-size="5.0" font-weight="bold" fill="#222">SLFN12L</text><text transform="translate(417.9,517.9) rotate(90)" font-size="5.0" font-weight="bold" fill="#222">HAVCR2</text><text transform="translate(422.8,517.9) rotate(90)" font-size="5.0" font-weight="bold" fill="#222">RGS1</text><text transform="translate(427.8,517.9) rotate(90)" font-size="5.0" font-weight="bold" fill="#222">PDCD1</text><text transform="translate(432.7,517.9) rotate(90)" font-size="5.0" font-weight="bold" fill="#222">CTLA4</text><text transform="translate(437.6,517.9) rotate(90)" font-size="5.0" font-weight="bold" fill="#222">TNFRSF9</text><text transform="translate(442.6,517.9) rotate(90)" font-size="5.0" font-weight="bold" fill="#222">TOX</text><text transform="translate(447.5,517.9) rotate(90)" font-size="5.0" font-weight="bold" fill="#222">ITGA1</text><text transform="translate(452.5,517.9) rotate(90)" font-size="5.0" font-weight="bold" fill="#222">CXCL13</text><text transform="translate(457.4,517.9) rotate(90)" font-size="5.0" font-weight="bold" fill="#222">LAYN</text><text transform="translate(462.4,517.9) rotate(90)" font-size="5.0" font-weight="bold" fill="#222">DUSP4</text><text transform="translate(467.3,517.9) rotate(90)" font-size="5.0" font-weight="bold" fill="#222">SAMSN1</text><text transform="translate(472.2,517.9) rotate(90)" font-size="5.0" font-weight="bold" fill="#222">NFATC1</text><text transform="translate(477.2,517.9) rotate(90)" font-size="5.0" font-weight="bold" fill="#222">EPSTI1</text><text transform="translate(482.1,517.9) rotate(90)" font-size="5.0" font-weight="bold" fill="#222">PTMS</text><text transform="translate(487.1,517.9) rotate(90)" font-size="5.0" font-weight="bold" fill="#222">RBPJ</text><text transform="translate(492.0,517.9) rotate(90)" font-size="5.0" font-weight="bold" fill="#222">AFAP1L2</text><text transform="translate(496.9,517.9) rotate(90)" font-size="5.0" font-weight="bold" fill="#222">SNAP47</text><text transform="translate(501.9,517.9) rotate(90)" font-size="5.0" font-weight="bold" fill="#222">CCL3</text><text transform="translate(506.8,517.9) rotate(90)" font-size="5.0" font-weight="bold" fill="#222">HLA-DRA</text><text transform="translate(511.8,517.9) rotate(90)" font-size="5.0" font-weight="bold" fill="#222">ANXA1</text><text transform="translate(516.7,517.9) rotate(90)" font-size="5.0" font-weight="bold" fill="#222">TIGIT</text><text transform="translate(521.7,517.9) rotate(90)" font-size="5.0" font-weight="bold" fill="#222">SIRPG</text><text transform="translate(526.6,517.9) rotate(90)" font-size="5.0" font-weight="bold" fill="#222">CD27</text><text transform="translate(531.5,517.9) rotate(90)" font-size="5.0" font-weight="bold" fill="#222">ISG15</text><text transform="translate(536.5,517.9) rotate(90)" font-size="5.0" font-weight="bold" fill="#222">STAT1</text><text transform="translate(541.4,517.9) rotate(90)" font-size="5.0" font-weight="bold" fill="#222">KLRB1</text><text transform="translate(546.4,517.9) rotate(90)" font-size="5.0" font-weight="bold" fill="#222">IL7R</text><text transform="translate(551.3,517.9) rotate(90)" font-size="5.0" font-weight="bold" fill="#222">FOS</text><text transform="translate(556.3,517.9) rotate(90)" font-size="5.0" font-weight="bold" fill="#222">JUN</text><text transform="translate(561.2,517.9) rotate(90)" font-size="5.0" font-weight="bold" fill="#222">TNFAIP3</text><text transform="translate(566.1,517.9) rotate(90)" font-size="5.0" font-weight="bold" fill="#222">GPR183</text><text transform="translate(571.1,517.9) rotate(90)" font-size="5.0" font-weight="bold" fill="#222">SELL</text><text transform="translate(576.0,517.9) rotate(90)" font-size="5.0" font-weight="bold" fill="#222">CCR7</text><text transform="translate(581.0,517.9) rotate(90)" font-size="5.0" font-weight="bold" fill="#222">LTB</text><text transform="translate(585.9,517.9) rotate(90)" font-size="5.0" font-weight="bold" fill="#222">TCF7</text><text transform="translate(590.8,517.9) rotate(90)" font-size="5.0" font-weight="bold" fill="#222">PRF1</text><text transform="translate(595.8,517.9) rotate(90)" font-size="5.0" font-weight="bold" fill="#222">KLRK1</text><text transform="translate(600.7,517.9) rotate(90)" font-size="5.0" font-weight="bold" fill="#222">CCL5</text><text transform="translate(605.7,517.9) rotate(90)" font-size="5.0" font-weight="bold" fill="#222">CST7</text><text transform="translate(610.6,517.9) rotate(90)" font-size="5.0" font-weight="bold" fill="#222">HOPX</text><text transform="translate(615.6,517.9) rotate(90)" font-size="5.0" font-weight="bold" fill="#222">STOM</text><text transform="translate(620.5,517.9) rotate(90)" font-size="5.0" font-weight="bold" fill="#222">TPST2</text></g><text x="77.7" y="430.7" font-size="10.4" font-weight="bold" text-anchor="end" fill="#111" stroke="#111" stroke-width="0.18" >JCAR017</text><text x="77.7" y="463.4" font-size="10.4" font-weight="bold" text-anchor="end" fill="#111" stroke="#111" stroke-width="0.18" >JCAR021com</text><text x="77.7" y="496.1" font-size="10.4" font-weight="bold" text-anchor="end" fill="#111" stroke="#111" stroke-width="0.18" >JCAR017com</text><defs><linearGradient id="cb" x1="0" y1="0" x2="0" y2="1"><stop offset="0" stop-color="#67001f"/><stop offset="0.1" stop-color="#b2182b"/><stop offset="0.2" stop-color="#d6604d"/><stop offset="0.3" stop-color="#f4a582"/><stop offset="0.4" stop-color="#fddbc7"/><stop offset="0.5" stop-color="#f7f7f7"/><stop offset="0.6" stop-color="#d1e5f0"/><stop offset="0.7" stop-color="#92c5de"/><stop offset="0.8" stop-color="#4393c3"/><stop offset="0.9" stop-color="#2166ac"/><stop offset="1.0" stop-color="#053061"/></linearGradient></defs><rect x="644.1" y="414.1" width="4.8" height="119.7" fill="url(#cb)"/><path d="M648.9,421.0 H651" stroke="#222" stroke-width="0.8"/><text x="653.3" y="424.4" font-size="9.6" fill="#111" stroke="#111" stroke-width="0.18" >0.9</text><path d="M648.9,443.2 H651" stroke="#222" stroke-width="0.8"/><text x="653.3" y="446.6" font-size="9.6" fill="#111" stroke="#111" stroke-width="0.18" >0.6</text><path d="M648.9,465.2 H651" stroke="#222" stroke-width="0.8"/><text x="653.3" y="468.6" font-size="9.6" fill="#111" stroke="#111" stroke-width="0.18" >0.3</text><path d="M648.9,487.2 H651" stroke="#222" stroke-width="0.8"/><text x="653.3" y="490.6" font-size="9.6" fill="#111" stroke="#111" stroke-width="0.18" >0.0</text><path d="M648.9,509.2 H651" stroke="#222" stroke-width="0.8"/><text x="653.3" y="512.6" font-size="9.6" fill="#111" stroke="#111" stroke-width="0.18" >−0.3</text><path d="M648.9,531.2 H651" stroke="#222" stroke-width="0.8"/><text x="653.3" y="534.6" font-size="9.6" fill="#111" stroke="#111" stroke-width="0.18" >−0.6</text><text x="6.6" y="561.3" font-size="11" font-weight="bold" stroke="#000" stroke-width="0.18" >h</text><text x="60.8" y="565.8" font-size="8.3" text-anchor="middle" fill="#111" stroke="#111" stroke-width="0.18" >TIGIT</text><path d="M45.85,648.46 L46.38,647.24 L47.31,646.02 L48.48,644.80 L49.74,643.58 L50.36,642.36 L50.51,641.14 L50.38,639.92 L50.11,638.70 L49.85,637.48 L49.73,636.26 L49.79,635.04 L50.03,633.82 L50.39,632.60 L50.80,631.38 L51.22,630.16 L51.59,628.94 L51.89,627.72 L52.10,626.50 L52.20,625.28 L52.19,624.06 L52.07,622.84 L51.84,621.62 L51.52,620.40 L51.13,619.18 L50.67,617.96 L50.17,616.74 L49.65,615.52 L49.13,614.30 L48.62,613.08 L48.15,611.86 L47.71,610.64 L47.32,609.42 L46.97,608.20 L46.68,606.98 L46.44,605.76 L46.24,604.53 L46.07,603.31 L45.95,602.09 L45.85,600.87 L45.85,599.65 L45.85,598.43 L45.85,597.21 L45.85,595.99 L45.85,594.77 L45.85,593.55 L45.85,592.33 L45.85,591.11 L45.35,591.11 L45.35,592.33 L45.35,593.55 L45.35,594.77 L45.35,595.99 L45.35,597.21 L45.35,598.43 L45.35,599.65 L45.35,600.87 L45.25,602.09 L45.13,603.31 L44.96,604.53 L44.76,605.76 L44.52,606.98 L44.23,608.20 L43.88,609.42 L43.49,610.64 L43.05,611.86 L42.58,613.08 L42.07,614.30 L41.55,615.52 L41.03,616.74 L40.53,617.96 L40.07,619.18 L39.68,620.40 L39.36,621.62 L39.13,622.84 L39.01,624.06 L39.00,625.28 L39.10,626.50 L39.31,627.72 L39.61,628.94 L39.98,630.16 L40.40,631.38 L40.81,632.60 L41.17,633.82 L41.41,635.04 L41.47,636.26 L41.35,637.48 L41.09,638.70 L40.82,639.92 L40.69,641.14 L40.84,642.36 L41.46,643.58 L42.72,644.80 L43.89,646.02 L44.82,647.24 L45.35,648.46Z" fill="#fcaaaa" stroke="#111" stroke-width="0.8" stroke-linejoin="round"/><path d="M45.6,594.8 V648.5" stroke="#000" stroke-width="0.8"/><rect x="44.35" y="616.7" width="2.5" height="16.8" fill="#000"/><path d="M44.5,625.4 H46.7" stroke="#fff" stroke-width="0.75"/><path d="M61.05,650.95 L61.89,649.71 L62.94,648.46 L64.22,647.21 L65.66,645.97 L66.53,644.72 L67.05,643.47 L67.33,642.23 L67.40,640.98 L67.32,639.73 L67.18,638.49 L67.03,637.24 L66.94,635.99 L66.89,634.75 L66.88,633.50 L66.88,632.25 L66.86,631.01 L66.79,629.76 L66.67,628.51 L66.49,627.27 L66.25,626.02 L65.95,624.77 L65.61,623.53 L65.24,622.28 L64.85,621.03 L64.44,619.79 L64.04,618.54 L63.65,617.29 L63.27,616.05 L62.92,614.80 L62.59,613.55 L62.30,612.31 L62.04,611.06 L61.81,609.81 L61.61,608.57 L61.45,607.32 L61.31,606.07 L61.19,604.83 L61.10,603.58 L61.05,602.33 L61.05,601.09 L61.05,599.84 L61.05,598.59 L61.05,597.35 L61.05,596.10 L61.05,594.85 L61.05,593.61 L61.05,592.36 L60.55,592.36 L60.55,593.61 L60.55,594.85 L60.55,596.10 L60.55,597.35 L60.55,598.59 L60.55,599.84 L60.55,601.09 L60.55,602.33 L60.50,603.58 L60.41,604.83 L60.29,606.07 L60.15,607.32 L59.99,608.57 L59.79,609.81 L59.56,611.06 L59.30,612.31 L59.01,613.55 L58.68,614.80 L58.33,616.05 L57.95,617.29 L57.56,618.54 L57.16,619.79 L56.75,621.03 L56.36,622.28 L55.99,623.53 L55.65,624.77 L55.35,626.02 L55.11,627.27 L54.93,628.51 L54.81,629.76 L54.74,631.01 L54.72,632.25 L54.72,633.50 L54.71,634.75 L54.66,635.99 L54.57,637.24 L54.42,638.49 L54.28,639.73 L54.20,640.98 L54.27,642.23 L54.55,643.47 L55.07,644.72 L55.94,645.97 L57.38,647.21 L58.66,648.46 L59.71,649.71 L60.55,650.95Z" fill="#b31b1b" stroke="#111" stroke-width="0.8" stroke-linejoin="round"/><path d="M60.8,592.4 V651.0" stroke="#000" stroke-width="0.8"/><rect x="59.55" y="618.5" width="2.5" height="23.7" fill="#000"/><path d="M59.7,627.9 H61.9" stroke="#fff" stroke-width="0.75"/><path d="M76.15,647.21 L76.67,645.99 L77.43,644.77 L78.23,643.55 L78.89,642.33 L78.93,641.11 L78.63,639.89 L78.21,638.67 L77.81,637.45 L77.56,636.23 L77.52,635.01 L77.68,633.79 L78.02,632.57 L78.50,631.35 L79.07,630.13 L79.71,628.91 L80.36,627.69 L80.98,626.47 L81.55,625.25 L82.01,624.03 L82.33,622.81 L82.50,621.59 L82.49,620.37 L82.31,619.15 L81.97,617.93 L81.50,616.71 L80.93,615.49 L80.30,614.27 L79.64,613.05 L79.00,611.83 L78.41,610.61 L77.87,609.39 L77.41,608.17 L77.02,606.95 L76.72,605.73 L76.48,604.51 L76.30,603.29 L76.17,602.07 L76.15,600.85 L76.15,599.63 L76.15,598.41 L76.15,597.19 L76.15,595.97 L76.15,594.75 L76.15,593.53 L76.15,592.31 L76.15,591.09 L76.15,589.87 L75.65,589.87 L75.65,591.09 L75.65,592.31 L75.65,593.53 L75.65,594.75 L75.65,595.97 L75.65,597.19 L75.65,598.41 L75.65,599.63 L75.65,600.85 L75.63,602.07 L75.50,603.29 L75.32,604.51 L75.08,605.73 L74.78,606.95 L74.39,608.17 L73.93,609.39 L73.39,610.61 L72.80,611.83 L72.16,613.05 L71.50,614.27 L70.87,615.49 L70.30,616.71 L69.83,617.93 L69.49,619.15 L69.31,620.37 L69.30,621.59 L69.47,622.81 L69.79,624.03 L70.25,625.25 L70.82,626.47 L71.44,627.69 L72.09,628.91 L72.73,630.13 L73.30,631.35 L73.78,632.57 L74.12,633.79 L74.28,635.01 L74.24,636.23 L73.99,637.45 L73.59,638.67 L73.17,639.89 L72.87,641.11 L72.91,642.33 L73.57,643.55 L74.37,644.77 L75.13,645.99 L75.65,647.21Z" fill="#1f7ab8" stroke="#111" stroke-width="0.8" stroke-linejoin="round"/><path d="M75.9,595.4 V647.2" stroke="#000" stroke-width="0.8"/><rect x="74.65" y="614.8" width="2.5" height="15.0" fill="#000"/><path d="M74.8,622.3 H77.0" stroke="#fff" stroke-width="0.75"/><path d="M45.6,579.7 V578.1 H75.9 V579.7" fill="none" stroke="#111" stroke-width="0.9"/><text x="60.8" y="576.8" font-size="4.9" text-anchor="middle" fill="#222" stroke="#222" stroke-width="0.18" ><tspan font-style="italic">p</tspan> = 0.0437</text><path d="M60.8,588.4 V586.8 H75.9 V588.4" fill="none" stroke="#111" stroke-width="0.9"/><text x="68.3" y="585.5" font-size="4.9" text-anchor="middle" fill="#222" stroke="#222" stroke-width="0.18" ><tspan font-style="italic">p</tspan> = 0.0016</text><rect x="37.3" y="567.4" width="47.0" height="86.8" fill="none" stroke="#555" stroke-width="0.9"/><path d="M35.1,577.4H37.3M35.1,602.2H37.3M35.1,627.4H37.3M35.1,652.2H37.3" stroke="#333" stroke-width="0.8"/><text x="34.1" y="579.8" font-size="6.8" text-anchor="end" fill="#111" stroke="#111" stroke-width="0.18" >4</text><text x="34.1" y="604.6" font-size="6.8" text-anchor="end" fill="#111" stroke="#111" stroke-width="0.18" >2</text><text x="34.1" y="629.8" font-size="6.8" text-anchor="end" fill="#111" stroke="#111" stroke-width="0.18" >0</text><text x="34.1" y="654.6" font-size="6.8" text-anchor="end" fill="#111" stroke="#111" stroke-width="0.18" >-2</text><path d="M45.6,654.2v2M60.8,654.2v2M75.9,654.2v2" stroke="#333" stroke-width="0.8"/><text transform="translate(48.1,657.8) rotate(-90)" font-size="7.1" text-anchor="end" fill="#111">JCAR017com 10:90</text><text transform="translate(63.3,657.8) rotate(-90)" font-size="7.1" text-anchor="end" fill="#111">JCAR017com 50:50</text><text transform="translate(78.4,657.8) rotate(-90)" font-size="7.1" text-anchor="end" fill="#111">JCAR017</text><text x="125.8" y="565.8" font-size="8.3" text-anchor="middle" fill="#111" stroke="#111" stroke-width="0.18" >CCL5</text><path d="M111.05,651.38 L111.05,650.15 L111.05,648.91 L111.05,647.68 L111.05,646.44 L111.05,645.21 L111.05,643.97 L111.05,642.74 L111.05,641.50 L111.07,640.27 L111.14,639.03 L111.23,637.80 L111.33,636.56 L111.44,635.33 L111.56,634.09 L111.68,632.86 L111.80,631.62 L111.92,630.39 L112.04,629.15 L112.17,627.92 L112.32,626.68 L112.52,625.45 L112.78,624.21 L113.13,622.98 L113.59,621.74 L114.16,620.51 L114.83,619.27 L115.55,618.04 L116.24,616.80 L116.84,615.57 L117.24,614.33 L117.40,613.10 L117.27,611.86 L116.86,610.63 L116.22,609.39 L115.43,608.16 L114.57,606.92 L113.72,605.69 L112.96,604.45 L112.32,603.22 L111.82,601.98 L111.46,600.75 L111.20,599.51 L111.05,598.28 L111.05,597.04 L111.05,595.81 L111.05,594.57 L111.05,593.34 L110.55,593.34 L110.55,594.57 L110.55,595.81 L110.55,597.04 L110.55,598.28 L110.40,599.51 L110.14,600.75 L109.78,601.98 L109.28,603.22 L108.64,604.45 L107.88,605.69 L107.03,606.92 L106.17,608.16 L105.38,609.39 L104.74,610.63 L104.33,611.86 L104.20,613.10 L104.36,614.33 L104.76,615.57 L105.36,616.80 L106.05,618.04 L106.77,619.27 L107.44,620.51 L108.01,621.74 L108.47,622.98 L108.82,624.21 L109.08,625.45 L109.28,626.68 L109.43,627.92 L109.56,629.15 L109.68,630.39 L109.80,631.62 L109.92,632.86 L110.04,634.09 L110.16,635.33 L110.27,636.56 L110.37,637.80 L110.46,639.03 L110.53,640.27 L110.55,641.50 L110.55,642.74 L110.55,643.97 L110.55,645.21 L110.55,646.44 L110.55,647.68 L110.55,648.91 L110.55,650.15 L110.55,651.38Z" fill="#fcaaaa" stroke="#111" stroke-width="0.8" stroke-linejoin="round"/><path d="M110.8,596.4 V633.1" stroke="#000" stroke-width="0.8"/><rect x="109.55" y="609.6" width="2.5" height="10.2" fill="#000"/><path d="M109.7,613.7 H111.9" stroke="#fff" stroke-width="0.75"/><path d="M126.35,649.35 L126.35,648.24 L126.35,647.14 L126.35,646.03 L126.35,644.93 L126.35,643.82 L126.44,642.72 L126.57,641.61 L126.73,640.51 L126.94,639.40 L127.20,638.30 L127.51,637.19 L127.87,636.09 L128.29,634.98 L128.75,633.88 L129.25,632.77 L129.78,631.67 L130.33,630.56 L130.86,629.46 L131.36,628.35 L131.81,627.25 L132.19,626.14 L132.47,625.04 L132.64,623.93 L132.70,622.83 L132.63,621.72 L132.45,620.62 L132.16,619.51 L131.78,618.41 L131.33,617.30 L130.82,616.20 L130.28,615.09 L129.74,613.99 L129.21,612.88 L128.71,611.78 L128.25,610.67 L127.84,609.57 L127.48,608.46 L127.18,607.36 L126.92,606.25 L126.72,605.15 L126.56,604.04 L126.43,602.94 L126.35,601.83 L126.35,600.73 L126.35,599.62 L126.35,598.52 L126.35,597.41 L125.85,597.41 L125.85,598.52 L125.85,599.62 L125.85,600.73 L125.85,601.83 L125.77,602.94 L125.64,604.04 L125.48,605.15 L125.28,606.25 L125.02,607.36 L124.72,608.46 L124.36,609.57 L123.95,610.67 L123.49,611.78 L122.99,612.88 L122.46,613.99 L121.92,615.09 L121.38,616.20 L120.87,617.30 L120.42,618.41 L120.04,619.51 L119.75,620.62 L119.57,621.72 L119.50,622.83 L119.56,623.93 L119.73,625.04 L120.01,626.14 L120.39,627.25 L120.84,628.35 L121.34,629.46 L121.87,630.56 L122.42,631.67 L122.95,632.77 L123.45,633.88 L123.91,634.98 L124.33,636.09 L124.69,637.19 L125.00,638.30 L125.26,639.40 L125.47,640.51 L125.63,641.61 L125.76,642.72 L125.85,643.82 L125.85,644.93 L125.85,646.03 L125.85,647.14 L125.85,648.24 L125.85,649.35Z" fill="#b31b1b" stroke="#111" stroke-width="0.8" stroke-linejoin="round"/><path d="M126.1,598.5 V646.2" stroke="#000" stroke-width="0.8"/><rect x="124.85" y="615.7" width="2.5" height="13.2" fill="#000"/><path d="M125.0,622.9 H127.2" stroke="#fff" stroke-width="0.75"/><path d="M141.65,650.37 L141.65,649.09 L141.65,647.81 L141.65,646.53 L141.65,645.25 L141.65,643.97 L141.65,642.70 L141.65,641.42 L141.65,640.14 L141.65,638.86 L141.65,637.58 L141.65,636.30 L141.68,635.03 L141.73,633.75 L141.78,632.47 L141.82,631.19 L141.86,629.91 L141.90,628.63 L141.92,627.36 L141.94,626.08 L141.97,624.80 L142.02,623.52 L142.14,622.24 L142.35,620.96 L142.72,619.69 L143.29,618.41 L144.09,617.13 L145.06,615.85 L146.11,614.57 L147.07,613.29 L147.75,612.01 L148.00,610.74 L147.76,609.46 L147.08,608.18 L146.09,606.90 L144.99,605.62 L143.94,604.35 L143.07,603.07 L142.41,601.79 L141.97,600.51 L141.69,599.23 L141.65,597.95 L141.65,596.68 L141.65,595.40 L141.65,594.12 L141.65,592.84 L141.65,591.56 L141.65,590.28 L141.15,590.28 L141.15,591.56 L141.15,592.84 L141.15,594.12 L141.15,595.40 L141.15,596.68 L141.15,597.95 L141.11,599.23 L140.83,600.51 L140.39,601.79 L139.73,603.07 L138.86,604.35 L137.81,605.62 L136.71,606.90 L135.72,608.18 L135.04,609.46 L134.80,610.74 L135.05,612.01 L135.73,613.29 L136.69,614.57 L137.74,615.85 L138.71,617.13 L139.51,618.41 L140.08,619.69 L140.45,620.96 L140.66,622.24 L140.78,623.52 L140.83,624.80 L140.86,626.08 L140.88,627.36 L140.90,628.63 L140.94,629.91 L140.98,631.19 L141.02,632.47 L141.07,633.75 L141.12,635.03 L141.15,636.30 L141.15,637.58 L141.15,638.86 L141.15,640.14 L141.15,641.42 L141.15,642.70 L141.15,643.97 L141.15,645.25 L141.15,646.53 L141.15,647.81 L141.15,649.09 L141.15,650.37Z" fill="#1f7ab8" stroke="#111" stroke-width="0.8" stroke-linejoin="round"/><path d="M141.4,598.3 V624.0" stroke="#000" stroke-width="0.8"/><rect x="140.15" y="607.6" width="2.5" height="7.1" fill="#000"/><path d="M140.3,611.2 H142.5" stroke="#fff" stroke-width="0.75"/><path d="M110.8,576.0 V574.4 H141.4 V576.0" fill="none" stroke="#111" stroke-width="0.9"/><text x="126.1" y="573.1" font-size="4.9" text-anchor="middle" fill="#222" stroke="#222" stroke-width="0.18" ><tspan font-style="italic">p</tspan> = 0.0003</text><path d="M110.8,585.0 V583.4 H126.1 V585.0" fill="none" stroke="#111" stroke-width="0.9"/><text x="118.4" y="582.1" font-size="4.9" text-anchor="middle" fill="#222" stroke="#222" stroke-width="0.18" ><tspan font-style="italic">p</tspan> = 0.0001</text><path d="M126.1,591.8 V590.2 H141.4 V591.8" fill="none" stroke="#111" stroke-width="0.9"/><text x="133.8" y="588.9" font-size="4.9" text-anchor="middle" fill="#222" stroke="#222" stroke-width="0.18" ><tspan font-style="italic">p</tspan> < 0.0001</text><rect x="102.2" y="567.4" width="47.3" height="86.8" fill="none" stroke="#555" stroke-width="0.9"/><path d="M100.0,580.1H102.2M100.0,600.4H102.2M100.0,621.1H102.2M100.0,641.2H102.2" stroke="#333" stroke-width="0.8"/><text x="99.0" y="582.5" font-size="6.8" text-anchor="end" fill="#111" stroke="#111" stroke-width="0.18" >4</text><text x="99.0" y="602.8" font-size="6.8" text-anchor="end" fill="#111" stroke="#111" stroke-width="0.18" >2</text><text x="99.0" y="623.5" font-size="6.8" text-anchor="end" fill="#111" stroke="#111" stroke-width="0.18" >0</text><text x="99.0" y="643.6" font-size="6.8" text-anchor="end" fill="#111" stroke="#111" stroke-width="0.18" >-2</text><path d="M110.8,654.2v2M126.1,654.2v2M141.4,654.2v2" stroke="#333" stroke-width="0.8"/><text transform="translate(113.3,657.8) rotate(-90)" font-size="7.1" text-anchor="end" fill="#111">JCAR017com 10:90</text><text transform="translate(128.6,657.8) rotate(-90)" font-size="7.1" text-anchor="end" fill="#111">JCAR017com 50:50</text><text transform="translate(143.9,657.8) rotate(-90)" font-size="7.1" text-anchor="end" fill="#111">JCAR017</text><text x="189.9" y="565.6" font-size="8.3" text-anchor="middle" fill="#111" stroke="#111" stroke-width="0.18" >TOX</text><path d="M174.75,646.67 L174.75,645.52 L174.75,644.38 L174.75,643.24 L174.76,642.09 L174.87,640.95 L174.98,639.81 L175.10,638.66 L175.22,637.52 L175.32,636.38 L175.40,635.23 L175.47,634.09 L175.54,632.95 L175.62,631.80 L175.73,630.66 L175.92,629.52 L176.19,628.37 L176.56,627.23 L177.04,626.09 L177.61,624.94 L178.25,623.80 L178.93,622.66 L179.59,621.51 L180.19,620.37 L180.66,619.23 L180.98,618.09 L181.10,616.94 L181.02,615.80 L180.74,614.66 L180.29,613.51 L179.71,612.37 L179.04,611.23 L178.34,610.08 L177.64,608.94 L177.00,607.80 L176.42,606.65 L175.93,605.51 L175.54,604.37 L175.23,603.22 L174.99,602.08 L174.82,600.94 L174.75,599.79 L174.75,598.65 L174.75,597.51 L174.75,596.36 L174.75,595.22 L174.75,594.08 L174.75,592.94 L174.25,592.94 L174.25,594.08 L174.25,595.22 L174.25,596.36 L174.25,597.51 L174.25,598.65 L174.25,599.79 L174.18,600.94 L174.01,602.08 L173.77,603.22 L173.46,604.37 L173.07,605.51 L172.58,606.65 L172.00,607.80 L171.36,608.94 L170.66,610.08 L169.96,611.23 L169.29,612.37 L168.71,613.51 L168.26,614.66 L167.98,615.80 L167.90,616.94 L168.02,618.09 L168.34,619.23 L168.81,620.37 L169.41,621.51 L170.07,622.66 L170.75,623.80 L171.39,624.94 L171.96,626.09 L172.44,627.23 L172.81,628.37 L173.08,629.52 L173.27,630.66 L173.38,631.80 L173.46,632.95 L173.53,634.09 L173.60,635.23 L173.68,636.38 L173.78,637.52 L173.90,638.66 L174.02,639.81 L174.13,640.95 L174.24,642.09 L174.25,643.24 L174.25,644.38 L174.25,645.52 L174.25,646.67Z" fill="#fcaaaa" stroke="#111" stroke-width="0.8" stroke-linejoin="round"/><path d="M174.5,596.6 V636.0" stroke="#000" stroke-width="0.8"/><rect x="173.25" y="610.8" width="2.5" height="10.9" fill="#000"/><path d="M173.4,616.3 H175.6" stroke="#fff" stroke-width="0.75"/><path d="M189.65,651.64 L189.65,650.48 L189.80,649.31 L190.17,648.15 L190.72,646.98 L191.26,645.82 L191.80,644.65 L192.31,643.49 L192.75,642.33 L193.06,641.16 L193.26,640.00 L193.36,638.83 L193.44,637.67 L193.54,636.50 L193.71,635.34 L193.96,634.17 L194.27,633.01 L194.62,631.85 L194.98,630.68 L195.31,629.52 L195.59,628.35 L195.81,627.19 L195.95,626.02 L196.00,624.86 L195.96,623.70 L195.83,622.53 L195.62,621.37 L195.34,620.20 L194.99,619.04 L194.59,617.87 L194.15,616.71 L193.69,615.54 L193.22,614.38 L192.76,613.22 L192.31,612.05 L191.89,610.89 L191.50,609.72 L191.15,608.56 L190.84,607.39 L190.56,606.23 L190.33,605.07 L190.13,603.90 L189.97,602.74 L189.82,601.57 L189.67,600.41 L189.65,599.24 L189.65,598.08 L189.65,596.91 L189.15,596.91 L189.15,598.08 L189.15,599.24 L189.13,600.41 L188.98,601.57 L188.83,602.74 L188.67,603.90 L188.47,605.07 L188.24,606.23 L187.96,607.39 L187.65,608.56 L187.30,609.72 L186.91,610.89 L186.49,612.05 L186.04,613.22 L185.58,614.38 L185.11,615.54 L184.65,616.71 L184.21,617.87 L183.81,619.04 L183.46,620.20 L183.18,621.37 L182.97,622.53 L182.84,623.70 L182.80,624.86 L182.85,626.02 L182.99,627.19 L183.21,628.35 L183.49,629.52 L183.82,630.68 L184.18,631.85 L184.53,633.01 L184.84,634.17 L185.09,635.34 L185.26,636.50 L185.36,637.67 L185.44,638.83 L185.54,640.00 L185.74,641.16 L186.05,642.33 L186.49,643.49 L187.00,644.65 L187.54,645.82 L188.08,646.98 L188.63,648.15 L189.00,649.31 L189.15,650.48 L189.15,651.64Z" fill="#b31b1b" stroke="#111" stroke-width="0.8" stroke-linejoin="round"/><path d="M189.4,596.9 V651.6" stroke="#000" stroke-width="0.8"/><rect x="188.15" y="614.8" width="2.5" height="24.9" fill="#000"/><path d="M188.3,623.8 H190.5" stroke="#fff" stroke-width="0.75"/><path d="M205.05,645.67 L205.05,644.48 L205.05,643.30 L205.05,642.11 L205.05,640.93 L205.05,639.74 L205.13,638.56 L205.24,637.37 L205.35,636.19 L205.48,635.00 L205.61,633.81 L205.73,632.63 L205.85,631.44 L205.98,630.26 L206.12,629.07 L206.31,627.89 L206.57,626.70 L206.92,625.52 L207.40,624.33 L208.00,623.14 L208.70,621.96 L209.45,620.77 L210.19,619.59 L210.81,618.40 L211.23,617.22 L211.40,616.03 L211.28,614.85 L210.87,613.66 L210.24,612.48 L209.45,611.29 L208.59,610.10 L207.75,608.92 L206.99,607.73 L206.36,606.55 L205.85,605.36 L205.48,604.18 L205.22,602.99 L205.05,601.81 L205.05,600.62 L205.05,599.43 L205.05,598.25 L205.05,597.06 L205.05,595.88 L205.05,594.69 L205.05,593.51 L205.05,592.32 L205.05,591.14 L205.05,589.95 L204.55,589.95 L204.55,591.14 L204.55,592.32 L204.55,593.51 L204.55,594.69 L204.55,595.88 L204.55,597.06 L204.55,598.25 L204.55,599.43 L204.55,600.62 L204.55,601.81 L204.38,602.99 L204.12,604.18 L203.75,605.36 L203.24,606.55 L202.61,607.73 L201.85,608.92 L201.01,610.10 L200.15,611.29 L199.36,612.48 L198.73,613.66 L198.32,614.85 L198.20,616.03 L198.37,617.22 L198.79,618.40 L199.41,619.59 L200.15,620.77 L200.90,621.96 L201.60,623.14 L202.20,624.33 L202.68,625.52 L203.03,626.70 L203.29,627.89 L203.48,629.07 L203.62,630.26 L203.75,631.44 L203.87,632.63 L203.99,633.81 L204.12,635.00 L204.25,636.19 L204.36,637.37 L204.47,638.56 L204.55,639.74 L204.55,640.93 L204.55,642.11 L204.55,643.30 L204.55,644.48 L204.55,645.67Z" fill="#1f7ab8" stroke="#111" stroke-width="0.8" stroke-linejoin="round"/><path d="M204.8,594.3 V637.3" stroke="#000" stroke-width="0.8"/><rect x="203.55" y="609.9" width="2.5" height="11.9" fill="#000"/><path d="M203.7,615.8 H205.9" stroke="#fff" stroke-width="0.75"/><path d="M174.5,579.6 V578.0 H189.4 V579.6" fill="none" stroke="#111" stroke-width="0.9"/><text x="181.9" y="576.7" font-size="4.9" text-anchor="middle" fill="#222" stroke="#222" stroke-width="0.18" ><tspan font-style="italic">p</tspan> < 0.0001</text><path d="M189.4,587.1 V585.5 H204.8 V587.1" fill="none" stroke="#111" stroke-width="0.9"/><text x="197.1" y="584.2" font-size="4.9" text-anchor="middle" fill="#222" stroke="#222" stroke-width="0.18" ><tspan font-style="italic">p</tspan> < 0.0001</text><rect x="166.8" y="567.2" width="46.2" height="86.8" fill="none" stroke="#555" stroke-width="0.9"/><path d="M164.6,580.0H166.8M164.6,600.0H166.8M164.6,619.9H166.8M164.6,639.7H166.8" stroke="#333" stroke-width="0.8"/><text x="163.6" y="582.4" font-size="6.8" text-anchor="end" fill="#111" stroke="#111" stroke-width="0.18" >4</text><text x="163.6" y="602.4" font-size="6.8" text-anchor="end" fill="#111" stroke="#111" stroke-width="0.18" >2</text><text x="163.6" y="622.3" font-size="6.8" text-anchor="end" fill="#111" stroke="#111" stroke-width="0.18" >0</text><text x="163.6" y="642.1" font-size="6.8" text-anchor="end" fill="#111" stroke="#111" stroke-width="0.18" >-2</text><path d="M174.5,654.0v2M189.4,654.0v2M204.8,654.0v2" stroke="#333" stroke-width="0.8"/><text transform="translate(177.0,657.6) rotate(-90)" font-size="7.1" text-anchor="end" fill="#111">JCAR017com 10:90</text><text transform="translate(191.9,657.6) rotate(-90)" font-size="7.1" text-anchor="end" fill="#111">JCAR017com 50:50</text><text transform="translate(207.3,657.6) rotate(-90)" font-size="7.1" text-anchor="end" fill="#111">JCAR017</text><text x="255.7" y="565.0" font-size="8.3" text-anchor="middle" fill="#111" stroke="#111" stroke-width="0.18" >IL10RA</text><path d="M240.15,650.03 L240.26,648.94 L240.75,647.86 L241.52,646.77 L242.61,645.68 L243.61,644.59 L244.54,643.50 L245.38,642.41 L246.03,641.33 L246.42,640.24 L246.50,639.15 L246.32,638.06 L245.94,636.97 L245.47,635.88 L245.00,634.79 L244.59,633.71 L244.28,632.62 L244.06,631.53 L243.88,630.44 L243.71,629.35 L243.51,628.26 L243.26,627.18 L242.95,626.09 L242.59,625.00 L242.20,623.91 L241.80,622.82 L241.42,621.73 L241.08,620.65 L240.78,619.56 L240.54,618.47 L240.35,617.38 L240.20,616.29 L240.15,615.20 L240.15,614.12 L240.15,613.03 L240.15,611.94 L240.15,610.85 L240.15,609.76 L240.15,608.67 L240.15,607.58 L240.15,606.50 L240.15,605.41 L240.15,604.32 L240.15,603.23 L240.15,602.14 L240.15,601.05 L240.15,599.97 L240.15,598.88 L239.65,598.88 L239.65,599.97 L239.65,601.05 L239.65,602.14 L239.65,603.23 L239.65,604.32 L239.65,605.41 L239.65,606.50 L239.65,607.58 L239.65,608.67 L239.65,609.76 L239.65,610.85 L239.65,611.94 L239.65,613.03 L239.65,614.12 L239.65,615.20 L239.60,616.29 L239.45,617.38 L239.26,618.47 L239.02,619.56 L238.72,620.65 L238.38,621.73 L238.00,622.82 L237.60,623.91 L237.21,625.00 L236.85,626.09 L236.54,627.18 L236.29,628.26 L236.09,629.35 L235.92,630.44 L235.74,631.53 L235.52,632.62 L235.21,633.71 L234.80,634.79 L234.33,635.88 L233.86,636.97 L233.48,638.06 L233.30,639.15 L233.38,640.24 L233.77,641.33 L234.42,642.41 L235.26,643.50 L236.19,644.59 L237.19,645.68 L238.28,646.77 L239.05,647.86 L239.54,648.94 L239.65,650.03Z" fill="#fcaaaa" stroke="#111" stroke-width="0.8" stroke-linejoin="round"/><path d="M239.9,602.7 V650.0" stroke="#000" stroke-width="0.8"/><rect x="238.65" y="624.5" width="2.5" height="16.7" fill="#000"/><path d="M238.8,632.3 H241.0" stroke="#fff" stroke-width="0.75"/><path d="M255.55,650.03 L255.60,649.24 L255.95,648.44 L256.44,647.65 L257.11,646.85 L257.72,646.06 L258.34,645.26 L259.00,644.46 L259.67,643.67 L260.31,642.87 L260.88,642.08 L261.35,641.28 L261.68,640.49 L261.86,639.69 L261.90,638.90 L261.80,638.10 L261.59,637.31 L261.29,636.51 L260.94,635.72 L260.56,634.92 L260.17,634.13 L259.78,633.33 L259.41,632.53 L259.03,631.74 L258.67,630.94 L258.31,630.15 L257.95,629.35 L257.60,628.56 L257.26,627.76 L256.93,626.97 L256.64,626.17 L256.37,625.38 L256.13,624.58 L255.93,623.79 L255.77,622.99 L255.64,622.19 L255.55,621.40 L255.55,620.60 L255.55,619.81 L255.55,619.01 L255.55,618.22 L255.55,617.42 L255.55,616.63 L255.55,615.83 L255.55,615.04 L255.55,614.24 L255.55,613.45 L255.55,612.65 L255.05,612.65 L255.05,613.45 L255.05,614.24 L255.05,615.04 L255.05,615.83 L255.05,616.63 L255.05,617.42 L255.05,618.22 L255.05,619.01 L255.05,619.81 L255.05,620.60 L255.05,621.40 L254.96,622.19 L254.83,622.99 L254.67,623.79 L254.47,624.58 L254.23,625.38 L253.96,626.17 L253.67,626.97 L253.34,627.76 L253.00,628.56 L252.65,629.35 L252.29,630.15 L251.93,630.94 L251.57,631.74 L251.19,632.53 L250.82,633.33 L250.43,634.13 L250.04,634.92 L249.66,635.72 L249.31,636.51 L249.01,637.31 L248.80,638.10 L248.70,638.90 L248.74,639.69 L248.92,640.49 L249.25,641.28 L249.72,642.08 L250.29,642.87 L250.93,643.67 L251.60,644.46 L252.26,645.26 L252.88,646.06 L253.49,646.85 L254.16,647.65 L254.65,648.44 L255.00,649.24 L255.05,650.03Z" fill="#b31b1b" stroke="#111" stroke-width="0.8" stroke-linejoin="round"/><path d="M255.3,612.6 V650.0" stroke="#000" stroke-width="0.8"/><rect x="254.05" y="627.4" width="2.5" height="14.8" fill="#000"/><path d="M254.2,634.3 H256.4" stroke="#fff" stroke-width="0.75"/><path d="M270.85,650.03 L270.85,648.71 L271.07,647.40 L271.70,646.08 L272.69,644.76 L273.63,643.44 L274.32,642.12 L274.65,640.80 L274.60,639.48 L274.31,638.16 L274.01,636.85 L273.92,635.53 L274.09,634.21 L274.51,632.89 L275.06,631.57 L275.66,630.25 L276.23,628.93 L276.70,627.62 L277.04,626.30 L277.20,624.98 L277.18,623.66 L276.98,622.34 L276.61,621.02 L276.11,619.70 L275.51,618.39 L274.86,617.07 L274.19,615.75 L273.54,614.43 L272.94,613.11 L272.41,611.79 L271.96,610.47 L271.60,609.15 L271.31,607.84 L271.09,606.52 L270.93,605.20 L270.85,603.88 L270.85,602.56 L270.85,601.24 L270.85,599.92 L270.85,598.61 L270.85,597.29 L270.85,595.97 L270.85,594.65 L270.85,593.33 L270.85,592.01 L270.85,590.69 L270.85,589.37 L270.85,588.06 L270.35,588.06 L270.35,589.37 L270.35,590.69 L270.35,592.01 L270.35,593.33 L270.35,594.65 L270.35,595.97 L270.35,597.29 L270.35,598.61 L270.35,599.92 L270.35,601.24 L270.35,602.56 L270.35,603.88 L270.27,605.20 L270.11,606.52 L269.89,607.84 L269.60,609.15 L269.24,610.47 L268.79,611.79 L268.26,613.11 L267.66,614.43 L267.01,615.75 L266.34,617.07 L265.69,618.39 L265.09,619.70 L264.59,621.02 L264.22,622.34 L264.02,623.66 L264.00,624.98 L264.16,626.30 L264.50,627.62 L264.97,628.93 L265.54,630.25 L266.14,631.57 L266.69,632.89 L267.11,634.21 L267.28,635.53 L267.19,636.85 L266.89,638.16 L266.60,639.48 L266.55,640.80 L266.88,642.12 L267.57,643.44 L268.51,644.76 L269.50,646.08 L270.13,647.40 L270.35,648.71 L270.35,650.03Z" fill="#1f7ab8" stroke="#111" stroke-width="0.8" stroke-linejoin="round"/><path d="M270.6,594.8 V650.0" stroke="#000" stroke-width="0.8"/><rect x="269.35" y="616.6" width="2.5" height="16.7" fill="#000"/><path d="M269.5,624.9 H271.7" stroke="#fff" stroke-width="0.75"/><path d="M239.9,577.9 V576.3 H270.6 V577.9" fill="none" stroke="#111" stroke-width="0.9"/><text x="255.2" y="575.0" font-size="4.9" text-anchor="middle" fill="#222" stroke="#222" stroke-width="0.18" ><tspan font-style="italic">p</tspan> = 0.0001</text><path d="M255.3,586.6 V585.0 H270.6 V586.6" fill="none" stroke="#111" stroke-width="0.9"/><text x="263.0" y="583.7" font-size="4.9" text-anchor="middle" fill="#222" stroke="#222" stroke-width="0.18" ><tspan font-style="italic">p</tspan> = 0.0001</text><rect x="232.2" y="566.6" width="47.0" height="86.6" fill="none" stroke="#555" stroke-width="0.9"/><path d="M230.0,573.3H232.2M230.0,593.1H232.2M230.0,612.7H232.2M230.0,632.1H232.2M230.0,652.0H232.2" stroke="#333" stroke-width="0.8"/><text x="229.0" y="575.7" font-size="6.8" text-anchor="end" fill="#111" stroke="#111" stroke-width="0.18" >6</text><text x="229.0" y="595.5" font-size="6.8" text-anchor="end" fill="#111" stroke="#111" stroke-width="0.18" >4</text><text x="229.0" y="615.1" font-size="6.8" text-anchor="end" fill="#111" stroke="#111" stroke-width="0.18" >2</text><text x="229.0" y="634.5" font-size="6.8" text-anchor="end" fill="#111" stroke="#111" stroke-width="0.18" >0</text><text x="229.0" y="654.4" font-size="6.8" text-anchor="end" fill="#111" stroke="#111" stroke-width="0.18" >-2</text><path d="M239.9,653.2v2M255.3,653.2v2M270.6,653.2v2" stroke="#333" stroke-width="0.8"/><text transform="translate(242.4,656.8) rotate(-90)" font-size="7.1" text-anchor="end" fill="#111">JCAR017com 10:90</text><text transform="translate(257.8,656.8) rotate(-90)" font-size="7.1" text-anchor="end" fill="#111">JCAR017com 50:50</text><text transform="translate(273.1,656.8) rotate(-90)" font-size="7.1" text-anchor="end" fill="#111">JCAR017</text><text x="61.7" y="734.3" font-size="8.3" text-anchor="middle" fill="#111" stroke="#111" stroke-width="0.18" >SIRPG</text><path d="M46.45,819.15 L46.78,817.93 L47.55,816.71 L48.66,815.49 L50.10,814.27 L51.23,813.05 L52.06,811.83 L52.62,810.60 L52.80,809.38 L52.61,808.16 L52.14,806.94 L51.49,805.72 L50.82,804.50 L50.23,803.27 L49.79,802.05 L49.50,800.83 L49.35,799.61 L49.28,798.39 L49.24,797.17 L49.20,795.94 L49.12,794.72 L48.99,793.50 L48.82,792.28 L48.60,791.06 L48.35,789.84 L48.09,788.61 L47.82,787.39 L47.55,786.17 L47.31,784.95 L47.08,783.73 L46.89,782.51 L46.73,781.28 L46.59,780.06 L46.49,778.84 L46.45,777.62 L46.45,776.40 L46.45,775.18 L46.45,773.95 L46.45,772.73 L46.45,771.51 L46.45,770.29 L46.45,769.07 L46.45,767.85 L46.45,766.62 L46.45,765.40 L46.45,764.18 L46.45,762.96 L46.45,761.74 L45.95,761.74 L45.95,762.96 L45.95,764.18 L45.95,765.40 L45.95,766.62 L45.95,767.85 L45.95,769.07 L45.95,770.29 L45.95,771.51 L45.95,772.73 L45.95,773.95 L45.95,775.18 L45.95,776.40 L45.95,777.62 L45.91,778.84 L45.81,780.06 L45.67,781.28 L45.51,782.51 L45.32,783.73 L45.09,784.95 L44.85,786.17 L44.58,787.39 L44.31,788.61 L44.05,789.84 L43.80,791.06 L43.58,792.28 L43.41,793.50 L43.28,794.72 L43.20,795.94 L43.16,797.17 L43.12,798.39 L43.05,799.61 L42.90,800.83 L42.61,802.05 L42.17,803.27 L41.58,804.50 L40.91,805.72 L40.26,806.94 L39.79,808.16 L39.60,809.38 L39.78,810.60 L40.34,811.83 L41.17,813.05 L42.30,814.27 L43.74,815.49 L44.85,816.71 L45.62,817.93 L45.95,819.15Z" fill="#fcaaaa" stroke="#111" stroke-width="0.8" stroke-linejoin="round"/><path d="M46.2,768.9 V819.2" stroke="#000" stroke-width="0.8"/><rect x="44.95" y="792.7" width="2.5" height="18.4" fill="#000"/><path d="M45.1,800.8 H47.3" stroke="#fff" stroke-width="0.75"/><path d="M61.75,820.30 L61.84,819.25 L62.31,818.20 L63.01,817.15 L64.00,816.10 L64.93,815.05 L65.82,814.00 L66.67,812.95 L67.39,811.90 L67.89,810.85 L68.10,809.80 L68.02,808.75 L67.67,807.70 L67.13,806.65 L66.48,805.59 L65.83,804.54 L65.24,803.49 L64.76,802.44 L64.40,801.39 L64.16,800.34 L63.99,799.29 L63.88,798.24 L63.79,797.19 L63.70,796.14 L63.58,795.09 L63.44,794.04 L63.28,792.99 L63.09,791.94 L62.90,790.89 L62.70,789.84 L62.50,788.79 L62.32,787.73 L62.15,786.68 L62.01,785.63 L61.89,784.58 L61.79,783.53 L61.75,782.48 L61.75,781.43 L61.75,780.38 L61.75,779.33 L61.75,778.28 L61.75,777.23 L61.75,776.18 L61.75,775.13 L61.75,774.08 L61.75,773.03 L61.75,771.98 L61.75,770.93 L61.25,770.93 L61.25,771.98 L61.25,773.03 L61.25,774.08 L61.25,775.13 L61.25,776.18 L61.25,777.23 L61.25,778.28 L61.25,779.33 L61.25,780.38 L61.25,781.43 L61.25,782.48 L61.21,783.53 L61.11,784.58 L60.99,785.63 L60.85,786.68 L60.68,787.73 L60.50,788.79 L60.30,789.84 L60.10,790.89 L59.91,791.94 L59.72,792.99 L59.56,794.04 L59.42,795.09 L59.30,796.14 L59.21,797.19 L59.12,798.24 L59.01,799.29 L58.84,800.34 L58.60,801.39 L58.24,802.44 L57.76,803.49 L57.17,804.54 L56.52,805.59 L55.87,806.65 L55.33,807.70 L54.98,808.75 L54.90,809.80 L55.11,810.85 L55.61,811.90 L56.33,812.95 L57.18,814.00 L58.07,815.05 L59.00,816.10 L59.99,817.15 L60.69,818.20 L61.16,819.25 L61.25,820.30Z" fill="#b31b1b" stroke="#111" stroke-width="0.8" stroke-linejoin="round"/><path d="M61.5,771.5 V820.3" stroke="#000" stroke-width="0.8"/><rect x="60.25" y="793.9" width="2.5" height="17.2" fill="#000"/><path d="M60.4,804.8 H62.6" stroke="#fff" stroke-width="0.75"/><path d="M77.05,819.15 L77.37,817.84 L78.10,816.52 L79.12,815.20 L80.44,813.88 L81.46,812.56 L82.22,811.24 L82.73,809.92 L82.98,808.60 L82.98,807.28 L82.84,805.96 L82.66,804.64 L82.54,803.32 L82.52,802.00 L82.62,800.68 L82.80,799.36 L83.02,798.05 L83.21,796.73 L83.35,795.41 L83.40,794.09 L83.36,792.77 L83.21,791.45 L82.97,790.13 L82.64,788.81 L82.24,787.49 L81.79,786.17 L81.30,784.85 L80.79,783.53 L80.28,782.21 L79.79,780.89 L79.32,779.57 L78.90,778.25 L78.52,776.94 L78.18,775.62 L77.89,774.30 L77.65,772.98 L77.45,771.66 L77.29,770.34 L77.16,769.02 L77.07,767.70 L77.05,766.38 L77.05,765.06 L77.05,763.74 L77.05,762.42 L77.05,761.10 L77.05,759.78 L77.05,758.46 L77.05,757.15 L76.55,757.15 L76.55,758.46 L76.55,759.78 L76.55,761.10 L76.55,762.42 L76.55,763.74 L76.55,765.06 L76.55,766.38 L76.53,767.70 L76.44,769.02 L76.31,770.34 L76.15,771.66 L75.95,772.98 L75.71,774.30 L75.42,775.62 L75.08,776.94 L74.70,778.25 L74.28,779.57 L73.81,780.89 L73.32,782.21 L72.81,783.53 L72.30,784.85 L71.81,786.17 L71.36,787.49 L70.96,788.81 L70.63,790.13 L70.39,791.45 L70.24,792.77 L70.20,794.09 L70.25,795.41 L70.39,796.73 L70.58,798.05 L70.80,799.36 L70.98,800.68 L71.08,802.00 L71.06,803.32 L70.94,804.64 L70.76,805.96 L70.62,807.28 L70.62,808.60 L70.87,809.92 L71.38,811.24 L72.14,812.56 L73.16,813.88 L74.48,815.20 L75.50,816.52 L76.23,817.84 L76.55,819.15Z" fill="#1f7ab8" stroke="#111" stroke-width="0.8" stroke-linejoin="round"/><path d="M76.8,757.1 V819.2" stroke="#000" stroke-width="0.8"/><rect x="75.55" y="782.4" width="2.5" height="28.7" fill="#000"/><path d="M75.7,793.3 H77.9" stroke="#fff" stroke-width="0.75"/><path d="M46.2,746.1 V744.5 H76.8 V746.1" fill="none" stroke="#111" stroke-width="0.9"/><text x="61.5" y="743.2" font-size="4.9" text-anchor="middle" fill="#222" stroke="#222" stroke-width="0.18" ><tspan font-style="italic">p</tspan> < 0.0001</text><path d="M61.5,753.9 V752.3 H76.8 V753.9" fill="none" stroke="#111" stroke-width="0.9"/><text x="69.2" y="751.0" font-size="4.9" text-anchor="middle" fill="#222" stroke="#222" stroke-width="0.18" ><tspan font-style="italic">p</tspan> < 0.0001</text><rect x="38.4" y="735.9" width="46.6" height="87.3" fill="none" stroke="#555" stroke-width="0.9"/><path d="M36.2,753.7H38.4M36.2,776.6H38.4M36.2,799.7H38.4M36.2,822.6H38.4" stroke="#333" stroke-width="0.8"/><text x="35.2" y="756.1" font-size="6.8" text-anchor="end" fill="#111" stroke="#111" stroke-width="0.18" >4</text><text x="35.2" y="779.0" font-size="6.8" text-anchor="end" fill="#111" stroke="#111" stroke-width="0.18" >2</text><text x="35.2" y="802.1" font-size="6.8" text-anchor="end" fill="#111" stroke="#111" stroke-width="0.18" >0</text><text x="35.2" y="825.0" font-size="6.8" text-anchor="end" fill="#111" stroke="#111" stroke-width="0.18" >-2</text><path d="M46.2,823.2v2M61.5,823.2v2M76.8,823.2v2" stroke="#333" stroke-width="0.8"/><text transform="translate(48.7,826.8) rotate(-90)" font-size="7.1" text-anchor="end" fill="#111">JCAR017com 10:90</text><text transform="translate(64.0,826.8) rotate(-90)" font-size="7.1" text-anchor="end" fill="#111">JCAR017com 50:50</text><text transform="translate(79.3,826.8) rotate(-90)" font-size="7.1" text-anchor="end" fill="#111">JCAR017</text><text x="125.8" y="734.3" font-size="8.3" text-anchor="middle" fill="#111" stroke="#111" stroke-width="0.18" >LYST</text><path d="M110.75,815.33 L110.75,814.13 L110.75,812.92 L110.75,811.72 L110.75,810.52 L110.75,809.32 L110.77,808.12 L110.83,806.91 L110.90,805.71 L110.97,804.51 L111.04,803.31 L111.12,802.11 L111.20,800.90 L111.30,799.70 L111.41,798.50 L111.56,797.30 L111.74,796.10 L111.98,794.89 L112.28,793.69 L112.65,792.49 L113.09,791.29 L113.60,790.09 L114.15,788.88 L114.74,787.68 L115.32,786.48 L115.87,785.28 L116.36,784.07 L116.74,782.87 L116.99,781.67 L117.10,780.47 L117.05,779.27 L116.84,778.06 L116.49,776.86 L116.03,775.66 L115.48,774.46 L114.88,773.26 L114.25,772.05 L113.64,770.85 L113.07,769.65 L112.55,768.45 L112.09,767.25 L111.71,766.04 L111.40,764.84 L111.13,763.64 L110.87,762.44 L110.75,761.24 L110.75,760.03 L110.75,758.83 L110.25,758.83 L110.25,760.03 L110.25,761.24 L110.13,762.44 L109.87,763.64 L109.60,764.84 L109.29,766.04 L108.91,767.25 L108.45,768.45 L107.93,769.65 L107.36,770.85 L106.75,772.05 L106.12,773.26 L105.52,774.46 L104.97,775.66 L104.51,776.86 L104.16,778.06 L103.95,779.27 L103.90,780.47 L104.01,781.67 L104.26,782.87 L104.64,784.07 L105.13,785.28 L105.68,786.48 L106.26,787.68 L106.85,788.88 L107.40,790.09 L107.91,791.29 L108.35,792.49 L108.72,793.69 L109.02,794.89 L109.26,796.10 L109.44,797.30 L109.59,798.50 L109.70,799.70 L109.80,800.90 L109.88,802.11 L109.96,803.31 L110.03,804.51 L110.10,805.71 L110.17,806.91 L110.23,808.12 L110.25,809.32 L110.25,810.52 L110.25,811.72 L110.25,812.92 L110.25,814.13 L110.25,815.33Z" fill="#fcaaaa" stroke="#111" stroke-width="0.8" stroke-linejoin="round"/><path d="M110.5,761.7 V798.7" stroke="#000" stroke-width="0.8"/><rect x="109.25" y="775.1" width="2.5" height="10.3" fill="#000"/><path d="M109.4,780.7 H111.6" stroke="#fff" stroke-width="0.75"/><path d="M126.15,819.61 L126.15,818.37 L126.15,817.13 L126.15,815.89 L126.15,814.65 L126.15,813.42 L126.15,812.18 L126.15,810.94 L126.19,809.70 L126.31,808.46 L126.45,807.22 L126.63,805.98 L126.85,804.75 L127.12,803.51 L127.45,802.27 L127.82,801.03 L128.24,799.79 L128.70,798.55 L129.20,797.32 L129.72,796.08 L130.24,794.84 L130.76,793.60 L131.24,792.36 L131.66,791.12 L132.02,789.88 L132.29,788.65 L132.45,787.41 L132.50,786.17 L132.44,784.93 L132.27,783.69 L131.99,782.45 L131.63,781.22 L131.20,779.98 L130.71,778.74 L130.20,777.50 L129.67,776.26 L129.15,775.02 L128.66,773.78 L128.20,772.55 L127.78,771.31 L127.41,770.07 L127.10,768.83 L126.83,767.59 L126.59,766.35 L126.34,765.12 L126.15,763.88 L126.15,762.64 L126.15,761.40 L125.65,761.40 L125.65,762.64 L125.65,763.88 L125.46,765.12 L125.21,766.35 L124.97,767.59 L124.70,768.83 L124.39,770.07 L124.02,771.31 L123.60,772.55 L123.14,773.78 L122.65,775.02 L122.13,776.26 L121.60,777.50 L121.09,778.74 L120.60,779.98 L120.17,781.22 L119.81,782.45 L119.53,783.69 L119.36,784.93 L119.30,786.17 L119.35,787.41 L119.51,788.65 L119.78,789.88 L120.14,791.12 L120.56,792.36 L121.04,793.60 L121.56,794.84 L122.08,796.08 L122.60,797.32 L123.10,798.55 L123.56,799.79 L123.98,801.03 L124.35,802.27 L124.68,803.51 L124.95,804.75 L125.17,805.98 L125.35,807.22 L125.49,808.46 L125.61,809.70 L125.65,810.94 L125.65,812.18 L125.65,813.42 L125.65,814.65 L125.65,815.89 L125.65,817.13 L125.65,818.37 L125.65,819.61Z" fill="#b31b1b" stroke="#111" stroke-width="0.8" stroke-linejoin="round"/><path d="M125.9,761.4 V815.9" stroke="#000" stroke-width="0.8"/><rect x="124.65" y="778.5" width="2.5" height="16.3" fill="#000"/><path d="M124.8,786.2 H127.0" stroke="#fff" stroke-width="0.75"/><path d="M141.45,813.62 L141.45,812.47 L141.45,811.32 L141.45,810.17 L141.45,809.03 L141.45,807.88 L141.45,806.73 L141.45,805.58 L141.45,804.44 L141.45,803.29 L141.45,802.14 L141.49,800.99 L141.53,799.85 L141.56,798.70 L141.58,797.55 L141.60,796.40 L141.61,795.26 L141.63,794.11 L141.65,792.96 L141.69,791.82 L141.77,790.67 L141.93,789.52 L142.18,788.37 L142.55,787.23 L143.08,786.08 L143.74,784.93 L144.54,783.78 L145.40,782.64 L146.25,781.49 L147.00,780.34 L147.54,779.19 L147.80,778.05 L147.74,776.90 L147.37,775.75 L146.73,774.60 L145.92,773.46 L145.04,772.31 L144.16,771.16 L143.38,770.01 L142.72,768.87 L142.21,767.72 L141.84,766.57 L141.59,765.43 L141.45,764.28 L141.45,763.13 L141.45,761.98 L141.45,760.84 L141.45,759.69 L140.95,759.69 L140.95,760.84 L140.95,761.98 L140.95,763.13 L140.95,764.28 L140.81,765.43 L140.56,766.57 L140.19,767.72 L139.68,768.87 L139.02,770.01 L138.24,771.16 L137.36,772.31 L136.48,773.46 L135.67,774.60 L135.03,775.75 L134.66,776.90 L134.60,778.05 L134.86,779.19 L135.40,780.34 L136.15,781.49 L137.00,782.64 L137.86,783.78 L138.66,784.93 L139.32,786.08 L139.85,787.23 L140.22,788.37 L140.47,789.52 L140.63,790.67 L140.71,791.82 L140.75,792.96 L140.77,794.11 L140.79,795.26 L140.80,796.40 L140.82,797.55 L140.84,798.70 L140.87,799.85 L140.91,800.99 L140.95,802.14 L140.95,803.29 L140.95,804.44 L140.95,805.58 L140.95,806.73 L140.95,807.88 L140.95,809.03 L140.95,810.17 L140.95,811.32 L140.95,812.47 L140.95,813.62Z" fill="#1f7ab8" stroke="#111" stroke-width="0.8" stroke-linejoin="round"/><path d="M141.2,763.4 V791.1" stroke="#000" stroke-width="0.8"/><rect x="139.95" y="773.4" width="2.5" height="7.7" fill="#000"/><path d="M140.1,777.7 H142.3" stroke="#fff" stroke-width="0.75"/><path d="M110.5,744.5 V742.9 H141.2 V744.5" fill="none" stroke="#111" stroke-width="0.9"/><text x="125.8" y="741.6" font-size="4.9" text-anchor="middle" fill="#222" stroke="#222" stroke-width="0.18" ><tspan font-style="italic">p</tspan> < 0.0001</text><path d="M110.5,752.3 V750.7 H125.9 V752.3" fill="none" stroke="#111" stroke-width="0.9"/><text x="118.2" y="749.4" font-size="4.9" text-anchor="middle" fill="#222" stroke="#222" stroke-width="0.18" ><tspan font-style="italic">p</tspan> < 0.0001</text><path d="M125.9,759.4 V757.8 H141.2 V759.4" fill="none" stroke="#111" stroke-width="0.9"/><text x="133.6" y="756.5" font-size="4.9" text-anchor="middle" fill="#222" stroke="#222" stroke-width="0.18" ><tspan font-style="italic">p</tspan> < 0.0001</text><rect x="102.4" y="735.9" width="46.8" height="87.3" fill="none" stroke="#555" stroke-width="0.9"/><path d="M100.2,740.0H102.4M100.2,761.3H102.4M100.2,782.5H102.4M100.2,804.2H102.4" stroke="#333" stroke-width="0.8"/><text x="99.2" y="742.4" font-size="6.8" text-anchor="end" fill="#111" stroke="#111" stroke-width="0.18" >5.0</text><text x="99.2" y="763.7" font-size="6.8" text-anchor="end" fill="#111" stroke="#111" stroke-width="0.18" >2.5</text><text x="99.2" y="784.9" font-size="6.8" text-anchor="end" fill="#111" stroke="#111" stroke-width="0.18" >0.0</text><text x="99.2" y="806.6" font-size="6.8" text-anchor="end" fill="#111" stroke="#111" stroke-width="0.18" >-2.5</text><path d="M110.5,823.2v2M125.9,823.2v2M141.2,823.2v2" stroke="#333" stroke-width="0.8"/><text transform="translate(113.0,826.8) rotate(-90)" font-size="7.1" text-anchor="end" fill="#111">JCAR017com 10:90</text><text transform="translate(128.4,826.8) rotate(-90)" font-size="7.1" text-anchor="end" fill="#111">JCAR017com 50:50</text><text transform="translate(143.7,826.8) rotate(-90)" font-size="7.1" text-anchor="end" fill="#111">JCAR017</text><text x="190.3" y="734.3" font-size="8.3" text-anchor="middle" fill="#111" stroke="#111" stroke-width="0.18" >TTN</text><path d="M175.15,813.53 L177.07,812.51 L178.81,811.49 L180.27,810.46 L181.18,809.44 L180.77,808.42 L179.84,807.40 L178.88,806.37 L178.09,805.35 L177.59,804.33 L177.35,803.31 L177.29,802.28 L177.28,801.26 L177.23,800.24 L177.08,799.21 L176.84,798.19 L176.53,797.17 L176.19,796.15 L175.85,795.12 L175.56,794.10 L175.33,793.08 L175.17,792.06 L175.15,791.03 L175.15,790.01 L175.15,788.99 L175.15,787.97 L175.15,786.94 L175.15,785.92 L175.15,784.90 L175.15,783.87 L175.15,782.85 L175.15,781.83 L175.15,780.81 L175.15,779.78 L175.15,778.76 L175.15,777.74 L175.15,776.72 L175.15,775.69 L175.15,774.67 L175.15,773.65 L175.15,772.63 L175.15,771.60 L175.15,770.58 L175.15,769.56 L175.15,768.53 L175.15,767.51 L175.15,766.49 L175.15,765.47 L174.65,765.47 L174.65,766.49 L174.65,767.51 L174.65,768.53 L174.65,769.56 L174.65,770.58 L174.65,771.60 L174.65,772.63 L174.65,773.65 L174.65,774.67 L174.65,775.69 L174.65,776.72 L174.65,777.74 L174.65,778.76 L174.65,779.78 L174.65,780.81 L174.65,781.83 L174.65,782.85 L174.65,783.87 L174.65,784.90 L174.65,785.92 L174.65,786.94 L174.65,787.97 L174.65,788.99 L174.65,790.01 L174.65,791.03 L174.63,792.06 L174.47,793.08 L174.24,794.10 L173.95,795.12 L173.61,796.15 L173.27,797.17 L172.96,798.19 L172.72,799.21 L172.57,800.24 L172.52,801.26 L172.51,802.28 L172.45,803.31 L172.21,804.33 L171.71,805.35 L170.92,806.37 L169.96,807.40 L169.03,808.42 L168.62,809.44 L169.53,810.46 L170.99,811.49 L172.73,812.51 L174.65,813.53Z" fill="#fcaaaa" stroke="#111" stroke-width="0.8" stroke-linejoin="round"/><path d="M174.9,784.9 V813.5" stroke="#000" stroke-width="0.8"/><rect x="173.65" y="799.7" width="2.5" height="11.4" fill="#000"/><path d="M173.8,810.3 H176.0" stroke="#fff" stroke-width="0.75"/><path d="M190.55,813.53 L192.19,812.77 L193.80,812.01 L195.37,811.24 L196.68,810.48 L196.82,809.72 L196.31,808.96 L195.49,808.19 L194.54,807.43 L193.61,806.67 L192.83,805.91 L192.27,805.14 L191.93,804.38 L191.76,803.62 L191.70,802.85 L191.69,802.09 L191.67,801.33 L191.60,800.57 L191.49,799.80 L191.34,799.04 L191.16,798.28 L190.97,797.52 L190.80,796.75 L190.65,795.99 L190.55,795.23 L190.55,794.47 L190.55,793.70 L190.55,792.94 L190.55,792.18 L190.55,791.41 L190.55,790.65 L190.55,789.89 L190.55,789.13 L190.55,788.36 L190.55,787.60 L190.55,786.84 L190.55,786.08 L190.55,785.31 L190.55,784.55 L190.55,783.79 L190.55,783.03 L190.55,782.26 L190.55,781.50 L190.55,780.74 L190.55,779.97 L190.55,779.21 L190.55,778.45 L190.55,777.69 L190.05,777.69 L190.05,778.45 L190.05,779.21 L190.05,779.97 L190.05,780.74 L190.05,781.50 L190.05,782.26 L190.05,783.03 L190.05,783.79 L190.05,784.55 L190.05,785.31 L190.05,786.08 L190.05,786.84 L190.05,787.60 L190.05,788.36 L190.05,789.13 L190.05,789.89 L190.05,790.65 L190.05,791.41 L190.05,792.18 L190.05,792.94 L190.05,793.70 L190.05,794.47 L190.05,795.23 L189.95,795.99 L189.80,796.75 L189.63,797.52 L189.44,798.28 L189.26,799.04 L189.11,799.80 L189.00,800.57 L188.93,801.33 L188.91,802.09 L188.90,802.85 L188.84,803.62 L188.67,804.38 L188.33,805.14 L187.77,805.91 L186.99,806.67 L186.06,807.43 L185.11,808.19 L184.29,808.96 L183.78,809.72 L183.92,810.48 L185.23,811.24 L186.80,812.01 L188.41,812.77 L190.05,813.53Z" fill="#b31b1b" stroke="#111" stroke-width="0.8" stroke-linejoin="round"/><path d="M190.3,796.9 V813.5" stroke="#000" stroke-width="0.8"/><rect x="189.05" y="805.4" width="2.5" height="6.5" fill="#000"/><path d="M189.2,810.3 H191.4" stroke="#fff" stroke-width="0.75"/><path d="M205.85,813.53 L207.38,812.34 L208.87,811.14 L210.16,809.94 L211.07,808.75 L211.00,807.55 L210.67,806.36 L210.47,805.16 L210.51,803.96 L210.76,802.77 L211.12,801.57 L211.51,800.38 L211.85,799.18 L212.09,797.98 L212.20,796.79 L212.17,795.59 L212.00,794.40 L211.71,793.20 L211.30,792.00 L210.81,790.81 L210.26,789.61 L209.67,788.42 L209.09,787.22 L208.52,786.02 L208.00,784.83 L207.53,783.63 L207.11,782.44 L206.76,781.24 L206.48,780.04 L206.24,778.85 L206.06,777.65 L205.93,776.46 L205.85,775.26 L205.85,774.06 L205.85,772.87 L205.85,771.67 L205.85,770.48 L205.85,769.28 L205.85,768.08 L205.85,766.89 L205.85,765.69 L205.85,764.50 L205.85,763.30 L205.85,762.10 L205.85,760.91 L205.85,759.71 L205.85,758.52 L205.85,757.32 L205.35,757.32 L205.35,758.52 L205.35,759.71 L205.35,760.91 L205.35,762.10 L205.35,763.30 L205.35,764.50 L205.35,765.69 L205.35,766.89 L205.35,768.08 L205.35,769.28 L205.35,770.48 L205.35,771.67 L205.35,772.87 L205.35,774.06 L205.35,775.26 L205.27,776.46 L205.14,777.65 L204.96,778.85 L204.72,780.04 L204.44,781.24 L204.09,782.44 L203.67,783.63 L203.20,784.83 L202.68,786.02 L202.11,787.22 L201.53,788.42 L200.94,789.61 L200.39,790.81 L199.90,792.00 L199.49,793.20 L199.20,794.40 L199.03,795.59 L199.00,796.79 L199.11,797.98 L199.35,799.18 L199.69,800.38 L200.08,801.57 L200.44,802.77 L200.69,803.96 L200.73,805.16 L200.53,806.36 L200.20,807.55 L200.13,808.75 L201.04,809.94 L202.33,811.14 L203.82,812.34 L205.35,813.53Z" fill="#1f7ab8" stroke="#111" stroke-width="0.8" stroke-linejoin="round"/><path d="M205.6,765.5 V813.5" stroke="#000" stroke-width="0.8"/><rect x="204.35" y="789.9" width="2.5" height="18.7" fill="#000"/><path d="M204.5,798.1 H206.7" stroke="#fff" stroke-width="0.75"/><path d="M174.9,746.5 V744.9 H205.6 V746.5" fill="none" stroke="#111" stroke-width="0.9"/><text x="190.2" y="743.6" font-size="4.9" text-anchor="middle" fill="#222" stroke="#222" stroke-width="0.18" ><tspan font-style="italic">p</tspan> < 0.0001</text><path d="M190.3,754.3 V752.7 H205.6 V754.3" fill="none" stroke="#111" stroke-width="0.9"/><text x="197.9" y="751.4" font-size="4.9" text-anchor="middle" fill="#222" stroke="#222" stroke-width="0.18" ><tspan font-style="italic">p</tspan> < 0.0001</text><rect x="166.8" y="735.9" width="47.0" height="86.7" fill="none" stroke="#555" stroke-width="0.9"/><path d="M164.6,745.1H166.8M164.6,765.4H166.8M164.6,785.8H166.8M164.6,806.2H166.8" stroke="#333" stroke-width="0.8"/><text x="163.6" y="747.5" font-size="6.8" text-anchor="end" fill="#111" stroke="#111" stroke-width="0.18" >7.5</text><text x="163.6" y="767.8" font-size="6.8" text-anchor="end" fill="#111" stroke="#111" stroke-width="0.18" >5.0</text><text x="163.6" y="788.2" font-size="6.8" text-anchor="end" fill="#111" stroke="#111" stroke-width="0.18" >2.5</text><text x="163.6" y="808.6" font-size="6.8" text-anchor="end" fill="#111" stroke="#111" stroke-width="0.18" >0.0</text><path d="M174.9,822.6v2M190.3,822.6v2M205.6,822.6v2" stroke="#333" stroke-width="0.8"/><text transform="translate(177.4,826.2) rotate(-90)" font-size="7.1" text-anchor="end" fill="#111">JCAR017com 10:90</text><text transform="translate(192.8,826.2) rotate(-90)" font-size="7.1" text-anchor="end" fill="#111">JCAR017com 50:50</text><text transform="translate(208.1,826.2) rotate(-90)" font-size="7.1" text-anchor="end" fill="#111">JCAR017</text><text x="254.8" y="733.7" font-size="8.3" text-anchor="middle" fill="#111" stroke="#111" stroke-width="0.18" >TNFRSF9</text><path d="M239.55,812.29 L241.14,811.47 L242.50,810.64 L243.85,809.82 L245.16,809.00 L245.70,808.18 L245.88,807.35 L245.90,806.53 L245.78,805.71 L245.54,804.88 L245.21,804.06 L244.82,803.24 L244.43,802.42 L244.04,801.59 L243.70,800.77 L243.40,799.95 L243.15,799.12 L242.95,798.30 L242.78,797.48 L242.63,796.65 L242.49,795.83 L242.35,795.01 L242.20,794.19 L242.03,793.36 L241.84,792.54 L241.64,791.72 L241.42,790.89 L241.20,790.07 L240.97,789.25 L240.75,788.43 L240.54,787.60 L240.35,786.78 L240.17,785.96 L240.01,785.13 L239.87,784.31 L239.75,783.49 L239.65,782.67 L239.57,781.84 L239.55,781.02 L239.55,780.20 L239.55,779.37 L239.55,778.55 L239.55,777.73 L239.55,776.90 L239.55,776.08 L239.55,775.26 L239.55,774.44 L239.55,773.61 L239.05,773.61 L239.05,774.44 L239.05,775.26 L239.05,776.08 L239.05,776.90 L239.05,777.73 L239.05,778.55 L239.05,779.37 L239.05,780.20 L239.05,781.02 L239.03,781.84 L238.95,782.67 L238.85,783.49 L238.73,784.31 L238.59,785.13 L238.43,785.96 L238.25,786.78 L238.06,787.60 L237.85,788.43 L237.63,789.25 L237.40,790.07 L237.18,790.89 L236.96,791.72 L236.76,792.54 L236.57,793.36 L236.40,794.19 L236.25,795.01 L236.11,795.83 L235.97,796.65 L235.82,797.48 L235.65,798.30 L235.45,799.12 L235.20,799.95 L234.90,800.77 L234.56,801.59 L234.17,802.42 L233.78,803.24 L233.39,804.06 L233.06,804.88 L232.82,805.71 L232.70,806.53 L232.72,807.35 L232.90,808.18 L233.44,809.00 L234.75,809.82 L236.10,810.64 L237.46,811.47 L239.05,812.29Z" fill="#fcaaaa" stroke="#111" stroke-width="0.8" stroke-linejoin="round"/><path d="M239.3,774.7 V812.3" stroke="#000" stroke-width="0.8"/><rect x="238.05" y="794.4" width="2.5" height="15.1" fill="#000"/><path d="M238.2,802.9 H240.4" stroke="#fff" stroke-width="0.75"/><path d="M255.05,813.23 L256.20,812.33 L257.61,811.43 L259.20,810.52 L260.79,809.62 L261.40,808.72 L261.36,807.81 L260.90,806.91 L260.13,806.01 L259.22,805.10 L258.33,804.20 L257.57,803.30 L257.00,802.40 L256.61,801.49 L256.37,800.59 L256.23,799.69 L256.14,798.78 L256.07,797.88 L255.99,796.98 L255.90,796.07 L255.80,795.17 L255.68,794.27 L255.56,793.36 L255.44,792.46 L255.32,791.56 L255.22,790.65 L255.12,789.75 L255.05,788.85 L255.05,787.94 L255.05,787.04 L255.05,786.14 L255.05,785.23 L255.05,784.33 L255.05,783.43 L255.05,782.52 L255.05,781.62 L255.05,780.72 L255.05,779.82 L255.05,778.91 L255.05,778.01 L255.05,777.11 L255.05,776.20 L255.05,775.30 L255.05,774.40 L255.05,773.49 L255.05,772.59 L255.05,771.69 L255.05,770.78 L254.55,770.78 L254.55,771.69 L254.55,772.59 L254.55,773.49 L254.55,774.40 L254.55,775.30 L254.55,776.20 L254.55,777.11 L254.55,778.01 L254.55,778.91 L254.55,779.82 L254.55,780.72 L254.55,781.62 L254.55,782.52 L254.55,783.43 L254.55,784.33 L254.55,785.23 L254.55,786.14 L254.55,787.04 L254.55,787.94 L254.55,788.85 L254.48,789.75 L254.38,790.65 L254.28,791.56 L254.16,792.46 L254.04,793.36 L253.92,794.27 L253.80,795.17 L253.70,796.07 L253.61,796.98 L253.53,797.88 L253.46,798.78 L253.37,799.69 L253.23,800.59 L252.99,801.49 L252.60,802.40 L252.03,803.30 L251.27,804.20 L250.38,805.10 L249.47,806.01 L248.70,806.91 L248.24,807.81 L248.20,808.72 L248.81,809.62 L250.40,810.52 L251.99,811.43 L253.40,812.33 L254.55,813.23Z" fill="#b31b1b" stroke="#111" stroke-width="0.8" stroke-linejoin="round"/><path d="M254.8,788.7 V813.2" stroke="#000" stroke-width="0.8"/><rect x="253.55" y="801.0" width="2.5" height="9.4" fill="#000"/><path d="M253.7,809.5 H255.9" stroke="#fff" stroke-width="0.75"/><path d="M270.85,812.29 L272.45,811.01 L274.00,809.72 L275.50,808.44 L276.77,807.15 L277.06,805.87 L277.00,804.58 L276.93,803.30 L276.93,802.01 L277.01,800.73 L277.12,799.44 L277.20,798.16 L277.19,796.88 L277.06,795.59 L276.80,794.31 L276.42,793.02 L275.94,791.74 L275.39,790.45 L274.80,789.17 L274.20,787.88 L273.61,786.60 L273.07,785.31 L272.57,784.03 L272.14,782.75 L271.78,781.46 L271.48,780.18 L271.24,778.89 L271.06,777.61 L270.92,776.32 L270.85,775.04 L270.85,773.75 L270.85,772.47 L270.85,771.18 L270.85,769.90 L270.85,768.62 L270.85,767.33 L270.85,766.05 L270.85,764.76 L270.85,763.48 L270.85,762.19 L270.85,760.91 L270.85,759.62 L270.85,758.34 L270.85,757.05 L270.85,755.77 L270.85,754.49 L270.85,753.20 L270.85,751.92 L270.35,751.92 L270.35,753.20 L270.35,754.49 L270.35,755.77 L270.35,757.05 L270.35,758.34 L270.35,759.62 L270.35,760.91 L270.35,762.19 L270.35,763.48 L270.35,764.76 L270.35,766.05 L270.35,767.33 L270.35,768.62 L270.35,769.90 L270.35,771.18 L270.35,772.47 L270.35,773.75 L270.35,775.04 L270.28,776.32 L270.14,777.61 L269.96,778.89 L269.72,780.18 L269.42,781.46 L269.06,782.75 L268.63,784.03 L268.13,785.31 L267.59,786.60 L267.00,787.88 L266.40,789.17 L265.81,790.45 L265.26,791.74 L264.78,793.02 L264.40,794.31 L264.14,795.59 L264.01,796.88 L264.00,798.16 L264.08,799.44 L264.19,800.73 L264.27,802.01 L264.27,803.30 L264.20,804.58 L264.14,805.87 L264.43,807.15 L265.70,808.44 L267.20,809.72 L268.75,811.01 L270.35,812.29Z" fill="#1f7ab8" stroke="#111" stroke-width="0.8" stroke-linejoin="round"/><path d="M270.6,768.5 V812.3" stroke="#000" stroke-width="0.8"/><rect x="269.35" y="790.6" width="2.5" height="17.0" fill="#000"/><path d="M269.5,798.1 H271.7" stroke="#fff" stroke-width="0.75"/><path d="M239.3,744.5 V742.9 H270.6 V744.5" fill="none" stroke="#111" stroke-width="0.9"/><text x="255.0" y="741.6" font-size="4.9" text-anchor="middle" fill="#222" stroke="#222" stroke-width="0.18" ><tspan font-style="italic">p</tspan> < 0.0001</text><path d="M239.3,754.3 V752.7 H254.8 V754.3" fill="none" stroke="#111" stroke-width="0.9"/><text x="247.1" y="751.4" font-size="4.9" text-anchor="middle" fill="#222" stroke="#222" stroke-width="0.18" ><tspan font-style="italic">p</tspan> = 0.0153</text><path d="M254.8,763.5 V761.9 H270.6 V763.5" fill="none" stroke="#111" stroke-width="0.9"/><text x="262.7" y="760.6" font-size="4.9" text-anchor="middle" fill="#222" stroke="#222" stroke-width="0.18" ><tspan font-style="italic">p</tspan> < 0.0001</text><rect x="231.3" y="735.3" width="47.0" height="86.9" fill="none" stroke="#555" stroke-width="0.9"/><path d="M229.1,747.2H231.3M229.1,766.0H231.3M229.1,785.0H231.3M229.1,803.8H231.3" stroke="#333" stroke-width="0.8"/><text x="228.1" y="749.6" font-size="6.8" text-anchor="end" fill="#111" stroke="#111" stroke-width="0.18" >6</text><text x="228.1" y="768.4" font-size="6.8" text-anchor="end" fill="#111" stroke="#111" stroke-width="0.18" >4</text><text x="228.1" y="787.4" font-size="6.8" text-anchor="end" fill="#111" stroke="#111" stroke-width="0.18" >2</text><text x="228.1" y="806.2" font-size="6.8" text-anchor="end" fill="#111" stroke="#111" stroke-width="0.18" >0</text><path d="M239.3,822.2v2M254.8,822.2v2M270.6,822.2v2" stroke="#333" stroke-width="0.8"/><text transform="translate(241.8,825.8) rotate(-90)" font-size="7.1" text-anchor="end" fill="#111">JCAR017com 10:90</text><text transform="translate(257.3,825.8) rotate(-90)" font-size="7.1" text-anchor="end" fill="#111">JCAR017com 50:50</text><text transform="translate(273.1,825.8) rotate(-90)" font-size="7.1" text-anchor="end" fill="#111">JCAR017</text><text x="296.2" y="560.6" font-size="11" font-weight="bold" stroke="#000" stroke-width="0.18" >i</text><text x="346.1" y="564.8" font-size="8.3" text-anchor="middle" fill="#111" stroke="#111" stroke-width="0.18" >KLRD1</text><path d="M331.15,647.66 L331.15,646.40 L331.25,645.14 L331.57,643.88 L332.01,642.61 L332.43,641.35 L332.82,640.09 L333.18,638.83 L333.46,637.57 L333.63,636.30 L333.67,635.04 L333.59,633.78 L333.43,632.52 L333.24,631.25 L333.07,629.99 L332.98,628.73 L333.01,627.47 L333.18,626.21 L333.49,624.94 L333.92,623.68 L334.45,622.42 L335.03,621.16 L335.63,619.89 L336.21,618.63 L336.72,617.37 L337.12,616.11 L337.39,614.85 L337.50,613.58 L337.44,612.32 L337.22,611.06 L336.86,609.80 L336.37,608.53 L335.80,607.27 L335.17,606.01 L334.54,604.75 L333.92,603.49 L333.34,602.22 L332.82,600.96 L332.38,599.70 L332.01,598.44 L331.71,597.17 L331.48,595.91 L331.30,594.65 L331.16,593.39 L331.15,592.13 L331.15,590.86 L331.15,589.60 L331.15,588.34 L330.65,588.34 L330.65,589.60 L330.65,590.86 L330.65,592.13 L330.64,593.39 L330.50,594.65 L330.32,595.91 L330.09,597.17 L329.79,598.44 L329.42,599.70 L328.98,600.96 L328.46,602.22 L327.88,603.49 L327.26,604.75 L326.63,606.01 L326.00,607.27 L325.43,608.53 L324.94,609.80 L324.58,611.06 L324.36,612.32 L324.30,613.58 L324.41,614.85 L324.68,616.11 L325.08,617.37 L325.59,618.63 L326.17,619.89 L326.77,621.16 L327.35,622.42 L327.88,623.68 L328.31,624.94 L328.62,626.21 L328.79,627.47 L328.82,628.73 L328.73,629.99 L328.56,631.25 L328.37,632.52 L328.21,633.78 L328.13,635.04 L328.17,636.30 L328.34,637.57 L328.62,638.83 L328.98,640.09 L329.37,641.35 L329.79,642.61 L330.23,643.88 L330.55,645.14 L330.65,646.40 L330.65,647.66Z" fill="#fcaaaa" stroke="#111" stroke-width="0.8" stroke-linejoin="round"/><path d="M330.9,588.3 V647.7" stroke="#000" stroke-width="0.8"/><rect x="329.65" y="608.1" width="2.5" height="26.4" fill="#000"/><path d="M329.8,616.0 H332.0" stroke="#fff" stroke-width="0.75"/><path d="M346.75,650.30 L346.75,649.01 L347.05,647.72 L347.52,646.43 L348.20,645.14 L348.87,643.85 L349.58,642.56 L350.34,641.27 L351.11,639.98 L351.83,638.69 L352.44,637.40 L352.88,636.11 L353.10,634.82 L353.09,633.53 L352.87,632.24 L352.47,630.95 L351.95,629.66 L351.38,628.37 L350.84,627.07 L350.37,625.78 L350.02,624.49 L349.81,623.20 L349.74,621.91 L349.78,620.62 L349.91,619.33 L350.07,618.04 L350.24,616.75 L350.37,615.46 L350.44,614.17 L350.43,612.88 L350.32,611.59 L350.13,610.30 L349.86,609.01 L349.52,607.72 L349.15,606.43 L348.77,605.14 L348.39,603.85 L348.03,602.56 L347.71,601.27 L347.43,599.98 L347.19,598.69 L347.01,597.40 L346.86,596.11 L346.75,594.82 L346.75,593.53 L346.75,592.24 L346.75,590.95 L346.75,589.66 L346.25,589.66 L346.25,590.95 L346.25,592.24 L346.25,593.53 L346.25,594.82 L346.14,596.11 L345.99,597.40 L345.81,598.69 L345.57,599.98 L345.29,601.27 L344.97,602.56 L344.61,603.85 L344.23,605.14 L343.85,606.43 L343.48,607.72 L343.14,609.01 L342.87,610.30 L342.68,611.59 L342.57,612.88 L342.56,614.17 L342.63,615.46 L342.76,616.75 L342.93,618.04 L343.09,619.33 L343.22,620.62 L343.26,621.91 L343.19,623.20 L342.98,624.49 L342.63,625.78 L342.16,627.07 L341.62,628.37 L341.05,629.66 L340.53,630.95 L340.13,632.24 L339.91,633.53 L339.90,634.82 L340.12,636.11 L340.56,637.40 L341.17,638.69 L341.89,639.98 L342.66,641.27 L343.42,642.56 L344.13,643.85 L344.80,645.14 L345.48,646.43 L345.95,647.72 L346.25,649.01 L346.25,650.30Z" fill="#b31b1b" stroke="#111" stroke-width="0.8" stroke-linejoin="round"/><path d="M346.5,589.7 V650.3" stroke="#000" stroke-width="0.8"/><rect x="345.25" y="609.4" width="2.5" height="27.7" fill="#000"/><path d="M345.4,629.2 H347.6" stroke="#fff" stroke-width="0.75"/><path d="M362.05,645.03 L362.15,643.82 L362.75,642.61 L363.76,641.41 L365.23,640.20 L366.56,639.00 L367.62,637.79 L368.29,636.58 L368.40,635.38 L367.94,634.17 L367.03,632.97 L365.90,631.76 L364.80,630.55 L363.90,629.35 L363.27,628.14 L362.90,626.93 L362.73,625.73 L362.69,624.52 L362.71,623.32 L362.75,622.11 L362.78,620.90 L362.79,619.70 L362.76,618.49 L362.71,617.29 L362.63,616.08 L362.53,614.87 L362.42,613.67 L362.31,612.46 L362.21,611.25 L362.12,610.05 L362.05,608.84 L362.05,607.64 L362.05,606.43 L362.05,605.22 L362.05,604.02 L362.05,602.81 L362.05,601.61 L362.05,600.40 L362.05,599.19 L362.05,597.99 L362.05,596.78 L362.05,595.58 L362.05,594.37 L362.05,593.16 L362.05,591.96 L362.05,590.75 L362.05,589.54 L362.05,588.34 L361.55,588.34 L361.55,589.54 L361.55,590.75 L361.55,591.96 L361.55,593.16 L361.55,594.37 L361.55,595.58 L361.55,596.78 L361.55,597.99 L361.55,599.19 L361.55,600.40 L361.55,601.61 L361.55,602.81 L361.55,604.02 L361.55,605.22 L361.55,606.43 L361.55,607.64 L361.55,608.84 L361.48,610.05 L361.39,611.25 L361.29,612.46 L361.18,613.67 L361.07,614.87 L360.97,616.08 L360.89,617.29 L360.84,618.49 L360.81,619.70 L360.82,620.90 L360.85,622.11 L360.89,623.32 L360.91,624.52 L360.87,625.73 L360.70,626.93 L360.33,628.14 L359.70,629.35 L358.80,630.55 L357.70,631.76 L356.57,632.97 L355.66,634.17 L355.20,635.38 L355.31,636.58 L355.98,637.79 L357.04,639.00 L358.37,640.20 L359.84,641.41 L360.85,642.61 L361.45,643.82 L361.55,645.03Z" fill="#1f7ab8" stroke="#111" stroke-width="0.8" stroke-linejoin="round"/><path d="M361.8,597.7 V645.0" stroke="#000" stroke-width="0.8"/><rect x="360.55" y="620.0" width="2.5" height="17.1" fill="#000"/><path d="M360.7,635.8 H362.9" stroke="#fff" stroke-width="0.75"/><path d="M330.9,574.6 V573.0 H361.8 V574.6" fill="none" stroke="#111" stroke-width="0.9"/><text x="346.4" y="571.7" font-size="4.9" text-anchor="middle" fill="#222" stroke="#222" stroke-width="0.18" ><tspan font-style="italic">p</tspan> < 0.0001</text><path d="M330.9,584.4 V582.8 H346.5 V584.4" fill="none" stroke="#111" stroke-width="0.9"/><text x="338.7" y="581.5" font-size="4.9" text-anchor="middle" fill="#222" stroke="#222" stroke-width="0.18" ><tspan font-style="italic">p</tspan> = 0.0132</text><rect x="322.4" y="566.4" width="47.5" height="86.5" fill="none" stroke="#555" stroke-width="0.9"/><path d="M320.2,571.2H322.4M320.2,597.7H322.4M320.2,624.0H322.4M320.2,650.3H322.4" stroke="#333" stroke-width="0.8"/><text x="319.2" y="573.6" font-size="6.8" text-anchor="end" fill="#111" stroke="#111" stroke-width="0.18" >4</text><text x="319.2" y="600.1" font-size="6.8" text-anchor="end" fill="#111" stroke="#111" stroke-width="0.18" >2</text><text x="319.2" y="626.4" font-size="6.8" text-anchor="end" fill="#111" stroke="#111" stroke-width="0.18" >0</text><text x="319.2" y="652.7" font-size="6.8" text-anchor="end" fill="#111" stroke="#111" stroke-width="0.18" >-2</text><path d="M330.9,652.9v2M346.5,652.9v2M361.8,652.9v2" stroke="#333" stroke-width="0.8"/><text transform="translate(333.4,656.5) rotate(-90)" font-size="7.1" text-anchor="end" fill="#111">JCAR017com 10:90</text><text transform="translate(349.0,656.5) rotate(-90)" font-size="7.1" text-anchor="end" fill="#111">JCAR017com 50:50</text><text transform="translate(364.3,656.5) rotate(-90)" font-size="7.1" text-anchor="end" fill="#111">JCAR017</text><text x="411.5" y="564.8" font-size="8.3" text-anchor="middle" fill="#111" stroke="#111" stroke-width="0.18" >SCML4</text><path d="M396.45,647.43 L396.84,646.13 L397.60,644.84 L398.66,643.54 L400.00,642.25 L401.02,640.95 L401.78,639.66 L402.31,638.36 L402.59,637.07 L402.66,635.77 L402.62,634.48 L402.55,633.18 L402.52,631.89 L402.56,630.59 L402.64,629.30 L402.74,628.01 L402.80,626.71 L402.79,625.42 L402.69,624.12 L402.49,622.83 L402.20,621.53 L401.82,620.24 L401.37,618.94 L400.88,617.65 L400.36,616.35 L399.83,615.06 L399.32,613.76 L398.83,612.47 L398.38,611.17 L397.98,609.88 L397.62,608.58 L397.32,607.29 L397.06,605.99 L396.86,604.70 L396.69,603.41 L396.56,602.11 L396.46,600.82 L396.45,599.52 L396.45,598.23 L396.45,596.93 L396.45,595.64 L396.45,594.34 L396.45,593.05 L396.45,591.75 L396.45,590.46 L396.45,589.16 L396.45,587.87 L396.45,586.57 L395.95,586.57 L395.95,587.87 L395.95,589.16 L395.95,590.46 L395.95,591.75 L395.95,593.05 L395.95,594.34 L395.95,595.64 L395.95,596.93 L395.95,598.23 L395.95,599.52 L395.94,600.82 L395.84,602.11 L395.71,603.41 L395.54,604.70 L395.34,605.99 L395.08,607.29 L394.78,608.58 L394.42,609.88 L394.02,611.17 L393.57,612.47 L393.08,613.76 L392.57,615.06 L392.04,616.35 L391.52,617.65 L391.03,618.94 L390.58,620.24 L390.20,621.53 L389.91,622.83 L389.71,624.12 L389.61,625.42 L389.60,626.71 L389.66,628.01 L389.76,629.30 L389.84,630.59 L389.88,631.89 L389.85,633.18 L389.78,634.48 L389.74,635.77 L389.81,637.07 L390.09,638.36 L390.62,639.66 L391.38,640.95 L392.40,642.25 L393.74,643.54 L394.80,644.84 L395.56,646.13 L395.95,647.43Z" fill="#fcaaaa" stroke="#111" stroke-width="0.8" stroke-linejoin="round"/><path d="M396.2,586.6 V647.4" stroke="#000" stroke-width="0.8"/><rect x="394.95" y="614.8" width="2.5" height="22.8" fill="#000"/><path d="M395.1,625.1 H397.3" stroke="#fff" stroke-width="0.75"/><path d="M411.75,649.60 L411.90,648.26 L412.38,646.92 L413.09,645.58 L414.11,644.24 L415.04,642.90 L415.93,641.55 L416.74,640.21 L417.39,638.87 L417.82,637.53 L418.04,636.19 L418.10,634.85 L418.08,633.51 L418.05,632.17 L418.03,630.83 L418.00,629.49 L417.95,628.14 L417.85,626.80 L417.66,625.46 L417.39,624.12 L417.03,622.78 L416.60,621.44 L416.11,620.10 L415.60,618.76 L415.07,617.42 L414.56,616.08 L414.07,614.73 L413.62,613.39 L413.21,612.05 L412.86,610.71 L412.56,609.37 L412.31,608.03 L412.11,606.69 L411.95,605.35 L411.82,604.01 L411.75,602.67 L411.75,601.32 L411.75,599.98 L411.75,598.64 L411.75,597.30 L411.75,595.96 L411.75,594.62 L411.75,593.28 L411.75,591.94 L411.75,590.60 L411.75,589.26 L411.75,587.91 L411.75,586.57 L411.25,586.57 L411.25,587.91 L411.25,589.26 L411.25,590.60 L411.25,591.94 L411.25,593.28 L411.25,594.62 L411.25,595.96 L411.25,597.30 L411.25,598.64 L411.25,599.98 L411.25,601.32 L411.25,602.67 L411.18,604.01 L411.05,605.35 L410.89,606.69 L410.69,608.03 L410.44,609.37 L410.14,610.71 L409.79,612.05 L409.38,613.39 L408.93,614.73 L408.44,616.08 L407.93,617.42 L407.40,618.76 L406.89,620.10 L406.40,621.44 L405.97,622.78 L405.61,624.12 L405.34,625.46 L405.15,626.80 L405.05,628.14 L405.00,629.49 L404.97,630.83 L404.95,632.17 L404.92,633.51 L404.90,634.85 L404.96,636.19 L405.18,637.53 L405.61,638.87 L406.26,640.21 L407.07,641.55 L407.96,642.90 L408.89,644.24 L409.91,645.58 L410.62,646.92 L411.10,648.26 L411.25,649.60Z" fill="#b31b1b" stroke="#111" stroke-width="0.8" stroke-linejoin="round"/><path d="M411.5,588.7 V649.6" stroke="#000" stroke-width="0.8"/><rect x="410.25" y="617.0" width="2.5" height="21.7" fill="#000"/><path d="M410.4,627.9 H412.6" stroke="#fff" stroke-width="0.75"/><path d="M427.15,645.25 L427.50,644.26 L428.29,643.26 L429.43,642.27 L430.89,641.28 L432.03,640.28 L432.86,639.29 L433.38,638.29 L433.50,637.30 L433.20,636.31 L432.56,635.31 L431.71,634.32 L430.80,633.32 L429.96,632.33 L429.28,631.33 L428.79,630.34 L428.48,629.35 L428.32,628.35 L428.24,627.36 L428.22,626.36 L428.21,625.37 L428.20,624.38 L428.17,623.38 L428.12,622.39 L428.04,621.39 L427.94,620.40 L427.84,619.40 L427.72,618.41 L427.60,617.42 L427.49,616.42 L427.38,615.43 L427.28,614.43 L427.20,613.44 L427.15,612.45 L427.15,611.45 L427.15,610.46 L427.15,609.46 L427.15,608.47 L427.15,607.47 L427.15,606.48 L427.15,605.49 L427.15,604.49 L427.15,603.50 L427.15,602.50 L427.15,601.51 L427.15,600.52 L427.15,599.52 L427.15,598.53 L426.65,598.53 L426.65,599.52 L426.65,600.52 L426.65,601.51 L426.65,602.50 L426.65,603.50 L426.65,604.49 L426.65,605.49 L426.65,606.48 L426.65,607.47 L426.65,608.47 L426.65,609.46 L426.65,610.46 L426.65,611.45 L426.65,612.45 L426.60,613.44 L426.52,614.43 L426.42,615.43 L426.31,616.42 L426.20,617.42 L426.08,618.41 L425.96,619.40 L425.86,620.40 L425.76,621.39 L425.68,622.39 L425.63,623.38 L425.60,624.38 L425.59,625.37 L425.58,626.36 L425.56,627.36 L425.48,628.35 L425.32,629.35 L425.01,630.34 L424.52,631.33 L423.84,632.33 L423.00,633.32 L422.09,634.32 L421.24,635.31 L420.60,636.31 L420.30,637.30 L420.42,638.29 L420.94,639.29 L421.77,640.28 L422.91,641.28 L424.37,642.27 L425.51,643.26 L426.30,644.26 L426.65,645.25Z" fill="#1f7ab8" stroke="#111" stroke-width="0.8" stroke-linejoin="round"/><path d="M426.9,601.2 V645.3" stroke="#000" stroke-width="0.8"/><rect x="425.65" y="622.4" width="2.5" height="16.3" fill="#000"/><path d="M425.8,637.6 H428.0" stroke="#fff" stroke-width="0.75"/><path d="M396.2,575.2 V573.6 H426.9 V575.2" fill="none" stroke="#111" stroke-width="0.9"/><text x="411.5" y="572.3" font-size="4.9" text-anchor="middle" fill="#222" stroke="#222" stroke-width="0.18" ><tspan font-style="italic">p</tspan> < 0.0001</text><rect x="387.4" y="566.4" width="48.2" height="86.5" fill="none" stroke="#555" stroke-width="0.9"/><path d="M385.2,584.4H387.4M385.2,606.5H387.4M385.2,628.0H387.4M385.2,649.6H387.4" stroke="#333" stroke-width="0.8"/><text x="384.2" y="586.8" font-size="6.8" text-anchor="end" fill="#111" stroke="#111" stroke-width="0.18" >4</text><text x="384.2" y="608.9" font-size="6.8" text-anchor="end" fill="#111" stroke="#111" stroke-width="0.18" >2</text><text x="384.2" y="630.4" font-size="6.8" text-anchor="end" fill="#111" stroke="#111" stroke-width="0.18" >0</text><text x="384.2" y="652.0" font-size="6.8" text-anchor="end" fill="#111" stroke="#111" stroke-width="0.18" >-2</text><path d="M396.2,652.9v2M411.5,652.9v2M426.9,652.9v2" stroke="#333" stroke-width="0.8"/><text transform="translate(398.7,656.5) rotate(-90)" font-size="7.1" text-anchor="end" fill="#111">JCAR017com 10:90</text><text transform="translate(414.0,656.5) rotate(-90)" font-size="7.1" text-anchor="end" fill="#111">JCAR017com 50:50</text><text transform="translate(429.4,656.5) rotate(-90)" font-size="7.1" text-anchor="end" fill="#111">JCAR017</text><text x="345.9" y="734.2" font-size="8.3" text-anchor="middle" fill="#111" stroke="#111" stroke-width="0.18" >GZMB</text><path d="M330.75,813.30 L330.75,812.19 L330.85,811.09 L331.09,809.98 L331.35,808.87 L331.49,807.76 L331.54,806.65 L331.52,805.54 L331.44,804.43 L331.33,803.33 L331.21,802.22 L331.12,801.11 L331.06,800.00 L331.05,798.89 L331.09,797.78 L331.15,796.67 L331.25,795.57 L331.37,794.46 L331.54,793.35 L331.75,792.24 L332.03,791.13 L332.39,790.02 L332.83,788.92 L333.36,787.81 L333.97,786.70 L334.64,785.59 L335.32,784.48 L335.96,783.37 L336.50,782.26 L336.90,781.16 L337.10,780.05 L337.08,778.94 L336.84,777.83 L336.40,776.72 L335.80,775.61 L335.10,774.50 L334.35,773.40 L333.61,772.29 L332.92,771.18 L332.32,770.07 L331.82,768.96 L331.43,767.85 L331.13,766.75 L330.89,765.64 L330.75,764.53 L330.75,763.42 L330.75,762.31 L330.75,761.20 L330.25,761.20 L330.25,762.31 L330.25,763.42 L330.25,764.53 L330.11,765.64 L329.87,766.75 L329.57,767.85 L329.18,768.96 L328.68,770.07 L328.08,771.18 L327.39,772.29 L326.65,773.40 L325.90,774.50 L325.20,775.61 L324.60,776.72 L324.16,777.83 L323.92,778.94 L323.90,780.05 L324.10,781.16 L324.50,782.26 L325.04,783.37 L325.68,784.48 L326.36,785.59 L327.03,786.70 L327.64,787.81 L328.17,788.92 L328.61,790.02 L328.97,791.13 L329.25,792.24 L329.46,793.35 L329.63,794.46 L329.75,795.57 L329.85,796.67 L329.91,797.78 L329.95,798.89 L329.94,800.00 L329.88,801.11 L329.79,802.22 L329.67,803.33 L329.56,804.43 L329.48,805.54 L329.46,806.65 L329.51,807.76 L329.65,808.87 L329.91,809.98 L330.15,811.09 L330.25,812.19 L330.25,813.30Z" fill="#fcaaaa" stroke="#111" stroke-width="0.8" stroke-linejoin="round"/><path d="M330.5,761.2 V801.2" stroke="#000" stroke-width="0.8"/><rect x="329.25" y="774.2" width="2.5" height="11.7" fill="#000"/><path d="M329.4,779.4 H331.6" stroke="#fff" stroke-width="0.75"/><path d="M346.55,819.82 L346.64,818.40 L346.93,816.99 L347.26,815.57 L347.65,814.16 L347.95,812.75 L348.22,811.33 L348.51,809.92 L348.83,808.51 L349.16,807.09 L349.51,805.68 L349.86,804.27 L350.21,802.85 L350.56,801.44 L350.89,800.03 L351.21,798.61 L351.50,797.20 L351.76,795.79 L351.99,794.37 L352.19,792.96 L352.37,791.55 L352.52,790.13 L352.65,788.72 L352.76,787.31 L352.85,785.89 L352.90,784.48 L352.90,783.07 L352.84,781.65 L352.69,780.24 L352.45,778.83 L352.10,777.41 L351.67,776.00 L351.17,774.59 L350.62,773.17 L350.05,771.76 L349.50,770.35 L348.98,768.93 L348.52,767.52 L348.11,766.11 L347.77,764.69 L347.49,763.28 L347.25,761.87 L347.06,760.45 L346.89,759.04 L346.69,757.63 L346.55,756.21 L346.55,754.80 L346.55,753.39 L346.05,753.39 L346.05,754.80 L346.05,756.21 L345.91,757.63 L345.71,759.04 L345.54,760.45 L345.35,761.87 L345.11,763.28 L344.83,764.69 L344.49,766.11 L344.08,767.52 L343.62,768.93 L343.10,770.35 L342.55,771.76 L341.98,773.17 L341.43,774.59 L340.93,776.00 L340.50,777.41 L340.15,778.83 L339.91,780.24 L339.76,781.65 L339.70,783.07 L339.70,784.48 L339.75,785.89 L339.84,787.31 L339.95,788.72 L340.08,790.13 L340.23,791.55 L340.41,792.96 L340.61,794.37 L340.84,795.79 L341.10,797.20 L341.39,798.61 L341.71,800.03 L342.04,801.44 L342.39,802.85 L342.74,804.27 L343.09,805.68 L343.44,807.09 L343.77,808.51 L344.09,809.92 L344.38,811.33 L344.65,812.75 L344.95,814.16 L345.34,815.57 L345.67,816.99 L345.96,818.40 L346.05,819.82Z" fill="#b31b1b" stroke="#111" stroke-width="0.8" stroke-linejoin="round"/><path d="M346.3,753.4 V819.8" stroke="#000" stroke-width="0.8"/><rect x="345.05" y="774.2" width="2.5" height="31.3" fill="#000"/><path d="M345.2,789.2 H347.4" stroke="#fff" stroke-width="0.75"/><path d="M362.05,812.00 L362.22,810.89 L362.64,809.78 L363.10,808.67 L363.55,807.57 L363.74,806.46 L363.76,805.35 L363.73,804.24 L363.70,803.13 L363.71,802.02 L363.82,800.91 L364.06,799.81 L364.42,798.70 L364.88,797.59 L365.43,796.48 L366.02,795.37 L366.62,794.26 L367.18,793.16 L367.66,792.05 L368.05,790.94 L368.30,789.83 L368.40,788.72 L368.34,787.61 L368.14,786.50 L367.79,785.40 L367.33,784.29 L366.78,783.18 L366.18,782.07 L365.56,780.96 L364.96,779.85 L364.38,778.74 L363.87,777.64 L363.41,776.53 L363.03,775.42 L362.71,774.31 L362.46,773.20 L362.27,772.09 L362.13,770.99 L362.05,769.88 L362.05,768.77 L362.05,767.66 L362.05,766.55 L362.05,765.44 L362.05,764.33 L362.05,763.23 L362.05,762.12 L362.05,761.01 L362.05,759.90 L361.55,759.90 L361.55,761.01 L361.55,762.12 L361.55,763.23 L361.55,764.33 L361.55,765.44 L361.55,766.55 L361.55,767.66 L361.55,768.77 L361.55,769.88 L361.47,770.99 L361.33,772.09 L361.14,773.20 L360.89,774.31 L360.57,775.42 L360.19,776.53 L359.73,777.64 L359.22,778.74 L358.64,779.85 L358.04,780.96 L357.42,782.07 L356.82,783.18 L356.27,784.29 L355.81,785.40 L355.46,786.50 L355.26,787.61 L355.20,788.72 L355.30,789.83 L355.55,790.94 L355.94,792.05 L356.42,793.16 L356.98,794.26 L357.58,795.37 L358.17,796.48 L358.72,797.59 L359.18,798.70 L359.54,799.81 L359.78,800.91 L359.89,802.02 L359.90,803.13 L359.87,804.24 L359.84,805.35 L359.86,806.46 L360.05,807.57 L360.50,808.67 L360.96,809.78 L361.38,810.89 L361.55,812.00Z" fill="#1f7ab8" stroke="#111" stroke-width="0.8" stroke-linejoin="round"/><path d="M361.8,765.1 V812.0" stroke="#000" stroke-width="0.8"/><rect x="360.55" y="782.0" width="2.5" height="13.0" fill="#000"/><path d="M360.7,788.6 H362.9" stroke="#fff" stroke-width="0.75"/><path d="M330.5,743.5 V741.9 H361.8 V743.5" fill="none" stroke="#111" stroke-width="0.9"/><text x="346.1" y="740.6" font-size="4.9" text-anchor="middle" fill="#222" stroke="#222" stroke-width="0.18" ><tspan font-style="italic">p</tspan> < 0.0001</text><path d="M330.5,751.8 V750.2 H346.3 V751.8" fill="none" stroke="#111" stroke-width="0.9"/><text x="338.4" y="748.9" font-size="4.9" text-anchor="middle" fill="#222" stroke="#222" stroke-width="0.18" ><tspan font-style="italic">p</tspan> < 0.0001</text><rect x="322.4" y="735.8" width="46.9" height="86.7" fill="none" stroke="#555" stroke-width="0.9"/><path d="M320.2,759.9H322.4M320.2,785.7H322.4M320.2,812.0H322.4" stroke="#333" stroke-width="0.8"/><text x="319.2" y="762.3" font-size="6.8" text-anchor="end" fill="#111" stroke="#111" stroke-width="0.18" >2</text><text x="319.2" y="788.1" font-size="6.8" text-anchor="end" fill="#111" stroke="#111" stroke-width="0.18" >0</text><text x="319.2" y="814.4" font-size="6.8" text-anchor="end" fill="#111" stroke="#111" stroke-width="0.18" >-2</text><path d="M330.5,822.5v2M346.3,822.5v2M361.8,822.5v2" stroke="#333" stroke-width="0.8"/><text transform="translate(333.0,826.1) rotate(-90)" font-size="7.1" text-anchor="end" fill="#111">JCAR017com 10:90</text><text transform="translate(348.8,826.1) rotate(-90)" font-size="7.1" text-anchor="end" fill="#111">JCAR017com 50:50</text><text transform="translate(364.3,826.1) rotate(-90)" font-size="7.1" text-anchor="end" fill="#111">JCAR017</text><text x="411.8" y="734.2" font-size="8.3" text-anchor="middle" fill="#111" stroke="#111" stroke-width="0.18" >GZMA</text><path d="M396.85,811.15 L396.85,810.04 L396.85,808.92 L396.85,807.81 L396.85,806.70 L396.85,805.58 L396.91,804.47 L396.98,803.36 L397.05,802.25 L397.13,801.13 L397.20,800.02 L397.27,798.91 L397.33,797.79 L397.37,796.68 L397.40,795.57 L397.42,794.45 L397.42,793.34 L397.42,792.23 L397.43,791.12 L397.47,790.00 L397.55,788.89 L397.69,787.78 L397.91,786.66 L398.24,785.55 L398.68,784.44 L399.23,783.32 L399.88,782.21 L400.60,781.10 L401.33,779.99 L402.01,778.87 L402.59,777.76 L403.00,776.65 L403.20,775.53 L403.16,774.42 L402.90,773.31 L402.42,772.19 L401.79,771.08 L401.06,769.97 L400.30,768.85 L399.55,767.74 L398.88,766.63 L398.29,765.52 L397.81,764.40 L397.41,763.29 L397.05,762.18 L396.85,761.06 L396.85,759.95 L396.85,758.84 L396.35,758.84 L396.35,759.95 L396.35,761.06 L396.15,762.18 L395.79,763.29 L395.39,764.40 L394.91,765.52 L394.32,766.63 L393.65,767.74 L392.90,768.85 L392.14,769.97 L391.41,771.08 L390.78,772.19 L390.30,773.31 L390.04,774.42 L390.00,775.53 L390.20,776.65 L390.61,777.76 L391.19,778.87 L391.87,779.99 L392.60,781.10 L393.32,782.21 L393.97,783.32 L394.52,784.44 L394.96,785.55 L395.29,786.66 L395.51,787.78 L395.65,788.89 L395.73,790.00 L395.77,791.12 L395.78,792.23 L395.78,793.34 L395.78,794.45 L395.80,795.57 L395.83,796.68 L395.87,797.79 L395.93,798.91 L396.00,800.02 L396.07,801.13 L396.15,802.25 L396.22,803.36 L396.29,804.47 L396.35,805.58 L396.35,806.70 L396.35,807.81 L396.35,808.92 L396.35,810.04 L396.35,811.15Z" fill="#fcaaaa" stroke="#111" stroke-width="0.8" stroke-linejoin="round"/><path d="M396.6,758.8 V799.9" stroke="#000" stroke-width="0.8"/><rect x="395.35" y="770.5" width="2.5" height="12.8" fill="#000"/><path d="M395.5,776.3 H397.7" stroke="#fff" stroke-width="0.75"/><path d="M412.25,812.31 L412.25,811.13 L412.25,809.94 L412.25,808.75 L412.25,807.56 L412.27,806.38 L412.44,805.19 L412.65,804.00 L412.85,802.81 L413.01,801.63 L413.07,800.44 L413.05,799.25 L412.96,798.07 L412.87,796.88 L412.84,795.69 L412.92,794.50 L413.11,793.32 L413.42,792.13 L413.85,790.94 L414.38,789.76 L414.98,788.57 L415.64,787.38 L416.33,786.19 L416.99,785.01 L417.59,783.82 L418.08,782.63 L418.43,781.44 L418.60,780.26 L418.58,779.07 L418.38,777.88 L418.01,776.70 L417.49,775.51 L416.88,774.32 L416.21,773.13 L415.53,771.95 L414.88,770.76 L414.28,769.57 L413.75,768.38 L413.31,767.20 L412.95,766.01 L412.67,764.82 L412.46,763.64 L412.30,762.45 L412.25,761.26 L412.25,760.07 L412.25,758.89 L412.25,757.70 L412.25,756.51 L411.75,756.51 L411.75,757.70 L411.75,758.89 L411.75,760.07 L411.75,761.26 L411.70,762.45 L411.54,763.64 L411.33,764.82 L411.05,766.01 L410.69,767.20 L410.25,768.38 L409.72,769.57 L409.12,770.76 L408.47,771.95 L407.79,773.13 L407.12,774.32 L406.51,775.51 L405.99,776.70 L405.62,777.88 L405.42,779.07 L405.40,780.26 L405.57,781.44 L405.92,782.63 L406.41,783.82 L407.01,785.01 L407.67,786.19 L408.36,787.38 L409.02,788.57 L409.62,789.76 L410.15,790.94 L410.58,792.13 L410.89,793.32 L411.08,794.50 L411.16,795.69 L411.13,796.88 L411.04,798.07 L410.95,799.25 L410.93,800.44 L410.99,801.63 L411.15,802.81 L411.35,804.00 L411.56,805.19 L411.73,806.38 L411.75,807.56 L411.75,808.75 L411.75,809.94 L411.75,811.13 L411.75,812.31Z" fill="#b31b1b" stroke="#111" stroke-width="0.8" stroke-linejoin="round"/><path d="M412.0,757.3 V803.4" stroke="#000" stroke-width="0.8"/><rect x="410.75" y="774.0" width="2.5" height="12.8" fill="#000"/><path d="M410.9,779.8 H413.1" stroke="#fff" stroke-width="0.75"/><path d="M427.75,808.83 L427.75,807.81 L427.75,806.80 L427.75,805.78 L427.75,804.77 L427.75,803.75 L427.75,802.74 L427.79,801.73 L427.91,800.71 L428.03,799.70 L428.14,798.68 L428.21,797.67 L428.25,796.66 L428.26,795.64 L428.25,794.63 L428.28,793.61 L428.35,792.60 L428.52,791.59 L428.78,790.57 L429.16,789.56 L429.64,788.54 L430.22,787.53 L430.87,786.51 L431.56,785.50 L432.25,784.49 L432.89,783.47 L433.44,782.46 L433.84,781.44 L434.07,780.43 L434.10,779.42 L433.93,778.40 L433.58,777.39 L433.08,776.37 L432.46,775.36 L431.78,774.35 L431.09,773.33 L430.41,772.32 L429.79,771.30 L429.25,770.29 L428.80,769.28 L428.43,768.26 L428.15,767.25 L427.94,766.23 L427.78,765.22 L427.75,764.20 L427.75,763.19 L427.75,762.18 L427.75,761.16 L427.25,761.16 L427.25,762.18 L427.25,763.19 L427.25,764.20 L427.22,765.22 L427.06,766.23 L426.85,767.25 L426.57,768.26 L426.20,769.28 L425.75,770.29 L425.21,771.30 L424.59,772.32 L423.91,773.33 L423.22,774.35 L422.54,775.36 L421.92,776.37 L421.42,777.39 L421.07,778.40 L420.90,779.42 L420.93,780.43 L421.16,781.44 L421.56,782.46 L422.11,783.47 L422.75,784.49 L423.44,785.50 L424.13,786.51 L424.78,787.53 L425.36,788.54 L425.84,789.56 L426.22,790.57 L426.48,791.59 L426.65,792.60 L426.72,793.61 L426.75,794.63 L426.74,795.64 L426.75,796.66 L426.79,797.67 L426.86,798.68 L426.97,799.70 L427.09,800.71 L427.21,801.73 L427.25,802.74 L427.25,803.75 L427.25,804.77 L427.25,805.78 L427.25,806.80 L427.25,807.81 L427.25,808.83Z" fill="#1f7ab8" stroke="#111" stroke-width="0.8" stroke-linejoin="round"/><path d="M427.5,761.2 V800.7" stroke="#000" stroke-width="0.8"/><rect x="426.25" y="774.0" width="2.5" height="11.6" fill="#000"/><path d="M426.4,779.8 H428.6" stroke="#fff" stroke-width="0.75"/><path d="M396.6,745.7 V744.1 H427.5 V745.7" fill="none" stroke="#111" stroke-width="0.9"/><text x="412.1" y="742.8" font-size="4.9" text-anchor="middle" fill="#222" stroke="#222" stroke-width="0.18" ><tspan font-style="italic">p</tspan> = 0.0088</text><rect x="387.9" y="735.8" width="47.7" height="86.7" fill="none" stroke="#555" stroke-width="0.9"/><path d="M385.7,760.0H387.9M385.7,783.5H387.9M385.7,806.5H387.9" stroke="#333" stroke-width="0.8"/><path d="M396.6,822.5v2M412.0,822.5v2M427.5,822.5v2" stroke="#333" stroke-width="0.8"/><text transform="translate(399.1,826.1) rotate(-90)" font-size="7.1" text-anchor="end" fill="#111">JCAR017com 10:90</text><text transform="translate(414.5,826.1) rotate(-90)" font-size="7.1" text-anchor="end" fill="#111">JCAR017com 50:50</text><text transform="translate(430.0,826.1) rotate(-90)" font-size="7.1" text-anchor="end" fill="#111">JCAR017</text><text x="473.6" y="560.3" font-size="11" font-weight="bold" stroke="#000" stroke-width="0.18" >j</text><text x="545.8" y="569.8" font-size="10.4" font-weight="bold" fill="#111" stroke="#111" stroke-width="0.25" textLength="71.8" lengthAdjust="spacingAndGlyphs">Exhaustion Score</text><path d="M517.1,572.5V679.4M538.0,572.5V679.4M558.9,572.5V679.4M579.8,572.5V679.4M600.7,572.5V679.4M621.6,572.5V679.4M642.5,572.5V679.4M510.5,577.2H653.8M510.5,593.5H653.8M510.5,609.9H653.8M510.5,626.6H653.8M510.5,643.0H653.8M510.5,653.4H653.8M510.5,656.7H653.8M510.5,663.2H653.8M510.5,666.4H653.8M510.5,672.9H653.8M510.5,676.1H653.8" stroke="#d9d9d9" stroke-width="1.1"/><path d="M510.5,609.9H653.8" stroke="#9a9a9a" stroke-width="1.4"/><path d="M519.9,650.7V659.4M520.2,650.7V659.4M520.6,650.7V659.4M520.6,650.7V659.4M521.0,650.7V659.4M521.1,650.7V659.4M521.4,650.7V659.4M522.3,650.7V659.4M522.7,650.7V659.4M524.1,650.7V659.4M524.2,650.7V659.4M524.7,650.7V659.4M524.9,650.7V659.4M525.5,650.7V659.4M525.6,650.7V659.4M525.7,650.7V659.4M526.3,650.7V659.4M526.3,650.7V659.4M526.5,650.7V659.4M526.5,650.7V659.4M526.6,650.7V659.4M527.9,650.7V659.4M529.7,650.7V659.4M531.1,650.7V659.4M531.4,650.7V659.4M532.5,650.7V659.4M532.6,650.7V659.4M533.2,650.7V659.4M533.2,650.7V659.4M533.4,650.7V659.4M533.7,650.7V659.4M533.8,650.7V659.4M534.1,650.7V659.4M534.1,650.7V659.4M534.7,650.7V659.4M535.0,650.7V659.4M535.2,650.7V659.4M535.7,650.7V659.4M536.1,650.7V659.4M536.5,650.7V659.4M536.6,650.7V659.4M536.9,650.7V659.4M537.3,650.7V659.4M537.3,650.7V659.4M538.3,650.7V659.4M538.4,650.7V659.4M538.5,650.7V659.4M538.8,650.7V659.4M538.9,650.7V659.4M539.6,650.7V659.4M540.2,650.7V659.4M540.7,650.7V659.4M540.8,650.7V659.4M540.9,650.7V659.4M541.2,650.7V659.4M541.3,650.7V659.4M542.0,650.7V659.4M542.2,650.7V659.4M542.6,650.7V659.4M543.2,650.7V659.4M543.5,650.7V659.4M544.7,650.7V659.4M545.1,650.7V659.4M545.2,650.7V659.4M545.3,650.7V659.4M546.0,650.7V659.4M546.0,650.7V659.4M546.2,650.7V659.4M546.4,650.7V659.4M546.9,650.7V659.4M547.2,650.7V659.4M547.5,650.7V659.4M548.0,650.7V659.4M548.3,650.7V659.4M548.6,650.7V659.4M549.5,650.7V659.4M551.3,650.7V659.4M552.4,650.7V659.4M552.4,650.7V659.4M553.1,650.7V659.4M553.2,650.7V659.4M553.5,650.7V659.4M553.7,650.7V659.4M556.4,650.7V659.4M556.6,650.7V659.4M557.2,650.7V659.4M558.5,650.7V659.4M559.1,650.7V659.4M559.2,650.7V659.4M559.6,650.7V659.4M560.0,650.7V659.4M563.0,650.7V659.4M564.9,650.7V659.4M566.6,650.7V659.4M566.8,650.7V659.4M567.1,650.7V659.4M567.4,650.7V659.4M568.6,650.7V659.4M570.2,650.7V659.4M570.7,650.7V659.4M571.7,650.7V659.4M571.8,650.7V659.4M572.3,650.7V659.4M572.5,650.7V659.4M572.6,650.7V659.4M572.6,650.7V659.4M573.0,650.7V659.4M573.6,650.7V659.4M574.0,650.7V659.4M574.1,650.7V659.4M574.1,650.7V659.4M574.4,650.7V659.4M575.8,650.7V659.4M576.3,650.7V659.4M576.5,650.7V659.4M576.9,650.7V659.4M578.6,650.7V659.4M578.9,650.7V659.4M579.0,650.7V659.4M580.5,650.7V659.4M580.5,650.7V659.4M581.4,650.7V659.4M581.7,650.7V659.4M582.0,650.7V659.4M582.3,650.7V659.4M582.4,650.7V659.4M582.6,650.7V659.4M583.6,650.7V659.4M584.0,650.7V659.4M584.1,650.7V659.4M586.3,650.7V659.4M587.5,650.7V659.4M589.2,650.7V659.4M589.2,650.7V659.4M591.1,650.7V659.4M592.3,650.7V659.4M592.5,650.7V659.4M593.7,650.7V659.4M594.0,650.7V659.4M594.6,650.7V659.4M594.7,650.7V659.4M595.2,650.7V659.4M596.4,650.7V659.4M596.5,650.7V659.4M596.9,650.7V659.4M597.9,650.7V659.4M598.1,650.7V659.4M599.4,650.7V659.4M600.3,650.7V659.4M600.3,650.7V659.4M600.5,650.7V659.4M601.8,650.7V659.4M602.5,650.7V659.4M602.5,650.7V659.4M602.5,650.7V659.4M602.6,650.7V659.4M602.6,650.7V659.4M602.7,650.7V659.4M602.9,650.7V659.4M602.9,650.7V659.4M603.2,650.7V659.4M603.4,650.7V659.4M603.6,650.7V659.4M604.0,650.7V659.4M604.2,650.7V659.4M604.2,650.7V659.4M604.5,650.7V659.4M605.2,650.7V659.4M605.3,650.7V659.4M605.8,650.7V659.4M606.0,650.7V659.4M606.6,650.7V659.4M606.9,650.7V659.4M607.1,650.7V659.4M607.3,650.7V659.4M608.0,650.7V659.4M608.9,650.7V659.4M609.5,650.7V659.4M609.9,650.7V659.4M610.1,650.7V659.4M610.4,650.7V659.4M610.5,650.7V659.4M611.2,650.7V659.4M611.4,650.7V659.4M611.8,650.7V659.4M611.9,650.7V659.4M612.0,650.7V659.4M612.1,650.7V659.4M612.2,650.7V659.4M612.5,650.7V659.4M612.6,650.7V659.4M612.6,650.7V659.4M612.7,650.7V659.4M612.9,650.7V659.4M613.1,650.7V659.4M613.7,650.7V659.4M614.0,650.7V659.4M614.2,650.7V659.4M614.7,650.7V659.4M614.9,650.7V659.4M615.1,650.7V659.4M615.1,650.7V659.4M616.2,650.7V659.4M617.0,650.7V659.4M618.2,650.7V659.4M619.0,650.7V659.4M619.3,650.7V659.4M619.4,650.7V659.4M619.7,650.7V659.4M620.0,650.7V659.4M621.1,650.7V659.4M621.8,650.7V659.4M621.8,650.7V659.4M624.3,650.7V659.4M624.5,650.7V659.4M624.8,650.7V659.4M624.8,650.7V659.4M625.3,650.7V659.4M626.6,650.7V659.4M626.8,650.7V659.4M627.5,650.7V659.4M627.7,650.7V659.4M628.5,650.7V659.4M629.6,650.7V659.4M630.2,650.7V659.4M630.2,650.7V659.4M630.4,650.7V659.4M630.9,650.7V659.4M631.2,650.7V659.4M631.9,650.7V659.4M632.5,650.7V659.4M632.9,650.7V659.4M633.0,650.7V659.4M633.7,650.7V659.4M634.1,650.7V659.4M634.5,650.7V659.4M635.3,650.7V659.4M635.6,650.7V659.4M635.8,650.7V659.4M636.2,650.7V659.4M636.3,650.7V659.4M636.6,650.7V659.4M637.2,650.7V659.4M637.3,650.7V659.4M637.7,650.7V659.4M637.9,650.7V659.4M639.5,650.7V659.4M639.7,650.7V659.4M639.9,650.7V659.4M641.9,650.7V659.4M642.5,650.7V659.4M643.3,650.7V659.4M643.7,650.7V659.4M644.9,650.7V659.4M647.2,650.7V659.4" stroke="#fba6a6" stroke-width="0.75"/><path d="M517.1,660.6V669.0M517.9,660.6V669.0M518.1,660.6V669.0M519.2,660.6V669.0M519.2,660.6V669.0M519.4,660.6V669.0M520.3,660.6V669.0M521.2,660.6V669.0M521.5,660.6V669.0M521.5,660.6V669.0M521.8,660.6V669.0M521.8,660.6V669.0M522.5,660.6V669.0M522.7,660.6V669.0M523.5,660.6V669.0M523.7,660.6V669.0M523.8,660.6V669.0M524.6,660.6V669.0M525.1,660.6V669.0M525.1,660.6V669.0M525.8,660.6V669.0M526.2,660.6V669.0M526.5,660.6V669.0M527.8,660.6V669.0M527.8,660.6V669.0M527.8,660.6V669.0M528.0,660.6V669.0M528.4,660.6V669.0M528.6,660.6V669.0M528.9,660.6V669.0M528.9,660.6V669.0M529.5,660.6V669.0M530.0,660.6V669.0M531.7,660.6V669.0M531.9,660.6V669.0M532.6,660.6V669.0M533.5,660.6V669.0M533.7,660.6V669.0M534.1,660.6V669.0M536.1,660.6V669.0M536.4,660.6V669.0M536.4,660.6V669.0M536.4,660.6V669.0M538.0,660.6V669.0M539.9,660.6V669.0M541.1,660.6V669.0M541.3,660.6V669.0M541.4,660.6V669.0M543.6,660.6V669.0M543.9,660.6V669.0M545.6,660.6V669.0M545.8,660.6V669.0M546.5,660.6V669.0M546.8,660.6V669.0M547.0,660.6V669.0M547.2,660.6V669.0M547.7,660.6V669.0M548.1,660.6V669.0M548.2,660.6V669.0M548.4,660.6V669.0M548.7,660.6V669.0M549.3,660.6V669.0M549.7,660.6V669.0M549.9,660.6V669.0M551.1,660.6V669.0M552.1,660.6V669.0M552.1,660.6V669.0M552.3,660.6V669.0M552.3,660.6V669.0M552.4,660.6V669.0M554.8,660.6V669.0M554.9,660.6V669.0M554.9,660.6V669.0M554.9,660.6V669.0M556.1,660.6V669.0M556.6,660.6V669.0M559.8,660.6V669.0M560.6,660.6V669.0M561.0,660.6V669.0M562.3,660.6V669.0M562.3,660.6V669.0M562.7,660.6V669.0M562.9,660.6V669.0M564.6,660.6V669.0M564.7,660.6V669.0M564.9,660.6V669.0M565.2,660.6V669.0M565.4,660.6V669.0M565.5,660.6V669.0M565.7,660.6V669.0M567.3,660.6V669.0M567.5,660.6V669.0M568.8,660.6V669.0M569.1,660.6V669.0M569.5,660.6V669.0M569.5,660.6V669.0M569.8,660.6V669.0M569.9,660.6V669.0M570.1,660.6V669.0M570.4,660.6V669.0M570.4,660.6V669.0M570.5,660.6V669.0M570.8,660.6V669.0M571.3,660.6V669.0M572.0,660.6V669.0M573.0,660.6V669.0M573.3,660.6V669.0M573.6,660.6V669.0M573.6,660.6V669.0M574.7,660.6V669.0M575.0,660.6V669.0M575.4,660.6V669.0M575.4,660.6V669.0M576.1,660.6V669.0M576.8,660.6V669.0M576.9,660.6V669.0M577.4,660.6V669.0M578.3,660.6V669.0M578.4,660.6V669.0M578.5,660.6V669.0M578.9,660.6V669.0M579.1,660.6V669.0M579.6,660.6V669.0M580.0,660.6V669.0M581.2,660.6V669.0M581.3,660.6V669.0M581.5,660.6V669.0M581.9,660.6V669.0M582.8,660.6V669.0M583.5,660.6V669.0M583.7,660.6V669.0M584.3,660.6V669.0M584.9,660.6V669.0M585.0,660.6V669.0M585.4,660.6V669.0M585.7,660.6V669.0M585.9,660.6V669.0M587.2,660.6V669.0M587.4,660.6V669.0M587.6,660.6V669.0M587.8,660.6V669.0M588.4,660.6V669.0M588.5,660.6V669.0M589.1,660.6V669.0M589.6,660.6V669.0M591.1,660.6V669.0M591.6,660.6V669.0M592.7,660.6V669.0M592.9,660.6V669.0M593.0,660.6V669.0M593.9,660.6V669.0M594.2,660.6V669.0M594.4,660.6V669.0M594.4,660.6V669.0M594.6,660.6V669.0M594.9,660.6V669.0M595.3,660.6V669.0M597.6,660.6V669.0M597.7,660.6V669.0M598.0,660.6V669.0M599.4,660.6V669.0M600.3,660.6V669.0M601.6,660.6V669.0M602.6,660.6V669.0M603.4,660.6V669.0M604.1,660.6V669.0M604.5,660.6V669.0M604.5,660.6V669.0M604.6,660.6V669.0M605.4,660.6V669.0M605.9,660.6V669.0M606.1,660.6V669.0M606.1,660.6V669.0M606.7,660.6V669.0M606.8,660.6V669.0M606.8,660.6V669.0M607.0,660.6V669.0M607.3,660.6V669.0M609.2,660.6V669.0M609.9,660.6V669.0M610.0,660.6V669.0M611.5,660.6V669.0M613.6,660.6V669.0M613.6,660.6V669.0M614.5,660.6V669.0M614.7,660.6V669.0M614.8,660.6V669.0M615.7,660.6V669.0M615.9,660.6V669.0M616.0,660.6V669.0M616.3,660.6V669.0M616.7,660.6V669.0M616.8,660.6V669.0M617.5,660.6V669.0M617.5,660.6V669.0M618.5,660.6V669.0M619.0,660.6V669.0M619.9,660.6V669.0M621.4,660.6V669.0M621.5,660.6V669.0M621.7,660.6V669.0M622.1,660.6V669.0M622.8,660.6V669.0M623.1,660.6V669.0M623.6,660.6V669.0M625.2,660.6V669.0M626.1,660.6V669.0M626.2,660.6V669.0M626.2,660.6V669.0M629.2,660.6V669.0M629.9,660.6V669.0M632.9,660.6V669.0M633.1,660.6V669.0M633.5,660.6V669.0M633.6,660.6V669.0M634.0,660.6V669.0M634.0,660.6V669.0M634.3,660.6V669.0M634.4,660.6V669.0M634.9,660.6V669.0M635.0,660.6V669.0M635.3,660.6V669.0M637.0,660.6V669.0M637.2,660.6V669.0M637.5,660.6V669.0M637.7,660.6V669.0M638.6,660.6V669.0M638.8,660.6V669.0M639.5,660.6V669.0M639.8,660.6V669.0M640.3,660.6V669.0M640.5,660.6V669.0M640.6,660.6V669.0M640.7,660.6V669.0M640.9,660.6V669.0M641.3,660.6V669.0M641.7,660.6V669.0M641.7,660.6V669.0M641.7,660.6V669.0M642.1,660.6V669.0M642.5,660.6V669.0M642.8,660.6V669.0M643.9,660.6V669.0M644.0,660.6V669.0M644.1,660.6V669.0M644.2,660.6V669.0M645.0,660.6V669.0M645.1,660.6V669.0M645.4,660.6V669.0M645.5,660.6V669.0M645.6,660.6V669.0M645.8,660.6V669.0M646.3,660.6V669.0M646.4,660.6V669.0M647.2,660.6V669.0" stroke="#a50f15" stroke-width="0.75"/><path d="M517.1,670.2V678.8M517.3,670.2V678.8M518.5,670.2V678.8M518.9,670.2V678.8M519.9,670.2V678.8M520.1,670.2V678.8M521.0,670.2V678.8M522.1,670.2V678.8M523.9,670.2V678.8M524.6,670.2V678.8M524.7,670.2V678.8M525.7,670.2V678.8M526.5,670.2V678.8M527.5,670.2V678.8M527.6,670.2V678.8M527.8,670.2V678.8M528.0,670.2V678.8M529.3,670.2V678.8M529.8,670.2V678.8M530.5,670.2V678.8M530.8,670.2V678.8M530.8,670.2V678.8M531.1,670.2V678.8M531.5,670.2V678.8M532.1,670.2V678.8M533.4,670.2V678.8M533.6,670.2V678.8M534.3,670.2V678.8M534.4,670.2V678.8M535.7,670.2V678.8M535.9,670.2V678.8M536.9,670.2V678.8M537.2,670.2V678.8M537.4,670.2V678.8M538.1,670.2V678.8M539.8,670.2V678.8M539.8,670.2V678.8M539.9,670.2V678.8M540.2,670.2V678.8M541.0,670.2V678.8M541.3,670.2V678.8M541.5,670.2V678.8M541.9,670.2V678.8M543.4,670.2V678.8M543.5,670.2V678.8M543.9,670.2V678.8M544.1,670.2V678.8M544.4,670.2V678.8M544.5,670.2V678.8M544.5,670.2V678.8M544.8,670.2V678.8M545.2,670.2V678.8M545.7,670.2V678.8M546.3,670.2V678.8M546.3,670.2V678.8M546.4,670.2V678.8M546.6,670.2V678.8M547.4,670.2V678.8M547.7,670.2V678.8M548.0,670.2V678.8M548.2,670.2V678.8M548.4,670.2V678.8M549.0,670.2V678.8M549.1,670.2V678.8M549.6,670.2V678.8M549.8,670.2V678.8M550.0,670.2V678.8M550.7,670.2V678.8M551.7,670.2V678.8M552.9,670.2V678.8M553.1,670.2V678.8M553.5,670.2V678.8M553.7,670.2V678.8M554.3,670.2V678.8M554.9,670.2V678.8M555.0,670.2V678.8M555.4,670.2V678.8M556.1,670.2V678.8M556.1,670.2V678.8M557.6,670.2V678.8M560.8,670.2V678.8M560.9,670.2V678.8M562.2,670.2V678.8M562.4,670.2V678.8M562.5,670.2V678.8M562.8,670.2V678.8M562.8,670.2V678.8M564.1,670.2V678.8M564.4,670.2V678.8M564.4,670.2V678.8M564.5,670.2V678.8M564.9,670.2V678.8M565.8,670.2V678.8M566.4,670.2V678.8M566.5,670.2V678.8M566.6,670.2V678.8M567.0,670.2V678.8M567.8,670.2V678.8M568.1,670.2V678.8M568.1,670.2V678.8M568.2,670.2V678.8M568.3,670.2V678.8M568.8,670.2V678.8M569.0,670.2V678.8M569.1,670.2V678.8M569.2,670.2V678.8M569.3,670.2V678.8M569.3,670.2V678.8M569.5,670.2V678.8M569.9,670.2V678.8M570.6,670.2V678.8M570.6,670.2V678.8M570.6,670.2V678.8M570.7,670.2V678.8M571.3,670.2V678.8M571.5,670.2V678.8M571.6,670.2V678.8M572.0,670.2V678.8M572.2,670.2V678.8M572.4,670.2V678.8M572.8,670.2V678.8M573.1,670.2V678.8M573.5,670.2V678.8M577.2,670.2V678.8M577.4,670.2V678.8M578.2,670.2V678.8M578.9,670.2V678.8M580.9,670.2V678.8M581.1,670.2V678.8M581.5,670.2V678.8M583.4,670.2V678.8M584.5,670.2V678.8M585.9,670.2V678.8M586.2,670.2V678.8M587.6,670.2V678.8M588.5,670.2V678.8M588.8,670.2V678.8M589.4,670.2V678.8M590.2,670.2V678.8M591.8,670.2V678.8M592.1,670.2V678.8M592.2,670.2V678.8M592.4,670.2V678.8M592.6,670.2V678.8M592.9,670.2V678.8M593.3,670.2V678.8M593.6,670.2V678.8M595.9,670.2V678.8M596.6,670.2V678.8M598.8,670.2V678.8M599.5,670.2V678.8M600.0,670.2V678.8M601.1,670.2V678.8M601.7,670.2V678.8M602.0,670.2V678.8M602.9,670.2V678.8M603.4,670.2V678.8M603.7,670.2V678.8M604.6,670.2V678.8M605.6,670.2V678.8M605.7,670.2V678.8M606.2,670.2V678.8M607.0,670.2V678.8M607.1,670.2V678.8M607.1,670.2V678.8M608.0,670.2V678.8M608.5,670.2V678.8M608.6,670.2V678.8M608.8,670.2V678.8M609.0,670.2V678.8M609.5,670.2V678.8M610.6,670.2V678.8M610.7,670.2V678.8M611.6,670.2V678.8M612.0,670.2V678.8M612.4,670.2V678.8M612.5,670.2V678.8M613.3,670.2V678.8M613.8,670.2V678.8M614.3,670.2V678.8M615.7,670.2V678.8M615.9,670.2V678.8M616.1,670.2V678.8M616.6,670.2V678.8M616.8,670.2V678.8M616.8,670.2V678.8M616.9,670.2V678.8M617.1,670.2V678.8M617.8,670.2V678.8M617.8,670.2V678.8M618.9,670.2V678.8M619.1,670.2V678.8M619.3,670.2V678.8M619.3,670.2V678.8M619.3,670.2V678.8M619.7,670.2V678.8M619.9,670.2V678.8M620.0,670.2V678.8M621.0,670.2V678.8M621.5,670.2V678.8M621.8,670.2V678.8M622.3,670.2V678.8M622.4,670.2V678.8M622.4,670.2V678.8M622.5,670.2V678.8M622.6,670.2V678.8M622.7,670.2V678.8M623.0,670.2V678.8M623.1,670.2V678.8M623.1,670.2V678.8M623.2,670.2V678.8M623.6,670.2V678.8M624.0,670.2V678.8M624.2,670.2V678.8M624.2,670.2V678.8M624.3,670.2V678.8M624.3,670.2V678.8M624.6,670.2V678.8M625.6,670.2V678.8M625.7,670.2V678.8M626.2,670.2V678.8M629.2,670.2V678.8M630.3,670.2V678.8M631.2,670.2V678.8M631.5,670.2V678.8M631.7,670.2V678.8M632.3,670.2V678.8M633.1,670.2V678.8M633.6,670.2V678.8M634.0,670.2V678.8M635.3,670.2V678.8M635.6,670.2V678.8M635.6,670.2V678.8M636.5,670.2V678.8M637.0,670.2V678.8M637.5,670.2V678.8M637.7,670.2V678.8M637.7,670.2V678.8M638.0,670.2V678.8M638.0,670.2V678.8M638.1,670.2V678.8M638.6,670.2V678.8M639.4,670.2V678.8M639.5,670.2V678.8M639.7,670.2V678.8M640.0,670.2V678.8M641.0,670.2V678.8M641.1,670.2V678.8M641.3,670.2V678.8M641.4,670.2V678.8M642.6,670.2V678.8M642.7,670.2V678.8M643.3,670.2V678.8M645.7,670.2V678.8M646.8,670.2V678.8" stroke="#1f78b4" stroke-width="0.75"/><path d="M517.20,609.90 C517.67,610.00 519.03,610.48 520.00,610.50 C520.97,610.52 522.00,609.83 523.00,610.00 C524.00,610.17 525.17,611.18 526.00,611.50 C526.83,611.82 527.33,611.68 528.00,611.89 C528.67,612.11 529.35,612.50 530.00,612.80 C530.65,613.10 531.28,613.46 531.92,613.72 C532.57,613.97 533.21,614.18 533.85,614.33 C534.49,614.49 535.13,614.46 535.78,614.65 C536.42,614.85 537.08,615.23 537.70,615.50 C538.33,615.77 538.92,616.00 539.53,616.25 C540.13,616.49 540.74,616.70 541.35,616.96 C541.96,617.23 542.57,617.60 543.17,617.86 C543.78,618.11 544.41,618.25 545.00,618.50 C545.59,618.75 546.14,619.17 546.71,619.33 C547.28,619.49 547.85,619.35 548.42,619.47 C549.00,619.59 549.57,619.75 550.14,620.04 C550.71,620.34 551.28,620.98 551.85,621.24 C552.42,621.49 552.99,621.38 553.56,621.58 C554.13,621.78 554.70,622.28 555.28,622.43 C555.85,622.59 556.42,622.35 556.99,622.53 C557.56,622.70 558.15,623.25 558.70,623.50 C559.25,623.75 559.77,623.81 560.31,624.02 C560.84,624.23 561.38,624.60 561.92,624.76 C562.45,624.92 562.99,624.76 563.52,624.97 C564.06,625.18 564.59,625.76 565.13,626.03 C565.67,626.29 566.20,626.47 566.74,626.55 C567.27,626.63 567.81,626.41 568.35,626.49 C568.88,626.58 569.42,626.80 569.95,627.04 C570.49,627.29 571.03,627.67 571.56,627.96 C572.10,628.25 572.63,628.63 573.17,628.79 C573.71,628.96 574.24,628.85 574.78,628.96 C575.31,629.06 575.85,629.20 576.38,629.39 C576.92,629.58 577.46,629.87 577.99,630.09 C578.53,630.31 579.06,630.57 579.60,630.70 C580.14,630.83 580.68,630.73 581.22,630.85 C581.75,630.98 582.29,631.27 582.83,631.47 C583.37,631.68 583.91,631.92 584.45,632.11 C584.98,632.30 585.52,632.50 586.06,632.64 C586.60,632.77 587.14,632.81 587.68,632.94 C588.22,633.07 588.75,633.26 589.29,633.42 C589.83,633.58 590.37,633.71 590.91,633.90 C591.45,634.08 591.98,634.38 592.52,634.55 C593.06,634.72 593.60,634.80 594.14,634.91 C594.68,635.02 595.22,634.99 595.75,635.21 C596.29,635.44 596.83,636.04 597.37,636.27 C597.91,636.49 598.45,636.43 598.98,636.55 C599.52,636.68 600.05,636.84 600.60,637.00 C601.15,637.16 601.72,637.43 602.27,637.54 C602.83,637.65 603.39,637.47 603.95,637.66 C604.51,637.84 605.07,638.43 605.62,638.66 C606.18,638.88 606.74,638.96 607.30,639.00 C607.86,639.05 608.42,638.84 608.98,638.92 C609.53,639.01 610.09,639.29 610.65,639.51 C611.21,639.72 611.77,640.05 612.33,640.22 C612.88,640.38 613.40,640.35 614.00,640.50 C614.60,640.65 615.27,640.91 615.90,641.12 C616.53,641.33 617.17,641.63 617.80,641.76 C618.43,641.88 619.07,641.76 619.70,641.87 C620.33,641.98 620.98,642.12 621.60,642.40 C622.22,642.68 622.80,643.21 623.40,643.53 C624.00,643.85 624.60,644.08 625.20,644.32 C625.80,644.56 626.40,644.68 627.00,644.96 C627.60,645.24 628.16,645.93 628.80,646.00 C629.44,646.07 630.18,645.57 630.87,645.39 C631.56,645.22 632.24,645.17 632.93,644.93 C633.62,644.70 634.38,644.31 635.00,644.00 C635.62,643.69 636.11,643.46 636.67,643.08 C637.22,642.69 637.78,642.10 638.33,641.67 C638.89,641.24 639.22,641.78 640.00,640.50 C640.78,639.22 642.08,636.58 643.00,634.00 C643.92,631.42 644.83,628.17 645.50,625.00 C646.17,621.83 646.70,617.50 647.00,615.00 C647.30,612.50 647.25,610.83 647.30,610.00" fill="none" stroke="#a50f15" stroke-width="2.6" stroke-linejoin="round"/><path d="M517.20,609.90 C517.27,608.25 517.38,602.98 517.60,600.00 C517.82,597.02 518.10,594.33 518.50,592.00 C518.90,589.67 519.42,587.92 520.00,586.00 C520.58,584.08 521.25,581.92 522.00,580.50 C522.75,579.08 523.60,578.22 524.50,577.50 C525.40,576.78 526.62,576.34 527.40,576.20 C528.18,576.06 528.60,576.62 529.20,576.67 C529.80,576.72 530.42,576.39 531.00,576.50 C531.58,576.61 532.12,577.20 532.67,577.31 C533.23,577.43 533.79,577.12 534.35,577.19 C534.91,577.26 535.47,577.49 536.03,577.71 C536.58,577.93 537.12,578.22 537.70,578.50 C538.28,578.78 538.92,579.16 539.53,579.41 C540.13,579.66 540.74,579.81 541.35,580.02 C541.96,580.22 542.57,580.45 543.17,580.64 C543.78,580.84 544.41,581.02 545.00,581.20 C545.59,581.38 546.14,581.50 546.71,581.73 C547.28,581.96 547.85,582.34 548.42,582.60 C549.00,582.85 549.57,583.04 550.14,583.26 C550.71,583.48 551.28,583.74 551.85,583.91 C552.42,584.08 552.99,584.07 553.56,584.27 C554.13,584.48 554.70,584.88 555.28,585.13 C555.85,585.37 556.42,585.53 556.99,585.76 C557.56,585.99 558.15,586.23 558.70,586.50 C559.25,586.77 559.77,587.09 560.31,587.39 C560.84,587.69 561.38,588.04 561.92,588.31 C562.45,588.58 562.99,588.82 563.52,589.01 C564.06,589.20 564.59,589.27 565.13,589.45 C565.67,589.64 566.20,589.90 566.74,590.12 C567.27,590.33 567.81,590.53 568.35,590.72 C568.88,590.92 569.42,591.08 569.95,591.29 C570.49,591.51 571.03,591.72 571.56,592.02 C572.10,592.31 572.63,592.77 573.17,593.05 C573.71,593.33 574.24,593.45 574.78,593.68 C575.31,593.91 575.85,594.14 576.38,594.45 C576.92,594.76 577.46,595.29 577.99,595.54 C578.53,595.80 579.06,595.79 579.60,596.00 C580.14,596.21 580.68,596.55 581.22,596.83 C581.75,597.10 582.29,597.42 582.83,597.66 C583.37,597.89 583.91,598.03 584.45,598.24 C584.98,598.44 585.52,598.62 586.06,598.90 C586.60,599.18 587.14,599.63 587.68,599.92 C588.22,600.20 588.75,600.30 589.29,600.59 C589.83,600.88 590.37,601.29 590.91,601.66 C591.45,602.03 591.98,602.52 592.52,602.81 C593.06,603.10 593.60,603.22 594.14,603.39 C594.68,603.57 595.22,603.56 595.75,603.85 C596.29,604.15 596.83,604.82 597.37,605.16 C597.91,605.50 598.45,605.68 598.98,605.90 C599.52,606.12 600.06,606.24 600.60,606.50 C601.14,606.76 601.68,607.13 602.22,607.43 C602.75,607.74 603.29,608.06 603.83,608.32 C604.37,608.58 604.91,608.75 605.45,608.99 C605.98,609.23 606.52,609.57 607.06,609.78 C607.60,609.99 608.14,609.97 608.68,610.24 C609.22,610.52 609.75,611.12 610.29,611.45 C610.83,611.78 611.37,612.05 611.91,612.21 C612.45,612.37 612.98,612.18 613.52,612.42 C614.06,612.65 614.60,613.28 615.14,613.60 C615.68,613.92 616.22,614.12 616.75,614.34 C617.29,614.57 617.83,614.70 618.37,614.93 C618.91,615.17 619.45,615.49 619.98,615.75 C620.52,616.01 621.04,616.27 621.60,616.50 C622.16,616.73 622.76,616.89 623.33,617.16 C623.91,617.43 624.49,617.91 625.07,618.13 C625.64,618.35 626.22,618.29 626.80,618.50 C627.38,618.71 627.96,619.19 628.53,619.40 C629.11,619.60 629.69,619.55 630.27,619.73 C630.84,619.91 631.44,620.29 632.00,620.50 C632.56,620.71 633.07,620.85 633.60,620.97 C634.13,621.08 634.67,621.16 635.20,621.18 C635.73,621.20 636.27,621.04 636.80,621.07 C637.33,621.10 637.87,621.28 638.40,621.35 C638.93,621.42 639.46,621.45 640.00,621.50 C640.54,621.55 641.11,621.66 641.67,621.63 C642.22,621.60 642.78,621.43 643.33,621.32 C643.89,621.22 644.47,621.89 645.00,621.00 C645.53,620.11 646.12,617.83 646.50,616.00 C646.88,614.17 647.17,611.00 647.30,610.00" fill="none" stroke="#1f78b4" stroke-width="2.6" stroke-linejoin="round"/><path d="M517.20,609.90 C517.30,607.92 517.50,601.15 517.80,598.00 C518.10,594.85 518.47,593.08 519.00,591.00 C519.53,588.92 520.17,587.00 521.00,585.50 C521.83,584.00 523.17,582.74 524.00,582.00 C524.83,581.26 525.33,581.32 526.00,581.07 C526.67,580.82 527.38,580.60 528.00,580.50 C528.62,580.40 529.17,580.51 529.75,580.48 C530.33,580.45 530.92,580.32 531.50,580.31 C532.08,580.30 532.67,580.42 533.25,580.42 C533.83,580.42 534.43,580.30 535.00,580.30 C535.57,580.30 536.11,580.46 536.67,580.42 C537.22,580.38 537.78,580.12 538.33,580.06 C538.89,580.00 539.44,579.96 540.00,580.06 C540.56,580.16 541.11,580.63 541.67,580.67 C542.22,580.71 542.78,580.33 543.33,580.30 C543.89,580.27 544.44,580.39 545.00,580.50 C545.56,580.61 546.14,580.67 546.71,580.94 C547.28,581.21 547.85,581.86 548.42,582.10 C549.00,582.33 549.57,582.16 550.14,582.35 C550.71,582.54 551.28,583.03 551.85,583.24 C552.42,583.44 552.99,583.42 553.56,583.61 C554.13,583.79 554.70,584.18 555.28,584.35 C555.85,584.52 556.42,584.44 556.99,584.63 C557.56,584.82 558.15,585.22 558.70,585.50 C559.25,585.78 559.77,586.04 560.31,586.33 C560.84,586.61 561.38,586.99 561.92,587.22 C562.45,587.45 562.99,587.48 563.52,587.71 C564.06,587.94 564.59,588.33 565.13,588.59 C565.67,588.85 566.20,589.11 566.74,589.27 C567.27,589.44 567.81,589.33 568.35,589.58 C568.88,589.83 569.42,590.49 569.95,590.80 C570.49,591.10 571.03,591.22 571.56,591.41 C572.10,591.60 572.63,591.76 573.17,591.94 C573.71,592.12 574.24,592.17 574.78,592.48 C575.31,592.79 575.85,593.50 576.38,593.79 C576.92,594.09 577.46,594.05 577.99,594.25 C578.53,594.45 579.06,594.72 579.60,595.00 C580.14,595.28 580.68,595.63 581.22,595.94 C581.75,596.24 582.29,596.57 582.83,596.83 C583.37,597.10 583.91,597.24 584.45,597.50 C584.98,597.77 585.52,598.21 586.06,598.43 C586.60,598.66 587.14,598.60 587.68,598.85 C588.22,599.10 588.75,599.65 589.29,599.92 C589.83,600.19 590.37,600.18 590.91,600.45 C591.45,600.73 591.98,601.27 592.52,601.58 C593.06,601.89 593.60,602.16 594.14,602.33 C594.68,602.49 595.22,602.39 595.75,602.56 C596.29,602.74 596.83,603.10 597.37,603.38 C597.91,603.65 598.45,603.91 598.98,604.22 C599.52,604.52 600.06,604.86 600.60,605.20 C601.14,605.54 601.68,606.01 602.22,606.24 C602.75,606.47 603.29,606.39 603.83,606.59 C604.37,606.79 604.91,607.21 605.45,607.43 C605.98,607.66 606.52,607.70 607.06,607.92 C607.60,608.15 608.14,608.53 608.68,608.78 C609.22,609.03 609.75,609.19 610.29,609.41 C610.83,609.63 611.37,609.84 611.91,610.10 C612.45,610.37 612.98,610.72 613.52,610.98 C614.06,611.25 614.60,611.42 615.14,611.70 C615.68,611.97 616.22,612.39 616.75,612.64 C617.29,612.89 617.83,612.96 618.37,613.20 C618.91,613.44 619.45,613.87 619.98,614.08 C620.52,614.30 621.04,614.30 621.60,614.50 C622.16,614.70 622.76,615.06 623.33,615.30 C623.91,615.54 624.49,615.78 625.07,615.94 C625.64,616.11 626.22,616.18 626.80,616.27 C627.38,616.36 627.96,616.26 628.53,616.46 C629.11,616.67 629.69,617.28 630.27,617.50 C630.84,617.73 631.42,617.67 632.00,617.80 C632.58,617.93 633.17,618.19 633.75,618.30 C634.33,618.41 634.92,618.42 635.50,618.43 C636.08,618.45 636.67,618.36 637.25,618.37 C637.83,618.38 638.43,618.57 639.00,618.50 C639.57,618.43 640.11,618.24 640.67,617.98 C641.22,617.73 641.78,617.21 642.33,616.96 C642.89,616.72 643.31,617.33 644.00,616.50 C644.69,615.67 645.97,613.20 646.50,612.00 C647.03,610.80 647.08,609.75 647.20,609.30" fill="none" stroke="#fba6a6" stroke-width="2.6" stroke-linejoin="round"/><rect x="510.5" y="572.5" width="143.3" height="106.9" fill="none" stroke="#111" stroke-width="1.1"/><path d="M510.5,650.1H653.8M510.5,660.0H653.8M510.5,669.6H653.8" stroke="#111" stroke-width="1.1"/><path d="M508.5,577.2H510.5M508.5,593.5H510.5M508.5,609.9H510.5M508.5,626.6H510.5M508.5,643.0H510.5M517.1,679.4v2M558.9,679.4v2M600.7,679.4v2M642.5,679.4v2" stroke="#333" stroke-width="0.8"/><text x="508.2" y="580.4" font-size="9.0" text-anchor="end" fill="#111" stroke="#111" stroke-width="0.18" >0.5</text><text x="508.2" y="596.7" font-size="9.0" text-anchor="end" fill="#111" stroke="#111" stroke-width="0.18" >0.2</text><text x="508.2" y="613.1" font-size="9.0" text-anchor="end" fill="#111" stroke="#111" stroke-width="0.18" >0.0</text><text x="508.2" y="629.8" font-size="9.0" text-anchor="end" fill="#111" stroke="#111" stroke-width="0.18" >-0.2</text><text x="508.2" y="646.2" font-size="9.0" text-anchor="end" fill="#111" stroke="#111" stroke-width="0.18" >-0.5</text><text x="517.1" y="688.0" font-size="7.7" text-anchor="middle" fill="#111" stroke="#111" stroke-width="0.18" >0</text><text x="558.9" y="688.0" font-size="7.7" text-anchor="middle" fill="#111" stroke="#111" stroke-width="0.18" >5000</text><text x="600.7" y="688.0" font-size="7.7" text-anchor="middle" fill="#111" stroke="#111" stroke-width="0.18" >10000</text><text x="642.5" y="688.0" font-size="7.7" text-anchor="middle" fill="#111" stroke="#111" stroke-width="0.18" >15000</text><text x="541.3" y="704.9" font-size="10.4" font-weight="bold" fill="#111" stroke="#111" stroke-width="0.25" textLength="81.5" lengthAdjust="spacingAndGlyphs">Dysfunctional Score</text><path d="M517.1,708.0V814.7M538.0,708.0V814.7M558.9,708.0V814.7M579.8,708.0V814.7M600.7,708.0V814.7M621.6,708.0V814.7M642.5,708.0V814.7M510.5,712.9H653.8M510.5,730.9H653.8M510.5,748.7H653.8M510.5,766.6H653.8M510.5,784.4H653.8M510.5,788.4H653.8M510.5,791.9H653.8M510.5,798.5H653.8M510.5,801.7H653.8M510.5,808.2H653.8M510.5,811.4H653.8" stroke="#d9d9d9" stroke-width="1.1"/><path d="M510.5,748.7H653.8" stroke="#9a9a9a" stroke-width="1.4"/><path d="M517.4,785.6V794.7M517.9,785.6V794.7M519.0,785.6V794.7M519.6,785.6V794.7M520.3,785.6V794.7M520.6,785.6V794.7M522.1,785.6V794.7M522.1,785.6V794.7M522.5,785.6V794.7M522.8,785.6V794.7M523.5,785.6V794.7M523.6,785.6V794.7M525.1,785.6V794.7M525.1,785.6V794.7M526.7,785.6V794.7M528.0,785.6V794.7M528.3,785.6V794.7M529.2,785.6V794.7M529.4,785.6V794.7M529.6,785.6V794.7M530.0,785.6V794.7M530.5,785.6V794.7M531.2,785.6V794.7M531.3,785.6V794.7M531.3,785.6V794.7M531.9,785.6V794.7M532.0,785.6V794.7M532.9,785.6V794.7M533.1,785.6V794.7M533.3,785.6V794.7M533.3,785.6V794.7M533.7,785.6V794.7M533.7,785.6V794.7M534.0,785.6V794.7M534.6,785.6V794.7M535.6,785.6V794.7M535.9,785.6V794.7M537.1,785.6V794.7M537.2,785.6V794.7M537.3,785.6V794.7M537.9,785.6V794.7M538.9,785.6V794.7M540.1,785.6V794.7M540.3,785.6V794.7M541.3,785.6V794.7M541.4,785.6V794.7M541.6,785.6V794.7M543.1,785.6V794.7M543.3,785.6V794.7M544.0,785.6V794.7M545.0,785.6V794.7M545.3,785.6V794.7M546.0,785.6V794.7M546.2,785.6V794.7M546.4,785.6V794.7M551.0,785.6V794.7M551.2,785.6V794.7M551.5,785.6V794.7M552.1,785.6V794.7M552.7,785.6V794.7M554.4,785.6V794.7M555.7,785.6V794.7M556.1,785.6V794.7M559.8,785.6V794.7M559.9,785.6V794.7M560.3,785.6V794.7M561.1,785.6V794.7M562.4,785.6V794.7M565.1,785.6V794.7M565.7,785.6V794.7M566.1,785.6V794.7M566.2,785.6V794.7M566.3,785.6V794.7M567.2,785.6V794.7M567.4,785.6V794.7M569.9,785.6V794.7M572.5,785.6V794.7M573.5,785.6V794.7M573.5,785.6V794.7M573.7,785.6V794.7M574.4,785.6V794.7M574.9,785.6V794.7M575.0,785.6V794.7M575.1,785.6V794.7M576.2,785.6V794.7M576.9,785.6V794.7M576.9,785.6V794.7M577.3,785.6V794.7M577.4,785.6V794.7M578.3,785.6V794.7M578.4,785.6V794.7M578.5,785.6V794.7M578.5,785.6V794.7M578.7,785.6V794.7M579.1,785.6V794.7M579.1,785.6V794.7M579.2,785.6V794.7M579.3,785.6V794.7M579.8,785.6V794.7M579.8,785.6V794.7M580.0,785.6V794.7M581.6,785.6V794.7M581.8,785.6V794.7M582.1,785.6V794.7M582.1,785.6V794.7M583.1,785.6V794.7M583.2,785.6V794.7M583.7,785.6V794.7M583.9,785.6V794.7M584.7,785.6V794.7M585.2,785.6V794.7M586.1,785.6V794.7M586.9,785.6V794.7M588.3,785.6V794.7M588.4,785.6V794.7M588.6,785.6V794.7M589.1,785.6V794.7M590.2,785.6V794.7M591.4,785.6V794.7M591.5,785.6V794.7M591.8,785.6V794.7M592.1,785.6V794.7M592.1,785.6V794.7M592.2,785.6V794.7M592.2,785.6V794.7M592.6,785.6V794.7M593.3,785.6V794.7M593.6,785.6V794.7M594.2,785.6V794.7M595.0,785.6V794.7M595.3,785.6V794.7M595.6,785.6V794.7M595.9,785.6V794.7M596.2,785.6V794.7M596.7,785.6V794.7M597.1,785.6V794.7M597.2,785.6V794.7M598.2,785.6V794.7M598.3,785.6V794.7M598.3,785.6V794.7M598.7,785.6V794.7M600.5,785.6V794.7M600.6,785.6V794.7M601.5,785.6V794.7M603.1,785.6V794.7M603.5,785.6V794.7M603.8,785.6V794.7M604.3,785.6V794.7M604.4,785.6V794.7M604.7,785.6V794.7M605.7,785.6V794.7M606.1,785.6V794.7M606.4,785.6V794.7M606.4,785.6V794.7M606.7,785.6V794.7M607.1,785.6V794.7M607.2,785.6V794.7M607.4,785.6V794.7M607.9,785.6V794.7M608.0,785.6V794.7M608.3,785.6V794.7M608.3,785.6V794.7M608.5,785.6V794.7M608.8,785.6V794.7M608.8,785.6V794.7M608.8,785.6V794.7M609.2,785.6V794.7M610.0,785.6V794.7M610.4,785.6V794.7M610.5,785.6V794.7M610.6,785.6V794.7M610.7,785.6V794.7M611.5,785.6V794.7M612.3,785.6V794.7M612.7,785.6V794.7M612.9,785.6V794.7M613.4,785.6V794.7M615.2,785.6V794.7M615.3,785.6V794.7M615.6,785.6V794.7M615.9,785.6V794.7M616.2,785.6V794.7M616.3,785.6V794.7M616.3,785.6V794.7M616.8,785.6V794.7M617.1,785.6V794.7M617.8,785.6V794.7M617.8,785.6V794.7M618.7,785.6V794.7M618.7,785.6V794.7M618.8,785.6V794.7M618.9,785.6V794.7M619.7,785.6V794.7M620.5,785.6V794.7M622.4,785.6V794.7M622.7,785.6V794.7M623.6,785.6V794.7M623.7,785.6V794.7M624.0,785.6V794.7M624.1,785.6V794.7M624.4,785.6V794.7M625.0,785.6V794.7M625.0,785.6V794.7M625.5,785.6V794.7M626.5,785.6V794.7M626.7,785.6V794.7M626.7,785.6V794.7M627.1,785.6V794.7M627.4,785.6V794.7M627.7,785.6V794.7M628.0,785.6V794.7M628.1,785.6V794.7M628.2,785.6V794.7M628.3,785.6V794.7M628.7,785.6V794.7M628.9,785.6V794.7M629.0,785.6V794.7M629.3,785.6V794.7M629.4,785.6V794.7M632.3,785.6V794.7M632.5,785.6V794.7M633.0,785.6V794.7M633.3,785.6V794.7M633.4,785.6V794.7M633.7,785.6V794.7M634.1,785.6V794.7M634.3,785.6V794.7M634.8,785.6V794.7M634.9,785.6V794.7M635.0,785.6V794.7M635.5,785.6V794.7M636.1,785.6V794.7M636.1,785.6V794.7M636.1,785.6V794.7M636.4,785.6V794.7M636.6,785.6V794.7M636.8,785.6V794.7M637.7,785.6V794.7M638.5,785.6V794.7M638.8,785.6V794.7M639.2,785.6V794.7M639.3,785.6V794.7M639.9,785.6V794.7M639.9,785.6V794.7M641.1,785.6V794.7M641.1,785.6V794.7M641.7,785.6V794.7M642.1,785.6V794.7M642.1,785.6V794.7M643.0,785.6V794.7M643.2,785.6V794.7M643.5,785.6V794.7M644.5,785.6V794.7M646.1,785.6V794.7M646.2,785.6V794.7" stroke="#fba6a6" stroke-width="0.75"/><path d="M518.3,795.9V804.3M518.5,795.9V804.3M518.5,795.9V804.3M519.3,795.9V804.3M519.6,795.9V804.3M519.8,795.9V804.3M520.1,795.9V804.3M520.8,795.9V804.3M520.9,795.9V804.3M521.3,795.9V804.3M521.4,795.9V804.3M522.4,795.9V804.3M523.1,795.9V804.3M523.3,795.9V804.3M524.0,795.9V804.3M524.8,795.9V804.3M525.0,795.9V804.3M526.4,795.9V804.3M526.5,795.9V804.3M527.0,795.9V804.3M527.6,795.9V804.3M527.7,795.9V804.3M528.3,795.9V804.3M528.6,795.9V804.3M530.4,795.9V804.3M530.4,795.9V804.3M531.4,795.9V804.3M531.7,795.9V804.3M532.0,795.9V804.3M533.1,795.9V804.3M533.3,795.9V804.3M533.4,795.9V804.3M534.1,795.9V804.3M534.8,795.9V804.3M537.2,795.9V804.3M537.3,795.9V804.3M538.9,795.9V804.3M539.1,795.9V804.3M539.6,795.9V804.3M539.7,795.9V804.3M541.9,795.9V804.3M543.5,795.9V804.3M543.7,795.9V804.3M545.3,795.9V804.3M546.4,795.9V804.3M547.2,795.9V804.3M549.9,795.9V804.3M550.1,795.9V804.3M550.5,795.9V804.3M550.7,795.9V804.3M550.8,795.9V804.3M551.8,795.9V804.3M552.4,795.9V804.3M552.5,795.9V804.3M552.5,795.9V804.3M553.4,795.9V804.3M553.9,795.9V804.3M554.0,795.9V804.3M554.3,795.9V804.3M554.8,795.9V804.3M556.0,795.9V804.3M556.1,795.9V804.3M556.2,795.9V804.3M556.3,795.9V804.3M556.6,795.9V804.3M556.6,795.9V804.3M556.9,795.9V804.3M557.1,795.9V804.3M557.3,795.9V804.3M557.6,795.9V804.3M557.9,795.9V804.3M557.9,795.9V804.3M558.0,795.9V804.3M558.2,795.9V804.3M558.8,795.9V804.3M558.9,795.9V804.3M559.0,795.9V804.3M559.0,795.9V804.3M559.5,795.9V804.3M559.7,795.9V804.3M560.0,795.9V804.3M560.2,795.9V804.3M560.2,795.9V804.3M560.4,795.9V804.3M560.4,795.9V804.3M560.5,795.9V804.3M561.4,795.9V804.3M561.7,795.9V804.3M562.0,795.9V804.3M562.4,795.9V804.3M562.5,795.9V804.3M562.7,795.9V804.3M562.7,795.9V804.3M563.1,795.9V804.3M563.1,795.9V804.3M563.6,795.9V804.3M563.7,795.9V804.3M563.7,795.9V804.3M563.7,795.9V804.3M564.0,795.9V804.3M564.0,795.9V804.3M564.9,795.9V804.3M565.5,795.9V804.3M566.1,795.9V804.3M566.8,795.9V804.3M567.1,795.9V804.3M567.5,795.9V804.3M567.5,795.9V804.3M567.6,795.9V804.3M568.6,795.9V804.3M569.6,795.9V804.3M569.6,795.9V804.3M570.6,795.9V804.3M570.9,795.9V804.3M572.6,795.9V804.3M572.7,795.9V804.3M572.8,795.9V804.3M573.5,795.9V804.3M573.6,795.9V804.3M574.1,795.9V804.3M574.2,795.9V804.3M574.6,795.9V804.3M574.6,795.9V804.3M575.0,795.9V804.3M575.0,795.9V804.3M575.1,795.9V804.3M575.5,795.9V804.3M576.1,795.9V804.3M576.8,795.9V804.3M577.0,795.9V804.3M577.3,795.9V804.3M579.9,795.9V804.3M580.3,795.9V804.3M580.5,795.9V804.3M582.5,795.9V804.3M582.7,795.9V804.3M583.8,795.9V804.3M584.0,795.9V804.3M584.6,795.9V804.3M585.3,795.9V804.3M585.5,795.9V804.3M588.1,795.9V804.3M589.1,795.9V804.3M589.6,795.9V804.3M589.9,795.9V804.3M590.4,795.9V804.3M590.7,795.9V804.3M591.4,795.9V804.3M592.3,795.9V804.3M592.3,795.9V804.3M592.3,795.9V804.3M592.6,795.9V804.3M592.7,795.9V804.3M593.5,795.9V804.3M593.6,795.9V804.3M594.0,795.9V804.3M594.1,795.9V804.3M594.2,795.9V804.3M594.7,795.9V804.3M596.4,795.9V804.3M597.0,795.9V804.3M597.7,795.9V804.3M598.5,795.9V804.3M598.6,795.9V804.3M598.7,795.9V804.3M598.7,795.9V804.3M599.0,795.9V804.3M599.1,795.9V804.3M599.7,795.9V804.3M600.2,795.9V804.3M601.0,795.9V804.3M601.1,795.9V804.3M602.4,795.9V804.3M602.6,795.9V804.3M602.8,795.9V804.3M602.8,795.9V804.3M603.2,795.9V804.3M603.7,795.9V804.3M604.2,795.9V804.3M604.6,795.9V804.3M605.1,795.9V804.3M605.8,795.9V804.3M607.3,795.9V804.3M607.4,795.9V804.3M607.7,795.9V804.3M608.1,795.9V804.3M608.2,795.9V804.3M608.4,795.9V804.3M609.9,795.9V804.3M611.2,795.9V804.3M611.4,795.9V804.3M611.6,795.9V804.3M614.4,795.9V804.3M615.7,795.9V804.3M615.8,795.9V804.3M615.8,795.9V804.3M616.6,795.9V804.3M616.6,795.9V804.3M617.0,795.9V804.3M617.3,795.9V804.3M618.4,795.9V804.3M619.7,795.9V804.3M620.3,795.9V804.3M620.6,795.9V804.3M621.0,795.9V804.3M621.0,795.9V804.3M621.3,795.9V804.3M621.4,795.9V804.3M621.4,795.9V804.3M621.7,795.9V804.3M622.5,795.9V804.3M622.8,795.9V804.3M623.3,795.9V804.3M624.0,795.9V804.3M624.3,795.9V804.3M624.3,795.9V804.3M624.5,795.9V804.3M624.5,795.9V804.3M624.9,795.9V804.3M624.9,795.9V804.3M625.2,795.9V804.3M625.5,795.9V804.3M625.7,795.9V804.3M625.9,795.9V804.3M626.3,795.9V804.3M627.9,795.9V804.3M630.1,795.9V804.3M630.7,795.9V804.3M631.0,795.9V804.3M631.6,795.9V804.3M632.6,795.9V804.3M633.9,795.9V804.3M634.0,795.9V804.3M634.1,795.9V804.3M637.1,795.9V804.3M637.7,795.9V804.3M637.9,795.9V804.3M638.0,795.9V804.3M640.4,795.9V804.3M641.2,795.9V804.3M642.4,795.9V804.3M643.7,795.9V804.3M644.3,795.9V804.3M645.1,795.9V804.3M645.7,795.9V804.3M646.0,795.9V804.3M646.2,795.9V804.3M646.3,795.9V804.3M646.3,795.9V804.3M646.4,795.9V804.3M646.9,795.9V804.3M647.2,795.9V804.3M647.3,795.9V804.3M647.3,795.9V804.3M647.5,795.9V804.3" stroke="#a50f15" stroke-width="0.75"/><path d="M517.1,805.5V814.1M517.1,805.5V814.1M517.1,805.5V814.1M517.2,805.5V814.1M517.3,805.5V814.1M517.4,805.5V814.1M518.5,805.5V814.1M518.9,805.5V814.1M519.1,805.5V814.1M519.2,805.5V814.1M519.6,805.5V814.1M519.7,805.5V814.1M519.9,805.5V814.1M521.0,805.5V814.1M521.0,805.5V814.1M521.1,805.5V814.1M521.2,805.5V814.1M521.4,805.5V814.1M521.7,805.5V814.1M523.2,805.5V814.1M523.3,805.5V814.1M524.4,805.5V814.1M525.0,805.5V814.1M525.2,805.5V814.1M526.5,805.5V814.1M526.6,805.5V814.1M527.7,805.5V814.1M528.7,805.5V814.1M529.0,805.5V814.1M529.3,805.5V814.1M532.1,805.5V814.1M532.3,805.5V814.1M532.4,805.5V814.1M533.1,805.5V814.1M533.4,805.5V814.1M534.0,805.5V814.1M534.1,805.5V814.1M534.4,805.5V814.1M536.7,805.5V814.1M537.5,805.5V814.1M538.5,805.5V814.1M539.9,805.5V814.1M542.6,805.5V814.1M542.6,805.5V814.1M544.1,805.5V814.1M544.9,805.5V814.1M545.1,805.5V814.1M545.3,805.5V814.1M546.2,805.5V814.1M546.6,805.5V814.1M546.7,805.5V814.1M547.1,805.5V814.1M547.3,805.5V814.1M547.4,805.5V814.1M548.9,805.5V814.1M549.1,805.5V814.1M549.8,805.5V814.1M550.1,805.5V814.1M550.9,805.5V814.1M551.4,805.5V814.1M551.5,805.5V814.1M552.7,805.5V814.1M552.9,805.5V814.1M553.5,805.5V814.1M553.6,805.5V814.1M553.9,805.5V814.1M555.0,805.5V814.1M555.5,805.5V814.1M555.9,805.5V814.1M556.1,805.5V814.1M556.4,805.5V814.1M556.5,805.5V814.1M556.9,805.5V814.1M557.4,805.5V814.1M557.8,805.5V814.1M558.2,805.5V814.1M558.5,805.5V814.1M559.5,805.5V814.1M560.4,805.5V814.1M560.9,805.5V814.1M561.0,805.5V814.1M561.0,805.5V814.1M561.2,805.5V814.1M561.4,805.5V814.1M562.1,805.5V814.1M562.2,805.5V814.1M562.4,805.5V814.1M562.4,805.5V814.1M562.9,805.5V814.1M563.0,805.5V814.1M563.4,805.5V814.1M563.9,805.5V814.1M564.1,805.5V814.1M564.7,805.5V814.1M565.3,805.5V814.1M565.4,805.5V814.1M566.0,805.5V814.1M566.2,805.5V814.1M567.1,805.5V814.1M567.3,805.5V814.1M567.9,805.5V814.1M568.8,805.5V814.1M569.8,805.5V814.1M570.9,805.5V814.1M571.1,805.5V814.1M571.3,805.5V814.1M573.8,805.5V814.1M574.3,805.5V814.1M574.8,805.5V814.1M576.3,805.5V814.1M576.5,805.5V814.1M577.4,805.5V814.1M579.7,805.5V814.1M580.8,805.5V814.1M581.8,805.5V814.1M582.4,805.5V814.1M582.5,805.5V814.1M582.7,805.5V814.1M583.4,805.5V814.1M583.4,805.5V814.1M583.6,805.5V814.1M584.4,805.5V814.1M584.4,805.5V814.1M585.4,805.5V814.1M585.6,805.5V814.1M586.5,805.5V814.1M586.8,805.5V814.1M586.9,805.5V814.1M588.3,805.5V814.1M589.0,805.5V814.1M589.4,805.5V814.1M589.5,805.5V814.1M590.0,805.5V814.1M590.3,805.5V814.1M590.9,805.5V814.1M591.2,805.5V814.1M591.7,805.5V814.1M592.2,805.5V814.1M593.1,805.5V814.1M593.2,805.5V814.1M593.3,805.5V814.1M594.3,805.5V814.1M594.6,805.5V814.1M595.7,805.5V814.1M596.2,805.5V814.1M596.2,805.5V814.1M596.3,805.5V814.1M597.6,805.5V814.1M597.9,805.5V814.1M600.6,805.5V814.1M602.0,805.5V814.1M603.6,805.5V814.1M604.0,805.5V814.1M604.7,805.5V814.1M606.0,805.5V814.1M606.3,805.5V814.1M606.4,805.5V814.1M607.2,805.5V814.1M608.3,805.5V814.1M609.0,805.5V814.1M610.7,805.5V814.1M611.0,805.5V814.1M611.6,805.5V814.1M612.0,805.5V814.1M612.6,805.5V814.1M612.8,805.5V814.1M613.0,805.5V814.1M613.1,805.5V814.1M614.3,805.5V814.1M614.4,805.5V814.1M615.1,805.5V814.1M616.5,805.5V814.1M616.6,805.5V814.1M616.6,805.5V814.1M616.9,805.5V814.1M617.8,805.5V814.1M618.1,805.5V814.1M618.2,805.5V814.1M618.5,805.5V814.1M619.5,805.5V814.1M619.6,805.5V814.1M619.9,805.5V814.1M619.9,805.5V814.1M620.9,805.5V814.1M621.3,805.5V814.1M621.6,805.5V814.1M622.1,805.5V814.1M622.3,805.5V814.1M623.2,805.5V814.1M623.3,805.5V814.1M623.3,805.5V814.1M623.5,805.5V814.1M623.5,805.5V814.1M623.6,805.5V814.1M623.9,805.5V814.1M624.0,805.5V814.1M624.1,805.5V814.1M624.8,805.5V814.1M624.9,805.5V814.1M624.9,805.5V814.1M625.1,805.5V814.1M625.8,805.5V814.1M625.8,805.5V814.1M625.9,805.5V814.1M626.1,805.5V814.1M626.5,805.5V814.1M627.6,805.5V814.1M627.7,805.5V814.1M627.7,805.5V814.1M628.1,805.5V814.1M628.6,805.5V814.1M629.0,805.5V814.1M629.0,805.5V814.1M629.6,805.5V814.1M630.3,805.5V814.1M630.3,805.5V814.1M630.6,805.5V814.1M630.8,805.5V814.1M631.0,805.5V814.1M631.1,805.5V814.1M632.8,805.5V814.1M633.5,805.5V814.1M633.7,805.5V814.1M634.6,805.5V814.1M634.9,805.5V814.1M636.8,805.5V814.1M636.8,805.5V814.1M637.2,805.5V814.1M637.3,805.5V814.1M638.7,805.5V814.1M639.7,805.5V814.1M640.7,805.5V814.1M640.7,805.5V814.1M641.2,805.5V814.1M641.5,805.5V814.1M641.6,805.5V814.1M641.9,805.5V814.1M642.1,805.5V814.1M642.1,805.5V814.1M642.3,805.5V814.1M642.4,805.5V814.1M642.8,805.5V814.1M643.0,805.5V814.1M643.6,805.5V814.1M643.7,805.5V814.1M643.8,805.5V814.1M643.9,805.5V814.1M644.6,805.5V814.1M644.7,805.5V814.1M644.7,805.5V814.1M644.8,805.5V814.1M645.2,805.5V814.1M645.7,805.5V814.1M646.4,805.5V814.1M647.3,805.5V814.1" stroke="#1f78b4" stroke-width="0.75"/><path d="M517.20,748.70 C517.33,747.92 517.62,745.28 518.00,744.00 C518.38,742.72 518.96,741.66 519.50,741.00 C520.04,740.34 520.67,740.32 521.25,740.07 C521.83,739.82 522.42,739.66 523.00,739.50 C523.58,739.34 524.17,739.15 524.75,739.10 C525.33,739.04 525.92,739.21 526.50,739.18 C527.08,739.14 527.67,738.91 528.25,738.88 C528.83,738.85 529.39,738.97 530.00,739.00 C530.61,739.03 531.28,738.96 531.92,739.07 C532.57,739.19 533.21,739.46 533.85,739.68 C534.49,739.91 535.13,740.28 535.78,740.42 C536.42,740.55 537.08,740.35 537.70,740.50 C538.33,740.65 538.92,741.10 539.53,741.34 C540.13,741.57 540.74,741.79 541.35,741.94 C541.96,742.08 542.57,742.00 543.17,742.18 C543.78,742.36 544.41,742.73 545.00,743.00 C545.59,743.27 546.14,743.55 546.71,743.78 C547.28,744.00 547.85,744.14 548.42,744.34 C549.00,744.55 549.57,744.79 550.14,745.02 C550.71,745.25 551.28,745.47 551.85,745.72 C552.42,745.98 552.99,746.20 553.56,746.55 C554.13,746.90 554.70,747.48 555.28,747.80 C555.85,748.12 556.42,748.28 556.99,748.48 C557.56,748.68 558.15,748.77 558.70,749.00 C559.25,749.23 559.77,749.62 560.31,749.88 C560.84,750.13 561.38,750.38 561.92,750.53 C562.45,750.68 562.99,750.61 563.52,750.77 C564.06,750.93 564.59,751.24 565.13,751.51 C565.67,751.78 566.20,752.13 566.74,752.40 C567.27,752.67 567.81,752.88 568.35,753.13 C568.88,753.38 569.42,753.64 569.95,753.88 C570.49,754.12 571.03,754.43 571.56,754.56 C572.10,754.69 572.63,754.48 573.17,754.66 C573.71,754.85 574.24,755.40 574.78,755.69 C575.31,755.98 575.85,756.19 576.38,756.40 C576.92,756.61 577.46,756.74 577.99,756.94 C578.53,757.14 579.06,757.35 579.60,757.60 C580.14,757.85 580.68,758.07 581.22,758.42 C581.75,758.77 582.29,759.34 582.83,759.67 C583.37,760.01 583.91,760.05 584.45,760.45 C584.98,760.85 585.52,761.65 586.06,762.09 C586.60,762.53 587.14,762.78 587.68,763.09 C588.22,763.39 588.75,763.63 589.29,763.91 C589.83,764.19 590.37,764.39 590.91,764.78 C591.45,765.17 591.98,765.87 592.52,766.26 C593.06,766.64 593.60,766.72 594.14,767.07 C594.68,767.41 595.22,767.95 595.75,768.33 C596.29,768.71 596.83,769.05 597.37,769.35 C597.91,769.66 598.45,769.85 598.98,770.16 C599.52,770.47 600.02,770.85 600.60,771.20 C601.18,771.55 601.85,771.87 602.48,772.26 C603.11,772.64 603.73,773.13 604.36,773.51 C604.99,773.88 605.61,774.19 606.24,774.51 C606.87,774.83 607.49,775.06 608.12,775.44 C608.75,775.82 609.38,776.49 610.00,776.80 C610.62,777.11 611.22,777.06 611.83,777.31 C612.44,777.56 613.05,778.12 613.66,778.30 C614.27,778.49 614.88,778.28 615.49,778.41 C616.10,778.53 616.70,778.77 617.31,779.05 C617.92,779.34 618.53,779.86 619.14,780.10 C619.75,780.34 620.36,780.30 620.97,780.50 C621.58,780.70 622.20,781.20 622.80,781.30 C623.40,781.40 624.00,781.19 624.60,781.12 C625.20,781.05 625.80,780.97 626.40,780.88 C627.00,780.79 627.60,780.65 628.20,780.59 C628.80,780.53 629.42,780.54 630.00,780.50 C630.58,780.46 631.11,780.55 631.67,780.35 C632.22,780.15 632.78,779.51 633.33,779.29 C633.89,779.06 634.44,779.22 635.00,779.00 C635.56,778.78 636.11,778.31 636.67,777.94 C637.22,777.57 637.78,777.12 638.33,776.79 C638.89,776.47 639.22,776.80 640.00,776.00 C640.78,775.20 642.08,773.83 643.00,772.00 C643.92,770.17 644.83,768.17 645.50,765.00 C646.17,761.83 646.75,755.00 647.00,753.00" fill="none" stroke="#a50f15" stroke-width="2.6" stroke-linejoin="round"/><path d="M517.20,748.70 C517.27,746.92 517.38,741.45 517.60,738.00 C517.82,734.55 518.02,731.17 518.50,728.00 C518.98,724.83 519.67,721.42 520.50,719.00 C521.33,716.58 522.69,714.57 523.50,713.50 C524.31,712.43 524.72,712.87 525.33,712.55 C525.94,712.24 526.56,711.96 527.17,711.60 C527.78,711.24 528.42,710.53 529.00,710.40 C529.58,710.27 530.11,710.69 530.67,710.81 C531.22,710.92 531.78,711.08 532.33,711.11 C532.89,711.14 533.41,710.91 534.00,711.00 C534.59,711.09 535.23,711.50 535.85,711.67 C536.47,711.83 537.09,711.74 537.70,712.00 C538.31,712.26 538.92,712.98 539.53,713.25 C540.13,713.51 540.74,713.31 541.35,713.57 C541.96,713.83 542.57,714.45 543.17,714.83 C543.78,715.20 544.41,715.46 545.00,715.80 C545.59,716.14 546.14,716.61 546.71,716.89 C547.28,717.16 547.85,717.20 548.42,717.45 C549.00,717.71 549.57,718.21 550.14,718.41 C550.71,718.60 551.28,718.42 551.85,718.63 C552.42,718.84 552.99,719.38 553.56,719.65 C554.13,719.93 554.70,720.01 555.28,720.27 C555.85,720.54 556.42,720.97 556.99,721.26 C557.56,721.54 558.15,721.71 558.70,722.00 C559.25,722.29 559.77,722.72 560.31,722.97 C560.84,723.23 561.38,723.24 561.92,723.51 C562.45,723.77 562.99,724.23 563.52,724.57 C564.06,724.91 564.59,725.15 565.13,725.54 C565.67,725.93 566.20,726.54 566.74,726.91 C567.27,727.27 567.81,727.51 568.35,727.72 C568.88,727.94 569.42,727.91 569.95,728.22 C570.49,728.53 571.03,729.29 571.56,729.59 C572.10,729.90 572.63,729.77 573.17,730.05 C573.71,730.34 574.24,731.01 574.78,731.31 C575.31,731.62 575.85,731.66 576.38,731.89 C576.92,732.13 577.46,732.38 577.99,732.73 C578.53,733.08 579.06,733.56 579.60,734.00 C580.14,734.44 580.68,735.02 581.22,735.35 C581.75,735.68 582.29,735.69 582.83,735.98 C583.37,736.27 583.91,736.62 584.45,737.08 C584.98,737.53 585.52,738.27 586.06,738.71 C586.60,739.15 587.14,739.44 587.68,739.72 C588.22,740.01 588.75,740.03 589.29,740.41 C589.83,740.78 590.37,741.58 590.91,741.97 C591.45,742.36 591.98,742.43 592.52,742.77 C593.06,743.10 593.60,743.63 594.14,743.96 C594.68,744.28 595.22,744.32 595.75,744.72 C596.29,745.11 596.83,745.90 597.37,746.32 C597.91,746.74 598.45,746.93 598.98,747.24 C599.52,747.55 600.06,747.82 600.60,748.20 C601.14,748.58 601.68,749.14 602.22,749.51 C602.75,749.89 603.29,750.19 603.83,750.44 C604.37,750.70 604.91,750.75 605.45,751.01 C605.98,751.28 606.52,751.73 607.06,752.04 C607.60,752.35 608.14,752.59 608.68,752.89 C609.22,753.19 609.75,753.54 610.29,753.86 C610.83,754.18 611.37,754.44 611.91,754.79 C612.45,755.13 612.98,755.55 613.52,755.94 C614.06,756.33 614.60,756.84 615.14,757.13 C615.68,757.43 616.22,757.36 616.75,757.70 C617.29,758.04 617.83,758.79 618.37,759.16 C618.91,759.52 619.45,759.59 619.98,759.90 C620.52,760.21 621.04,760.70 621.60,761.00 C622.16,761.30 622.76,761.39 623.33,761.70 C623.91,762.02 624.49,762.59 625.07,762.89 C625.64,763.19 626.22,763.27 626.80,763.49 C627.38,763.71 627.96,763.93 628.53,764.20 C629.11,764.48 629.69,764.85 630.27,765.15 C630.84,765.45 631.39,765.76 632.00,766.00 C632.61,766.24 633.28,766.49 633.92,766.59 C634.57,766.69 635.21,766.41 635.85,766.59 C636.49,766.77 637.13,767.48 637.78,767.68 C638.42,767.88 639.02,768.07 639.70,767.80 C640.38,767.53 641.13,766.53 641.85,766.07 C642.57,765.60 643.23,766.34 644.00,765.00 C644.77,763.66 645.95,760.50 646.50,758.00 C647.05,755.50 647.17,751.33 647.30,750.00" fill="none" stroke="#1f78b4" stroke-width="2.6" stroke-linejoin="round"/><path d="M517.20,748.70 C517.30,746.92 517.50,741.45 517.80,738.00 C518.10,734.55 518.38,731.00 519.00,728.00 C519.62,725.00 520.79,721.67 521.50,720.00 C522.21,718.33 522.67,718.71 523.25,717.96 C523.83,717.21 524.43,715.98 525.00,715.50 C525.57,715.02 526.11,715.28 526.67,715.06 C527.22,714.83 527.78,714.42 528.33,714.16 C528.89,713.90 529.40,713.60 530.00,713.50 C530.60,713.40 531.28,713.56 531.92,713.58 C532.57,713.61 533.21,713.52 533.85,713.65 C534.49,713.78 535.13,714.22 535.78,714.36 C536.42,714.51 537.08,714.40 537.70,714.50 C538.33,714.60 538.92,714.78 539.53,714.98 C540.13,715.18 540.74,715.53 541.35,715.68 C541.96,715.84 542.57,715.77 543.17,715.91 C543.78,716.05 544.41,716.25 545.00,716.50 C545.59,716.75 546.14,717.22 546.71,717.44 C547.28,717.66 547.85,717.59 548.42,717.84 C549.00,718.09 549.57,718.66 550.14,718.96 C550.71,719.26 551.28,719.46 551.85,719.66 C552.42,719.87 552.99,719.96 553.56,720.19 C554.13,720.42 554.70,720.75 555.28,721.03 C555.85,721.31 556.42,721.63 556.99,721.88 C557.56,722.12 558.15,722.29 558.70,722.50 C559.25,722.71 559.77,722.84 560.31,723.13 C560.84,723.42 561.38,723.88 561.92,724.23 C562.45,724.58 562.99,725.00 563.52,725.25 C564.06,725.50 564.59,725.44 565.13,725.72 C565.67,726.00 566.20,726.61 566.74,726.94 C567.27,727.27 567.81,727.42 568.35,727.71 C568.88,727.99 569.42,728.42 569.95,728.66 C570.49,728.91 571.03,728.96 571.56,729.15 C572.10,729.35 572.63,729.49 573.17,729.83 C573.71,730.17 574.24,730.81 574.78,731.17 C575.31,731.54 575.85,731.78 576.38,732.02 C576.92,732.26 577.46,732.37 577.99,732.62 C578.53,732.86 579.06,733.23 579.60,733.50 C580.14,733.77 580.68,733.92 581.22,734.22 C581.75,734.51 582.29,734.89 582.83,735.29 C583.37,735.68 583.91,736.25 584.45,736.59 C584.98,736.94 585.52,736.98 586.06,737.35 C586.60,737.72 587.14,738.45 587.68,738.82 C588.22,739.18 588.75,739.32 589.29,739.56 C589.83,739.81 590.37,739.95 590.91,740.29 C591.45,740.63 591.98,741.26 592.52,741.61 C593.06,741.96 593.60,742.04 594.14,742.40 C594.68,742.77 595.22,743.41 595.75,743.80 C596.29,744.20 596.83,744.50 597.37,744.79 C597.91,745.07 598.45,745.22 598.98,745.51 C599.52,745.80 600.06,746.16 600.60,746.50 C601.14,746.84 601.68,747.19 602.22,747.52 C602.75,747.86 603.29,748.16 603.83,748.48 C604.37,748.81 604.91,749.14 605.45,749.48 C605.98,749.82 606.52,750.31 607.06,750.53 C607.60,750.74 608.14,750.55 608.68,750.79 C609.22,751.02 609.75,751.57 610.29,751.94 C610.83,752.32 611.37,752.73 611.91,753.03 C612.45,753.33 612.98,753.44 613.52,753.75 C614.06,754.05 614.60,754.59 615.14,754.87 C615.68,755.15 616.22,755.10 616.75,755.44 C617.29,755.79 617.83,756.56 618.37,756.92 C618.91,757.28 619.45,757.33 619.98,757.59 C620.52,757.86 621.04,758.27 621.60,758.50 C622.16,758.73 622.76,758.71 623.33,758.98 C623.91,759.25 624.49,759.84 625.07,760.11 C625.64,760.39 626.22,760.42 626.80,760.62 C627.38,760.81 627.96,761.02 628.53,761.29 C629.11,761.56 629.69,761.95 630.27,762.24 C630.84,762.52 631.41,762.84 632.00,763.00 C632.59,763.16 633.20,763.09 633.80,763.21 C634.40,763.34 635.00,763.53 635.60,763.73 C636.20,763.93 636.72,764.40 637.40,764.40 C638.08,764.40 638.93,764.02 639.70,763.71 C640.47,763.39 641.33,763.14 642.00,762.50 C642.67,761.86 643.17,760.81 643.75,759.89 C644.33,758.97 644.86,758.95 645.50,757.00 C646.14,755.05 647.25,749.67 647.60,748.20" fill="none" stroke="#fba6a6" stroke-width="2.6" stroke-linejoin="round"/><rect x="510.5" y="708.0" width="143.3" height="106.7" fill="none" stroke="#111" stroke-width="1.1"/><path d="M510.5,785.0H653.8M510.5,795.3H653.8M510.5,804.9H653.8" stroke="#111" stroke-width="1.1"/><path d="M508.5,712.9H510.5M508.5,730.9H510.5M508.5,748.7H510.5M508.5,766.6H510.5M508.5,784.4H510.5M517.1,814.7v2M558.9,814.7v2M600.7,814.7v2M642.5,814.7v2" stroke="#333" stroke-width="0.8"/><text x="508.2" y="716.1" font-size="9.0" text-anchor="end" fill="#111" stroke="#111" stroke-width="0.18" >0.4</text><text x="508.2" y="734.1" font-size="9.0" text-anchor="end" fill="#111" stroke="#111" stroke-width="0.18" >0.2</text><text x="508.2" y="751.9" font-size="9.0" text-anchor="end" fill="#111" stroke="#111" stroke-width="0.18" >0.0</text><text x="508.2" y="769.8" font-size="9.0" text-anchor="end" fill="#111" stroke="#111" stroke-width="0.18" >-0.2</text><text x="508.2" y="787.6" font-size="9.0" text-anchor="end" fill="#111" stroke="#111" stroke-width="0.18" >-0.4</text><text x="517.1" y="823.3" font-size="7.7" text-anchor="middle" fill="#111" stroke="#111" stroke-width="0.18" >0</text><text x="558.9" y="823.3" font-size="7.7" text-anchor="middle" fill="#111" stroke="#111" stroke-width="0.18" >5000</text><text x="600.7" y="823.3" font-size="7.7" text-anchor="middle" fill="#111" stroke="#111" stroke-width="0.18" >10000</text><text x="642.5" y="823.3" font-size="7.7" text-anchor="middle" fill="#111" stroke="#111" stroke-width="0.18" >15000</text><text x="0.0" y="0.0" font-size="7.5" text-anchor="middle" fill="#111" stroke="#111" stroke-width="0.18" textLength="53.2" lengthAdjust="spacingAndGlyphs" transform="translate(491.6,611.3) rotate(-90)">Enrichment Score</text><text x="0.0" y="0.0" font-size="7.5" text-anchor="middle" fill="#111" stroke="#111" stroke-width="0.18" textLength="52.1" lengthAdjust="spacingAndGlyphs" transform="translate(491.6,745.6) rotate(-90)">Enrichment Score</text><text x="579.7" y="836.1" font-size="7.6" text-anchor="middle" fill="#111" stroke="#111" stroke-width="0.18" textLength="33.4" lengthAdjust="spacingAndGlyphs">Gene Rank</text><rect x="535.1" y="846.7" width="11.7" height="5.2" fill="#fba6a6"/><text x="549.1" y="852.0" font-size="7.2" font-weight="bold" fill="#fba6a6" stroke="#fba6a6" stroke-width="0.18" textLength="70.7" lengthAdjust="spacingAndGlyphs">JCAR017 mixing 10:90</text><rect x="535.1" y="856.6" width="11.7" height="5.2" fill="#a50f15"/><text x="549.1" y="861.9" font-size="7.2" font-weight="bold" fill="#a50f15" stroke="#a50f15" stroke-width="0.18" textLength="70.7" lengthAdjust="spacingAndGlyphs">JCAR017 mixing 50:50</text><rect x="535.1" y="866.9" width="11.7" height="5.2" fill="#1f78b4"/><text x="549.1" y="872.2" font-size="7.2" font-weight="bold" fill="#1f78b4" stroke="#1f78b4" stroke-width="0.18" textLength="47.7" lengthAdjust="spacingAndGlyphs">JCAR017 alone</text>
</svg>
</body></html>
